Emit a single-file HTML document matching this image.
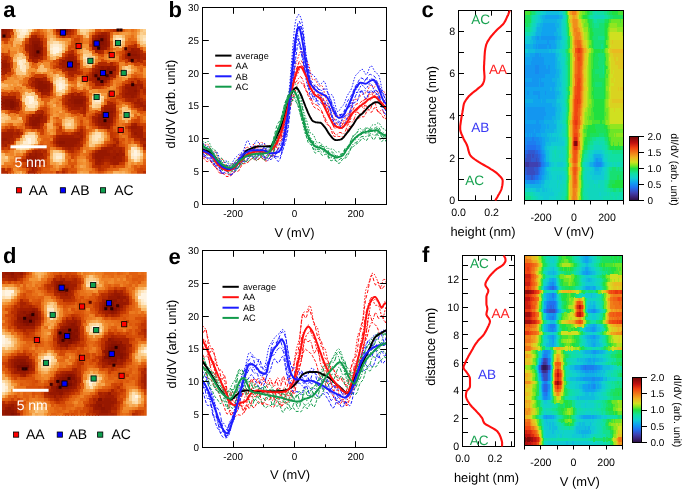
<!DOCTYPE html>
<html><head><meta charset="utf-8"><style>
html,body{margin:0;padding:0;background:#fff;width:685px;height:494px;overflow:hidden}
svg{display:block;will-change:transform;text-rendering:geometricPrecision;font-family:"Liberation Sans", sans-serif}
</style></head><body>
<svg width="685" height="494" viewBox="0 0 685 494">
<defs>
<linearGradient id="cmap" x1="0" y1="1" x2="0" y2="0"><stop offset="0.000" stop-color="#2a1040"/><stop offset="0.050" stop-color="#3a2070"/><stop offset="0.120" stop-color="#4040b0"/><stop offset="0.200" stop-color="#2070f0"/><stop offset="0.275" stop-color="#10a0f0"/><stop offset="0.350" stop-color="#10d0d0"/><stop offset="0.425" stop-color="#10e0a0"/><stop offset="0.500" stop-color="#20e040"/><stop offset="0.550" stop-color="#80e820"/><stop offset="0.600" stop-color="#d0e020"/><stop offset="0.675" stop-color="#f0b020"/><stop offset="0.750" stop-color="#f07818"/><stop offset="0.825" stop-color="#f04010"/><stop offset="0.900" stop-color="#c01010"/><stop offset="1.000" stop-color="#700808"/></linearGradient>
</defs>
<text x="3.20" y="16.50" font-size="22" text-anchor="start" fill="#000" font-weight="bold" >a</text>
<text x="168.40" y="16.50" font-size="22" text-anchor="start" fill="#000" font-weight="bold" >b</text>
<text x="421.50" y="16.50" font-size="22" text-anchor="start" fill="#000" font-weight="bold" >c</text>
<text x="3.00" y="263.10" font-size="22" text-anchor="start" fill="#000" font-weight="bold" >d</text>
<text x="168.60" y="264.20" font-size="22" text-anchor="start" fill="#000" font-weight="bold" >e</text>
<text x="422.00" y="262.00" font-size="22" text-anchor="start" fill="#000" font-weight="bold" >f</text>
<clipPath id="cpa"><rect x="1.2" y="29" width="144.8" height="144.7"/></clipPath>
<clipPath id="cpd"><rect x="1.8" y="271.6" width="144.9" height="144.1"/></clipPath>
<clipPath id="cpc"><rect x="524.5" y="10.5" width="99" height="190"/></clipPath>
<clipPath id="cpf"><rect x="524.5" y="255.5" width="98" height="190"/></clipPath>
<g clip-path="url(#cpa)"><path shape-rendering="crispEdges" fill="#8e1400" d="M1.2 29.0h3.4v3.4h-3.4zM61.5 29.0h6.4v3.4h-6.4zM97.7 35.0h6.4v3.4h-6.4zM94.7 38.0h3.4v3.4h-3.4zM103.8 38.0h3.4v3.4h-3.4zM31.4 41.1h9.5v3.4h-9.5zM94.7 41.1h3.4v3.4h-3.4zM103.8 41.1h3.4v3.4h-3.4zM31.4 44.1h3.4v3.4h-3.4zM37.4 44.1h3.4v3.4h-3.4zM94.7 44.1h3.4v3.4h-3.4zM100.8 44.1h6.4v3.4h-6.4zM31.4 47.1h3.4v3.4h-3.4zM40.4 47.1h3.4v3.4h-3.4zM97.7 47.1h6.4v3.4h-6.4zM31.4 50.1h3.4v3.4h-3.4zM31.4 53.1h3.4v3.4h-3.4zM37.4 53.1h3.4v3.4h-3.4zM130.9 53.1h6.4v3.4h-6.4zM67.6 59.1h3.4v3.4h-3.4zM100.8 65.2h3.4v3.4h-3.4zM106.8 65.2h3.4v3.4h-3.4zM97.7 68.2h9.5v3.4h-9.5zM109.8 68.2h6.4v3.4h-6.4zM94.7 71.2h9.5v3.4h-9.5zM106.8 71.2h6.4v3.4h-6.4zM94.7 74.2h15.5v3.4h-15.5zM97.7 77.2h9.5v3.4h-9.5zM37.4 80.2h6.4v3.4h-6.4zM100.8 80.2h3.4v3.4h-3.4zM37.4 83.3h9.5v3.4h-9.5zM37.4 86.3h9.5v3.4h-9.5zM40.4 89.3h3.4v3.4h-3.4zM133.9 89.3h3.4v3.4h-3.4zM4.2 98.3h9.5v3.4h-9.5zM73.6 98.3h9.5v3.4h-9.5zM1.2 101.3h9.5v3.4h-9.5zM13.3 101.3h3.4v3.4h-3.4zM73.6 101.3h9.5v3.4h-9.5zM4.2 104.4h6.4v3.4h-6.4zM13.3 104.4h3.4v3.4h-3.4zM10.2 107.4h3.4v3.4h-3.4zM103.8 110.4h9.5v3.4h-9.5zM100.8 113.4h9.5v3.4h-9.5zM34.4 116.4h6.4v3.4h-6.4zM97.7 116.4h12.5v3.4h-12.5zM31.4 119.4h9.5v3.4h-9.5zM97.7 119.4h12.5v3.4h-12.5zM31.4 122.5h6.4v3.4h-6.4zM100.8 122.5h6.4v3.4h-6.4zM58.5 140.5h6.4v3.4h-6.4z"/>
<path shape-rendering="crispEdges" fill="#971800" d="M4.2 29.0h3.4v3.4h-3.4zM58.5 29.0h3.4v3.4h-3.4zM1.2 32.0h6.4v3.4h-6.4zM61.5 32.0h3.4v3.4h-3.4zM103.8 35.0h3.4v3.4h-3.4zM31.4 38.0h9.5v3.4h-9.5zM91.7 41.1h3.4v3.4h-3.4zM28.4 44.1h3.4v3.4h-3.4zM40.4 44.1h3.4v3.4h-3.4zM28.4 47.1h3.4v3.4h-3.4zM94.7 47.1h3.4v3.4h-3.4zM103.8 47.1h3.4v3.4h-3.4zM130.9 47.1h3.4v3.4h-3.4zM28.4 50.1h3.4v3.4h-3.4zM40.4 50.1h3.4v3.4h-3.4zM127.9 50.1h9.5v3.4h-9.5zM28.4 53.1h3.4v3.4h-3.4zM40.4 53.1h3.4v3.4h-3.4zM127.9 53.1h3.4v3.4h-3.4zM137.0 53.1h3.4v3.4h-3.4zM31.4 56.1h9.5v3.4h-9.5zM67.6 56.1h6.4v3.4h-6.4zM127.9 56.1h12.5v3.4h-12.5zM61.5 59.1h3.4v3.4h-3.4zM70.6 59.1h6.4v3.4h-6.4zM1.2 62.2h6.4v3.4h-6.4zM67.6 62.2h9.5v3.4h-9.5zM1.2 65.2h6.4v3.4h-6.4zM67.6 65.2h9.5v3.4h-9.5zM97.7 65.2h3.4v3.4h-3.4zM103.8 65.2h3.4v3.4h-3.4zM109.8 65.2h6.4v3.4h-6.4zM67.6 68.2h6.4v3.4h-6.4zM94.7 68.2h3.4v3.4h-3.4zM91.7 71.2h3.4v3.4h-3.4zM91.7 74.2h3.4v3.4h-3.4zM109.8 74.2h3.4v3.4h-3.4zM34.4 77.2h6.4v3.4h-6.4zM94.7 77.2h3.4v3.4h-3.4zM106.8 77.2h3.4v3.4h-3.4zM34.4 80.2h3.4v3.4h-3.4zM43.4 80.2h3.4v3.4h-3.4zM94.7 80.2h6.4v3.4h-6.4zM103.8 80.2h3.4v3.4h-3.4zM34.4 83.3h3.4v3.4h-3.4zM46.5 83.3h3.4v3.4h-3.4zM100.8 83.3h3.4v3.4h-3.4zM130.9 83.3h6.4v3.4h-6.4zM34.4 86.3h3.4v3.4h-3.4zM46.5 86.3h3.4v3.4h-3.4zM124.9 86.3h12.5v3.4h-12.5zM37.4 89.3h3.4v3.4h-3.4zM43.4 89.3h6.4v3.4h-6.4zM127.9 89.3h6.4v3.4h-6.4zM124.9 92.3h12.5v3.4h-12.5zM70.6 95.3h12.5v3.4h-12.5zM130.9 95.3h3.4v3.4h-3.4zM1.2 98.3h3.4v3.4h-3.4zM13.3 98.3h3.4v3.4h-3.4zM67.6 98.3h6.4v3.4h-6.4zM82.7 98.3h3.4v3.4h-3.4zM16.3 101.3h3.4v3.4h-3.4zM70.6 101.3h3.4v3.4h-3.4zM1.2 104.4h3.4v3.4h-3.4zM16.3 104.4h3.4v3.4h-3.4zM73.6 104.4h9.5v3.4h-9.5zM4.2 107.4h6.4v3.4h-6.4zM13.3 107.4h3.4v3.4h-3.4zM103.8 107.4h9.5v3.4h-9.5zM31.4 113.4h3.4v3.4h-3.4zM37.4 113.4h6.4v3.4h-6.4zM97.7 113.4h3.4v3.4h-3.4zM109.8 113.4h3.4v3.4h-3.4zM28.4 116.4h6.4v3.4h-6.4zM40.4 116.4h3.4v3.4h-3.4zM109.8 116.4h3.4v3.4h-3.4zM28.4 119.4h3.4v3.4h-3.4zM109.8 119.4h3.4v3.4h-3.4zM28.4 122.5h3.4v3.4h-3.4zM37.4 122.5h3.4v3.4h-3.4zM97.7 122.5h3.4v3.4h-3.4zM106.8 122.5h3.4v3.4h-3.4zM106.8 125.5h3.4v3.4h-3.4zM130.9 125.5h6.4v3.4h-6.4zM133.9 131.5h3.4v3.4h-3.4zM1.2 137.5h6.4v3.4h-6.4zM58.5 137.5h21.5v3.4h-21.5zM55.5 140.5h3.4v3.4h-3.4zM64.6 140.5h12.5v3.4h-12.5zM58.5 143.6h15.5v3.4h-15.5zM97.7 149.6h9.5v3.4h-9.5zM28.4 152.6h3.4v3.4h-3.4zM34.4 152.6h3.4v3.4h-3.4zM94.7 152.6h15.5v3.4h-15.5zM115.8 152.6h3.4v3.4h-3.4zM28.4 155.6h9.5v3.4h-9.5zM94.7 155.6h9.5v3.4h-9.5zM112.8 155.6h3.4v3.4h-3.4zM34.4 158.6h3.4v3.4h-3.4zM97.7 158.6h3.4v3.4h-3.4z"/>
<path shape-rendering="crispEdges" fill="#a01c00" d="M7.2 29.0h3.4v3.4h-3.4zM55.5 29.0h3.4v3.4h-3.4zM67.6 29.0h3.4v3.4h-3.4zM58.5 32.0h3.4v3.4h-3.4zM64.6 32.0h3.4v3.4h-3.4zM100.8 32.0h6.4v3.4h-6.4zM1.2 35.0h6.4v3.4h-6.4zM34.4 35.0h3.4v3.4h-3.4zM94.7 35.0h3.4v3.4h-3.4zM28.4 38.0h3.4v3.4h-3.4zM91.7 38.0h3.4v3.4h-3.4zM28.4 41.1h3.4v3.4h-3.4zM40.4 41.1h3.4v3.4h-3.4zM106.8 41.1h3.4v3.4h-3.4zM91.7 44.1h3.4v3.4h-3.4zM106.8 44.1h3.4v3.4h-3.4zM91.7 47.1h3.4v3.4h-3.4zM133.9 47.1h6.4v3.4h-6.4zM94.7 50.1h3.4v3.4h-3.4zM137.0 50.1h3.4v3.4h-3.4zM67.6 53.1h6.4v3.4h-6.4zM124.9 53.1h3.4v3.4h-3.4zM28.4 56.1h3.4v3.4h-3.4zM64.6 56.1h3.4v3.4h-3.4zM124.9 56.1h3.4v3.4h-3.4zM1.2 59.1h6.4v3.4h-6.4zM31.4 59.1h3.4v3.4h-3.4zM64.6 59.1h3.4v3.4h-3.4zM127.9 59.1h3.4v3.4h-3.4zM137.0 59.1h3.4v3.4h-3.4zM7.2 62.2h3.4v3.4h-3.4zM58.5 62.2h9.5v3.4h-9.5zM76.6 62.2h3.4v3.4h-3.4zM7.2 65.2h3.4v3.4h-3.4zM61.5 65.2h6.4v3.4h-6.4zM1.2 68.2h6.4v3.4h-6.4zM64.6 68.2h3.4v3.4h-3.4zM73.6 68.2h3.4v3.4h-3.4zM4.2 71.2h3.4v3.4h-3.4zM40.4 77.2h3.4v3.4h-3.4zM91.7 77.2h3.4v3.4h-3.4zM31.4 80.2h3.4v3.4h-3.4zM46.5 80.2h3.4v3.4h-3.4zM130.9 80.2h3.4v3.4h-3.4zM94.7 83.3h6.4v3.4h-6.4zM124.9 83.3h6.4v3.4h-6.4zM137.0 83.3h6.4v3.4h-6.4zM140.0 86.3h3.4v3.4h-3.4zM124.9 89.3h3.4v3.4h-3.4zM137.0 89.3h3.4v3.4h-3.4zM40.4 92.3h6.4v3.4h-6.4zM70.6 92.3h3.4v3.4h-3.4zM76.6 92.3h3.4v3.4h-3.4zM1.2 95.3h15.5v3.4h-15.5zM82.7 95.3h3.4v3.4h-3.4zM124.9 95.3h6.4v3.4h-6.4zM133.9 95.3h3.4v3.4h-3.4zM137.0 98.3h3.4v3.4h-3.4zM67.6 101.3h3.4v3.4h-3.4zM82.7 101.3h3.4v3.4h-3.4zM133.9 101.3h9.5v3.4h-9.5zM67.6 104.4h6.4v3.4h-6.4zM82.7 104.4h3.4v3.4h-3.4zM103.8 104.4h9.5v3.4h-9.5zM140.0 104.4h6.4v3.4h-6.4zM1.2 107.4h3.4v3.4h-3.4zM70.6 107.4h9.5v3.4h-9.5zM82.7 107.4h3.4v3.4h-3.4zM112.8 107.4h3.4v3.4h-3.4zM100.8 110.4h3.4v3.4h-3.4zM112.8 110.4h3.4v3.4h-3.4zM34.4 113.4h3.4v3.4h-3.4zM94.7 116.4h3.4v3.4h-3.4zM40.4 119.4h3.4v3.4h-3.4zM94.7 119.4h3.4v3.4h-3.4zM133.9 122.5h3.4v3.4h-3.4zM31.4 125.5h9.5v3.4h-9.5zM103.8 125.5h3.4v3.4h-3.4zM137.0 125.5h3.4v3.4h-3.4zM130.9 128.5h12.5v3.4h-12.5zM1.2 131.5h12.5v3.4h-12.5zM16.3 131.5h3.4v3.4h-3.4zM76.6 131.5h3.4v3.4h-3.4zM137.0 131.5h6.4v3.4h-6.4zM1.2 134.5h12.5v3.4h-12.5zM58.5 134.5h15.5v3.4h-15.5zM79.6 134.5h3.4v3.4h-3.4zM137.0 134.5h6.4v3.4h-6.4zM7.2 137.5h3.4v3.4h-3.4zM55.5 137.5h3.4v3.4h-3.4zM143.0 137.5h3.4v3.4h-3.4zM1.2 140.5h3.4v3.4h-3.4zM7.2 140.5h3.4v3.4h-3.4zM76.6 140.5h3.4v3.4h-3.4zM4.2 143.6h3.4v3.4h-3.4zM73.6 143.6h3.4v3.4h-3.4zM112.8 143.6h3.4v3.4h-3.4zM143.0 143.6h3.4v3.4h-3.4zM67.6 146.6h3.4v3.4h-3.4zM103.8 146.6h9.5v3.4h-9.5zM34.4 149.6h3.4v3.4h-3.4zM106.8 149.6h3.4v3.4h-3.4zM112.8 149.6h3.4v3.4h-3.4zM118.9 149.6h3.4v3.4h-3.4zM31.4 152.6h3.4v3.4h-3.4zM37.4 152.6h6.4v3.4h-6.4zM109.8 152.6h6.4v3.4h-6.4zM118.9 152.6h6.4v3.4h-6.4zM25.3 155.6h3.4v3.4h-3.4zM37.4 155.6h3.4v3.4h-3.4zM103.8 155.6h9.5v3.4h-9.5zM115.8 155.6h6.4v3.4h-6.4zM25.3 158.6h9.5v3.4h-9.5zM37.4 158.6h3.4v3.4h-3.4zM94.7 158.6h3.4v3.4h-3.4zM100.8 158.6h3.4v3.4h-3.4zM109.8 158.6h12.5v3.4h-12.5zM31.4 161.6h6.4v3.4h-6.4zM94.7 161.6h6.4v3.4h-6.4zM112.8 161.6h6.4v3.4h-6.4zM31.4 164.7h6.4v3.4h-6.4zM31.4 167.7h3.4v3.4h-3.4z"/>
<path shape-rendering="crispEdges" fill="#b82e00" d="M10.2 29.0h3.4v3.4h-3.4zM70.6 29.0h3.4v3.4h-3.4zM112.8 29.0h3.4v3.4h-3.4zM61.5 35.0h3.4v3.4h-3.4zM40.4 38.0h3.4v3.4h-3.4zM130.9 44.1h3.4v3.4h-3.4zM106.8 47.1h3.4v3.4h-3.4zM25.3 50.1h3.4v3.4h-3.4zM67.6 50.1h3.4v3.4h-3.4zM64.6 53.1h3.4v3.4h-3.4zM1.2 56.1h3.4v3.4h-3.4zM61.5 56.1h3.4v3.4h-3.4zM7.2 59.1h3.4v3.4h-3.4zM106.8 62.2h3.4v3.4h-3.4zM55.5 65.2h3.4v3.4h-3.4zM88.7 71.2h3.4v3.4h-3.4zM67.6 74.2h3.4v3.4h-3.4zM28.4 77.2h3.4v3.4h-3.4zM109.8 77.2h3.4v3.4h-3.4zM133.9 77.2h3.4v3.4h-3.4zM106.8 80.2h3.4v3.4h-3.4zM140.0 80.2h3.4v3.4h-3.4zM28.4 83.3h3.4v3.4h-3.4zM7.2 92.3h3.4v3.4h-3.4zM67.6 92.3h3.4v3.4h-3.4zM118.9 92.3h3.4v3.4h-3.4zM143.0 92.3h3.4v3.4h-3.4zM40.4 95.3h3.4v3.4h-3.4zM130.9 101.3h3.4v3.4h-3.4zM19.3 104.4h3.4v3.4h-3.4zM13.3 110.4h3.4v3.4h-3.4zM34.4 110.4h3.4v3.4h-3.4zM76.6 110.4h3.4v3.4h-3.4zM28.4 113.4h3.4v3.4h-3.4zM43.4 113.4h3.4v3.4h-3.4zM112.8 116.4h3.4v3.4h-3.4zM25.3 119.4h3.4v3.4h-3.4zM28.4 125.5h3.4v3.4h-3.4zM40.4 125.5h3.4v3.4h-3.4zM61.5 131.5h3.4v3.4h-3.4zM70.6 131.5h3.4v3.4h-3.4zM143.0 131.5h3.4v3.4h-3.4zM143.0 134.5h3.4v3.4h-3.4zM13.3 137.5h3.4v3.4h-3.4zM52.5 137.5h3.4v3.4h-3.4zM115.8 137.5h3.4v3.4h-3.4zM133.9 137.5h6.4v3.4h-6.4zM79.6 140.5h3.4v3.4h-3.4zM106.8 143.6h3.4v3.4h-3.4zM115.8 143.6h3.4v3.4h-3.4zM37.4 146.6h3.4v3.4h-3.4zM61.5 146.6h3.4v3.4h-3.4zM73.6 146.6h3.4v3.4h-3.4zM121.9 146.6h3.4v3.4h-3.4zM143.0 146.6h3.4v3.4h-3.4zM40.4 149.6h3.4v3.4h-3.4zM67.6 149.6h3.4v3.4h-3.4zM25.3 152.6h3.4v3.4h-3.4zM43.4 152.6h3.4v3.4h-3.4zM43.4 155.6h3.4v3.4h-3.4zM40.4 158.6h3.4v3.4h-3.4zM25.3 161.6h3.4v3.4h-3.4zM106.8 161.6h3.4v3.4h-3.4zM94.7 164.7h3.4v3.4h-3.4zM28.4 167.7h3.4v3.4h-3.4zM97.7 167.7h3.4v3.4h-3.4zM34.4 170.7h3.4v3.4h-3.4zM55.5 170.7h3.4v3.4h-3.4zM143.0 170.7h3.4v3.4h-3.4z"/>
<path shape-rendering="crispEdges" fill="#f6a64e" d="M13.3 29.0h3.4v3.4h-3.4zM31.4 29.0h3.4v3.4h-3.4zM76.6 29.0h3.4v3.4h-3.4zM91.7 29.0h3.4v3.4h-3.4zM28.4 32.0h3.4v3.4h-3.4zM49.5 32.0h3.4v3.4h-3.4zM46.5 35.0h3.4v3.4h-3.4zM82.7 35.0h3.4v3.4h-3.4zM22.3 38.0h3.4v3.4h-3.4zM46.5 38.0h3.4v3.4h-3.4zM137.0 41.1h3.4v3.4h-3.4zM64.6 44.1h3.4v3.4h-3.4zM121.9 44.1h3.4v3.4h-3.4zM140.0 44.1h3.4v3.4h-3.4zM16.3 50.1h3.4v3.4h-3.4zM79.6 50.1h3.4v3.4h-3.4zM88.7 50.1h3.4v3.4h-3.4zM13.3 53.1h3.4v3.4h-3.4zM22.3 53.1h3.4v3.4h-3.4zM46.5 53.1h3.4v3.4h-3.4zM40.4 62.2h3.4v3.4h-3.4zM37.4 65.2h3.4v3.4h-3.4zM25.3 71.2h3.4v3.4h-3.4zM40.4 71.2h3.4v3.4h-3.4zM49.5 71.2h3.4v3.4h-3.4zM58.5 74.2h3.4v3.4h-3.4zM118.9 74.2h3.4v3.4h-3.4zM64.6 77.2h3.4v3.4h-3.4zM76.6 80.2h3.4v3.4h-3.4zM16.3 83.3h3.4v3.4h-3.4zM67.6 83.3h3.4v3.4h-3.4zM1.2 86.3h3.4v3.4h-3.4zM61.5 92.3h3.4v3.4h-3.4zM37.4 104.4h3.4v3.4h-3.4zM88.7 104.4h3.4v3.4h-3.4zM124.9 104.4h3.4v3.4h-3.4zM91.7 107.4h6.4v3.4h-6.4zM118.9 107.4h3.4v3.4h-3.4zM127.9 107.4h3.4v3.4h-3.4zM58.5 110.4h3.4v3.4h-3.4zM118.9 113.4h3.4v3.4h-3.4zM16.3 116.4h3.4v3.4h-3.4zM70.6 116.4h3.4v3.4h-3.4zM7.2 119.4h12.5v3.4h-12.5zM49.5 119.4h3.4v3.4h-3.4zM46.5 125.5h3.4v3.4h-3.4zM34.4 131.5h3.4v3.4h-3.4zM103.8 134.5h3.4v3.4h-3.4zM130.9 143.6h3.4v3.4h-3.4zM28.4 146.6h3.4v3.4h-3.4zM13.3 149.6h3.4v3.4h-3.4zM49.5 149.6h3.4v3.4h-3.4zM49.5 158.6h3.4v3.4h-3.4zM140.0 158.6h3.4v3.4h-3.4zM79.6 164.7h3.4v3.4h-3.4zM79.6 170.7h3.4v3.4h-3.4zM118.9 170.7h3.4v3.4h-3.4z"/>
<path shape-rendering="crispEdges" fill="#fddfaf" d="M16.3 29.0h3.4v3.4h-3.4zM25.3 32.0h3.4v3.4h-3.4zM16.3 35.0h3.4v3.4h-3.4zM22.3 35.0h3.4v3.4h-3.4zM143.0 35.0h3.4v3.4h-3.4zM52.5 41.1h6.4v3.4h-6.4zM118.9 41.1h3.4v3.4h-3.4zM58.5 50.1h3.4v3.4h-3.4zM52.5 53.1h3.4v3.4h-3.4zM82.7 56.1h3.4v3.4h-3.4zM88.7 56.1h3.4v3.4h-3.4zM16.3 59.1h3.4v3.4h-3.4zM16.3 62.2h3.4v3.4h-3.4zM22.3 62.2h3.4v3.4h-3.4zM19.3 68.2h3.4v3.4h-3.4zM124.9 68.2h3.4v3.4h-3.4zM64.6 83.3h3.4v3.4h-3.4zM55.5 89.3h6.4v3.4h-6.4zM91.7 95.3h3.4v3.4h-3.4zM91.7 98.3h3.4v3.4h-3.4zM91.7 101.3h9.5v3.4h-9.5zM67.6 122.5h3.4v3.4h-3.4zM94.7 131.5h6.4v3.4h-6.4zM91.7 134.5h3.4v3.4h-3.4zM91.7 137.5h3.4v3.4h-3.4zM19.3 143.6h3.4v3.4h-3.4zM28.4 143.6h3.4v3.4h-3.4zM19.3 146.6h3.4v3.4h-3.4zM133.9 146.6h3.4v3.4h-3.4zM52.5 152.6h3.4v3.4h-3.4zM52.5 155.6h3.4v3.4h-3.4zM137.0 155.6h3.4v3.4h-3.4zM55.5 158.6h3.4v3.4h-3.4zM133.9 158.6h3.4v3.4h-3.4z"/>
<path shape-rendering="crispEdges" fill="#feedd1" d="M19.3 29.0h3.4v3.4h-3.4zM25.3 29.0h3.4v3.4h-3.4zM19.3 32.0h6.4v3.4h-6.4zM118.9 38.0h3.4v3.4h-3.4zM52.5 44.1h6.4v3.4h-6.4zM49.5 47.1h3.4v3.4h-3.4zM58.5 47.1h3.4v3.4h-3.4zM85.7 56.1h3.4v3.4h-3.4zM19.3 59.1h3.4v3.4h-3.4zM19.3 62.2h3.4v3.4h-3.4zM19.3 65.2h3.4v3.4h-3.4zM58.5 80.2h3.4v3.4h-3.4zM55.5 83.3h3.4v3.4h-3.4zM61.5 83.3h3.4v3.4h-3.4zM61.5 86.3h3.4v3.4h-3.4zM25.3 95.3h3.4v3.4h-3.4zM31.4 95.3h3.4v3.4h-3.4zM94.7 98.3h6.4v3.4h-6.4zM31.4 101.3h3.4v3.4h-3.4zM25.3 137.5h3.4v3.4h-3.4zM22.3 140.5h6.4v3.4h-6.4zM130.9 152.6h3.4v3.4h-3.4zM137.0 152.6h3.4v3.4h-3.4zM55.5 155.6h6.4v3.4h-6.4zM133.9 155.6h3.4v3.4h-3.4z"/>
<path shape-rendering="crispEdges" fill="#fff4e2" d="M22.3 29.0h3.4v3.4h-3.4zM52.5 47.1h6.4v3.4h-6.4zM52.5 50.1h6.4v3.4h-6.4zM58.5 83.3h3.4v3.4h-3.4zM58.5 86.3h3.4v3.4h-3.4zM28.4 95.3h3.4v3.4h-3.4zM28.4 98.3h6.4v3.4h-6.4zM28.4 101.3h3.4v3.4h-3.4zM28.4 137.5h3.4v3.4h-3.4zM28.4 140.5h3.4v3.4h-3.4zM133.9 149.6h3.4v3.4h-3.4zM133.9 152.6h3.4v3.4h-3.4z"/>
<path shape-rendering="crispEdges" fill="#fcd89e" d="M28.4 29.0h3.4v3.4h-3.4zM79.6 29.0h6.4v3.4h-6.4zM16.3 32.0h3.4v3.4h-3.4zM115.8 35.0h3.4v3.4h-3.4zM140.0 35.0h3.4v3.4h-3.4zM112.8 38.0h3.4v3.4h-3.4zM140.0 38.0h3.4v3.4h-3.4zM143.0 41.1h3.4v3.4h-3.4zM55.5 53.1h3.4v3.4h-3.4zM82.7 53.1h3.4v3.4h-3.4zM16.3 56.1h6.4v3.4h-6.4zM85.7 62.2h3.4v3.4h-3.4zM127.9 68.2h3.4v3.4h-3.4zM121.9 71.2h6.4v3.4h-6.4zM55.5 77.2h3.4v3.4h-3.4zM61.5 89.3h3.4v3.4h-3.4zM28.4 92.3h3.4v3.4h-3.4zM100.8 95.3h3.4v3.4h-3.4zM34.4 98.3h3.4v3.4h-3.4zM25.3 104.4h3.4v3.4h-3.4zM91.7 104.4h3.4v3.4h-3.4zM124.9 110.4h3.4v3.4h-3.4zM124.9 113.4h3.4v3.4h-3.4zM64.6 122.5h3.4v3.4h-3.4zM22.3 137.5h3.4v3.4h-3.4zM34.4 137.5h3.4v3.4h-3.4zM97.7 137.5h3.4v3.4h-3.4zM91.7 140.5h6.4v3.4h-6.4zM22.3 146.6h3.4v3.4h-3.4zM140.0 152.6h3.4v3.4h-3.4zM52.5 158.6h3.4v3.4h-3.4zM58.5 158.6h3.4v3.4h-3.4z"/>
<path shape-rendering="crispEdges" fill="#eb791f" d="M34.4 29.0h3.4v3.4h-3.4zM124.9 29.0h3.4v3.4h-3.4zM43.4 32.0h3.4v3.4h-3.4zM133.9 38.0h3.4v3.4h-3.4zM7.2 41.1h3.4v3.4h-3.4zM82.7 41.1h6.4v3.4h-6.4zM10.2 44.1h3.4v3.4h-3.4zM1.2 47.1h3.4v3.4h-3.4zM7.2 47.1h3.4v3.4h-3.4zM1.2 50.1h3.4v3.4h-3.4zM103.8 53.1h3.4v3.4h-3.4zM49.5 59.1h3.4v3.4h-3.4zM97.7 59.1h3.4v3.4h-3.4zM109.8 59.1h3.4v3.4h-3.4zM115.8 59.1h3.4v3.4h-3.4zM52.5 68.2h3.4v3.4h-3.4zM137.0 68.2h3.4v3.4h-3.4zM13.3 71.2h3.4v3.4h-3.4zM137.0 71.2h6.4v3.4h-6.4zM10.2 74.2h3.4v3.4h-3.4zM115.8 77.2h3.4v3.4h-3.4zM1.2 80.2h3.4v3.4h-3.4zM67.6 80.2h3.4v3.4h-3.4zM115.8 80.2h6.4v3.4h-6.4zM73.6 83.3h3.4v3.4h-3.4zM85.7 83.3h3.4v3.4h-3.4zM82.7 86.3h3.4v3.4h-3.4zM1.2 89.3h3.4v3.4h-3.4zM52.5 92.3h3.4v3.4h-3.4zM118.9 104.4h3.4v3.4h-3.4zM22.3 110.4h3.4v3.4h-3.4zM7.2 113.4h3.4v3.4h-3.4zM49.5 113.4h3.4v3.4h-3.4zM130.9 116.4h3.4v3.4h-3.4zM85.7 119.4h3.4v3.4h-3.4zM127.9 119.4h3.4v3.4h-3.4zM19.3 122.5h3.4v3.4h-3.4zM118.9 122.5h3.4v3.4h-3.4zM121.9 125.5h3.4v3.4h-3.4zM25.3 128.5h6.4v3.4h-6.4zM67.6 128.5h3.4v3.4h-3.4zM37.4 131.5h3.4v3.4h-3.4zM118.9 131.5h3.4v3.4h-3.4zM37.4 134.5h3.4v3.4h-3.4zM85.7 134.5h3.4v3.4h-3.4zM106.8 134.5h3.4v3.4h-3.4zM121.9 134.5h3.4v3.4h-3.4zM49.5 137.5h3.4v3.4h-3.4zM106.8 137.5h3.4v3.4h-3.4zM130.9 140.5h3.4v3.4h-3.4zM13.3 143.6h3.4v3.4h-3.4zM13.3 146.6h3.4v3.4h-3.4zM52.5 146.6h3.4v3.4h-3.4zM82.7 146.6h6.4v3.4h-6.4zM79.6 152.6h3.4v3.4h-3.4zM13.3 155.6h3.4v3.4h-3.4zM64.6 155.6h3.4v3.4h-3.4zM76.6 155.6h3.4v3.4h-3.4zM13.3 158.6h3.4v3.4h-3.4zM70.6 158.6h3.4v3.4h-3.4zM85.7 158.6h3.4v3.4h-3.4zM10.2 161.6h3.4v3.4h-3.4zM124.9 161.6h3.4v3.4h-3.4zM4.2 164.7h3.4v3.4h-3.4zM13.3 164.7h6.4v3.4h-6.4zM61.5 164.7h3.4v3.4h-3.4zM16.3 167.7h3.4v3.4h-3.4zM49.5 167.7h6.4v3.4h-6.4zM130.9 167.7h3.4v3.4h-3.4z"/>
<path shape-rendering="crispEdges" fill="#dc580c" d="M37.4 29.0h3.4v3.4h-3.4zM52.5 29.0h3.4v3.4h-3.4zM94.7 29.0h3.4v3.4h-3.4zM28.4 35.0h3.4v3.4h-3.4zM88.7 38.0h3.4v3.4h-3.4zM67.6 44.1h3.4v3.4h-3.4zM73.6 44.1h3.4v3.4h-3.4zM124.9 44.1h3.4v3.4h-3.4zM22.3 47.1h3.4v3.4h-3.4zM70.6 47.1h3.4v3.4h-3.4zM109.8 47.1h3.4v3.4h-3.4zM140.0 47.1h3.4v3.4h-3.4zM103.8 50.1h3.4v3.4h-3.4zM76.6 53.1h3.4v3.4h-3.4zM118.9 53.1h3.4v3.4h-3.4zM10.2 56.1h3.4v3.4h-3.4zM58.5 56.1h3.4v3.4h-3.4zM40.4 59.1h3.4v3.4h-3.4zM121.9 59.1h3.4v3.4h-3.4zM52.5 62.2h3.4v3.4h-3.4zM94.7 62.2h3.4v3.4h-3.4zM58.5 68.2h3.4v3.4h-3.4zM61.5 71.2h3.4v3.4h-3.4zM31.4 74.2h3.4v3.4h-3.4zM76.6 74.2h3.4v3.4h-3.4zM82.7 74.2h3.4v3.4h-3.4zM73.6 77.2h3.4v3.4h-3.4zM112.8 77.2h3.4v3.4h-3.4zM143.0 77.2h3.4v3.4h-3.4zM109.8 80.2h3.4v3.4h-3.4zM121.9 80.2h3.4v3.4h-3.4zM70.6 86.3h3.4v3.4h-3.4zM115.8 86.3h3.4v3.4h-3.4zM10.2 89.3h3.4v3.4h-3.4zM76.6 89.3h9.5v3.4h-9.5zM19.3 95.3h3.4v3.4h-3.4zM37.4 95.3h3.4v3.4h-3.4zM40.4 98.3h3.4v3.4h-3.4zM43.4 104.4h3.4v3.4h-3.4zM100.8 104.4h3.4v3.4h-3.4zM46.5 107.4h3.4v3.4h-3.4zM133.9 107.4h3.4v3.4h-3.4zM137.0 110.4h3.4v3.4h-3.4zM143.0 110.4h3.4v3.4h-3.4zM73.6 113.4h3.4v3.4h-3.4zM88.7 113.4h3.4v3.4h-3.4zM55.5 116.4h3.4v3.4h-3.4zM22.3 119.4h3.4v3.4h-3.4zM58.5 122.5h3.4v3.4h-3.4zM124.9 122.5h3.4v3.4h-3.4zM7.2 125.5h3.4v3.4h-3.4zM43.4 125.5h3.4v3.4h-3.4zM61.5 128.5h3.4v3.4h-3.4zM85.7 128.5h3.4v3.4h-3.4zM118.9 128.5h3.4v3.4h-3.4zM124.9 128.5h3.4v3.4h-3.4zM19.3 134.5h3.4v3.4h-3.4zM118.9 137.5h3.4v3.4h-3.4zM127.9 137.5h3.4v3.4h-3.4zM37.4 143.6h3.4v3.4h-3.4zM49.5 143.6h3.4v3.4h-3.4zM46.5 146.6h3.4v3.4h-3.4zM55.5 146.6h3.4v3.4h-3.4zM79.6 146.6h3.4v3.4h-3.4zM25.3 149.6h3.4v3.4h-3.4zM22.3 152.6h3.4v3.4h-3.4zM67.6 152.6h3.4v3.4h-3.4zM76.6 152.6h3.4v3.4h-3.4zM19.3 155.6h3.4v3.4h-3.4zM73.6 155.6h3.4v3.4h-3.4zM85.7 155.6h3.4v3.4h-3.4zM67.6 158.6h3.4v3.4h-3.4zM67.6 161.6h9.5v3.4h-9.5zM46.5 164.7h3.4v3.4h-3.4zM133.9 164.7h3.4v3.4h-3.4zM10.2 167.7h3.4v3.4h-3.4zM70.6 167.7h6.4v3.4h-6.4zM106.8 167.7h3.4v3.4h-3.4zM133.9 167.7h3.4v3.4h-3.4zM40.4 170.7h6.4v3.4h-6.4zM49.5 170.7h3.4v3.4h-3.4zM67.6 170.7h3.4v3.4h-3.4z"/>
<path shape-rendering="crispEdges" fill="#e87018" d="M40.4 29.0h3.4v3.4h-3.4zM130.9 29.0h3.4v3.4h-3.4zM43.4 35.0h3.4v3.4h-3.4zM130.9 35.0h3.4v3.4h-3.4zM130.9 38.0h3.4v3.4h-3.4zM1.2 41.1h3.4v3.4h-3.4zM10.2 41.1h3.4v3.4h-3.4zM19.3 44.1h3.4v3.4h-3.4zM76.6 47.1h3.4v3.4h-3.4zM112.8 47.1h3.4v3.4h-3.4zM94.7 53.1h3.4v3.4h-3.4zM115.8 53.1h3.4v3.4h-3.4zM100.8 56.1h3.4v3.4h-3.4zM43.4 59.1h6.4v3.4h-6.4zM79.6 59.1h3.4v3.4h-3.4zM112.8 59.1h3.4v3.4h-3.4zM79.6 62.2h3.4v3.4h-3.4zM127.9 62.2h3.4v3.4h-3.4zM143.0 65.2h3.4v3.4h-3.4zM52.5 71.2h3.4v3.4h-3.4zM28.4 74.2h3.4v3.4h-3.4zM22.3 77.2h3.4v3.4h-3.4zM22.3 80.2h3.4v3.4h-3.4zM85.7 80.2h3.4v3.4h-3.4zM115.8 83.3h3.4v3.4h-3.4zM13.3 86.3h3.4v3.4h-3.4zM19.3 86.3h3.4v3.4h-3.4zM25.3 86.3h3.4v3.4h-3.4zM73.6 86.3h3.4v3.4h-3.4zM4.2 89.3h6.4v3.4h-6.4zM13.3 89.3h3.4v3.4h-3.4zM67.6 89.3h3.4v3.4h-3.4zM19.3 92.3h3.4v3.4h-3.4zM34.4 92.3h3.4v3.4h-3.4zM64.6 92.3h3.4v3.4h-3.4zM88.7 92.3h3.4v3.4h-3.4zM52.5 95.3h3.4v3.4h-3.4zM19.3 98.3h3.4v3.4h-3.4zM55.5 101.3h3.4v3.4h-3.4zM88.7 101.3h3.4v3.4h-3.4zM40.4 104.4h3.4v3.4h-3.4zM46.5 104.4h3.4v3.4h-3.4zM115.8 104.4h3.4v3.4h-3.4zM127.9 104.4h3.4v3.4h-3.4zM37.4 107.4h3.4v3.4h-3.4zM28.4 110.4h6.4v3.4h-6.4zM91.7 110.4h3.4v3.4h-3.4zM13.3 113.4h3.4v3.4h-3.4zM140.0 113.4h3.4v3.4h-3.4zM52.5 116.4h3.4v3.4h-3.4zM82.7 116.4h3.4v3.4h-3.4zM133.9 116.4h3.4v3.4h-3.4zM46.5 119.4h3.4v3.4h-3.4zM76.6 119.4h3.4v3.4h-3.4zM82.7 119.4h3.4v3.4h-3.4zM143.0 119.4h3.4v3.4h-3.4zM43.4 122.5h3.4v3.4h-3.4zM76.6 122.5h3.4v3.4h-3.4zM85.7 122.5h3.4v3.4h-3.4zM16.3 125.5h3.4v3.4h-3.4zM22.3 125.5h3.4v3.4h-3.4zM118.9 125.5h3.4v3.4h-3.4zM34.4 128.5h3.4v3.4h-3.4zM121.9 128.5h3.4v3.4h-3.4zM22.3 131.5h3.4v3.4h-3.4zM46.5 134.5h3.4v3.4h-3.4zM124.9 134.5h3.4v3.4h-3.4zM40.4 137.5h3.4v3.4h-3.4zM85.7 137.5h3.4v3.4h-3.4zM124.9 137.5h3.4v3.4h-3.4zM124.9 140.5h3.4v3.4h-3.4zM137.0 143.6h3.4v3.4h-3.4zM31.4 146.6h3.4v3.4h-3.4zM1.2 149.6h3.4v3.4h-3.4zM7.2 149.6h3.4v3.4h-3.4zM85.7 149.6h3.4v3.4h-3.4zM124.9 149.6h3.4v3.4h-3.4zM82.7 152.6h3.4v3.4h-3.4zM124.9 152.6h3.4v3.4h-3.4zM67.6 155.6h3.4v3.4h-3.4zM1.2 164.7h3.4v3.4h-3.4zM10.2 164.7h3.4v3.4h-3.4zM73.6 164.7h3.4v3.4h-3.4zM130.9 164.7h3.4v3.4h-3.4zM19.3 167.7h3.4v3.4h-3.4zM91.7 170.7h3.4v3.4h-3.4z"/>
<path shape-rendering="crispEdges" fill="#f08b2d" d="M43.4 29.0h3.4v3.4h-3.4zM112.8 32.0h3.4v3.4h-3.4zM133.9 32.0h3.4v3.4h-3.4zM124.9 35.0h3.4v3.4h-3.4zM133.9 35.0h3.4v3.4h-3.4zM61.5 38.0h6.4v3.4h-6.4zM124.9 38.0h3.4v3.4h-3.4zM1.2 44.1h3.4v3.4h-3.4zM7.2 44.1h3.4v3.4h-3.4zM85.7 47.1h3.4v3.4h-3.4zM19.3 50.1h3.4v3.4h-3.4zM76.6 50.1h3.4v3.4h-3.4zM112.8 50.1h3.4v3.4h-3.4zM79.6 53.1h3.4v3.4h-3.4zM91.7 53.1h3.4v3.4h-3.4zM106.8 53.1h3.4v3.4h-3.4zM112.8 53.1h3.4v3.4h-3.4zM43.4 62.2h6.4v3.4h-6.4zM43.4 65.2h6.4v3.4h-6.4zM82.7 65.2h3.4v3.4h-3.4zM34.4 68.2h3.4v3.4h-3.4zM49.5 68.2h3.4v3.4h-3.4zM28.4 71.2h3.4v3.4h-3.4zM34.4 71.2h6.4v3.4h-6.4zM43.4 71.2h3.4v3.4h-3.4zM58.5 71.2h3.4v3.4h-3.4zM61.5 74.2h3.4v3.4h-3.4zM143.0 74.2h3.4v3.4h-3.4zM13.3 77.2h6.4v3.4h-6.4zM76.6 77.2h3.4v3.4h-3.4zM124.9 77.2h3.4v3.4h-3.4zM70.6 83.3h3.4v3.4h-3.4zM112.8 83.3h3.4v3.4h-3.4zM76.6 86.3h3.4v3.4h-3.4zM112.8 86.3h3.4v3.4h-3.4zM22.3 89.3h3.4v3.4h-3.4zM55.5 95.3h3.4v3.4h-3.4zM49.5 98.3h3.4v3.4h-3.4zM88.7 98.3h3.4v3.4h-3.4zM46.5 101.3h3.4v3.4h-3.4zM52.5 101.3h3.4v3.4h-3.4zM22.3 104.4h3.4v3.4h-3.4zM16.3 113.4h3.4v3.4h-3.4zM137.0 113.4h3.4v3.4h-3.4zM10.2 116.4h6.4v3.4h-6.4zM58.5 116.4h6.4v3.4h-6.4zM73.6 119.4h3.4v3.4h-3.4zM121.9 119.4h3.4v3.4h-3.4zM52.5 125.5h3.4v3.4h-3.4zM61.5 125.5h3.4v3.4h-3.4zM97.7 128.5h3.4v3.4h-3.4zM52.5 131.5h3.4v3.4h-3.4zM37.4 140.5h3.4v3.4h-3.4zM85.7 140.5h3.4v3.4h-3.4zM85.7 143.6h3.4v3.4h-3.4zM97.7 143.6h3.4v3.4h-3.4zM88.7 146.6h6.4v3.4h-6.4zM140.0 146.6h3.4v3.4h-3.4zM4.2 152.6h6.4v3.4h-6.4zM19.3 152.6h3.4v3.4h-3.4zM64.6 158.6h3.4v3.4h-3.4zM76.6 158.6h3.4v3.4h-3.4zM79.6 161.6h3.4v3.4h-3.4zM130.9 161.6h3.4v3.4h-3.4zM140.0 161.6h3.4v3.4h-3.4zM52.5 164.7h3.4v3.4h-3.4zM76.6 164.7h3.4v3.4h-3.4zM13.3 167.7h3.4v3.4h-3.4zM55.5 167.7h3.4v3.4h-3.4zM79.6 167.7h3.4v3.4h-3.4zM85.7 167.7h3.4v3.4h-3.4zM118.9 167.7h3.4v3.4h-3.4zM13.3 170.7h3.4v3.4h-3.4zM127.9 170.7h3.4v3.4h-3.4z"/>
<path shape-rendering="crispEdges" fill="#f7af5b" d="M46.5 29.0h3.4v3.4h-3.4zM13.3 32.0h3.4v3.4h-3.4zM137.0 32.0h3.4v3.4h-3.4zM49.5 35.0h3.4v3.4h-3.4zM13.3 38.0h3.4v3.4h-3.4zM13.3 41.1h9.5v3.4h-9.5zM13.3 44.1h3.4v3.4h-3.4zM112.8 44.1h3.4v3.4h-3.4zM82.7 47.1h3.4v3.4h-3.4zM13.3 56.1h3.4v3.4h-3.4zM49.5 56.1h3.4v3.4h-3.4zM85.7 65.2h6.4v3.4h-6.4zM25.3 68.2h3.4v3.4h-3.4zM130.9 68.2h3.4v3.4h-3.4zM19.3 74.2h3.4v3.4h-3.4zM52.5 74.2h3.4v3.4h-3.4zM124.9 74.2h3.4v3.4h-3.4zM10.2 83.3h3.4v3.4h-3.4zM52.5 83.3h3.4v3.4h-3.4zM79.6 83.3h3.4v3.4h-3.4zM37.4 101.3h3.4v3.4h-3.4zM52.5 104.4h3.4v3.4h-3.4zM34.4 107.4h3.4v3.4h-3.4zM130.9 113.4h3.4v3.4h-3.4zM64.6 116.4h3.4v3.4h-3.4zM4.2 119.4h3.4v3.4h-3.4zM61.5 119.4h3.4v3.4h-3.4zM124.9 119.4h3.4v3.4h-3.4zM46.5 122.5h6.4v3.4h-6.4zM49.5 125.5h3.4v3.4h-3.4zM25.3 131.5h3.4v3.4h-3.4zM100.8 140.5h3.4v3.4h-3.4zM133.9 143.6h3.4v3.4h-3.4zM19.3 149.6h3.4v3.4h-3.4zM49.5 152.6h3.4v3.4h-3.4zM127.9 155.6h3.4v3.4h-3.4zM55.5 161.6h3.4v3.4h-3.4zM19.3 170.7h3.4v3.4h-3.4zM112.8 170.7h6.4v3.4h-6.4zM121.9 170.7h3.4v3.4h-3.4z"/>
<path shape-rendering="crispEdges" fill="#f49d41" d="M49.5 29.0h3.4v3.4h-3.4zM137.0 29.0h3.4v3.4h-3.4zM46.5 32.0h3.4v3.4h-3.4zM76.6 32.0h3.4v3.4h-3.4zM121.9 32.0h6.4v3.4h-6.4zM13.3 35.0h3.4v3.4h-3.4zM52.5 35.0h3.4v3.4h-3.4zM55.5 38.0h3.4v3.4h-3.4zM64.6 41.1h3.4v3.4h-3.4zM16.3 47.1h3.4v3.4h-3.4zM79.6 47.1h3.4v3.4h-3.4zM46.5 50.1h3.4v3.4h-3.4zM55.5 56.1h3.4v3.4h-3.4zM79.6 56.1h3.4v3.4h-3.4zM94.7 56.1h3.4v3.4h-3.4zM109.8 56.1h3.4v3.4h-3.4zM25.3 59.1h3.4v3.4h-3.4zM91.7 62.2h3.4v3.4h-3.4zM28.4 65.2h3.4v3.4h-3.4zM13.3 68.2h3.4v3.4h-3.4zM46.5 68.2h3.4v3.4h-3.4zM130.9 71.2h3.4v3.4h-3.4zM16.3 74.2h3.4v3.4h-3.4zM22.3 74.2h6.4v3.4h-6.4zM49.5 74.2h3.4v3.4h-3.4zM19.3 77.2h3.4v3.4h-3.4zM13.3 80.2h6.4v3.4h-6.4zM7.2 83.3h3.4v3.4h-3.4zM19.3 83.3h3.4v3.4h-3.4zM4.2 86.3h6.4v3.4h-6.4zM79.6 86.3h3.4v3.4h-3.4zM25.3 89.3h3.4v3.4h-3.4zM64.6 89.3h3.4v3.4h-3.4zM88.7 89.3h3.4v3.4h-3.4zM22.3 92.3h3.4v3.4h-3.4zM100.8 92.3h6.4v3.4h-6.4zM37.4 98.3h3.4v3.4h-3.4zM49.5 101.3h3.4v3.4h-3.4zM100.8 101.3h3.4v3.4h-3.4zM52.5 113.4h3.4v3.4h-3.4zM49.5 116.4h3.4v3.4h-3.4zM19.3 119.4h3.4v3.4h-3.4zM73.6 122.5h3.4v3.4h-3.4zM46.5 128.5h3.4v3.4h-3.4zM49.5 131.5h3.4v3.4h-3.4zM88.7 131.5h3.4v3.4h-3.4zM94.7 143.6h3.4v3.4h-3.4zM16.3 149.6h3.4v3.4h-3.4zM22.3 149.6h3.4v3.4h-3.4zM82.7 149.6h3.4v3.4h-3.4zM13.3 152.6h3.4v3.4h-3.4zM7.2 155.6h3.4v3.4h-3.4zM7.2 158.6h3.4v3.4h-3.4zM82.7 158.6h3.4v3.4h-3.4zM127.9 158.6h3.4v3.4h-3.4zM49.5 161.6h6.4v3.4h-6.4zM127.9 161.6h3.4v3.4h-3.4zM133.9 161.6h3.4v3.4h-3.4zM55.5 164.7h3.4v3.4h-3.4zM82.7 164.7h3.4v3.4h-3.4zM16.3 170.7h3.4v3.4h-3.4zM82.7 170.7h6.4v3.4h-6.4zM124.9 170.7h3.4v3.4h-3.4z"/>
<path shape-rendering="crispEdges" fill="#d24906" d="M73.6 29.0h3.4v3.4h-3.4zM106.8 29.0h3.4v3.4h-3.4zM118.9 29.0h3.4v3.4h-3.4zM37.4 32.0h3.4v3.4h-3.4zM25.3 38.0h3.4v3.4h-3.4zM43.4 38.0h3.4v3.4h-3.4zM4.2 41.1h3.4v3.4h-3.4zM73.6 41.1h6.4v3.4h-6.4zM43.4 44.1h3.4v3.4h-3.4zM70.6 44.1h3.4v3.4h-3.4zM67.6 47.1h3.4v3.4h-3.4zM124.9 47.1h3.4v3.4h-3.4zM64.6 50.1h3.4v3.4h-3.4zM106.8 50.1h3.4v3.4h-3.4zM25.3 53.1h3.4v3.4h-3.4zM100.8 53.1h3.4v3.4h-3.4zM118.9 56.1h3.4v3.4h-3.4zM52.5 59.1h6.4v3.4h-6.4zM100.8 59.1h3.4v3.4h-3.4zM143.0 59.1h3.4v3.4h-3.4zM115.8 62.2h3.4v3.4h-3.4zM140.0 62.2h3.4v3.4h-3.4zM79.6 68.2h3.4v3.4h-3.4zM88.7 68.2h3.4v3.4h-3.4zM85.7 71.2h3.4v3.4h-3.4zM7.2 74.2h3.4v3.4h-3.4zM43.4 74.2h3.4v3.4h-3.4zM64.6 74.2h3.4v3.4h-3.4zM4.2 77.2h3.4v3.4h-3.4zM140.0 77.2h3.4v3.4h-3.4zM88.7 80.2h3.4v3.4h-3.4zM124.9 80.2h3.4v3.4h-3.4zM143.0 80.2h3.4v3.4h-3.4zM25.3 83.3h3.4v3.4h-3.4zM88.7 83.3h3.4v3.4h-3.4zM100.8 86.3h3.4v3.4h-3.4zM70.6 89.3h3.4v3.4h-3.4zM37.4 92.3h3.4v3.4h-3.4zM46.5 95.3h3.4v3.4h-3.4zM61.5 95.3h3.4v3.4h-3.4zM85.7 95.3h3.4v3.4h-3.4zM85.7 101.3h3.4v3.4h-3.4zM40.4 107.4h3.4v3.4h-3.4zM7.2 110.4h3.4v3.4h-3.4zM67.6 110.4h3.4v3.4h-3.4zM115.8 110.4h3.4v3.4h-3.4zM25.3 113.4h3.4v3.4h-3.4zM46.5 113.4h3.4v3.4h-3.4zM91.7 113.4h3.4v3.4h-3.4zM88.7 116.4h3.4v3.4h-3.4zM137.0 116.4h3.4v3.4h-3.4zM79.6 119.4h3.4v3.4h-3.4zM55.5 122.5h3.4v3.4h-3.4zM127.9 122.5h3.4v3.4h-3.4zM4.2 125.5h3.4v3.4h-3.4zM76.6 125.5h3.4v3.4h-3.4zM82.7 125.5h3.4v3.4h-3.4zM94.7 125.5h3.4v3.4h-3.4zM127.9 131.5h3.4v3.4h-3.4zM115.8 134.5h3.4v3.4h-3.4zM49.5 140.5h3.4v3.4h-3.4zM82.7 140.5h3.4v3.4h-3.4zM118.9 140.5h3.4v3.4h-3.4zM137.0 140.5h3.4v3.4h-3.4zM40.4 143.6h3.4v3.4h-3.4zM103.8 143.6h3.4v3.4h-3.4zM118.9 143.6h3.4v3.4h-3.4zM97.7 146.6h3.4v3.4h-3.4zM64.6 149.6h3.4v3.4h-3.4zM76.6 149.6h3.4v3.4h-3.4zM46.5 152.6h3.4v3.4h-3.4zM73.6 152.6h3.4v3.4h-3.4zM88.7 155.6h3.4v3.4h-3.4zM43.4 158.6h3.4v3.4h-3.4zM124.9 158.6h3.4v3.4h-3.4zM22.3 161.6h3.4v3.4h-3.4zM70.6 164.7h3.4v3.4h-3.4zM94.7 167.7h3.4v3.4h-3.4zM137.0 167.7h3.4v3.4h-3.4zM143.0 167.7h3.4v3.4h-3.4zM25.3 170.7h3.4v3.4h-3.4zM37.4 170.7h3.4v3.4h-3.4zM70.6 170.7h3.4v3.4h-3.4zM97.7 170.7h3.4v3.4h-3.4z"/>
<path shape-rendering="crispEdges" fill="#fbd090" d="M85.7 29.0h3.4v3.4h-3.4zM143.0 29.0h3.4v3.4h-3.4zM82.7 32.0h3.4v3.4h-3.4zM140.0 32.0h3.4v3.4h-3.4zM118.9 35.0h3.4v3.4h-3.4zM19.3 38.0h3.4v3.4h-3.4zM121.9 38.0h3.4v3.4h-3.4zM49.5 41.1h3.4v3.4h-3.4zM61.5 47.1h3.4v3.4h-3.4zM85.7 53.1h3.4v3.4h-3.4zM91.7 56.1h3.4v3.4h-3.4zM82.7 59.1h3.4v3.4h-3.4zM88.7 62.2h3.4v3.4h-3.4zM16.3 65.2h3.4v3.4h-3.4zM124.9 65.2h3.4v3.4h-3.4zM22.3 71.2h3.4v3.4h-3.4zM52.5 80.2h3.4v3.4h-3.4zM25.3 92.3h3.4v3.4h-3.4zM94.7 92.3h6.4v3.4h-6.4zM34.4 104.4h3.4v3.4h-3.4zM94.7 104.4h3.4v3.4h-3.4zM28.4 107.4h6.4v3.4h-6.4zM127.9 110.4h3.4v3.4h-3.4zM127.9 113.4h3.4v3.4h-3.4zM1.2 116.4h3.4v3.4h-3.4zM67.6 119.4h3.4v3.4h-3.4zM28.4 131.5h6.4v3.4h-6.4zM100.8 137.5h3.4v3.4h-3.4zM19.3 140.5h3.4v3.4h-3.4zM34.4 140.5h3.4v3.4h-3.4zM16.3 146.6h3.4v3.4h-3.4zM25.3 146.6h3.4v3.4h-3.4zM61.5 152.6h3.4v3.4h-3.4zM4.2 155.6h3.4v3.4h-3.4zM61.5 155.6h3.4v3.4h-3.4zM137.0 158.6h3.4v3.4h-3.4z"/>
<path shape-rendering="crispEdges" fill="#f8b868" d="M88.7 29.0h3.4v3.4h-3.4zM85.7 32.0h3.4v3.4h-3.4zM25.3 35.0h3.4v3.4h-3.4zM121.9 35.0h3.4v3.4h-3.4zM52.5 38.0h3.4v3.4h-3.4zM61.5 41.1h3.4v3.4h-3.4zM121.9 41.1h3.4v3.4h-3.4zM46.5 44.1h3.4v3.4h-3.4zM115.8 44.1h3.4v3.4h-3.4zM143.0 44.1h3.4v3.4h-3.4zM46.5 47.1h3.4v3.4h-3.4zM61.5 50.1h3.4v3.4h-3.4zM16.3 53.1h3.4v3.4h-3.4zM121.9 65.2h3.4v3.4h-3.4zM37.4 68.2h3.4v3.4h-3.4zM118.9 71.2h3.4v3.4h-3.4zM121.9 74.2h3.4v3.4h-3.4zM64.6 80.2h3.4v3.4h-3.4zM1.2 83.3h6.4v3.4h-6.4zM76.6 83.3h3.4v3.4h-3.4zM55.5 92.3h3.4v3.4h-3.4zM91.7 92.3h3.4v3.4h-3.4zM4.2 113.4h3.4v3.4h-3.4zM7.2 116.4h3.4v3.4h-3.4zM19.3 116.4h3.4v3.4h-3.4zM67.6 116.4h3.4v3.4h-3.4zM124.9 116.4h6.4v3.4h-6.4zM61.5 122.5h3.4v3.4h-3.4zM94.7 128.5h3.4v3.4h-3.4zM22.3 134.5h3.4v3.4h-3.4zM19.3 137.5h3.4v3.4h-3.4zM58.5 149.6h3.4v3.4h-3.4zM140.0 149.6h3.4v3.4h-3.4zM1.2 152.6h3.4v3.4h-3.4zM127.9 152.6h3.4v3.4h-3.4zM49.5 155.6h3.4v3.4h-3.4zM1.2 158.6h6.4v3.4h-6.4zM130.9 158.6h3.4v3.4h-3.4zM1.2 161.6h3.4v3.4h-3.4z"/>
<path shape-rendering="crispEdges" fill="#d85008" d="M97.7 29.0h3.4v3.4h-3.4zM103.8 29.0h3.4v3.4h-3.4zM31.4 32.0h3.4v3.4h-3.4zM73.6 32.0h3.4v3.4h-3.4zM70.6 35.0h3.4v3.4h-3.4zM76.6 35.0h3.4v3.4h-3.4zM7.2 38.0h3.4v3.4h-3.4zM70.6 41.1h3.4v3.4h-3.4zM88.7 41.1h3.4v3.4h-3.4zM130.9 41.1h6.4v3.4h-6.4zM76.6 44.1h3.4v3.4h-3.4zM73.6 47.1h3.4v3.4h-3.4zM7.2 50.1h3.4v3.4h-3.4zM73.6 50.1h3.4v3.4h-3.4zM118.9 50.1h3.4v3.4h-3.4zM143.0 50.1h3.4v3.4h-3.4zM7.2 53.1h3.4v3.4h-3.4zM61.5 53.1h3.4v3.4h-3.4zM97.7 53.1h3.4v3.4h-3.4zM10.2 59.1h3.4v3.4h-3.4zM103.8 59.1h3.4v3.4h-3.4zM118.9 59.1h3.4v3.4h-3.4zM31.4 62.2h3.4v3.4h-3.4zM91.7 65.2h3.4v3.4h-3.4zM10.2 71.2h3.4v3.4h-3.4zM82.7 71.2h3.4v3.4h-3.4zM4.2 74.2h3.4v3.4h-3.4zM133.9 74.2h3.4v3.4h-3.4zM46.5 77.2h3.4v3.4h-3.4zM28.4 86.3h3.4v3.4h-3.4zM73.6 89.3h3.4v3.4h-3.4zM106.8 98.3h3.4v3.4h-3.4zM118.9 98.3h3.4v3.4h-3.4zM115.8 101.3h3.4v3.4h-3.4zM127.9 101.3h3.4v3.4h-3.4zM61.5 104.4h3.4v3.4h-3.4zM64.6 107.4h3.4v3.4h-3.4zM85.7 110.4h3.4v3.4h-3.4zM94.7 110.4h3.4v3.4h-3.4zM140.0 110.4h3.4v3.4h-3.4zM76.6 113.4h3.4v3.4h-3.4zM115.8 113.4h3.4v3.4h-3.4zM46.5 116.4h3.4v3.4h-3.4zM115.8 116.4h3.4v3.4h-3.4zM88.7 119.4h3.4v3.4h-3.4zM130.9 119.4h3.4v3.4h-3.4zM79.6 122.5h3.4v3.4h-3.4zM88.7 122.5h3.4v3.4h-3.4zM13.3 125.5h3.4v3.4h-3.4zM91.7 125.5h3.4v3.4h-3.4zM73.6 128.5h3.4v3.4h-3.4zM112.8 128.5h3.4v3.4h-3.4zM121.9 137.5h3.4v3.4h-3.4zM106.8 140.5h3.4v3.4h-3.4zM133.9 140.5h3.4v3.4h-3.4zM10.2 143.6h3.4v3.4h-3.4zM121.9 143.6h3.4v3.4h-3.4zM58.5 146.6h3.4v3.4h-3.4zM124.9 155.6h3.4v3.4h-3.4zM19.3 161.6h3.4v3.4h-3.4zM40.4 164.7h6.4v3.4h-6.4zM109.8 164.7h3.4v3.4h-3.4zM115.8 164.7h9.5v3.4h-9.5zM140.0 164.7h6.4v3.4h-6.4zM4.2 167.7h3.4v3.4h-3.4zM25.3 167.7h3.4v3.4h-3.4zM40.4 167.7h3.4v3.4h-3.4zM67.6 167.7h3.4v3.4h-3.4zM73.6 170.7h3.4v3.4h-3.4zM100.8 170.7h3.4v3.4h-3.4z"/>
<path shape-rendering="crispEdges" fill="#e46814" d="M100.8 29.0h3.4v3.4h-3.4zM52.5 32.0h3.4v3.4h-3.4zM10.2 35.0h3.4v3.4h-3.4zM88.7 35.0h3.4v3.4h-3.4zM109.8 35.0h3.4v3.4h-3.4zM127.9 38.0h3.4v3.4h-3.4zM22.3 41.1h3.4v3.4h-3.4zM124.9 41.1h3.4v3.4h-3.4zM109.8 44.1h3.4v3.4h-3.4zM22.3 50.1h3.4v3.4h-3.4zM109.8 50.1h3.4v3.4h-3.4zM25.3 56.1h3.4v3.4h-3.4zM97.7 56.1h3.4v3.4h-3.4zM106.8 59.1h3.4v3.4h-3.4zM124.9 62.2h3.4v3.4h-3.4zM31.4 65.2h6.4v3.4h-6.4zM49.5 65.2h3.4v3.4h-3.4zM79.6 65.2h3.4v3.4h-3.4zM137.0 65.2h6.4v3.4h-6.4zM133.9 71.2h3.4v3.4h-3.4zM79.6 74.2h3.4v3.4h-3.4zM115.8 74.2h3.4v3.4h-3.4zM140.0 74.2h3.4v3.4h-3.4zM25.3 77.2h3.4v3.4h-3.4zM25.3 80.2h3.4v3.4h-3.4zM70.6 80.2h6.4v3.4h-6.4zM118.9 83.3h3.4v3.4h-3.4zM88.7 86.3h3.4v3.4h-3.4zM109.8 89.3h3.4v3.4h-3.4zM115.8 89.3h3.4v3.4h-3.4zM115.8 92.3h3.4v3.4h-3.4zM49.5 95.3h3.4v3.4h-3.4zM109.8 95.3h6.4v3.4h-6.4zM103.8 101.3h3.4v3.4h-3.4zM118.9 101.3h6.4v3.4h-6.4zM4.2 110.4h3.4v3.4h-3.4zM88.7 110.4h3.4v3.4h-3.4zM19.3 113.4h6.4v3.4h-6.4zM70.6 113.4h3.4v3.4h-3.4zM79.6 113.4h3.4v3.4h-3.4zM85.7 113.4h3.4v3.4h-3.4zM133.9 113.4h3.4v3.4h-3.4zM143.0 113.4h3.4v3.4h-3.4zM76.6 116.4h3.4v3.4h-3.4zM140.0 116.4h3.4v3.4h-3.4zM55.5 119.4h6.4v3.4h-6.4zM7.2 122.5h3.4v3.4h-3.4zM52.5 122.5h3.4v3.4h-3.4zM82.7 122.5h3.4v3.4h-3.4zM115.8 122.5h3.4v3.4h-3.4zM121.9 122.5h3.4v3.4h-3.4zM1.2 125.5h3.4v3.4h-3.4zM88.7 125.5h3.4v3.4h-3.4zM115.8 125.5h3.4v3.4h-3.4zM43.4 128.5h3.4v3.4h-3.4zM88.7 128.5h3.4v3.4h-3.4zM103.8 128.5h3.4v3.4h-3.4zM115.8 128.5h3.4v3.4h-3.4zM43.4 131.5h3.4v3.4h-3.4zM40.4 134.5h6.4v3.4h-6.4zM118.9 134.5h3.4v3.4h-3.4zM16.3 137.5h3.4v3.4h-3.4zM13.3 140.5h3.4v3.4h-3.4zM43.4 140.5h3.4v3.4h-3.4zM82.7 143.6h3.4v3.4h-3.4zM124.9 143.6h3.4v3.4h-3.4zM124.9 146.6h3.4v3.4h-3.4zM79.6 149.6h3.4v3.4h-3.4zM85.7 152.6h3.4v3.4h-3.4zM16.3 155.6h3.4v3.4h-3.4zM46.5 155.6h3.4v3.4h-3.4zM143.0 158.6h3.4v3.4h-3.4zM13.3 161.6h3.4v3.4h-3.4zM88.7 161.6h3.4v3.4h-3.4zM7.2 164.7h3.4v3.4h-3.4zM19.3 164.7h3.4v3.4h-3.4zM49.5 164.7h3.4v3.4h-3.4zM67.6 164.7h3.4v3.4h-3.4zM88.7 164.7h3.4v3.4h-3.4zM137.0 164.7h3.4v3.4h-3.4zM22.3 167.7h3.4v3.4h-3.4zM58.5 167.7h3.4v3.4h-3.4zM91.7 167.7h3.4v3.4h-3.4zM112.8 167.7h6.4v3.4h-6.4zM52.5 170.7h3.4v3.4h-3.4zM88.7 170.7h3.4v3.4h-3.4zM103.8 170.7h3.4v3.4h-3.4zM130.9 170.7h6.4v3.4h-6.4z"/>
<path shape-rendering="crispEdges" fill="#c63b02" d="M109.8 29.0h3.4v3.4h-3.4zM67.6 35.0h3.4v3.4h-3.4zM1.2 38.0h6.4v3.4h-6.4zM25.3 41.1h3.4v3.4h-3.4zM88.7 44.1h3.4v3.4h-3.4zM73.6 53.1h3.4v3.4h-3.4zM37.4 59.1h3.4v3.4h-3.4zM76.6 59.1h3.4v3.4h-3.4zM124.9 59.1h3.4v3.4h-3.4zM10.2 62.2h3.4v3.4h-3.4zM55.5 62.2h3.4v3.4h-3.4zM143.0 62.2h3.4v3.4h-3.4zM10.2 65.2h3.4v3.4h-3.4zM7.2 71.2h3.4v3.4h-3.4zM64.6 71.2h3.4v3.4h-3.4zM115.8 71.2h3.4v3.4h-3.4zM1.2 74.2h3.4v3.4h-3.4zM34.4 74.2h9.5v3.4h-9.5zM85.7 77.2h3.4v3.4h-3.4zM130.9 77.2h3.4v3.4h-3.4zM137.0 77.2h3.4v3.4h-3.4zM133.9 80.2h3.4v3.4h-3.4zM31.4 86.3h3.4v3.4h-3.4zM91.7 86.3h9.5v3.4h-9.5zM34.4 89.3h3.4v3.4h-3.4zM1.2 92.3h3.4v3.4h-3.4zM10.2 92.3h3.4v3.4h-3.4zM82.7 92.3h3.4v3.4h-3.4zM140.0 92.3h3.4v3.4h-3.4zM43.4 95.3h3.4v3.4h-3.4zM118.9 95.3h3.4v3.4h-3.4zM140.0 95.3h3.4v3.4h-3.4zM85.7 104.4h3.4v3.4h-3.4zM19.3 107.4h3.4v3.4h-3.4zM137.0 107.4h3.4v3.4h-3.4zM16.3 110.4h3.4v3.4h-3.4zM43.4 110.4h3.4v3.4h-3.4zM70.6 110.4h3.4v3.4h-3.4zM91.7 122.5h3.4v3.4h-3.4zM10.2 125.5h3.4v3.4h-3.4zM25.3 125.5h3.4v3.4h-3.4zM124.9 125.5h3.4v3.4h-3.4zM143.0 125.5h3.4v3.4h-3.4zM1.2 128.5h3.4v3.4h-3.4zM40.4 128.5h3.4v3.4h-3.4zM58.5 128.5h3.4v3.4h-3.4zM82.7 128.5h3.4v3.4h-3.4zM106.8 128.5h6.4v3.4h-6.4zM112.8 131.5h3.4v3.4h-3.4zM112.8 134.5h3.4v3.4h-3.4zM52.5 143.6h3.4v3.4h-3.4zM73.6 149.6h3.4v3.4h-3.4zM91.7 149.6h3.4v3.4h-3.4zM19.3 158.6h3.4v3.4h-3.4zM91.7 161.6h3.4v3.4h-3.4zM121.9 161.6h3.4v3.4h-3.4zM112.8 164.7h3.4v3.4h-3.4zM37.4 167.7h3.4v3.4h-3.4zM64.6 167.7h3.4v3.4h-3.4zM64.6 170.7h3.4v3.4h-3.4z"/>
<path shape-rendering="crispEdges" fill="#c03400" d="M115.8 29.0h3.4v3.4h-3.4zM55.5 32.0h3.4v3.4h-3.4zM70.6 32.0h3.4v3.4h-3.4zM94.7 32.0h3.4v3.4h-3.4zM37.4 35.0h3.4v3.4h-3.4zM127.9 44.1h3.4v3.4h-3.4zM43.4 47.1h3.4v3.4h-3.4zM43.4 50.1h3.4v3.4h-3.4zM1.2 53.1h3.4v3.4h-3.4zM43.4 53.1h3.4v3.4h-3.4zM121.9 53.1h3.4v3.4h-3.4zM7.2 56.1h3.4v3.4h-3.4zM121.9 56.1h3.4v3.4h-3.4zM28.4 59.1h3.4v3.4h-3.4zM112.8 62.2h3.4v3.4h-3.4zM115.8 65.2h3.4v3.4h-3.4zM76.6 68.2h3.4v3.4h-3.4zM115.8 68.2h3.4v3.4h-3.4zM79.6 71.2h3.4v3.4h-3.4zM85.7 74.2h3.4v3.4h-3.4zM28.4 80.2h3.4v3.4h-3.4zM127.9 80.2h3.4v3.4h-3.4zM103.8 83.3h3.4v3.4h-3.4zM143.0 86.3h3.4v3.4h-3.4zM49.5 89.3h3.4v3.4h-3.4zM140.0 89.3h3.4v3.4h-3.4zM13.3 92.3h3.4v3.4h-3.4zM61.5 98.3h3.4v3.4h-3.4zM85.7 98.3h3.4v3.4h-3.4zM143.0 98.3h3.4v3.4h-3.4zM19.3 101.3h3.4v3.4h-3.4zM61.5 101.3h3.4v3.4h-3.4zM112.8 101.3h3.4v3.4h-3.4zM64.6 104.4h3.4v3.4h-3.4zM140.0 107.4h3.4v3.4h-3.4zM10.2 110.4h3.4v3.4h-3.4zM73.6 110.4h3.4v3.4h-3.4zM97.7 110.4h3.4v3.4h-3.4zM82.7 113.4h3.4v3.4h-3.4zM25.3 116.4h3.4v3.4h-3.4zM112.8 119.4h3.4v3.4h-3.4zM137.0 122.5h3.4v3.4h-3.4zM58.5 125.5h3.4v3.4h-3.4zM79.6 125.5h3.4v3.4h-3.4zM109.8 125.5h3.4v3.4h-3.4zM4.2 128.5h3.4v3.4h-3.4zM13.3 128.5h3.4v3.4h-3.4zM76.6 128.5h3.4v3.4h-3.4zM127.9 128.5h3.4v3.4h-3.4zM64.6 131.5h3.4v3.4h-3.4zM82.7 131.5h3.4v3.4h-3.4zM109.8 131.5h3.4v3.4h-3.4zM82.7 134.5h3.4v3.4h-3.4zM109.8 134.5h3.4v3.4h-3.4zM112.8 140.5h3.4v3.4h-3.4zM7.2 143.6h3.4v3.4h-3.4zM1.2 146.6h3.4v3.4h-3.4zM7.2 146.6h3.4v3.4h-3.4zM40.4 146.6h3.4v3.4h-3.4zM91.7 158.6h3.4v3.4h-3.4zM103.8 161.6h3.4v3.4h-3.4zM118.9 161.6h3.4v3.4h-3.4zM91.7 164.7h3.4v3.4h-3.4zM100.8 164.7h9.5v3.4h-9.5zM7.2 167.7h3.4v3.4h-3.4zM61.5 167.7h3.4v3.4h-3.4zM100.8 167.7h3.4v3.4h-3.4z"/>
<path shape-rendering="crispEdges" fill="#e06010" d="M121.9 29.0h3.4v3.4h-3.4zM40.4 32.0h3.4v3.4h-3.4zM91.7 32.0h3.4v3.4h-3.4zM109.8 32.0h3.4v3.4h-3.4zM55.5 35.0h3.4v3.4h-3.4zM73.6 35.0h3.4v3.4h-3.4zM79.6 35.0h3.4v3.4h-3.4zM70.6 38.0h3.4v3.4h-3.4zM79.6 38.0h3.4v3.4h-3.4zM79.6 41.1h3.4v3.4h-3.4zM109.8 41.1h3.4v3.4h-3.4zM127.9 41.1h3.4v3.4h-3.4zM22.3 44.1h3.4v3.4h-3.4zM137.0 44.1h3.4v3.4h-3.4zM88.7 47.1h3.4v3.4h-3.4zM121.9 47.1h3.4v3.4h-3.4zM91.7 50.1h3.4v3.4h-3.4zM115.8 50.1h3.4v3.4h-3.4zM76.6 56.1h3.4v3.4h-3.4zM34.4 62.2h3.4v3.4h-3.4zM49.5 62.2h3.4v3.4h-3.4zM130.9 62.2h3.4v3.4h-3.4zM10.2 68.2h3.4v3.4h-3.4zM55.5 68.2h3.4v3.4h-3.4zM82.7 68.2h6.4v3.4h-6.4zM140.0 68.2h3.4v3.4h-3.4zM31.4 71.2h3.4v3.4h-3.4zM130.9 74.2h3.4v3.4h-3.4zM137.0 74.2h3.4v3.4h-3.4zM82.7 77.2h3.4v3.4h-3.4zM49.5 80.2h3.4v3.4h-3.4zM22.3 83.3h3.4v3.4h-3.4zM109.8 83.3h3.4v3.4h-3.4zM103.8 86.3h3.4v3.4h-3.4zM16.3 89.3h3.4v3.4h-3.4zM31.4 89.3h3.4v3.4h-3.4zM85.7 89.3h3.4v3.4h-3.4zM85.7 92.3h3.4v3.4h-3.4zM106.8 92.3h3.4v3.4h-3.4zM106.8 95.3h3.4v3.4h-3.4zM43.4 98.3h6.4v3.4h-6.4zM58.5 98.3h3.4v3.4h-3.4zM103.8 98.3h3.4v3.4h-3.4zM115.8 98.3h3.4v3.4h-3.4zM43.4 101.3h3.4v3.4h-3.4zM124.9 101.3h3.4v3.4h-3.4zM61.5 107.4h3.4v3.4h-3.4zM115.8 107.4h3.4v3.4h-3.4zM130.9 107.4h3.4v3.4h-3.4zM19.3 110.4h3.4v3.4h-3.4zM46.5 110.4h3.4v3.4h-3.4zM64.6 110.4h3.4v3.4h-3.4zM22.3 116.4h3.4v3.4h-3.4zM79.6 116.4h3.4v3.4h-3.4zM85.7 116.4h3.4v3.4h-3.4zM115.8 119.4h3.4v3.4h-3.4zM140.0 119.4h3.4v3.4h-3.4zM10.2 122.5h3.4v3.4h-3.4zM22.3 122.5h3.4v3.4h-3.4zM19.3 125.5h3.4v3.4h-3.4zM55.5 125.5h3.4v3.4h-3.4zM112.8 125.5h3.4v3.4h-3.4zM22.3 128.5h3.4v3.4h-3.4zM31.4 128.5h3.4v3.4h-3.4zM85.7 131.5h3.4v3.4h-3.4zM106.8 131.5h3.4v3.4h-3.4zM121.9 131.5h6.4v3.4h-6.4zM49.5 134.5h3.4v3.4h-3.4zM43.4 137.5h6.4v3.4h-6.4zM130.9 137.5h3.4v3.4h-3.4zM40.4 140.5h3.4v3.4h-3.4zM46.5 140.5h3.4v3.4h-3.4zM103.8 140.5h3.4v3.4h-3.4zM121.9 140.5h3.4v3.4h-3.4zM127.9 140.5h3.4v3.4h-3.4zM43.4 143.6h6.4v3.4h-6.4zM100.8 143.6h3.4v3.4h-3.4zM10.2 146.6h3.4v3.4h-3.4zM94.7 146.6h3.4v3.4h-3.4zM4.2 149.6h3.4v3.4h-3.4zM46.5 149.6h3.4v3.4h-3.4zM88.7 149.6h3.4v3.4h-3.4zM143.0 149.6h3.4v3.4h-3.4zM46.5 158.6h3.4v3.4h-3.4zM73.6 158.6h3.4v3.4h-3.4zM16.3 161.6h3.4v3.4h-3.4zM46.5 161.6h3.4v3.4h-3.4zM143.0 161.6h3.4v3.4h-3.4zM64.6 164.7h3.4v3.4h-3.4zM43.4 167.7h6.4v3.4h-6.4zM109.8 167.7h3.4v3.4h-3.4zM10.2 170.7h3.4v3.4h-3.4zM46.5 170.7h3.4v3.4h-3.4zM94.7 170.7h3.4v3.4h-3.4z"/>
<path shape-rendering="crispEdges" fill="#ee8226" d="M127.9 29.0h3.4v3.4h-3.4zM133.9 29.0h3.4v3.4h-3.4zM88.7 32.0h3.4v3.4h-3.4zM115.8 32.0h3.4v3.4h-3.4zM130.9 32.0h3.4v3.4h-3.4zM127.9 35.0h3.4v3.4h-3.4zM10.2 38.0h3.4v3.4h-3.4zM82.7 38.0h6.4v3.4h-6.4zM109.8 38.0h3.4v3.4h-3.4zM67.6 41.1h3.4v3.4h-3.4zM4.2 44.1h3.4v3.4h-3.4zM79.6 44.1h3.4v3.4h-3.4zM4.2 47.1h3.4v3.4h-3.4zM19.3 47.1h3.4v3.4h-3.4zM115.8 47.1h6.4v3.4h-6.4zM143.0 47.1h3.4v3.4h-3.4zM4.2 50.1h3.4v3.4h-3.4zM10.2 50.1h6.4v3.4h-6.4zM10.2 53.1h3.4v3.4h-3.4zM46.5 56.1h3.4v3.4h-3.4zM103.8 56.1h3.4v3.4h-3.4zM115.8 56.1h3.4v3.4h-3.4zM94.7 59.1h3.4v3.4h-3.4zM28.4 62.2h3.4v3.4h-3.4zM37.4 62.2h3.4v3.4h-3.4zM118.9 62.2h6.4v3.4h-6.4zM118.9 65.2h3.4v3.4h-3.4zM133.9 65.2h3.4v3.4h-3.4zM118.9 68.2h3.4v3.4h-3.4zM55.5 71.2h3.4v3.4h-3.4zM13.3 74.2h3.4v3.4h-3.4zM46.5 74.2h3.4v3.4h-3.4zM7.2 77.2h3.4v3.4h-3.4zM49.5 77.2h3.4v3.4h-3.4zM118.9 77.2h3.4v3.4h-3.4zM19.3 80.2h3.4v3.4h-3.4zM112.8 80.2h3.4v3.4h-3.4zM16.3 86.3h3.4v3.4h-3.4zM67.6 86.3h3.4v3.4h-3.4zM106.8 86.3h3.4v3.4h-3.4zM19.3 89.3h3.4v3.4h-3.4zM97.7 89.3h12.5v3.4h-12.5zM112.8 89.3h3.4v3.4h-3.4zM109.8 92.3h6.4v3.4h-6.4zM58.5 95.3h3.4v3.4h-3.4zM88.7 95.3h3.4v3.4h-3.4zM55.5 98.3h3.4v3.4h-3.4zM58.5 101.3h3.4v3.4h-3.4zM55.5 104.4h6.4v3.4h-6.4zM22.3 107.4h3.4v3.4h-3.4zM49.5 107.4h3.4v3.4h-3.4zM88.7 107.4h3.4v3.4h-3.4zM1.2 110.4h3.4v3.4h-3.4zM25.3 110.4h3.4v3.4h-3.4zM49.5 110.4h3.4v3.4h-3.4zM55.5 110.4h3.4v3.4h-3.4zM61.5 110.4h3.4v3.4h-3.4zM118.9 110.4h3.4v3.4h-3.4zM133.9 110.4h3.4v3.4h-3.4zM10.2 113.4h3.4v3.4h-3.4zM58.5 113.4h6.4v3.4h-6.4zM67.6 113.4h3.4v3.4h-3.4zM73.6 116.4h3.4v3.4h-3.4zM143.0 116.4h3.4v3.4h-3.4zM52.5 119.4h3.4v3.4h-3.4zM118.9 119.4h3.4v3.4h-3.4zM4.2 122.5h3.4v3.4h-3.4zM16.3 122.5h3.4v3.4h-3.4zM85.7 125.5h3.4v3.4h-3.4zM52.5 128.5h3.4v3.4h-3.4zM64.6 128.5h3.4v3.4h-3.4zM70.6 128.5h3.4v3.4h-3.4zM91.7 128.5h3.4v3.4h-3.4zM100.8 128.5h3.4v3.4h-3.4zM46.5 131.5h3.4v3.4h-3.4zM49.5 146.6h3.4v3.4h-3.4zM10.2 149.6h3.4v3.4h-3.4zM10.2 152.6h3.4v3.4h-3.4zM16.3 152.6h3.4v3.4h-3.4zM64.6 152.6h3.4v3.4h-3.4zM143.0 152.6h3.4v3.4h-3.4zM79.6 155.6h6.4v3.4h-6.4zM143.0 155.6h3.4v3.4h-3.4zM10.2 158.6h3.4v3.4h-3.4zM4.2 161.6h6.4v3.4h-6.4zM64.6 161.6h3.4v3.4h-3.4zM76.6 161.6h3.4v3.4h-3.4zM85.7 161.6h3.4v3.4h-3.4zM137.0 161.6h3.4v3.4h-3.4zM58.5 164.7h3.4v3.4h-3.4zM85.7 164.7h3.4v3.4h-3.4zM124.9 164.7h3.4v3.4h-3.4zM76.6 167.7h3.4v3.4h-3.4zM88.7 167.7h3.4v3.4h-3.4zM127.9 167.7h3.4v3.4h-3.4zM22.3 170.7h3.4v3.4h-3.4zM106.8 170.7h6.4v3.4h-6.4z"/>
<path shape-rendering="crispEdges" fill="#f9c076" d="M140.0 29.0h3.4v3.4h-3.4zM79.6 32.0h3.4v3.4h-3.4zM85.7 35.0h3.4v3.4h-3.4zM16.3 38.0h3.4v3.4h-3.4zM137.0 38.0h3.4v3.4h-3.4zM46.5 41.1h3.4v3.4h-3.4zM118.9 44.1h3.4v3.4h-3.4zM82.7 50.1h6.4v3.4h-6.4zM22.3 56.1h3.4v3.4h-3.4zM52.5 56.1h3.4v3.4h-3.4zM13.3 59.1h3.4v3.4h-3.4zM91.7 59.1h3.4v3.4h-3.4zM82.7 62.2h3.4v3.4h-3.4zM40.4 65.2h3.4v3.4h-3.4zM127.9 65.2h3.4v3.4h-3.4zM40.4 68.2h6.4v3.4h-6.4zM121.9 68.2h3.4v3.4h-3.4zM16.3 71.2h3.4v3.4h-3.4zM127.9 71.2h3.4v3.4h-3.4zM52.5 77.2h3.4v3.4h-3.4zM22.3 95.3h3.4v3.4h-3.4zM124.9 107.4h3.4v3.4h-3.4zM1.2 113.4h3.4v3.4h-3.4zM121.9 113.4h3.4v3.4h-3.4zM121.9 116.4h3.4v3.4h-3.4zM70.6 125.5h3.4v3.4h-3.4zM100.8 131.5h3.4v3.4h-3.4zM88.7 134.5h3.4v3.4h-3.4zM16.3 140.5h3.4v3.4h-3.4zM88.7 140.5h3.4v3.4h-3.4zM31.4 143.6h3.4v3.4h-3.4zM91.7 143.6h3.4v3.4h-3.4zM137.0 146.6h3.4v3.4h-3.4zM127.9 149.6h3.4v3.4h-3.4zM1.2 155.6h3.4v3.4h-3.4zM140.0 155.6h3.4v3.4h-3.4zM61.5 158.6h3.4v3.4h-3.4zM58.5 161.6h3.4v3.4h-3.4z"/>
<path shape-rendering="crispEdges" fill="#a82200" d="M7.2 32.0h3.4v3.4h-3.4zM7.2 35.0h3.4v3.4h-3.4zM31.4 35.0h3.4v3.4h-3.4zM106.8 35.0h3.4v3.4h-3.4zM106.8 38.0h3.4v3.4h-3.4zM25.3 44.1h3.4v3.4h-3.4zM25.3 47.1h3.4v3.4h-3.4zM97.7 50.1h3.4v3.4h-3.4zM140.0 53.1h3.4v3.4h-3.4zM40.4 56.1h3.4v3.4h-3.4zM73.6 56.1h3.4v3.4h-3.4zM140.0 56.1h6.4v3.4h-6.4zM34.4 59.1h3.4v3.4h-3.4zM130.9 59.1h3.4v3.4h-3.4zM109.8 62.2h3.4v3.4h-3.4zM94.7 65.2h3.4v3.4h-3.4zM7.2 68.2h3.4v3.4h-3.4zM91.7 68.2h3.4v3.4h-3.4zM1.2 71.2h3.4v3.4h-3.4zM67.6 71.2h9.5v3.4h-9.5zM112.8 71.2h3.4v3.4h-3.4zM70.6 74.2h3.4v3.4h-3.4zM112.8 74.2h3.4v3.4h-3.4zM43.4 77.2h3.4v3.4h-3.4zM88.7 77.2h3.4v3.4h-3.4zM91.7 80.2h3.4v3.4h-3.4zM137.0 80.2h3.4v3.4h-3.4zM31.4 83.3h3.4v3.4h-3.4zM137.0 86.3h3.4v3.4h-3.4zM121.9 89.3h3.4v3.4h-3.4zM46.5 92.3h3.4v3.4h-3.4zM121.9 92.3h3.4v3.4h-3.4zM137.0 92.3h3.4v3.4h-3.4zM67.6 95.3h3.4v3.4h-3.4zM121.9 95.3h3.4v3.4h-3.4zM16.3 98.3h3.4v3.4h-3.4zM127.9 98.3h6.4v3.4h-6.4zM64.6 101.3h3.4v3.4h-3.4zM109.8 101.3h3.4v3.4h-3.4zM112.8 104.4h3.4v3.4h-3.4zM137.0 104.4h3.4v3.4h-3.4zM16.3 107.4h3.4v3.4h-3.4zM143.0 107.4h3.4v3.4h-3.4zM40.4 110.4h3.4v3.4h-3.4zM82.7 110.4h3.4v3.4h-3.4zM112.8 113.4h3.4v3.4h-3.4zM43.4 116.4h3.4v3.4h-3.4zM91.7 116.4h3.4v3.4h-3.4zM43.4 119.4h3.4v3.4h-3.4zM94.7 122.5h3.4v3.4h-3.4zM109.8 122.5h3.4v3.4h-3.4zM130.9 122.5h3.4v3.4h-3.4zM100.8 125.5h3.4v3.4h-3.4zM127.9 125.5h3.4v3.4h-3.4zM140.0 125.5h3.4v3.4h-3.4zM7.2 128.5h6.4v3.4h-6.4zM79.6 128.5h3.4v3.4h-3.4zM13.3 131.5h3.4v3.4h-3.4zM73.6 131.5h3.4v3.4h-3.4zM79.6 131.5h3.4v3.4h-3.4zM130.9 131.5h3.4v3.4h-3.4zM55.5 134.5h3.4v3.4h-3.4zM73.6 134.5h6.4v3.4h-6.4zM133.9 134.5h3.4v3.4h-3.4zM10.2 137.5h3.4v3.4h-3.4zM79.6 137.5h3.4v3.4h-3.4zM140.0 137.5h3.4v3.4h-3.4zM4.2 140.5h3.4v3.4h-3.4zM115.8 140.5h3.4v3.4h-3.4zM1.2 143.6h3.4v3.4h-3.4zM55.5 143.6h3.4v3.4h-3.4zM76.6 143.6h3.4v3.4h-3.4zM64.6 146.6h3.4v3.4h-3.4zM70.6 146.6h3.4v3.4h-3.4zM100.8 146.6h3.4v3.4h-3.4zM112.8 146.6h9.5v3.4h-9.5zM31.4 149.6h3.4v3.4h-3.4zM37.4 149.6h3.4v3.4h-3.4zM94.7 149.6h3.4v3.4h-3.4zM109.8 149.6h3.4v3.4h-3.4zM115.8 149.6h3.4v3.4h-3.4zM91.7 152.6h3.4v3.4h-3.4zM40.4 155.6h3.4v3.4h-3.4zM91.7 155.6h3.4v3.4h-3.4zM103.8 158.6h6.4v3.4h-6.4zM28.4 161.6h3.4v3.4h-3.4zM37.4 161.6h3.4v3.4h-3.4zM100.8 161.6h3.4v3.4h-3.4zM109.8 161.6h3.4v3.4h-3.4zM25.3 164.7h6.4v3.4h-6.4zM28.4 170.7h6.4v3.4h-6.4z"/>
<path shape-rendering="crispEdges" fill="#cc4204" d="M10.2 32.0h3.4v3.4h-3.4zM34.4 32.0h3.4v3.4h-3.4zM40.4 35.0h3.4v3.4h-3.4zM58.5 35.0h3.4v3.4h-3.4zM64.6 35.0h3.4v3.4h-3.4zM73.6 38.0h6.4v3.4h-6.4zM43.4 41.1h3.4v3.4h-3.4zM121.9 50.1h3.4v3.4h-3.4zM4.2 53.1h3.4v3.4h-3.4zM43.4 56.1h3.4v3.4h-3.4zM133.9 62.2h6.4v3.4h-6.4zM52.5 65.2h3.4v3.4h-3.4zM73.6 74.2h3.4v3.4h-3.4zM1.2 77.2h3.4v3.4h-3.4zM67.6 77.2h6.4v3.4h-6.4zM127.9 77.2h3.4v3.4h-3.4zM91.7 83.3h3.4v3.4h-3.4zM106.8 83.3h3.4v3.4h-3.4zM121.9 83.3h3.4v3.4h-3.4zM143.0 83.3h3.4v3.4h-3.4zM118.9 86.3h3.4v3.4h-3.4zM118.9 89.3h3.4v3.4h-3.4zM4.2 92.3h3.4v3.4h-3.4zM16.3 92.3h3.4v3.4h-3.4zM49.5 92.3h3.4v3.4h-3.4zM16.3 95.3h3.4v3.4h-3.4zM115.8 95.3h3.4v3.4h-3.4zM143.0 95.3h3.4v3.4h-3.4zM109.8 98.3h6.4v3.4h-6.4zM121.9 98.3h3.4v3.4h-3.4zM130.9 104.4h3.4v3.4h-3.4zM43.4 107.4h3.4v3.4h-3.4zM85.7 107.4h3.4v3.4h-3.4zM133.9 119.4h6.4v3.4h-6.4zM112.8 122.5h3.4v3.4h-3.4zM140.0 122.5h6.4v3.4h-6.4zM19.3 128.5h3.4v3.4h-3.4zM37.4 128.5h3.4v3.4h-3.4zM55.5 128.5h3.4v3.4h-3.4zM143.0 128.5h3.4v3.4h-3.4zM40.4 131.5h3.4v3.4h-3.4zM55.5 131.5h6.4v3.4h-6.4zM67.6 131.5h3.4v3.4h-3.4zM115.8 131.5h3.4v3.4h-3.4zM52.5 134.5h3.4v3.4h-3.4zM127.9 134.5h3.4v3.4h-3.4zM82.7 137.5h3.4v3.4h-3.4zM109.8 137.5h3.4v3.4h-3.4zM109.8 140.5h3.4v3.4h-3.4zM140.0 143.6h3.4v3.4h-3.4zM4.2 146.6h3.4v3.4h-3.4zM34.4 146.6h3.4v3.4h-3.4zM43.4 146.6h3.4v3.4h-3.4zM28.4 149.6h3.4v3.4h-3.4zM70.6 152.6h3.4v3.4h-3.4zM88.7 152.6h3.4v3.4h-3.4zM22.3 155.6h3.4v3.4h-3.4zM70.6 155.6h3.4v3.4h-3.4zM16.3 158.6h3.4v3.4h-3.4zM88.7 158.6h3.4v3.4h-3.4zM43.4 161.6h3.4v3.4h-3.4zM22.3 164.7h3.4v3.4h-3.4zM37.4 164.7h3.4v3.4h-3.4zM103.8 167.7h3.4v3.4h-3.4zM140.0 167.7h3.4v3.4h-3.4zM7.2 170.7h3.4v3.4h-3.4zM58.5 170.7h3.4v3.4h-3.4zM137.0 170.7h6.4v3.4h-6.4z"/>
<path shape-rendering="crispEdges" fill="#b02800" d="M67.6 32.0h3.4v3.4h-3.4zM97.7 32.0h3.4v3.4h-3.4zM106.8 32.0h3.4v3.4h-3.4zM91.7 35.0h3.4v3.4h-3.4zM133.9 44.1h3.4v3.4h-3.4zM127.9 47.1h3.4v3.4h-3.4zM70.6 50.1h3.4v3.4h-3.4zM100.8 50.1h3.4v3.4h-3.4zM124.9 50.1h3.4v3.4h-3.4zM140.0 50.1h3.4v3.4h-3.4zM143.0 53.1h3.4v3.4h-3.4zM4.2 56.1h3.4v3.4h-3.4zM58.5 59.1h3.4v3.4h-3.4zM133.9 59.1h3.4v3.4h-3.4zM140.0 59.1h3.4v3.4h-3.4zM97.7 62.2h9.5v3.4h-9.5zM58.5 65.2h3.4v3.4h-3.4zM76.6 65.2h3.4v3.4h-3.4zM61.5 68.2h3.4v3.4h-3.4zM76.6 71.2h3.4v3.4h-3.4zM88.7 74.2h3.4v3.4h-3.4zM31.4 77.2h3.4v3.4h-3.4zM49.5 83.3h3.4v3.4h-3.4zM49.5 86.3h3.4v3.4h-3.4zM121.9 86.3h3.4v3.4h-3.4zM143.0 89.3h3.4v3.4h-3.4zM73.6 92.3h3.4v3.4h-3.4zM79.6 92.3h3.4v3.4h-3.4zM64.6 95.3h3.4v3.4h-3.4zM137.0 95.3h3.4v3.4h-3.4zM64.6 98.3h3.4v3.4h-3.4zM124.9 98.3h3.4v3.4h-3.4zM133.9 98.3h3.4v3.4h-3.4zM140.0 98.3h3.4v3.4h-3.4zM106.8 101.3h3.4v3.4h-3.4zM143.0 101.3h3.4v3.4h-3.4zM133.9 104.4h3.4v3.4h-3.4zM67.6 107.4h3.4v3.4h-3.4zM79.6 107.4h3.4v3.4h-3.4zM100.8 107.4h3.4v3.4h-3.4zM37.4 110.4h3.4v3.4h-3.4zM79.6 110.4h3.4v3.4h-3.4zM94.7 113.4h3.4v3.4h-3.4zM91.7 119.4h3.4v3.4h-3.4zM25.3 122.5h3.4v3.4h-3.4zM40.4 122.5h3.4v3.4h-3.4zM97.7 125.5h3.4v3.4h-3.4zM16.3 128.5h3.4v3.4h-3.4zM19.3 131.5h3.4v3.4h-3.4zM13.3 134.5h6.4v3.4h-6.4zM130.9 134.5h3.4v3.4h-3.4zM112.8 137.5h3.4v3.4h-3.4zM10.2 140.5h3.4v3.4h-3.4zM52.5 140.5h3.4v3.4h-3.4zM140.0 140.5h6.4v3.4h-6.4zM79.6 143.6h3.4v3.4h-3.4zM109.8 143.6h3.4v3.4h-3.4zM76.6 146.6h3.4v3.4h-3.4zM43.4 149.6h3.4v3.4h-3.4zM70.6 149.6h3.4v3.4h-3.4zM121.9 149.6h3.4v3.4h-3.4zM121.9 155.6h3.4v3.4h-3.4zM22.3 158.6h3.4v3.4h-3.4zM121.9 158.6h3.4v3.4h-3.4zM40.4 161.6h3.4v3.4h-3.4zM97.7 164.7h3.4v3.4h-3.4zM1.2 167.7h3.4v3.4h-3.4zM34.4 167.7h3.4v3.4h-3.4zM1.2 170.7h6.4v3.4h-6.4zM61.5 170.7h3.4v3.4h-3.4z"/>
<path shape-rendering="crispEdges" fill="#f39434" d="M118.9 32.0h3.4v3.4h-3.4zM127.9 32.0h3.4v3.4h-3.4zM58.5 38.0h3.4v3.4h-3.4zM67.6 38.0h3.4v3.4h-3.4zM16.3 44.1h3.4v3.4h-3.4zM82.7 44.1h6.4v3.4h-6.4zM10.2 47.1h6.4v3.4h-6.4zM64.6 47.1h3.4v3.4h-3.4zM109.8 53.1h3.4v3.4h-3.4zM106.8 56.1h3.4v3.4h-3.4zM112.8 56.1h3.4v3.4h-3.4zM13.3 62.2h3.4v3.4h-3.4zM13.3 65.2h3.4v3.4h-3.4zM130.9 65.2h3.4v3.4h-3.4zM28.4 68.2h6.4v3.4h-6.4zM133.9 68.2h3.4v3.4h-3.4zM143.0 68.2h3.4v3.4h-3.4zM46.5 71.2h3.4v3.4h-3.4zM143.0 71.2h3.4v3.4h-3.4zM127.9 74.2h3.4v3.4h-3.4zM10.2 77.2h3.4v3.4h-3.4zM79.6 77.2h3.4v3.4h-3.4zM121.9 77.2h3.4v3.4h-3.4zM4.2 80.2h9.5v3.4h-9.5zM79.6 80.2h6.4v3.4h-6.4zM13.3 83.3h3.4v3.4h-3.4zM82.7 83.3h3.4v3.4h-3.4zM10.2 86.3h3.4v3.4h-3.4zM22.3 86.3h3.4v3.4h-3.4zM52.5 86.3h3.4v3.4h-3.4zM85.7 86.3h3.4v3.4h-3.4zM109.8 86.3h3.4v3.4h-3.4zM28.4 89.3h3.4v3.4h-3.4zM52.5 89.3h3.4v3.4h-3.4zM91.7 89.3h6.4v3.4h-6.4zM103.8 95.3h3.4v3.4h-3.4zM52.5 98.3h3.4v3.4h-3.4zM22.3 101.3h3.4v3.4h-3.4zM40.4 101.3h3.4v3.4h-3.4zM49.5 104.4h3.4v3.4h-3.4zM121.9 104.4h3.4v3.4h-3.4zM52.5 107.4h9.5v3.4h-9.5zM97.7 107.4h3.4v3.4h-3.4zM52.5 110.4h3.4v3.4h-3.4zM130.9 110.4h3.4v3.4h-3.4zM55.5 113.4h3.4v3.4h-3.4zM64.6 113.4h3.4v3.4h-3.4zM118.9 116.4h3.4v3.4h-3.4zM1.2 122.5h3.4v3.4h-3.4zM13.3 122.5h3.4v3.4h-3.4zM73.6 125.5h3.4v3.4h-3.4zM49.5 128.5h3.4v3.4h-3.4zM103.8 131.5h3.4v3.4h-3.4zM37.4 137.5h3.4v3.4h-3.4zM103.8 137.5h3.4v3.4h-3.4zM34.4 143.6h3.4v3.4h-3.4zM127.9 143.6h3.4v3.4h-3.4zM127.9 146.6h3.4v3.4h-3.4zM61.5 149.6h3.4v3.4h-3.4zM10.2 155.6h3.4v3.4h-3.4zM79.6 158.6h3.4v3.4h-3.4zM61.5 161.6h3.4v3.4h-3.4zM82.7 161.6h3.4v3.4h-3.4zM127.9 164.7h3.4v3.4h-3.4zM82.7 167.7h3.4v3.4h-3.4zM121.9 167.7h6.4v3.4h-6.4zM76.6 170.7h3.4v3.4h-3.4z"/>
<path shape-rendering="crispEdges" fill="#fac883" d="M143.0 32.0h3.4v3.4h-3.4zM112.8 35.0h3.4v3.4h-3.4zM137.0 35.0h3.4v3.4h-3.4zM49.5 38.0h3.4v3.4h-3.4zM58.5 41.1h3.4v3.4h-3.4zM112.8 41.1h3.4v3.4h-3.4zM140.0 41.1h3.4v3.4h-3.4zM61.5 44.1h3.4v3.4h-3.4zM19.3 53.1h3.4v3.4h-3.4zM49.5 53.1h3.4v3.4h-3.4zM58.5 53.1h3.4v3.4h-3.4zM88.7 53.1h3.4v3.4h-3.4zM25.3 62.2h3.4v3.4h-3.4zM25.3 65.2h3.4v3.4h-3.4zM16.3 68.2h3.4v3.4h-3.4zM19.3 71.2h3.4v3.4h-3.4zM55.5 74.2h3.4v3.4h-3.4zM61.5 77.2h3.4v3.4h-3.4zM64.6 86.3h3.4v3.4h-3.4zM31.4 92.3h3.4v3.4h-3.4zM58.5 92.3h3.4v3.4h-3.4zM34.4 95.3h3.4v3.4h-3.4zM22.3 98.3h3.4v3.4h-3.4zM100.8 98.3h3.4v3.4h-3.4zM97.7 104.4h3.4v3.4h-3.4zM25.3 107.4h3.4v3.4h-3.4zM121.9 107.4h3.4v3.4h-3.4zM121.9 110.4h3.4v3.4h-3.4zM4.2 116.4h3.4v3.4h-3.4zM1.2 119.4h3.4v3.4h-3.4zM64.6 119.4h3.4v3.4h-3.4zM70.6 119.4h3.4v3.4h-3.4zM70.6 122.5h3.4v3.4h-3.4zM64.6 125.5h6.4v3.4h-6.4zM91.7 131.5h3.4v3.4h-3.4zM34.4 134.5h3.4v3.4h-3.4zM100.8 134.5h3.4v3.4h-3.4zM88.7 137.5h3.4v3.4h-3.4zM97.7 140.5h3.4v3.4h-3.4zM16.3 143.6h3.4v3.4h-3.4zM88.7 143.6h3.4v3.4h-3.4zM52.5 149.6h6.4v3.4h-6.4z"/>
<path shape-rendering="crispEdges" fill="#fee6c0" d="M19.3 35.0h3.4v3.4h-3.4zM115.8 38.0h3.4v3.4h-3.4zM143.0 38.0h3.4v3.4h-3.4zM115.8 41.1h3.4v3.4h-3.4zM49.5 44.1h3.4v3.4h-3.4zM58.5 44.1h3.4v3.4h-3.4zM49.5 50.1h3.4v3.4h-3.4zM22.3 59.1h3.4v3.4h-3.4zM85.7 59.1h6.4v3.4h-6.4zM22.3 65.2h3.4v3.4h-3.4zM22.3 68.2h3.4v3.4h-3.4zM58.5 77.2h3.4v3.4h-3.4zM55.5 80.2h3.4v3.4h-3.4zM61.5 80.2h3.4v3.4h-3.4zM55.5 86.3h3.4v3.4h-3.4zM94.7 95.3h6.4v3.4h-6.4zM25.3 98.3h3.4v3.4h-3.4zM25.3 101.3h3.4v3.4h-3.4zM34.4 101.3h3.4v3.4h-3.4zM28.4 104.4h6.4v3.4h-6.4zM25.3 134.5h9.5v3.4h-9.5zM94.7 134.5h6.4v3.4h-6.4zM31.4 137.5h3.4v3.4h-3.4zM94.7 137.5h3.4v3.4h-3.4zM31.4 140.5h3.4v3.4h-3.4zM22.3 143.6h6.4v3.4h-6.4zM130.9 146.6h3.4v3.4h-3.4zM130.9 149.6h3.4v3.4h-3.4zM137.0 149.6h3.4v3.4h-3.4zM55.5 152.6h6.4v3.4h-6.4zM130.9 155.6h3.4v3.4h-3.4z"/>
<path shape-rendering="crispEdges" fill="#851000" d="M97.7 38.0h6.4v3.4h-6.4zM97.7 41.1h6.4v3.4h-6.4zM34.4 44.1h3.4v3.4h-3.4zM97.7 44.1h3.4v3.4h-3.4zM34.4 47.1h6.4v3.4h-6.4zM34.4 50.1h6.4v3.4h-6.4zM34.4 53.1h3.4v3.4h-3.4zM106.8 68.2h3.4v3.4h-3.4zM103.8 71.2h3.4v3.4h-3.4zM10.2 101.3h3.4v3.4h-3.4zM10.2 104.4h3.4v3.4h-3.4z"/></g>
<g clip-path="url(#cpd)"><path shape-rendering="crispEdges" fill="#a01c00" d="M1.8 271.6h3.4v3.4h-3.4zM13.9 271.6h6.4v3.4h-6.4zM1.8 274.6h3.4v3.4h-3.4zM7.8 274.6h3.4v3.4h-3.4zM13.9 274.6h3.4v3.4h-3.4zM13.9 277.6h3.4v3.4h-3.4zM62.2 277.6h3.4v3.4h-3.4zM53.1 280.6h3.4v3.4h-3.4zM62.2 280.6h9.5v3.4h-9.5zM53.1 283.6h3.4v3.4h-3.4zM68.2 283.6h9.5v3.4h-9.5zM53.1 286.6h3.4v3.4h-3.4zM68.2 286.6h6.4v3.4h-6.4zM65.2 289.6h6.4v3.4h-6.4zM113.5 289.6h3.4v3.4h-3.4zM59.2 292.6h6.4v3.4h-6.4zM110.5 292.6h3.4v3.4h-3.4zM119.5 292.6h3.4v3.4h-3.4zM101.4 298.6h6.4v3.4h-6.4zM116.5 298.6h3.4v3.4h-3.4zM125.6 298.6h3.4v3.4h-3.4zM101.4 301.6h3.4v3.4h-3.4zM125.6 301.6h3.4v3.4h-3.4zM19.9 307.6h12.5v3.4h-12.5zM35.0 307.6h3.4v3.4h-3.4zM16.9 310.6h3.4v3.4h-3.4zM104.4 310.6h3.4v3.4h-3.4zM38.0 316.6h3.4v3.4h-3.4zM71.2 316.6h3.4v3.4h-3.4zM35.0 319.6h3.4v3.4h-3.4zM65.2 319.6h9.5v3.4h-9.5zM16.9 322.6h3.4v3.4h-3.4zM65.2 322.6h3.4v3.4h-3.4zM16.9 325.6h18.5v3.4h-18.5zM59.2 325.6h3.4v3.4h-3.4zM77.3 325.6h3.4v3.4h-3.4zM56.1 328.6h3.4v3.4h-3.4zM77.3 328.6h3.4v3.4h-3.4zM77.3 334.6h3.4v3.4h-3.4zM56.1 337.6h3.4v3.4h-3.4zM113.5 337.6h6.4v3.4h-6.4zM74.2 340.6h3.4v3.4h-3.4zM104.4 340.6h3.4v3.4h-3.4zM104.4 343.6h3.4v3.4h-3.4zM101.4 349.7h3.4v3.4h-3.4zM125.6 352.7h3.4v3.4h-3.4zM16.9 355.7h12.5v3.4h-12.5zM101.4 355.7h3.4v3.4h-3.4zM10.9 358.7h3.4v3.4h-3.4zM25.9 358.7h3.4v3.4h-3.4zM116.5 358.7h3.4v3.4h-3.4zM122.5 358.7h3.4v3.4h-3.4zM10.9 361.7h3.4v3.4h-3.4zM29.0 361.7h3.4v3.4h-3.4zM104.4 361.7h3.4v3.4h-3.4zM116.5 361.7h6.4v3.4h-6.4zM10.9 364.7h3.4v3.4h-3.4zM13.9 367.7h3.4v3.4h-3.4zM29.0 367.7h3.4v3.4h-3.4zM13.9 370.7h6.4v3.4h-6.4zM25.9 370.7h3.4v3.4h-3.4zM65.2 370.7h9.5v3.4h-9.5zM22.9 373.7h3.4v3.4h-3.4zM59.2 373.7h3.4v3.4h-3.4zM74.2 373.7h3.4v3.4h-3.4zM143.7 373.7h3.4v3.4h-3.4zM56.1 376.7h3.4v3.4h-3.4zM143.7 376.7h3.4v3.4h-3.4zM143.7 379.7h3.4v3.4h-3.4zM143.7 382.7h3.4v3.4h-3.4zM74.2 385.7h3.4v3.4h-3.4zM50.1 388.7h3.4v3.4h-3.4zM68.2 388.7h3.4v3.4h-3.4zM47.1 391.7h3.4v3.4h-3.4zM62.2 391.7h3.4v3.4h-3.4zM59.2 394.7h3.4v3.4h-3.4zM104.4 394.7h9.5v3.4h-9.5zM101.4 397.7h3.4v3.4h-3.4zM110.5 397.7h6.4v3.4h-6.4zM113.5 400.7h3.4v3.4h-3.4zM7.8 403.7h3.4v3.4h-3.4zM92.4 403.7h3.4v3.4h-3.4zM101.4 403.7h3.4v3.4h-3.4zM110.5 403.7h3.4v3.4h-3.4zM13.9 406.7h3.4v3.4h-3.4zM92.4 406.7h3.4v3.4h-3.4zM98.4 409.7h3.4v3.4h-3.4zM107.5 409.7h3.4v3.4h-3.4zM16.9 412.7h3.4v3.4h-3.4zM98.4 412.7h9.5v3.4h-9.5z"/>
<path shape-rendering="crispEdges" fill="#971800" d="M4.8 271.6h6.4v3.4h-6.4zM19.9 271.6h3.4v3.4h-3.4zM10.9 274.6h3.4v3.4h-3.4zM56.1 280.6h3.4v3.4h-3.4zM65.2 283.6h3.4v3.4h-3.4zM56.1 289.6h3.4v3.4h-3.4zM65.2 292.6h3.4v3.4h-3.4zM113.5 292.6h6.4v3.4h-6.4zM107.5 295.6h9.5v3.4h-9.5zM119.5 295.6h6.4v3.4h-6.4zM107.5 298.6h3.4v3.4h-3.4zM119.5 298.6h3.4v3.4h-3.4zM113.5 301.6h12.5v3.4h-12.5zM101.4 304.6h3.4v3.4h-3.4zM119.5 304.6h3.4v3.4h-3.4zM32.0 307.6h3.4v3.4h-3.4zM101.4 307.6h6.4v3.4h-6.4zM116.5 307.6h3.4v3.4h-3.4zM19.9 310.6h3.4v3.4h-3.4zM25.9 310.6h3.4v3.4h-3.4zM35.0 310.6h3.4v3.4h-3.4zM107.5 310.6h3.4v3.4h-3.4zM113.5 310.6h3.4v3.4h-3.4zM16.9 313.6h9.5v3.4h-9.5zM16.9 319.6h3.4v3.4h-3.4zM74.2 319.6h3.4v3.4h-3.4zM19.9 322.6h3.4v3.4h-3.4zM68.2 322.6h3.4v3.4h-3.4zM74.2 322.6h3.4v3.4h-3.4zM62.2 325.6h3.4v3.4h-3.4zM68.2 328.6h3.4v3.4h-3.4zM56.1 331.6h3.4v3.4h-3.4zM77.3 331.6h3.4v3.4h-3.4zM56.1 334.6h3.4v3.4h-3.4zM77.3 337.6h3.4v3.4h-3.4zM110.5 337.6h3.4v3.4h-3.4zM56.1 340.6h3.4v3.4h-3.4zM71.2 340.6h3.4v3.4h-3.4zM107.5 340.6h3.4v3.4h-3.4zM116.5 340.6h3.4v3.4h-3.4zM59.2 343.6h6.4v3.4h-6.4zM122.5 343.6h3.4v3.4h-3.4zM104.4 346.7h3.4v3.4h-3.4zM122.5 349.7h3.4v3.4h-3.4zM122.5 355.7h3.4v3.4h-3.4zM13.9 358.7h3.4v3.4h-3.4zM101.4 358.7h6.4v3.4h-6.4zM119.5 358.7h3.4v3.4h-3.4zM110.5 361.7h6.4v3.4h-6.4zM29.0 364.7h3.4v3.4h-3.4zM19.9 370.7h6.4v3.4h-6.4zM62.2 373.7h3.4v3.4h-3.4zM74.2 376.7h3.4v3.4h-3.4zM71.2 379.7h3.4v3.4h-3.4zM74.2 382.7h3.4v3.4h-3.4zM50.1 385.7h6.4v3.4h-6.4zM71.2 385.7h3.4v3.4h-3.4zM53.1 388.7h3.4v3.4h-3.4zM62.2 388.7h6.4v3.4h-6.4zM50.1 391.7h9.5v3.4h-9.5zM107.5 391.7h3.4v3.4h-3.4zM53.1 394.7h3.4v3.4h-3.4zM104.4 397.7h6.4v3.4h-6.4zM95.4 400.7h18.5v3.4h-18.5zM10.9 403.7h3.4v3.4h-3.4zM95.4 403.7h3.4v3.4h-3.4zM104.4 403.7h6.4v3.4h-6.4zM4.8 406.7h3.4v3.4h-3.4zM10.9 406.7h3.4v3.4h-3.4zM95.4 406.7h6.4v3.4h-6.4zM104.4 406.7h6.4v3.4h-6.4zM1.8 409.7h3.4v3.4h-3.4zM13.9 409.7h3.4v3.4h-3.4zM101.4 409.7h6.4v3.4h-6.4zM1.8 412.7h3.4v3.4h-3.4z"/>
<path shape-rendering="crispEdges" fill="#8e1400" d="M10.9 271.6h3.4v3.4h-3.4zM59.2 280.6h3.4v3.4h-3.4zM56.1 283.6h9.5v3.4h-9.5zM56.1 286.6h3.4v3.4h-3.4zM62.2 286.6h6.4v3.4h-6.4zM59.2 289.6h6.4v3.4h-6.4zM116.5 295.6h3.4v3.4h-3.4zM110.5 298.6h6.4v3.4h-6.4zM104.4 301.6h6.4v3.4h-6.4zM113.5 304.6h6.4v3.4h-6.4zM107.5 307.6h3.4v3.4h-3.4zM22.9 310.6h3.4v3.4h-3.4zM29.0 310.6h3.4v3.4h-3.4zM110.5 310.6h3.4v3.4h-3.4zM35.0 313.6h3.4v3.4h-3.4zM16.9 316.6h6.4v3.4h-6.4zM35.0 316.6h3.4v3.4h-3.4zM19.9 319.6h3.4v3.4h-3.4zM29.0 319.6h3.4v3.4h-3.4zM22.9 322.6h3.4v3.4h-3.4zM29.0 322.6h6.4v3.4h-6.4zM71.2 322.6h3.4v3.4h-3.4zM65.2 325.6h12.5v3.4h-12.5zM59.2 328.6h3.4v3.4h-3.4zM71.2 328.6h3.4v3.4h-3.4zM74.2 331.6h3.4v3.4h-3.4zM74.2 337.6h3.4v3.4h-3.4zM107.5 337.6h3.4v3.4h-3.4zM59.2 340.6h9.5v3.4h-9.5zM110.5 340.6h6.4v3.4h-6.4zM119.5 340.6h3.4v3.4h-3.4zM65.2 343.6h3.4v3.4h-3.4zM107.5 343.6h3.4v3.4h-3.4zM119.5 343.6h3.4v3.4h-3.4zM119.5 346.7h6.4v3.4h-6.4zM104.4 349.7h3.4v3.4h-3.4zM119.5 349.7h3.4v3.4h-3.4zM104.4 352.7h3.4v3.4h-3.4zM122.5 352.7h3.4v3.4h-3.4zM116.5 355.7h3.4v3.4h-3.4zM16.9 358.7h9.5v3.4h-9.5zM107.5 358.7h3.4v3.4h-3.4zM13.9 361.7h6.4v3.4h-6.4zM25.9 361.7h3.4v3.4h-3.4zM107.5 361.7h3.4v3.4h-3.4zM13.9 364.7h3.4v3.4h-3.4zM19.9 367.7h3.4v3.4h-3.4zM25.9 367.7h3.4v3.4h-3.4zM65.2 373.7h3.4v3.4h-3.4zM71.2 373.7h3.4v3.4h-3.4zM59.2 376.7h3.4v3.4h-3.4zM74.2 379.7h3.4v3.4h-3.4zM56.1 382.7h3.4v3.4h-3.4zM71.2 382.7h3.4v3.4h-3.4zM59.2 385.7h3.4v3.4h-3.4zM68.2 385.7h3.4v3.4h-3.4zM56.1 388.7h6.4v3.4h-6.4zM59.2 391.7h3.4v3.4h-3.4zM98.4 403.7h3.4v3.4h-3.4zM7.8 406.7h3.4v3.4h-3.4zM101.4 406.7h3.4v3.4h-3.4zM4.8 409.7h9.5v3.4h-9.5zM4.8 412.7h6.4v3.4h-6.4zM13.9 412.7h3.4v3.4h-3.4z"/>
<path shape-rendering="crispEdges" fill="#b02800" d="M22.9 271.6h3.4v3.4h-3.4zM59.2 274.6h3.4v3.4h-3.4zM4.8 277.6h3.4v3.4h-3.4zM71.2 277.6h3.4v3.4h-3.4zM50.1 280.6h3.4v3.4h-3.4zM50.1 283.6h3.4v3.4h-3.4zM74.2 286.6h3.4v3.4h-3.4zM71.2 289.6h3.4v3.4h-3.4zM116.5 289.6h3.4v3.4h-3.4zM53.1 292.6h6.4v3.4h-6.4zM71.2 292.6h3.4v3.4h-3.4zM122.5 292.6h3.4v3.4h-3.4zM101.4 295.6h6.4v3.4h-6.4zM19.9 298.6h3.4v3.4h-3.4zM62.2 298.6h3.4v3.4h-3.4zM22.9 304.6h6.4v3.4h-6.4zM122.5 304.6h3.4v3.4h-3.4zM13.9 313.6h3.4v3.4h-3.4zM113.5 313.6h3.4v3.4h-3.4zM65.2 316.6h3.4v3.4h-3.4zM74.2 316.6h3.4v3.4h-3.4zM38.0 322.6h3.4v3.4h-3.4zM143.7 331.6h3.4v3.4h-3.4zM113.5 334.6h3.4v3.4h-3.4zM77.3 340.6h3.4v3.4h-3.4zM56.1 343.6h3.4v3.4h-3.4zM74.2 343.6h3.4v3.4h-3.4zM59.2 346.7h3.4v3.4h-3.4zM101.4 352.7h3.4v3.4h-3.4zM7.8 358.7h3.4v3.4h-3.4zM98.4 358.7h3.4v3.4h-3.4zM7.8 361.7h3.4v3.4h-3.4zM7.8 364.7h3.4v3.4h-3.4zM32.0 364.7h3.4v3.4h-3.4zM104.4 364.7h3.4v3.4h-3.4zM110.5 364.7h3.4v3.4h-3.4zM10.9 367.7h3.4v3.4h-3.4zM71.2 367.7h3.4v3.4h-3.4zM10.9 370.7h3.4v3.4h-3.4zM29.0 370.7h3.4v3.4h-3.4zM59.2 370.7h3.4v3.4h-3.4zM140.7 370.7h6.4v3.4h-6.4zM53.1 376.7h3.4v3.4h-3.4zM140.7 376.7h3.4v3.4h-3.4zM50.1 382.7h3.4v3.4h-3.4zM77.3 382.7h3.4v3.4h-3.4zM44.1 391.7h3.4v3.4h-3.4zM68.2 391.7h3.4v3.4h-3.4zM101.4 391.7h3.4v3.4h-3.4zM110.5 391.7h6.4v3.4h-6.4zM47.1 394.7h3.4v3.4h-3.4zM62.2 394.7h3.4v3.4h-3.4zM113.5 394.7h3.4v3.4h-3.4zM53.1 397.7h3.4v3.4h-3.4zM95.4 397.7h3.4v3.4h-3.4zM10.9 400.7h6.4v3.4h-6.4zM92.4 400.7h3.4v3.4h-3.4zM113.5 403.7h3.4v3.4h-3.4zM16.9 406.7h3.4v3.4h-3.4zM113.5 412.7h3.4v3.4h-3.4zM131.6 412.7h3.4v3.4h-3.4z"/>
<path shape-rendering="crispEdges" fill="#cc4204" d="M25.9 271.6h3.4v3.4h-3.4zM65.2 271.6h6.4v3.4h-6.4zM53.1 274.6h3.4v3.4h-3.4zM62.2 274.6h3.4v3.4h-3.4zM68.2 274.6h3.4v3.4h-3.4zM7.8 280.6h3.4v3.4h-3.4zM44.1 286.6h3.4v3.4h-3.4zM119.5 286.6h3.4v3.4h-3.4zM74.2 289.6h3.4v3.4h-3.4zM98.4 292.6h3.4v3.4h-3.4zM74.2 298.6h3.4v3.4h-3.4zM95.4 298.6h3.4v3.4h-3.4zM128.6 298.6h3.4v3.4h-3.4zM65.2 301.6h6.4v3.4h-6.4zM92.4 301.6h3.4v3.4h-3.4zM92.4 304.6h3.4v3.4h-3.4zM7.8 313.6h3.4v3.4h-3.4zM77.3 313.6h3.4v3.4h-3.4zM7.8 319.6h3.4v3.4h-3.4zM125.6 319.6h3.4v3.4h-3.4zM7.8 325.6h3.4v3.4h-3.4zM56.1 325.6h3.4v3.4h-3.4zM137.6 325.6h3.4v3.4h-3.4zM13.9 328.6h3.4v3.4h-3.4zM53.1 328.6h3.4v3.4h-3.4zM32.0 331.6h3.4v3.4h-3.4zM53.1 331.6h3.4v3.4h-3.4zM125.6 331.6h3.4v3.4h-3.4zM29.0 334.6h6.4v3.4h-6.4zM131.6 337.6h3.4v3.4h-3.4zM83.3 340.6h3.4v3.4h-3.4zM128.6 340.6h3.4v3.4h-3.4zM53.1 346.7h3.4v3.4h-3.4zM74.2 346.7h3.4v3.4h-3.4zM22.9 349.7h3.4v3.4h-3.4zM59.2 349.7h3.4v3.4h-3.4zM25.9 352.7h3.4v3.4h-3.4zM128.6 352.7h3.4v3.4h-3.4zM7.8 355.7h3.4v3.4h-3.4zM29.0 355.7h3.4v3.4h-3.4zM77.3 355.7h3.4v3.4h-3.4zM80.3 358.7h3.4v3.4h-3.4zM1.8 361.7h3.4v3.4h-3.4zM95.4 361.7h3.4v3.4h-3.4zM125.6 361.7h3.4v3.4h-3.4zM71.2 364.7h6.4v3.4h-6.4zM143.7 364.7h3.4v3.4h-3.4zM68.2 367.7h3.4v3.4h-3.4zM137.6 367.7h3.4v3.4h-3.4zM10.9 373.7h3.4v3.4h-3.4zM29.0 373.7h3.4v3.4h-3.4zM53.1 373.7h3.4v3.4h-3.4zM125.6 373.7h3.4v3.4h-3.4zM13.9 376.7h3.4v3.4h-3.4zM137.6 376.7h3.4v3.4h-3.4zM47.1 379.7h3.4v3.4h-3.4zM113.5 382.7h3.4v3.4h-3.4zM77.3 388.7h3.4v3.4h-3.4zM116.5 388.7h3.4v3.4h-3.4zM122.5 388.7h3.4v3.4h-3.4zM119.5 391.7h3.4v3.4h-3.4zM143.7 391.7h3.4v3.4h-3.4zM10.9 397.7h3.4v3.4h-3.4zM16.9 397.7h3.4v3.4h-3.4zM47.1 397.7h3.4v3.4h-3.4zM116.5 397.7h6.4v3.4h-6.4zM4.8 400.7h3.4v3.4h-3.4zM53.1 400.7h3.4v3.4h-3.4zM59.2 400.7h6.4v3.4h-6.4zM119.5 400.7h3.4v3.4h-3.4zM19.9 406.7h3.4v3.4h-3.4zM86.3 406.7h3.4v3.4h-3.4zM19.9 409.7h3.4v3.4h-3.4zM86.3 409.7h3.4v3.4h-3.4zM140.7 409.7h3.4v3.4h-3.4zM19.9 412.7h3.4v3.4h-3.4z"/>
<path shape-rendering="crispEdges" fill="#e06010" d="M29.0 271.6h3.4v3.4h-3.4zM116.5 271.6h3.4v3.4h-3.4zM128.6 271.6h9.5v3.4h-9.5zM25.9 274.6h3.4v3.4h-3.4zM50.1 274.6h3.4v3.4h-3.4zM125.6 274.6h3.4v3.4h-3.4zM131.6 274.6h6.4v3.4h-6.4zM140.7 274.6h3.4v3.4h-3.4zM137.6 277.6h6.4v3.4h-6.4zM44.1 280.6h3.4v3.4h-3.4zM131.6 280.6h3.4v3.4h-3.4zM22.9 283.6h3.4v3.4h-3.4zM41.0 283.6h3.4v3.4h-3.4zM107.5 283.6h3.4v3.4h-3.4zM113.5 283.6h6.4v3.4h-6.4zM128.6 283.6h3.4v3.4h-3.4zM22.9 286.6h3.4v3.4h-3.4zM80.3 286.6h3.4v3.4h-3.4zM125.6 286.6h3.4v3.4h-3.4zM77.3 289.6h3.4v3.4h-3.4zM25.9 292.6h6.4v3.4h-6.4zM44.1 292.6h3.4v3.4h-3.4zM77.3 292.6h3.4v3.4h-3.4zM128.6 292.6h3.4v3.4h-3.4zM16.9 295.6h3.4v3.4h-3.4zM29.0 295.6h6.4v3.4h-6.4zM38.0 295.6h6.4v3.4h-6.4zM50.1 295.6h6.4v3.4h-6.4zM77.3 295.6h3.4v3.4h-3.4zM80.3 298.6h3.4v3.4h-3.4zM131.6 298.6h3.4v3.4h-3.4zM56.1 301.6h3.4v3.4h-3.4zM74.2 301.6h3.4v3.4h-3.4zM131.6 301.6h3.4v3.4h-3.4zM7.8 304.6h3.4v3.4h-3.4zM68.2 304.6h6.4v3.4h-6.4zM131.6 304.6h3.4v3.4h-3.4zM62.2 307.6h6.4v3.4h-6.4zM74.2 307.6h3.4v3.4h-3.4zM83.3 307.6h3.4v3.4h-3.4zM65.2 310.6h3.4v3.4h-3.4zM71.2 310.6h3.4v3.4h-3.4zM89.3 310.6h3.4v3.4h-3.4zM83.3 313.6h3.4v3.4h-3.4zM137.6 313.6h3.4v3.4h-3.4zM143.7 313.6h3.4v3.4h-3.4zM4.8 316.6h3.4v3.4h-3.4zM125.6 316.6h3.4v3.4h-3.4zM59.2 319.6h3.4v3.4h-3.4zM119.5 319.6h6.4v3.4h-6.4zM128.6 319.6h9.5v3.4h-9.5zM1.8 322.6h6.4v3.4h-6.4zM41.0 322.6h3.4v3.4h-3.4zM131.6 322.6h3.4v3.4h-3.4zM53.1 325.6h3.4v3.4h-3.4zM110.5 325.6h6.4v3.4h-6.4zM131.6 325.6h6.4v3.4h-6.4zM7.8 328.6h3.4v3.4h-3.4zM110.5 328.6h3.4v3.4h-3.4zM125.6 328.6h3.4v3.4h-3.4zM131.6 328.6h3.4v3.4h-3.4zM35.0 331.6h3.4v3.4h-3.4zM50.1 331.6h3.4v3.4h-3.4zM131.6 331.6h3.4v3.4h-3.4zM19.9 334.6h3.4v3.4h-3.4zM38.0 334.6h3.4v3.4h-3.4zM101.4 334.6h3.4v3.4h-3.4zM35.0 337.6h3.4v3.4h-3.4zM134.6 337.6h6.4v3.4h-6.4zM25.9 340.6h12.5v3.4h-12.5zM41.0 340.6h3.4v3.4h-3.4zM47.1 340.6h3.4v3.4h-3.4zM86.3 340.6h3.4v3.4h-3.4zM29.0 343.6h3.4v3.4h-3.4zM38.0 343.6h6.4v3.4h-6.4zM86.3 343.6h3.4v3.4h-3.4zM92.4 343.6h6.4v3.4h-6.4zM22.9 346.7h6.4v3.4h-6.4zM86.3 346.7h3.4v3.4h-3.4zM29.0 349.7h6.4v3.4h-6.4zM53.1 349.7h3.4v3.4h-3.4zM86.3 349.7h3.4v3.4h-3.4zM95.4 349.7h3.4v3.4h-3.4zM35.0 352.7h3.4v3.4h-3.4zM56.1 352.7h3.4v3.4h-3.4zM80.3 352.7h3.4v3.4h-3.4zM89.3 352.7h3.4v3.4h-3.4zM95.4 352.7h3.4v3.4h-3.4zM1.8 355.7h6.4v3.4h-6.4zM62.2 355.7h3.4v3.4h-3.4zM74.2 355.7h3.4v3.4h-3.4zM89.3 355.7h3.4v3.4h-3.4zM35.0 361.7h3.4v3.4h-3.4zM71.2 361.7h3.4v3.4h-3.4zM86.3 361.7h3.4v3.4h-3.4zM140.7 361.7h6.4v3.4h-6.4zM65.2 364.7h3.4v3.4h-3.4zM92.4 364.7h3.4v3.4h-3.4zM56.1 367.7h3.4v3.4h-3.4zM35.0 370.7h3.4v3.4h-3.4zM53.1 370.7h3.4v3.4h-3.4zM104.4 370.7h3.4v3.4h-3.4zM7.8 373.7h3.4v3.4h-3.4zM110.5 373.7h3.4v3.4h-3.4zM119.5 373.7h3.4v3.4h-3.4zM131.6 373.7h6.4v3.4h-6.4zM107.5 376.7h6.4v3.4h-6.4zM116.5 376.7h6.4v3.4h-6.4zM128.6 376.7h3.4v3.4h-3.4zM134.6 376.7h3.4v3.4h-3.4zM19.9 379.7h6.4v3.4h-6.4zM38.0 379.7h3.4v3.4h-3.4zM44.1 379.7h3.4v3.4h-3.4zM113.5 379.7h3.4v3.4h-3.4zM122.5 379.7h3.4v3.4h-3.4zM22.9 382.7h6.4v3.4h-6.4zM38.0 382.7h6.4v3.4h-6.4zM104.4 385.7h3.4v3.4h-3.4zM122.5 385.7h3.4v3.4h-3.4zM22.9 388.7h3.4v3.4h-3.4zM35.0 388.7h3.4v3.4h-3.4zM80.3 388.7h3.4v3.4h-3.4zM22.9 391.7h3.4v3.4h-3.4zM7.8 394.7h3.4v3.4h-3.4zM22.9 394.7h6.4v3.4h-6.4zM38.0 394.7h3.4v3.4h-3.4zM71.2 394.7h6.4v3.4h-6.4zM86.3 394.7h3.4v3.4h-3.4zM4.8 397.7h3.4v3.4h-3.4zM25.9 397.7h3.4v3.4h-3.4zM68.2 397.7h3.4v3.4h-3.4zM65.2 400.7h3.4v3.4h-3.4zM143.7 400.7h3.4v3.4h-3.4zM22.9 403.7h3.4v3.4h-3.4zM65.2 403.7h9.5v3.4h-9.5zM53.1 406.7h6.4v3.4h-6.4zM74.2 406.7h3.4v3.4h-3.4zM80.3 406.7h3.4v3.4h-3.4zM119.5 406.7h3.4v3.4h-3.4zM137.6 406.7h6.4v3.4h-6.4zM56.1 409.7h6.4v3.4h-6.4zM71.2 409.7h3.4v3.4h-3.4zM77.3 409.7h3.4v3.4h-3.4zM128.6 409.7h3.4v3.4h-3.4zM50.1 412.7h6.4v3.4h-6.4zM77.3 412.7h3.4v3.4h-3.4zM83.3 412.7h3.4v3.4h-3.4z"/>
<path shape-rendering="crispEdges" fill="#f39434" d="M32.0 271.6h3.4v3.4h-3.4zM80.3 271.6h3.4v3.4h-3.4zM92.4 271.6h3.4v3.4h-3.4zM29.0 277.6h9.5v3.4h-9.5zM98.4 277.6h3.4v3.4h-3.4zM98.4 280.6h6.4v3.4h-6.4zM1.8 283.6h3.4v3.4h-3.4zM7.8 283.6h6.4v3.4h-6.4zM101.4 283.6h3.4v3.4h-3.4zM134.6 286.6h3.4v3.4h-3.4zM92.4 289.6h6.4v3.4h-6.4zM13.9 295.6h3.4v3.4h-3.4zM47.1 298.6h6.4v3.4h-6.4zM4.8 301.6h3.4v3.4h-3.4zM44.1 301.6h3.4v3.4h-3.4zM56.1 316.6h3.4v3.4h-3.4zM95.4 316.6h3.4v3.4h-3.4zM44.1 322.6h6.4v3.4h-6.4zM50.1 325.6h3.4v3.4h-3.4zM44.1 331.6h3.4v3.4h-3.4zM86.3 331.6h3.4v3.4h-3.4zM101.4 331.6h3.4v3.4h-3.4zM16.9 340.6h3.4v3.4h-3.4zM16.9 343.6h3.4v3.4h-3.4zM137.6 343.6h3.4v3.4h-3.4zM50.1 349.7h3.4v3.4h-3.4zM1.8 352.7h3.4v3.4h-3.4zM38.0 352.7h3.4v3.4h-3.4zM68.2 355.7h3.4v3.4h-3.4zM134.6 358.7h3.4v3.4h-3.4zM140.7 358.7h3.4v3.4h-3.4zM53.1 364.7h6.4v3.4h-6.4zM47.1 370.7h3.4v3.4h-3.4zM92.4 370.7h3.4v3.4h-3.4zM41.0 373.7h3.4v3.4h-3.4zM101.4 376.7h3.4v3.4h-3.4zM13.9 382.7h3.4v3.4h-3.4zM83.3 385.7h3.4v3.4h-3.4zM10.9 388.7h3.4v3.4h-3.4zM83.3 388.7h3.4v3.4h-3.4zM92.4 388.7h3.4v3.4h-3.4zM140.7 394.7h3.4v3.4h-3.4zM140.7 400.7h3.4v3.4h-3.4zM125.6 403.7h3.4v3.4h-3.4zM44.1 412.7h3.4v3.4h-3.4z"/>
<path shape-rendering="crispEdges" fill="#f7af5b" d="M35.0 271.6h3.4v3.4h-3.4zM41.0 271.6h3.4v3.4h-3.4zM92.4 274.6h3.4v3.4h-3.4zM95.4 283.6h6.4v3.4h-6.4zM13.9 286.6h3.4v3.4h-3.4zM92.4 286.6h3.4v3.4h-3.4zM137.6 286.6h6.4v3.4h-6.4zM134.6 289.6h3.4v3.4h-3.4zM134.6 295.6h3.4v3.4h-3.4zM53.1 301.6h3.4v3.4h-3.4zM137.6 304.6h3.4v3.4h-3.4zM95.4 319.6h3.4v3.4h-3.4zM47.1 325.6h3.4v3.4h-3.4zM101.4 328.6h3.4v3.4h-3.4zM4.8 331.6h3.4v3.4h-3.4zM10.9 334.6h3.4v3.4h-3.4zM92.4 334.6h3.4v3.4h-3.4zM13.9 337.6h3.4v3.4h-3.4zM143.7 343.6h3.4v3.4h-3.4zM10.9 346.7h3.4v3.4h-3.4zM53.1 355.7h3.4v3.4h-3.4zM140.7 355.7h3.4v3.4h-3.4zM38.0 364.7h3.4v3.4h-3.4zM50.1 364.7h3.4v3.4h-3.4zM44.1 370.7h3.4v3.4h-3.4zM89.3 370.7h3.4v3.4h-3.4zM86.3 373.7h3.4v3.4h-3.4zM4.8 376.7h3.4v3.4h-3.4zM98.4 379.7h3.4v3.4h-3.4zM134.6 388.7h3.4v3.4h-3.4zM137.6 391.7h3.4v3.4h-3.4zM1.8 394.7h3.4v3.4h-3.4zM125.6 400.7h3.4v3.4h-3.4zM35.0 403.7h3.4v3.4h-3.4zM128.6 403.7h3.4v3.4h-3.4zM134.6 403.7h3.4v3.4h-3.4zM44.1 406.7h3.4v3.4h-3.4zM38.0 412.7h6.4v3.4h-6.4z"/>
<path shape-rendering="crispEdges" fill="#f8b868" d="M38.0 271.6h3.4v3.4h-3.4zM38.0 274.6h3.4v3.4h-3.4zM95.4 277.6h3.4v3.4h-3.4zM89.3 286.6h3.4v3.4h-3.4zM4.8 298.6h6.4v3.4h-6.4zM47.1 301.6h3.4v3.4h-3.4zM140.7 307.6h6.4v3.4h-6.4zM56.1 310.6h3.4v3.4h-3.4zM56.1 313.6h3.4v3.4h-3.4zM101.4 325.6h3.4v3.4h-3.4zM98.4 331.6h3.4v3.4h-3.4zM13.9 340.6h3.4v3.4h-3.4zM140.7 343.6h3.4v3.4h-3.4zM137.6 346.7h3.4v3.4h-3.4zM44.1 352.7h3.4v3.4h-3.4zM50.1 352.7h3.4v3.4h-3.4zM38.0 355.7h3.4v3.4h-3.4zM134.6 355.7h3.4v3.4h-3.4zM143.7 355.7h3.4v3.4h-3.4zM137.6 358.7h3.4v3.4h-3.4zM38.0 361.7h3.4v3.4h-3.4zM53.1 361.7h3.4v3.4h-3.4zM47.1 367.7h3.4v3.4h-3.4zM86.3 376.7h3.4v3.4h-3.4zM7.8 379.7h3.4v3.4h-3.4zM95.4 382.7h3.4v3.4h-3.4zM92.4 385.7h3.4v3.4h-3.4zM131.6 388.7h3.4v3.4h-3.4zM128.6 400.7h3.4v3.4h-3.4zM41.0 406.7h3.4v3.4h-3.4zM38.0 409.7h6.4v3.4h-6.4zM32.0 412.7h3.4v3.4h-3.4z"/>
<path shape-rendering="crispEdges" fill="#f49d41" d="M44.1 271.6h3.4v3.4h-3.4zM35.0 274.6h3.4v3.4h-3.4zM41.0 274.6h3.4v3.4h-3.4zM95.4 274.6h3.4v3.4h-3.4zM83.3 277.6h3.4v3.4h-3.4zM83.3 280.6h3.4v3.4h-3.4zM95.4 286.6h3.4v3.4h-3.4zM1.8 301.6h3.4v3.4h-3.4zM44.1 310.6h3.4v3.4h-3.4zM50.1 319.6h6.4v3.4h-6.4zM89.3 319.6h3.4v3.4h-3.4zM98.4 319.6h3.4v3.4h-3.4zM86.3 322.6h3.4v3.4h-3.4zM101.4 322.6h3.4v3.4h-3.4zM7.8 349.7h3.4v3.4h-3.4zM53.1 352.7h3.4v3.4h-3.4zM38.0 358.7h3.4v3.4h-3.4zM56.1 361.7h3.4v3.4h-3.4zM50.1 367.7h3.4v3.4h-3.4zM95.4 370.7h3.4v3.4h-3.4zM10.9 382.7h3.4v3.4h-3.4zM83.3 382.7h3.4v3.4h-3.4zM98.4 382.7h3.4v3.4h-3.4zM95.4 385.7h3.4v3.4h-3.4zM86.3 388.7h3.4v3.4h-3.4zM128.6 388.7h3.4v3.4h-3.4zM7.8 391.7h3.4v3.4h-3.4zM38.0 400.7h3.4v3.4h-3.4zM38.0 403.7h3.4v3.4h-3.4zM32.0 406.7h3.4v3.4h-3.4zM29.0 409.7h3.4v3.4h-3.4z"/>
<path shape-rendering="crispEdges" fill="#eb791f" d="M47.1 271.6h3.4v3.4h-3.4zM83.3 271.6h3.4v3.4h-3.4zM101.4 271.6h3.4v3.4h-3.4zM125.6 271.6h3.4v3.4h-3.4zM104.4 274.6h3.4v3.4h-3.4zM113.5 274.6h3.4v3.4h-3.4zM119.5 274.6h6.4v3.4h-6.4zM41.0 277.6h6.4v3.4h-6.4zM113.5 277.6h3.4v3.4h-3.4zM119.5 277.6h3.4v3.4h-3.4zM29.0 280.6h3.4v3.4h-3.4zM38.0 280.6h3.4v3.4h-3.4zM104.4 280.6h3.4v3.4h-3.4zM113.5 280.6h9.5v3.4h-9.5zM125.6 280.6h3.4v3.4h-3.4zM140.7 280.6h3.4v3.4h-3.4zM13.9 283.6h3.4v3.4h-3.4zM29.0 283.6h3.4v3.4h-3.4zM38.0 283.6h3.4v3.4h-3.4zM131.6 283.6h3.4v3.4h-3.4zM29.0 286.6h3.4v3.4h-3.4zM35.0 286.6h3.4v3.4h-3.4zM19.9 289.6h3.4v3.4h-3.4zM35.0 289.6h6.4v3.4h-6.4zM83.3 289.6h3.4v3.4h-3.4zM41.0 292.6h3.4v3.4h-3.4zM86.3 292.6h6.4v3.4h-6.4zM53.1 298.6h3.4v3.4h-3.4zM41.0 301.6h3.4v3.4h-3.4zM134.6 301.6h3.4v3.4h-3.4zM1.8 304.6h3.4v3.4h-3.4zM134.6 304.6h3.4v3.4h-3.4zM68.2 307.6h3.4v3.4h-3.4zM137.6 307.6h3.4v3.4h-3.4zM1.8 310.6h6.4v3.4h-6.4zM128.6 310.6h6.4v3.4h-6.4zM92.4 313.6h3.4v3.4h-3.4zM44.1 316.6h3.4v3.4h-3.4zM59.2 316.6h3.4v3.4h-3.4zM86.3 316.6h6.4v3.4h-6.4zM56.1 319.6h3.4v3.4h-3.4zM104.4 319.6h6.4v3.4h-6.4zM107.5 322.6h3.4v3.4h-3.4zM119.5 322.6h3.4v3.4h-3.4zM1.8 325.6h3.4v3.4h-3.4zM83.3 325.6h3.4v3.4h-3.4zM116.5 325.6h9.5v3.4h-9.5zM13.9 331.6h3.4v3.4h-3.4zM47.1 334.6h3.4v3.4h-3.4zM86.3 334.6h3.4v3.4h-3.4zM89.3 337.6h3.4v3.4h-3.4zM95.4 337.6h3.4v3.4h-3.4zM22.9 340.6h3.4v3.4h-3.4zM137.6 340.6h9.5v3.4h-9.5zM19.9 343.6h3.4v3.4h-3.4zM38.0 346.7h6.4v3.4h-6.4zM35.0 349.7h6.4v3.4h-6.4zM44.1 349.7h3.4v3.4h-3.4zM89.3 349.7h6.4v3.4h-6.4zM68.2 352.7h3.4v3.4h-3.4zM71.2 355.7h3.4v3.4h-3.4zM131.6 355.7h3.4v3.4h-3.4zM35.0 358.7h3.4v3.4h-3.4zM131.6 358.7h3.4v3.4h-3.4zM59.2 361.7h9.5v3.4h-9.5zM134.6 361.7h3.4v3.4h-3.4zM62.2 364.7h3.4v3.4h-3.4zM86.3 367.7h3.4v3.4h-3.4zM1.8 370.7h3.4v3.4h-3.4zM50.1 370.7h3.4v3.4h-3.4zM83.3 370.7h3.4v3.4h-3.4zM98.4 370.7h3.4v3.4h-3.4zM4.8 373.7h3.4v3.4h-3.4zM38.0 373.7h3.4v3.4h-3.4zM38.0 376.7h3.4v3.4h-3.4zM47.1 376.7h3.4v3.4h-3.4zM104.4 376.7h3.4v3.4h-3.4zM41.0 379.7h3.4v3.4h-3.4zM104.4 382.7h3.4v3.4h-3.4zM125.6 385.7h3.4v3.4h-3.4zM134.6 385.7h3.4v3.4h-3.4zM16.9 388.7h3.4v3.4h-3.4zM125.6 388.7h3.4v3.4h-3.4zM13.9 391.7h3.4v3.4h-3.4zM19.9 391.7h3.4v3.4h-3.4zM29.0 397.7h3.4v3.4h-3.4zM35.0 397.7h3.4v3.4h-3.4zM74.2 397.7h6.4v3.4h-6.4zM71.2 400.7h3.4v3.4h-3.4zM80.3 400.7h3.4v3.4h-3.4zM25.9 403.7h6.4v3.4h-6.4zM74.2 403.7h3.4v3.4h-3.4zM122.5 403.7h3.4v3.4h-3.4zM25.9 406.7h6.4v3.4h-6.4zM47.1 406.7h3.4v3.4h-3.4zM134.6 406.7h3.4v3.4h-3.4zM25.9 409.7h3.4v3.4h-3.4zM47.1 409.7h3.4v3.4h-3.4zM25.9 412.7h3.4v3.4h-3.4zM47.1 412.7h3.4v3.4h-3.4z"/>
<path shape-rendering="crispEdges" fill="#e46814" d="M50.1 271.6h3.4v3.4h-3.4zM104.4 271.6h9.5v3.4h-9.5zM119.5 271.6h3.4v3.4h-3.4zM140.7 271.6h3.4v3.4h-3.4zM47.1 274.6h3.4v3.4h-3.4zM80.3 274.6h3.4v3.4h-3.4zM110.5 274.6h3.4v3.4h-3.4zM143.7 274.6h3.4v3.4h-3.4zM25.9 277.6h3.4v3.4h-3.4zM125.6 277.6h6.4v3.4h-6.4zM22.9 280.6h3.4v3.4h-3.4zM128.6 280.6h3.4v3.4h-3.4zM134.6 280.6h3.4v3.4h-3.4zM16.9 283.6h3.4v3.4h-3.4zM80.3 283.6h3.4v3.4h-3.4zM125.6 283.6h3.4v3.4h-3.4zM134.6 283.6h3.4v3.4h-3.4zM104.4 286.6h3.4v3.4h-3.4zM131.6 286.6h3.4v3.4h-3.4zM22.9 289.6h3.4v3.4h-3.4zM32.0 289.6h3.4v3.4h-3.4zM41.0 289.6h3.4v3.4h-3.4zM128.6 289.6h3.4v3.4h-3.4zM95.4 292.6h3.4v3.4h-3.4zM35.0 295.6h3.4v3.4h-3.4zM83.3 295.6h6.4v3.4h-6.4zM29.0 298.6h3.4v3.4h-3.4zM41.0 298.6h3.4v3.4h-3.4zM74.2 304.6h3.4v3.4h-3.4zM131.6 307.6h3.4v3.4h-3.4zM62.2 310.6h3.4v3.4h-3.4zM68.2 310.6h3.4v3.4h-3.4zM83.3 310.6h3.4v3.4h-3.4zM62.2 313.6h3.4v3.4h-3.4zM86.3 313.6h3.4v3.4h-3.4zM128.6 313.6h9.5v3.4h-9.5zM140.7 313.6h3.4v3.4h-3.4zM1.8 316.6h3.4v3.4h-3.4zM83.3 316.6h3.4v3.4h-3.4zM101.4 316.6h3.4v3.4h-3.4zM128.6 316.6h6.4v3.4h-6.4zM116.5 319.6h3.4v3.4h-3.4zM122.5 322.6h3.4v3.4h-3.4zM4.8 325.6h3.4v3.4h-3.4zM10.9 328.6h3.4v3.4h-3.4zM50.1 328.6h3.4v3.4h-3.4zM116.5 328.6h6.4v3.4h-6.4zM38.0 331.6h3.4v3.4h-3.4zM83.3 331.6h3.4v3.4h-3.4zM50.1 334.6h3.4v3.4h-3.4zM19.9 337.6h3.4v3.4h-3.4zM38.0 337.6h3.4v3.4h-3.4zM50.1 337.6h3.4v3.4h-3.4zM86.3 337.6h3.4v3.4h-3.4zM89.3 340.6h6.4v3.4h-6.4zM22.9 343.6h6.4v3.4h-6.4zM47.1 343.6h3.4v3.4h-3.4zM134.6 343.6h3.4v3.4h-3.4zM35.0 346.7h3.4v3.4h-3.4zM83.3 346.7h3.4v3.4h-3.4zM95.4 346.7h3.4v3.4h-3.4zM19.9 349.7h3.4v3.4h-3.4zM32.0 352.7h3.4v3.4h-3.4zM65.2 355.7h3.4v3.4h-3.4zM59.2 358.7h6.4v3.4h-6.4zM35.0 364.7h3.4v3.4h-3.4zM86.3 364.7h6.4v3.4h-6.4zM128.6 364.7h6.4v3.4h-6.4zM125.6 367.7h3.4v3.4h-3.4zM131.6 367.7h6.4v3.4h-6.4zM134.6 370.7h3.4v3.4h-3.4zM128.6 373.7h3.4v3.4h-3.4zM113.5 376.7h3.4v3.4h-3.4zM125.6 376.7h3.4v3.4h-3.4zM16.9 379.7h3.4v3.4h-3.4zM128.6 379.7h3.4v3.4h-3.4zM122.5 382.7h3.4v3.4h-3.4zM101.4 385.7h3.4v3.4h-3.4zM19.9 388.7h3.4v3.4h-3.4zM95.4 388.7h3.4v3.4h-3.4zM16.9 391.7h3.4v3.4h-3.4zM25.9 391.7h6.4v3.4h-6.4zM89.3 391.7h6.4v3.4h-6.4zM10.9 394.7h3.4v3.4h-3.4zM16.9 394.7h3.4v3.4h-3.4zM83.3 394.7h3.4v3.4h-3.4zM143.7 394.7h3.4v3.4h-3.4zM1.8 397.7h3.4v3.4h-3.4zM71.2 397.7h3.4v3.4h-3.4zM80.3 397.7h6.4v3.4h-6.4zM122.5 397.7h3.4v3.4h-3.4zM143.7 397.7h3.4v3.4h-3.4zM47.1 400.7h3.4v3.4h-3.4zM68.2 400.7h3.4v3.4h-3.4zM53.1 403.7h3.4v3.4h-3.4zM59.2 406.7h3.4v3.4h-3.4zM65.2 406.7h6.4v3.4h-6.4zM22.9 409.7h3.4v3.4h-3.4zM53.1 409.7h3.4v3.4h-3.4zM62.2 409.7h3.4v3.4h-3.4zM119.5 409.7h3.4v3.4h-3.4zM22.9 412.7h3.4v3.4h-3.4zM56.1 412.7h3.4v3.4h-3.4zM119.5 412.7h3.4v3.4h-3.4zM125.6 412.7h3.4v3.4h-3.4z"/>
<path shape-rendering="crispEdges" fill="#dc580c" d="M53.1 271.6h6.4v3.4h-6.4zM137.6 274.6h3.4v3.4h-3.4zM22.9 277.6h3.4v3.4h-3.4zM80.3 277.6h3.4v3.4h-3.4zM131.6 277.6h6.4v3.4h-6.4zM4.8 280.6h3.4v3.4h-3.4zM10.9 280.6h3.4v3.4h-3.4zM16.9 280.6h3.4v3.4h-3.4zM137.6 280.6h3.4v3.4h-3.4zM38.0 286.6h6.4v3.4h-6.4zM25.9 289.6h6.4v3.4h-6.4zM44.1 289.6h3.4v3.4h-3.4zM98.4 289.6h6.4v3.4h-6.4zM19.9 292.6h3.4v3.4h-3.4zM47.1 292.6h3.4v3.4h-3.4zM92.4 292.6h3.4v3.4h-3.4zM25.9 295.6h3.4v3.4h-3.4zM89.3 295.6h6.4v3.4h-6.4zM32.0 298.6h6.4v3.4h-6.4zM56.1 298.6h3.4v3.4h-3.4zM83.3 298.6h3.4v3.4h-3.4zM89.3 298.6h3.4v3.4h-3.4zM80.3 301.6h6.4v3.4h-6.4zM65.2 304.6h3.4v3.4h-3.4zM77.3 304.6h3.4v3.4h-3.4zM83.3 304.6h9.5v3.4h-9.5zM128.6 304.6h3.4v3.4h-3.4zM77.3 307.6h6.4v3.4h-6.4zM128.6 307.6h3.4v3.4h-3.4zM41.0 310.6h3.4v3.4h-3.4zM80.3 310.6h3.4v3.4h-3.4zM92.4 310.6h3.4v3.4h-3.4zM65.2 313.6h3.4v3.4h-3.4zM122.5 313.6h6.4v3.4h-6.4zM107.5 316.6h3.4v3.4h-3.4zM119.5 316.6h3.4v3.4h-3.4zM4.8 319.6h3.4v3.4h-3.4zM137.6 319.6h3.4v3.4h-3.4zM128.6 322.6h3.4v3.4h-3.4zM38.0 328.6h3.4v3.4h-3.4zM104.4 331.6h3.4v3.4h-3.4zM98.4 337.6h3.4v3.4h-3.4zM50.1 340.6h3.4v3.4h-3.4zM95.4 340.6h3.4v3.4h-3.4zM134.6 340.6h3.4v3.4h-3.4zM50.1 343.6h3.4v3.4h-3.4zM50.1 346.7h3.4v3.4h-3.4zM77.3 346.7h3.4v3.4h-3.4zM98.4 346.7h3.4v3.4h-3.4zM16.9 349.7h3.4v3.4h-3.4zM56.1 349.7h3.4v3.4h-3.4zM65.2 349.7h6.4v3.4h-6.4zM74.2 349.7h3.4v3.4h-3.4zM83.3 349.7h3.4v3.4h-3.4zM74.2 352.7h3.4v3.4h-3.4zM83.3 352.7h3.4v3.4h-3.4zM83.3 355.7h3.4v3.4h-3.4zM1.8 358.7h3.4v3.4h-3.4zM86.3 358.7h3.4v3.4h-3.4zM83.3 361.7h3.4v3.4h-3.4zM92.4 361.7h3.4v3.4h-3.4zM1.8 364.7h3.4v3.4h-3.4zM68.2 364.7h3.4v3.4h-3.4zM83.3 364.7h3.4v3.4h-3.4zM125.6 364.7h3.4v3.4h-3.4zM137.6 364.7h3.4v3.4h-3.4zM1.8 367.7h6.4v3.4h-6.4zM83.3 367.7h3.4v3.4h-3.4zM119.5 367.7h6.4v3.4h-6.4zM128.6 367.7h3.4v3.4h-3.4zM4.8 370.7h3.4v3.4h-3.4zM113.5 370.7h3.4v3.4h-3.4zM119.5 370.7h3.4v3.4h-3.4zM125.6 370.7h6.4v3.4h-6.4zM32.0 373.7h3.4v3.4h-3.4zM107.5 373.7h3.4v3.4h-3.4zM113.5 373.7h6.4v3.4h-6.4zM10.9 376.7h3.4v3.4h-3.4zM16.9 376.7h3.4v3.4h-3.4zM122.5 376.7h3.4v3.4h-3.4zM131.6 376.7h3.4v3.4h-3.4zM25.9 379.7h6.4v3.4h-6.4zM116.5 379.7h3.4v3.4h-3.4zM125.6 379.7h3.4v3.4h-3.4zM134.6 379.7h3.4v3.4h-3.4zM19.9 382.7h3.4v3.4h-3.4zM29.0 382.7h3.4v3.4h-3.4zM35.0 382.7h3.4v3.4h-3.4zM134.6 382.7h3.4v3.4h-3.4zM80.3 385.7h3.4v3.4h-3.4zM107.5 385.7h3.4v3.4h-3.4zM25.9 388.7h6.4v3.4h-6.4zM140.7 388.7h3.4v3.4h-3.4zM35.0 391.7h6.4v3.4h-6.4zM32.0 394.7h3.4v3.4h-3.4zM41.0 394.7h3.4v3.4h-3.4zM89.3 394.7h3.4v3.4h-3.4zM7.8 397.7h3.4v3.4h-3.4zM13.9 397.7h3.4v3.4h-3.4zM19.9 397.7h3.4v3.4h-3.4zM44.1 397.7h3.4v3.4h-3.4zM86.3 397.7h3.4v3.4h-3.4zM50.1 403.7h3.4v3.4h-3.4zM56.1 403.7h3.4v3.4h-3.4zM119.5 403.7h3.4v3.4h-3.4zM62.2 406.7h3.4v3.4h-3.4zM77.3 406.7h3.4v3.4h-3.4zM143.7 406.7h3.4v3.4h-3.4zM68.2 409.7h3.4v3.4h-3.4zM143.7 409.7h3.4v3.4h-3.4zM62.2 412.7h3.4v3.4h-3.4zM68.2 412.7h3.4v3.4h-3.4zM128.6 412.7h3.4v3.4h-3.4zM143.7 412.7h3.4v3.4h-3.4z"/>
<path shape-rendering="crispEdges" fill="#d24906" d="M59.2 271.6h3.4v3.4h-3.4zM71.2 271.6h6.4v3.4h-6.4zM50.1 277.6h3.4v3.4h-3.4zM1.8 280.6h3.4v3.4h-3.4zM13.9 280.6h3.4v3.4h-3.4zM19.9 280.6h3.4v3.4h-3.4zM47.1 280.6h3.4v3.4h-3.4zM80.3 280.6h3.4v3.4h-3.4zM116.5 286.6h3.4v3.4h-3.4zM104.4 289.6h3.4v3.4h-3.4zM22.9 292.6h3.4v3.4h-3.4zM22.9 295.6h3.4v3.4h-3.4zM95.4 295.6h3.4v3.4h-3.4zM128.6 295.6h3.4v3.4h-3.4zM59.2 298.6h3.4v3.4h-3.4zM35.0 301.6h6.4v3.4h-6.4zM62.2 301.6h3.4v3.4h-3.4zM71.2 301.6h3.4v3.4h-3.4zM10.9 304.6h3.4v3.4h-3.4zM38.0 304.6h3.4v3.4h-3.4zM80.3 304.6h3.4v3.4h-3.4zM125.6 307.6h3.4v3.4h-3.4zM7.8 310.6h3.4v3.4h-3.4zM95.4 310.6h3.4v3.4h-3.4zM4.8 313.6h3.4v3.4h-3.4zM41.0 313.6h3.4v3.4h-3.4zM68.2 313.6h3.4v3.4h-3.4zM95.4 313.6h3.4v3.4h-3.4zM119.5 313.6h3.4v3.4h-3.4zM7.8 316.6h3.4v3.4h-3.4zM62.2 316.6h3.4v3.4h-3.4zM110.5 316.6h6.4v3.4h-6.4zM143.7 316.6h3.4v3.4h-3.4zM41.0 319.6h3.4v3.4h-3.4zM80.3 319.6h3.4v3.4h-3.4zM140.7 319.6h3.4v3.4h-3.4zM7.8 322.6h3.4v3.4h-3.4zM80.3 322.6h3.4v3.4h-3.4zM137.6 322.6h3.4v3.4h-3.4zM10.9 325.6h3.4v3.4h-3.4zM38.0 325.6h3.4v3.4h-3.4zM35.0 328.6h3.4v3.4h-3.4zM134.6 328.6h6.4v3.4h-6.4zM113.5 331.6h3.4v3.4h-3.4zM119.5 331.6h3.4v3.4h-3.4zM22.9 334.6h3.4v3.4h-3.4zM125.6 334.6h6.4v3.4h-6.4zM137.6 334.6h6.4v3.4h-6.4zM32.0 337.6h3.4v3.4h-3.4zM83.3 337.6h3.4v3.4h-3.4zM140.7 337.6h6.4v3.4h-6.4zM38.0 340.6h3.4v3.4h-3.4zM98.4 340.6h3.4v3.4h-3.4zM83.3 343.6h3.4v3.4h-3.4zM98.4 343.6h3.4v3.4h-3.4zM80.3 346.7h3.4v3.4h-3.4zM131.6 346.7h3.4v3.4h-3.4zM62.2 349.7h3.4v3.4h-3.4zM77.3 349.7h3.4v3.4h-3.4zM59.2 352.7h6.4v3.4h-6.4zM77.3 352.7h3.4v3.4h-3.4zM86.3 352.7h3.4v3.4h-3.4zM92.4 352.7h3.4v3.4h-3.4zM98.4 352.7h3.4v3.4h-3.4zM86.3 355.7h3.4v3.4h-3.4zM128.6 355.7h3.4v3.4h-3.4zM95.4 358.7h3.4v3.4h-3.4zM74.2 361.7h3.4v3.4h-3.4zM80.3 364.7h3.4v3.4h-3.4zM62.2 367.7h6.4v3.4h-6.4zM80.3 367.7h3.4v3.4h-3.4zM101.4 367.7h3.4v3.4h-3.4zM116.5 367.7h3.4v3.4h-3.4zM7.8 370.7h3.4v3.4h-3.4zM80.3 373.7h3.4v3.4h-3.4zM137.6 373.7h3.4v3.4h-3.4zM19.9 376.7h6.4v3.4h-6.4zM50.1 376.7h3.4v3.4h-3.4zM35.0 379.7h3.4v3.4h-3.4zM80.3 379.7h3.4v3.4h-3.4zM110.5 382.7h3.4v3.4h-3.4zM116.5 382.7h3.4v3.4h-3.4zM38.0 385.7h3.4v3.4h-3.4zM110.5 385.7h3.4v3.4h-3.4zM119.5 385.7h3.4v3.4h-3.4zM98.4 388.7h9.5v3.4h-9.5zM41.0 391.7h3.4v3.4h-3.4zM74.2 391.7h6.4v3.4h-6.4zM95.4 391.7h3.4v3.4h-3.4zM68.2 394.7h3.4v3.4h-3.4zM65.2 397.7h3.4v3.4h-3.4zM16.9 400.7h6.4v3.4h-6.4zM86.3 400.7h3.4v3.4h-3.4zM19.9 403.7h3.4v3.4h-3.4zM83.3 403.7h3.4v3.4h-3.4zM83.3 406.7h3.4v3.4h-3.4zM80.3 409.7h6.4v3.4h-6.4zM116.5 409.7h3.4v3.4h-3.4zM131.6 409.7h3.4v3.4h-3.4zM65.2 412.7h3.4v3.4h-3.4zM71.2 412.7h3.4v3.4h-3.4zM140.7 412.7h3.4v3.4h-3.4z"/>
<path shape-rendering="crispEdges" fill="#d85008" d="M62.2 271.6h3.4v3.4h-3.4zM77.3 274.6h3.4v3.4h-3.4zM47.1 277.6h3.4v3.4h-3.4zM107.5 286.6h6.4v3.4h-6.4zM125.6 289.6h3.4v3.4h-3.4zM50.1 292.6h3.4v3.4h-3.4zM74.2 292.6h3.4v3.4h-3.4zM19.9 295.6h3.4v3.4h-3.4zM74.2 295.6h3.4v3.4h-3.4zM80.3 295.6h3.4v3.4h-3.4zM16.9 298.6h3.4v3.4h-3.4zM38.0 298.6h3.4v3.4h-3.4zM77.3 298.6h3.4v3.4h-3.4zM86.3 298.6h3.4v3.4h-3.4zM92.4 298.6h3.4v3.4h-3.4zM13.9 301.6h3.4v3.4h-3.4zM32.0 301.6h3.4v3.4h-3.4zM59.2 301.6h3.4v3.4h-3.4zM77.3 301.6h3.4v3.4h-3.4zM86.3 301.6h6.4v3.4h-6.4zM62.2 304.6h3.4v3.4h-3.4zM4.8 307.6h6.4v3.4h-6.4zM71.2 307.6h3.4v3.4h-3.4zM89.3 307.6h6.4v3.4h-6.4zM74.2 310.6h6.4v3.4h-6.4zM125.6 310.6h3.4v3.4h-3.4zM80.3 313.6h3.4v3.4h-3.4zM98.4 313.6h3.4v3.4h-3.4zM80.3 316.6h3.4v3.4h-3.4zM104.4 316.6h3.4v3.4h-3.4zM116.5 316.6h3.4v3.4h-3.4zM122.5 316.6h3.4v3.4h-3.4zM134.6 316.6h9.5v3.4h-9.5zM83.3 319.6h3.4v3.4h-3.4zM56.1 322.6h3.4v3.4h-3.4zM134.6 322.6h3.4v3.4h-3.4zM107.5 328.6h3.4v3.4h-3.4zM113.5 328.6h3.4v3.4h-3.4zM128.6 328.6h3.4v3.4h-3.4zM16.9 331.6h6.4v3.4h-6.4zM122.5 331.6h3.4v3.4h-3.4zM128.6 331.6h3.4v3.4h-3.4zM134.6 331.6h3.4v3.4h-3.4zM35.0 334.6h3.4v3.4h-3.4zM83.3 334.6h3.4v3.4h-3.4zM131.6 334.6h6.4v3.4h-6.4zM22.9 337.6h9.5v3.4h-9.5zM131.6 340.6h3.4v3.4h-3.4zM35.0 343.6h3.4v3.4h-3.4zM131.6 343.6h3.4v3.4h-3.4zM25.9 349.7h3.4v3.4h-3.4zM71.2 349.7h3.4v3.4h-3.4zM80.3 349.7h3.4v3.4h-3.4zM98.4 349.7h3.4v3.4h-3.4zM131.6 349.7h3.4v3.4h-3.4zM10.9 352.7h6.4v3.4h-6.4zM32.0 355.7h3.4v3.4h-3.4zM80.3 355.7h3.4v3.4h-3.4zM92.4 355.7h3.4v3.4h-3.4zM4.8 358.7h3.4v3.4h-3.4zM74.2 358.7h3.4v3.4h-3.4zM83.3 358.7h3.4v3.4h-3.4zM89.3 358.7h3.4v3.4h-3.4zM89.3 361.7h3.4v3.4h-3.4zM128.6 361.7h3.4v3.4h-3.4zM95.4 364.7h3.4v3.4h-3.4zM140.7 364.7h3.4v3.4h-3.4zM59.2 367.7h3.4v3.4h-3.4zM98.4 367.7h3.4v3.4h-3.4zM104.4 367.7h3.4v3.4h-3.4zM80.3 370.7h3.4v3.4h-3.4zM110.5 370.7h3.4v3.4h-3.4zM116.5 370.7h3.4v3.4h-3.4zM122.5 370.7h3.4v3.4h-3.4zM137.6 370.7h3.4v3.4h-3.4zM122.5 373.7h3.4v3.4h-3.4zM25.9 376.7h9.5v3.4h-9.5zM80.3 376.7h3.4v3.4h-3.4zM32.0 379.7h3.4v3.4h-3.4zM119.5 379.7h3.4v3.4h-3.4zM32.0 382.7h3.4v3.4h-3.4zM44.1 382.7h6.4v3.4h-6.4zM80.3 382.7h3.4v3.4h-3.4zM25.9 385.7h12.5v3.4h-12.5zM41.0 385.7h3.4v3.4h-3.4zM137.6 385.7h3.4v3.4h-3.4zM32.0 388.7h3.4v3.4h-3.4zM38.0 388.7h3.4v3.4h-3.4zM32.0 391.7h3.4v3.4h-3.4zM122.5 391.7h3.4v3.4h-3.4zM13.9 394.7h3.4v3.4h-3.4zM119.5 394.7h6.4v3.4h-6.4zM22.9 400.7h3.4v3.4h-3.4zM50.1 400.7h3.4v3.4h-3.4zM83.3 400.7h3.4v3.4h-3.4zM59.2 403.7h6.4v3.4h-6.4zM143.7 403.7h3.4v3.4h-3.4zM74.2 409.7h3.4v3.4h-3.4zM74.2 412.7h3.4v3.4h-3.4zM80.3 412.7h3.4v3.4h-3.4zM116.5 412.7h3.4v3.4h-3.4z"/>
<path shape-rendering="crispEdges" fill="#e87018" d="M77.3 271.6h3.4v3.4h-3.4zM113.5 271.6h3.4v3.4h-3.4zM122.5 271.6h3.4v3.4h-3.4zM137.6 271.6h3.4v3.4h-3.4zM143.7 271.6h3.4v3.4h-3.4zM29.0 274.6h3.4v3.4h-3.4zM101.4 274.6h3.4v3.4h-3.4zM107.5 274.6h3.4v3.4h-3.4zM116.5 274.6h3.4v3.4h-3.4zM128.6 274.6h3.4v3.4h-3.4zM143.7 277.6h3.4v3.4h-3.4zM25.9 280.6h3.4v3.4h-3.4zM41.0 280.6h3.4v3.4h-3.4zM122.5 280.6h3.4v3.4h-3.4zM35.0 283.6h3.4v3.4h-3.4zM104.4 283.6h3.4v3.4h-3.4zM110.5 283.6h3.4v3.4h-3.4zM122.5 283.6h3.4v3.4h-3.4zM19.9 286.6h3.4v3.4h-3.4zM25.9 286.6h3.4v3.4h-3.4zM32.0 286.6h3.4v3.4h-3.4zM128.6 286.6h3.4v3.4h-3.4zM80.3 289.6h3.4v3.4h-3.4zM32.0 292.6h6.4v3.4h-6.4zM80.3 292.6h6.4v3.4h-6.4zM13.9 298.6h3.4v3.4h-3.4zM10.9 301.6h3.4v3.4h-3.4zM4.8 304.6h3.4v3.4h-3.4zM41.0 304.6h3.4v3.4h-3.4zM59.2 304.6h3.4v3.4h-3.4zM1.8 307.6h3.4v3.4h-3.4zM41.0 307.6h3.4v3.4h-3.4zM134.6 307.6h3.4v3.4h-3.4zM86.3 310.6h3.4v3.4h-3.4zM134.6 310.6h3.4v3.4h-3.4zM140.7 310.6h3.4v3.4h-3.4zM1.8 313.6h3.4v3.4h-3.4zM110.5 319.6h6.4v3.4h-6.4zM83.3 322.6h3.4v3.4h-3.4zM113.5 322.6h6.4v3.4h-6.4zM125.6 322.6h3.4v3.4h-3.4zM44.1 325.6h3.4v3.4h-3.4zM107.5 325.6h3.4v3.4h-3.4zM125.6 325.6h6.4v3.4h-6.4zM83.3 328.6h3.4v3.4h-3.4zM10.9 331.6h3.4v3.4h-3.4zM16.9 334.6h3.4v3.4h-3.4zM41.0 337.6h3.4v3.4h-3.4zM47.1 337.6h3.4v3.4h-3.4zM44.1 340.6h3.4v3.4h-3.4zM32.0 343.6h3.4v3.4h-3.4zM44.1 343.6h3.4v3.4h-3.4zM89.3 343.6h3.4v3.4h-3.4zM19.9 346.7h3.4v3.4h-3.4zM29.0 346.7h3.4v3.4h-3.4zM44.1 346.7h6.4v3.4h-6.4zM89.3 346.7h3.4v3.4h-3.4zM134.6 346.7h3.4v3.4h-3.4zM13.9 349.7h3.4v3.4h-3.4zM7.8 352.7h3.4v3.4h-3.4zM65.2 352.7h3.4v3.4h-3.4zM71.2 352.7h3.4v3.4h-3.4zM35.0 355.7h3.4v3.4h-3.4zM59.2 355.7h3.4v3.4h-3.4zM56.1 358.7h3.4v3.4h-3.4zM68.2 358.7h6.4v3.4h-6.4zM131.6 361.7h3.4v3.4h-3.4zM59.2 364.7h3.4v3.4h-3.4zM134.6 364.7h3.4v3.4h-3.4zM35.0 367.7h3.4v3.4h-3.4zM101.4 370.7h3.4v3.4h-3.4zM131.6 370.7h3.4v3.4h-3.4zM35.0 373.7h3.4v3.4h-3.4zM50.1 373.7h3.4v3.4h-3.4zM104.4 373.7h3.4v3.4h-3.4zM35.0 376.7h3.4v3.4h-3.4zM13.9 379.7h3.4v3.4h-3.4zM104.4 379.7h9.5v3.4h-9.5zM131.6 379.7h3.4v3.4h-3.4zM16.9 382.7h3.4v3.4h-3.4zM107.5 382.7h3.4v3.4h-3.4zM125.6 382.7h9.5v3.4h-9.5zM16.9 385.7h9.5v3.4h-9.5zM80.3 391.7h3.4v3.4h-3.4zM19.9 394.7h3.4v3.4h-3.4zM29.0 394.7h3.4v3.4h-3.4zM35.0 394.7h3.4v3.4h-3.4zM77.3 394.7h3.4v3.4h-3.4zM22.9 397.7h3.4v3.4h-3.4zM38.0 397.7h6.4v3.4h-6.4zM25.9 400.7h3.4v3.4h-3.4zM44.1 400.7h3.4v3.4h-3.4zM77.3 400.7h3.4v3.4h-3.4zM77.3 403.7h6.4v3.4h-6.4zM22.9 406.7h3.4v3.4h-3.4zM50.1 406.7h3.4v3.4h-3.4zM71.2 406.7h3.4v3.4h-3.4zM50.1 409.7h3.4v3.4h-3.4zM65.2 409.7h3.4v3.4h-3.4zM59.2 412.7h3.4v3.4h-3.4zM122.5 412.7h3.4v3.4h-3.4z"/>
<path shape-rendering="crispEdges" fill="#ee8226" d="M86.3 271.6h3.4v3.4h-3.4zM95.4 271.6h6.4v3.4h-6.4zM44.1 274.6h3.4v3.4h-3.4zM83.3 274.6h3.4v3.4h-3.4zM101.4 277.6h9.5v3.4h-9.5zM35.0 280.6h3.4v3.4h-3.4zM143.7 280.6h3.4v3.4h-3.4zM19.9 283.6h3.4v3.4h-3.4zM25.9 283.6h3.4v3.4h-3.4zM119.5 283.6h3.4v3.4h-3.4zM83.3 286.6h3.4v3.4h-3.4zM101.4 286.6h3.4v3.4h-3.4zM86.3 289.6h6.4v3.4h-6.4zM131.6 289.6h3.4v3.4h-3.4zM16.9 292.6h3.4v3.4h-3.4zM38.0 292.6h3.4v3.4h-3.4zM131.6 292.6h3.4v3.4h-3.4zM44.1 295.6h6.4v3.4h-6.4zM131.6 295.6h3.4v3.4h-3.4zM10.9 298.6h3.4v3.4h-3.4zM7.8 301.6h3.4v3.4h-3.4zM56.1 304.6h3.4v3.4h-3.4zM86.3 307.6h3.4v3.4h-3.4zM137.6 310.6h3.4v3.4h-3.4zM89.3 313.6h3.4v3.4h-3.4zM92.4 316.6h3.4v3.4h-3.4zM1.8 319.6h3.4v3.4h-3.4zM44.1 319.6h3.4v3.4h-3.4zM53.1 322.6h3.4v3.4h-3.4zM110.5 322.6h3.4v3.4h-3.4zM41.0 325.6h3.4v3.4h-3.4zM4.8 328.6h3.4v3.4h-3.4zM41.0 328.6h3.4v3.4h-3.4zM47.1 328.6h3.4v3.4h-3.4zM104.4 328.6h3.4v3.4h-3.4zM122.5 328.6h3.4v3.4h-3.4zM41.0 331.6h3.4v3.4h-3.4zM41.0 334.6h3.4v3.4h-3.4zM44.1 337.6h3.4v3.4h-3.4zM92.4 337.6h3.4v3.4h-3.4zM19.9 340.6h3.4v3.4h-3.4zM16.9 346.7h3.4v3.4h-3.4zM32.0 346.7h3.4v3.4h-3.4zM92.4 346.7h3.4v3.4h-3.4zM4.8 352.7h3.4v3.4h-3.4zM131.6 352.7h3.4v3.4h-3.4zM56.1 355.7h3.4v3.4h-3.4zM92.4 367.7h6.4v3.4h-6.4zM47.1 373.7h3.4v3.4h-3.4zM7.8 376.7h3.4v3.4h-3.4zM41.0 376.7h3.4v3.4h-3.4zM83.3 376.7h3.4v3.4h-3.4zM10.9 379.7h3.4v3.4h-3.4zM13.9 385.7h3.4v3.4h-3.4zM98.4 385.7h3.4v3.4h-3.4zM128.6 385.7h6.4v3.4h-6.4zM137.6 388.7h3.4v3.4h-3.4zM83.3 391.7h6.4v3.4h-6.4zM125.6 391.7h3.4v3.4h-3.4zM140.7 391.7h3.4v3.4h-3.4zM80.3 394.7h3.4v3.4h-3.4zM32.0 397.7h3.4v3.4h-3.4zM29.0 400.7h3.4v3.4h-3.4zM41.0 400.7h3.4v3.4h-3.4zM44.1 403.7h6.4v3.4h-6.4zM137.6 403.7h6.4v3.4h-6.4zM131.6 406.7h3.4v3.4h-3.4zM122.5 409.7h6.4v3.4h-6.4z"/>
<path shape-rendering="crispEdges" fill="#f08b2d" d="M89.3 271.6h3.4v3.4h-3.4zM32.0 274.6h3.4v3.4h-3.4zM98.4 274.6h3.4v3.4h-3.4zM110.5 277.6h3.4v3.4h-3.4zM116.5 277.6h3.4v3.4h-3.4zM122.5 277.6h3.4v3.4h-3.4zM32.0 280.6h3.4v3.4h-3.4zM107.5 280.6h6.4v3.4h-6.4zM4.8 283.6h3.4v3.4h-3.4zM32.0 283.6h3.4v3.4h-3.4zM83.3 283.6h3.4v3.4h-3.4zM137.6 283.6h9.5v3.4h-9.5zM16.9 286.6h3.4v3.4h-3.4zM98.4 286.6h3.4v3.4h-3.4zM44.1 298.6h3.4v3.4h-3.4zM59.2 307.6h3.4v3.4h-3.4zM59.2 310.6h3.4v3.4h-3.4zM143.7 310.6h3.4v3.4h-3.4zM44.1 313.6h3.4v3.4h-3.4zM59.2 313.6h3.4v3.4h-3.4zM98.4 316.6h3.4v3.4h-3.4zM86.3 319.6h3.4v3.4h-3.4zM101.4 319.6h3.4v3.4h-3.4zM104.4 322.6h3.4v3.4h-3.4zM104.4 325.6h3.4v3.4h-3.4zM44.1 328.6h3.4v3.4h-3.4zM13.9 334.6h3.4v3.4h-3.4zM44.1 334.6h3.4v3.4h-3.4zM89.3 334.6h3.4v3.4h-3.4zM95.4 334.6h6.4v3.4h-6.4zM16.9 337.6h3.4v3.4h-3.4zM10.9 349.7h3.4v3.4h-3.4zM41.0 349.7h3.4v3.4h-3.4zM134.6 349.7h3.4v3.4h-3.4zM65.2 358.7h3.4v3.4h-3.4zM143.7 358.7h3.4v3.4h-3.4zM68.2 361.7h3.4v3.4h-3.4zM137.6 361.7h3.4v3.4h-3.4zM53.1 367.7h3.4v3.4h-3.4zM89.3 367.7h3.4v3.4h-3.4zM38.0 370.7h3.4v3.4h-3.4zM86.3 370.7h3.4v3.4h-3.4zM44.1 373.7h3.4v3.4h-3.4zM83.3 373.7h3.4v3.4h-3.4zM101.4 373.7h3.4v3.4h-3.4zM44.1 376.7h3.4v3.4h-3.4zM101.4 379.7h3.4v3.4h-3.4zM13.9 388.7h3.4v3.4h-3.4zM10.9 391.7h3.4v3.4h-3.4zM4.8 394.7h3.4v3.4h-3.4zM125.6 394.7h3.4v3.4h-3.4zM32.0 400.7h3.4v3.4h-3.4zM74.2 400.7h3.4v3.4h-3.4zM122.5 400.7h3.4v3.4h-3.4zM32.0 403.7h3.4v3.4h-3.4zM122.5 406.7h9.5v3.4h-9.5zM29.0 412.7h3.4v3.4h-3.4z"/>
<path shape-rendering="crispEdges" fill="#a82200" d="M4.8 274.6h3.4v3.4h-3.4zM16.9 274.6h6.4v3.4h-6.4zM7.8 277.6h6.4v3.4h-6.4zM53.1 277.6h3.4v3.4h-3.4zM59.2 277.6h3.4v3.4h-3.4zM74.2 277.6h3.4v3.4h-3.4zM71.2 280.6h6.4v3.4h-6.4zM53.1 289.6h3.4v3.4h-3.4zM119.5 289.6h3.4v3.4h-3.4zM68.2 292.6h3.4v3.4h-3.4zM107.5 292.6h3.4v3.4h-3.4zM59.2 295.6h12.5v3.4h-12.5zM125.6 295.6h3.4v3.4h-3.4zM122.5 298.6h3.4v3.4h-3.4zM19.9 301.6h6.4v3.4h-6.4zM98.4 301.6h3.4v3.4h-3.4zM19.9 304.6h3.4v3.4h-3.4zM29.0 304.6h3.4v3.4h-3.4zM98.4 304.6h3.4v3.4h-3.4zM16.9 307.6h3.4v3.4h-3.4zM98.4 307.6h3.4v3.4h-3.4zM119.5 307.6h3.4v3.4h-3.4zM38.0 310.6h3.4v3.4h-3.4zM101.4 310.6h3.4v3.4h-3.4zM116.5 310.6h3.4v3.4h-3.4zM38.0 313.6h3.4v3.4h-3.4zM104.4 313.6h3.4v3.4h-3.4zM110.5 313.6h3.4v3.4h-3.4zM13.9 319.6h3.4v3.4h-3.4zM38.0 319.6h3.4v3.4h-3.4zM77.3 319.6h3.4v3.4h-3.4zM13.9 322.6h3.4v3.4h-3.4zM35.0 322.6h3.4v3.4h-3.4zM62.2 322.6h3.4v3.4h-3.4zM77.3 322.6h3.4v3.4h-3.4zM22.9 328.6h3.4v3.4h-3.4zM143.7 328.6h3.4v3.4h-3.4zM110.5 334.6h3.4v3.4h-3.4zM119.5 337.6h9.5v3.4h-9.5zM122.5 340.6h6.4v3.4h-6.4zM68.2 343.6h3.4v3.4h-3.4zM125.6 343.6h6.4v3.4h-6.4zM65.2 346.7h3.4v3.4h-3.4zM125.6 346.7h3.4v3.4h-3.4zM125.6 349.7h3.4v3.4h-3.4zM13.9 355.7h3.4v3.4h-3.4zM125.6 355.7h3.4v3.4h-3.4zM29.0 358.7h3.4v3.4h-3.4zM101.4 361.7h3.4v3.4h-3.4zM101.4 364.7h3.4v3.4h-3.4zM32.0 367.7h3.4v3.4h-3.4zM74.2 367.7h3.4v3.4h-3.4zM143.7 367.7h3.4v3.4h-3.4zM62.2 370.7h3.4v3.4h-3.4zM74.2 370.7h3.4v3.4h-3.4zM19.9 373.7h3.4v3.4h-3.4zM56.1 373.7h3.4v3.4h-3.4zM77.3 376.7h3.4v3.4h-3.4zM53.1 379.7h3.4v3.4h-3.4zM77.3 379.7h3.4v3.4h-3.4zM140.7 379.7h3.4v3.4h-3.4zM53.1 382.7h3.4v3.4h-3.4zM143.7 385.7h3.4v3.4h-3.4zM47.1 388.7h3.4v3.4h-3.4zM71.2 388.7h3.4v3.4h-3.4zM110.5 388.7h3.4v3.4h-3.4zM65.2 391.7h3.4v3.4h-3.4zM98.4 391.7h3.4v3.4h-3.4zM104.4 391.7h3.4v3.4h-3.4zM50.1 394.7h3.4v3.4h-3.4zM56.1 394.7h3.4v3.4h-3.4zM98.4 394.7h6.4v3.4h-6.4zM56.1 397.7h3.4v3.4h-3.4zM92.4 397.7h3.4v3.4h-3.4zM1.8 403.7h6.4v3.4h-6.4zM13.9 403.7h3.4v3.4h-3.4zM89.3 403.7h3.4v3.4h-3.4zM1.8 406.7h3.4v3.4h-3.4zM110.5 406.7h6.4v3.4h-6.4zM92.4 409.7h6.4v3.4h-6.4zM95.4 412.7h3.4v3.4h-3.4zM107.5 412.7h6.4v3.4h-6.4z"/>
<path shape-rendering="crispEdges" fill="#c63b02" d="M22.9 274.6h3.4v3.4h-3.4zM74.2 274.6h3.4v3.4h-3.4zM19.9 277.6h3.4v3.4h-3.4zM44.1 283.6h3.4v3.4h-3.4zM77.3 283.6h3.4v3.4h-3.4zM77.3 286.6h3.4v3.4h-3.4zM113.5 286.6h3.4v3.4h-3.4zM122.5 286.6h3.4v3.4h-3.4zM47.1 289.6h6.4v3.4h-6.4zM56.1 295.6h3.4v3.4h-3.4zM22.9 298.6h6.4v3.4h-6.4zM29.0 301.6h3.4v3.4h-3.4zM128.6 301.6h3.4v3.4h-3.4zM35.0 304.6h3.4v3.4h-3.4zM125.6 304.6h3.4v3.4h-3.4zM10.9 307.6h3.4v3.4h-3.4zM38.0 307.6h3.4v3.4h-3.4zM95.4 307.6h3.4v3.4h-3.4zM122.5 310.6h3.4v3.4h-3.4zM10.9 313.6h3.4v3.4h-3.4zM74.2 313.6h3.4v3.4h-3.4zM101.4 313.6h3.4v3.4h-3.4zM41.0 316.6h3.4v3.4h-3.4zM143.7 319.6h3.4v3.4h-3.4zM80.3 325.6h3.4v3.4h-3.4zM140.7 325.6h3.4v3.4h-3.4zM16.9 328.6h3.4v3.4h-3.4zM29.0 331.6h3.4v3.4h-3.4zM116.5 331.6h3.4v3.4h-3.4zM25.9 334.6h3.4v3.4h-3.4zM53.1 334.6h3.4v3.4h-3.4zM128.6 337.6h3.4v3.4h-3.4zM53.1 340.6h3.4v3.4h-3.4zM80.3 340.6h3.4v3.4h-3.4zM53.1 343.6h3.4v3.4h-3.4zM71.2 346.7h3.4v3.4h-3.4zM29.0 352.7h3.4v3.4h-3.4zM95.4 355.7h3.4v3.4h-3.4zM32.0 358.7h3.4v3.4h-3.4zM77.3 358.7h3.4v3.4h-3.4zM92.4 358.7h3.4v3.4h-3.4zM128.6 358.7h3.4v3.4h-3.4zM4.8 361.7h3.4v3.4h-3.4zM4.8 364.7h3.4v3.4h-3.4zM98.4 364.7h3.4v3.4h-3.4zM122.5 364.7h3.4v3.4h-3.4zM107.5 367.7h3.4v3.4h-3.4zM113.5 367.7h3.4v3.4h-3.4zM56.1 370.7h3.4v3.4h-3.4zM107.5 370.7h3.4v3.4h-3.4zM13.9 373.7h3.4v3.4h-3.4zM137.6 379.7h3.4v3.4h-3.4zM119.5 382.7h3.4v3.4h-3.4zM137.6 382.7h3.4v3.4h-3.4zM44.1 385.7h3.4v3.4h-3.4zM113.5 385.7h3.4v3.4h-3.4zM41.0 388.7h3.4v3.4h-3.4zM107.5 388.7h3.4v3.4h-3.4zM143.7 388.7h3.4v3.4h-3.4zM92.4 394.7h3.4v3.4h-3.4zM116.5 394.7h3.4v3.4h-3.4zM62.2 397.7h3.4v3.4h-3.4zM16.9 403.7h3.4v3.4h-3.4zM116.5 406.7h3.4v3.4h-3.4zM137.6 409.7h3.4v3.4h-3.4zM89.3 412.7h3.4v3.4h-3.4zM137.6 412.7h3.4v3.4h-3.4z"/>
<path shape-rendering="crispEdges" fill="#c03400" d="M56.1 274.6h3.4v3.4h-3.4zM65.2 274.6h3.4v3.4h-3.4zM71.2 274.6h3.4v3.4h-3.4zM77.3 277.6h3.4v3.4h-3.4zM50.1 286.6h3.4v3.4h-3.4zM122.5 289.6h3.4v3.4h-3.4zM125.6 292.6h3.4v3.4h-3.4zM98.4 295.6h3.4v3.4h-3.4zM71.2 298.6h3.4v3.4h-3.4zM98.4 298.6h3.4v3.4h-3.4zM16.9 301.6h3.4v3.4h-3.4zM95.4 301.6h3.4v3.4h-3.4zM16.9 304.6h3.4v3.4h-3.4zM95.4 304.6h3.4v3.4h-3.4zM119.5 310.6h3.4v3.4h-3.4zM71.2 313.6h3.4v3.4h-3.4zM10.9 316.6h3.4v3.4h-3.4zM68.2 316.6h3.4v3.4h-3.4zM77.3 316.6h3.4v3.4h-3.4zM10.9 319.6h3.4v3.4h-3.4zM10.9 322.6h3.4v3.4h-3.4zM140.7 322.6h6.4v3.4h-6.4zM13.9 325.6h3.4v3.4h-3.4zM35.0 325.6h3.4v3.4h-3.4zM143.7 325.6h3.4v3.4h-3.4zM80.3 328.6h3.4v3.4h-3.4zM22.9 331.6h3.4v3.4h-3.4zM80.3 331.6h3.4v3.4h-3.4zM107.5 331.6h6.4v3.4h-6.4zM137.6 331.6h6.4v3.4h-6.4zM80.3 334.6h3.4v3.4h-3.4zM104.4 334.6h3.4v3.4h-3.4zM101.4 337.6h3.4v3.4h-3.4zM101.4 340.6h3.4v3.4h-3.4zM77.3 343.6h6.4v3.4h-6.4zM56.1 346.7h3.4v3.4h-3.4zM68.2 346.7h3.4v3.4h-3.4zM128.6 346.7h3.4v3.4h-3.4zM16.9 352.7h6.4v3.4h-6.4zM10.9 355.7h3.4v3.4h-3.4zM125.6 358.7h3.4v3.4h-3.4zM77.3 361.7h3.4v3.4h-3.4zM77.3 364.7h3.4v3.4h-3.4zM113.5 364.7h3.4v3.4h-3.4zM7.8 367.7h3.4v3.4h-3.4zM77.3 367.7h3.4v3.4h-3.4zM140.7 367.7h3.4v3.4h-3.4zM32.0 370.7h3.4v3.4h-3.4zM16.9 373.7h3.4v3.4h-3.4zM25.9 373.7h3.4v3.4h-3.4zM50.1 379.7h3.4v3.4h-3.4zM77.3 385.7h3.4v3.4h-3.4zM44.1 388.7h3.4v3.4h-3.4zM113.5 388.7h3.4v3.4h-3.4zM119.5 388.7h3.4v3.4h-3.4zM71.2 391.7h3.4v3.4h-3.4zM116.5 391.7h3.4v3.4h-3.4zM95.4 394.7h3.4v3.4h-3.4zM50.1 397.7h3.4v3.4h-3.4zM89.3 397.7h3.4v3.4h-3.4zM56.1 400.7h3.4v3.4h-3.4zM89.3 400.7h3.4v3.4h-3.4zM86.3 403.7h3.4v3.4h-3.4zM116.5 403.7h3.4v3.4h-3.4zM89.3 406.7h3.4v3.4h-3.4zM16.9 409.7h3.4v3.4h-3.4zM134.6 409.7h3.4v3.4h-3.4zM86.3 412.7h3.4v3.4h-3.4z"/>
<path shape-rendering="crispEdges" fill="#f6a64e" d="M86.3 274.6h3.4v3.4h-3.4zM38.0 277.6h3.4v3.4h-3.4zM86.3 286.6h3.4v3.4h-3.4zM16.9 289.6h3.4v3.4h-3.4zM134.6 298.6h3.4v3.4h-3.4zM44.1 304.6h3.4v3.4h-3.4zM44.1 307.6h3.4v3.4h-3.4zM56.1 307.6h3.4v3.4h-3.4zM47.1 316.6h3.4v3.4h-3.4zM47.1 319.6h3.4v3.4h-3.4zM92.4 319.6h3.4v3.4h-3.4zM50.1 322.6h3.4v3.4h-3.4zM1.8 328.6h3.4v3.4h-3.4zM7.8 331.6h3.4v3.4h-3.4zM47.1 331.6h3.4v3.4h-3.4zM13.9 343.6h3.4v3.4h-3.4zM13.9 346.7h3.4v3.4h-3.4zM1.8 349.7h6.4v3.4h-6.4zM47.1 349.7h3.4v3.4h-3.4zM41.0 352.7h3.4v3.4h-3.4zM134.6 352.7h3.4v3.4h-3.4zM38.0 367.7h3.4v3.4h-3.4zM41.0 370.7h3.4v3.4h-3.4zM1.8 373.7h3.4v3.4h-3.4zM98.4 373.7h3.4v3.4h-3.4zM1.8 376.7h3.4v3.4h-3.4zM83.3 379.7h3.4v3.4h-3.4zM101.4 382.7h3.4v3.4h-3.4zM89.3 388.7h3.4v3.4h-3.4zM125.6 397.7h3.4v3.4h-3.4zM140.7 397.7h3.4v3.4h-3.4zM35.0 400.7h3.4v3.4h-3.4zM41.0 403.7h3.4v3.4h-3.4zM131.6 403.7h3.4v3.4h-3.4zM32.0 409.7h3.4v3.4h-3.4zM44.1 409.7h3.4v3.4h-3.4zM35.0 412.7h3.4v3.4h-3.4z"/>
<path shape-rendering="crispEdges" fill="#fac883" d="M89.3 274.6h3.4v3.4h-3.4zM86.3 277.6h3.4v3.4h-3.4zM92.4 277.6h3.4v3.4h-3.4zM7.8 286.6h3.4v3.4h-3.4zM13.9 292.6h3.4v3.4h-3.4zM50.1 301.6h3.4v3.4h-3.4zM137.6 301.6h3.4v3.4h-3.4zM53.1 307.6h3.4v3.4h-3.4zM7.8 334.6h3.4v3.4h-3.4zM140.7 346.7h3.4v3.4h-3.4zM137.6 352.7h3.4v3.4h-3.4zM41.0 355.7h3.4v3.4h-3.4zM50.1 361.7h3.4v3.4h-3.4zM44.1 367.7h3.4v3.4h-3.4zM89.3 373.7h3.4v3.4h-3.4zM98.4 376.7h3.4v3.4h-3.4zM95.4 379.7h3.4v3.4h-3.4zM7.8 382.7h3.4v3.4h-3.4zM86.3 382.7h3.4v3.4h-3.4zM7.8 385.7h3.4v3.4h-3.4zM35.0 409.7h3.4v3.4h-3.4z"/>
<path shape-rendering="crispEdges" fill="#b82e00" d="M1.8 277.6h3.4v3.4h-3.4zM16.9 277.6h3.4v3.4h-3.4zM56.1 277.6h3.4v3.4h-3.4zM65.2 277.6h6.4v3.4h-6.4zM77.3 280.6h3.4v3.4h-3.4zM47.1 283.6h3.4v3.4h-3.4zM47.1 286.6h3.4v3.4h-3.4zM107.5 289.6h6.4v3.4h-6.4zM101.4 292.6h6.4v3.4h-6.4zM71.2 295.6h3.4v3.4h-3.4zM65.2 298.6h6.4v3.4h-6.4zM25.9 301.6h3.4v3.4h-3.4zM13.9 304.6h3.4v3.4h-3.4zM32.0 304.6h3.4v3.4h-3.4zM13.9 307.6h3.4v3.4h-3.4zM122.5 307.6h3.4v3.4h-3.4zM10.9 310.6h6.4v3.4h-6.4zM98.4 310.6h3.4v3.4h-3.4zM107.5 313.6h3.4v3.4h-3.4zM116.5 313.6h3.4v3.4h-3.4zM13.9 316.6h3.4v3.4h-3.4zM62.2 319.6h3.4v3.4h-3.4zM59.2 322.6h3.4v3.4h-3.4zM19.9 328.6h3.4v3.4h-3.4zM25.9 328.6h9.5v3.4h-9.5zM140.7 328.6h3.4v3.4h-3.4zM25.9 331.6h3.4v3.4h-3.4zM107.5 334.6h3.4v3.4h-3.4zM116.5 334.6h9.5v3.4h-9.5zM143.7 334.6h3.4v3.4h-3.4zM53.1 337.6h3.4v3.4h-3.4zM80.3 337.6h3.4v3.4h-3.4zM104.4 337.6h3.4v3.4h-3.4zM71.2 343.6h3.4v3.4h-3.4zM101.4 343.6h3.4v3.4h-3.4zM62.2 346.7h3.4v3.4h-3.4zM101.4 346.7h3.4v3.4h-3.4zM128.6 349.7h3.4v3.4h-3.4zM22.9 352.7h3.4v3.4h-3.4zM98.4 355.7h3.4v3.4h-3.4zM32.0 361.7h3.4v3.4h-3.4zM80.3 361.7h3.4v3.4h-3.4zM98.4 361.7h3.4v3.4h-3.4zM122.5 361.7h3.4v3.4h-3.4zM107.5 364.7h3.4v3.4h-3.4zM116.5 364.7h6.4v3.4h-6.4zM110.5 367.7h3.4v3.4h-3.4zM77.3 370.7h3.4v3.4h-3.4zM77.3 373.7h3.4v3.4h-3.4zM140.7 373.7h3.4v3.4h-3.4zM140.7 382.7h3.4v3.4h-3.4zM47.1 385.7h3.4v3.4h-3.4zM116.5 385.7h3.4v3.4h-3.4zM140.7 385.7h3.4v3.4h-3.4zM74.2 388.7h3.4v3.4h-3.4zM44.1 394.7h3.4v3.4h-3.4zM65.2 394.7h3.4v3.4h-3.4zM59.2 397.7h3.4v3.4h-3.4zM1.8 400.7h3.4v3.4h-3.4zM7.8 400.7h3.4v3.4h-3.4zM116.5 400.7h3.4v3.4h-3.4zM89.3 409.7h3.4v3.4h-3.4zM110.5 409.7h6.4v3.4h-6.4zM92.4 412.7h3.4v3.4h-3.4zM134.6 412.7h3.4v3.4h-3.4z"/>
<path shape-rendering="crispEdges" fill="#fbd090" d="M89.3 277.6h3.4v3.4h-3.4zM86.3 280.6h3.4v3.4h-3.4zM95.4 280.6h3.4v3.4h-3.4zM140.7 304.6h6.4v3.4h-6.4zM89.3 322.6h3.4v3.4h-3.4zM98.4 322.6h3.4v3.4h-3.4zM98.4 325.6h3.4v3.4h-3.4zM89.3 331.6h6.4v3.4h-6.4zM4.8 334.6h3.4v3.4h-3.4zM10.9 340.6h3.4v3.4h-3.4zM10.9 343.6h3.4v3.4h-3.4zM137.6 349.7h3.4v3.4h-3.4zM140.7 352.7h3.4v3.4h-3.4zM53.1 358.7h3.4v3.4h-3.4zM92.4 373.7h3.4v3.4h-3.4zM4.8 379.7h3.4v3.4h-3.4zM7.8 388.7h3.4v3.4h-3.4zM134.6 391.7h3.4v3.4h-3.4zM128.6 394.7h3.4v3.4h-3.4zM128.6 397.7h3.4v3.4h-3.4z"/>
<path shape-rendering="crispEdges" fill="#fddfaf" d="M89.3 280.6h3.4v3.4h-3.4zM86.3 283.6h3.4v3.4h-3.4zM10.9 292.6h3.4v3.4h-3.4zM137.6 292.6h3.4v3.4h-3.4zM1.8 295.6h3.4v3.4h-3.4zM50.1 316.6h3.4v3.4h-3.4zM95.4 322.6h3.4v3.4h-3.4zM89.3 325.6h3.4v3.4h-3.4zM98.4 328.6h3.4v3.4h-3.4zM7.8 337.6h3.4v3.4h-3.4zM7.8 343.6h3.4v3.4h-3.4zM143.7 346.7h3.4v3.4h-3.4zM50.1 355.7h3.4v3.4h-3.4zM89.3 376.7h6.4v3.4h-6.4zM1.8 379.7h3.4v3.4h-3.4zM4.8 382.7h3.4v3.4h-3.4zM89.3 385.7h3.4v3.4h-3.4zM131.6 391.7h3.4v3.4h-3.4zM134.6 400.7h3.4v3.4h-3.4z"/>
<path shape-rendering="crispEdges" fill="#feedd1" d="M92.4 280.6h3.4v3.4h-3.4zM1.8 289.6h3.4v3.4h-3.4zM143.7 289.6h3.4v3.4h-3.4zM1.8 292.6h3.4v3.4h-3.4zM140.7 298.6h3.4v3.4h-3.4zM143.7 301.6h3.4v3.4h-3.4zM4.8 337.6h3.4v3.4h-3.4zM4.8 340.6h6.4v3.4h-6.4zM1.8 343.6h3.4v3.4h-3.4zM44.1 355.7h6.4v3.4h-6.4zM89.3 382.7h3.4v3.4h-3.4zM4.8 385.7h3.4v3.4h-3.4z"/>
<path shape-rendering="crispEdges" fill="#fee6c0" d="M89.3 283.6h3.4v3.4h-3.4zM140.7 289.6h3.4v3.4h-3.4zM4.8 295.6h6.4v3.4h-6.4zM140.7 301.6h3.4v3.4h-3.4zM47.1 307.6h6.4v3.4h-6.4zM47.1 313.6h6.4v3.4h-6.4zM89.3 328.6h6.4v3.4h-6.4zM4.8 343.6h3.4v3.4h-3.4zM140.7 349.7h3.4v3.4h-3.4zM41.0 358.7h3.4v3.4h-3.4zM47.1 361.7h3.4v3.4h-3.4zM92.4 379.7h3.4v3.4h-3.4zM4.8 388.7h3.4v3.4h-3.4zM131.6 394.7h3.4v3.4h-3.4zM131.6 397.7h6.4v3.4h-6.4z"/>
<path shape-rendering="crispEdges" fill="#fcd89e" d="M92.4 283.6h3.4v3.4h-3.4zM4.8 286.6h3.4v3.4h-3.4zM137.6 289.6h3.4v3.4h-3.4zM137.6 298.6h3.4v3.4h-3.4zM47.1 304.6h6.4v3.4h-6.4zM47.1 310.6h3.4v3.4h-3.4zM53.1 310.6h3.4v3.4h-3.4zM53.1 313.6h3.4v3.4h-3.4zM92.4 322.6h3.4v3.4h-3.4zM95.4 331.6h3.4v3.4h-3.4zM4.8 346.7h3.4v3.4h-3.4zM47.1 352.7h3.4v3.4h-3.4zM143.7 352.7h3.4v3.4h-3.4zM50.1 358.7h3.4v3.4h-3.4zM41.0 361.7h3.4v3.4h-3.4zM41.0 364.7h9.5v3.4h-9.5zM95.4 376.7h3.4v3.4h-3.4zM86.3 379.7h3.4v3.4h-3.4zM92.4 382.7h3.4v3.4h-3.4zM1.8 391.7h3.4v3.4h-3.4zM137.6 394.7h3.4v3.4h-3.4zM131.6 400.7h3.4v3.4h-3.4z"/>
<path shape-rendering="crispEdges" fill="#f9c076" d="M1.8 286.6h3.4v3.4h-3.4zM10.9 286.6h3.4v3.4h-3.4zM143.7 286.6h3.4v3.4h-3.4zM13.9 289.6h3.4v3.4h-3.4zM134.6 292.6h3.4v3.4h-3.4zM10.9 295.6h3.4v3.4h-3.4zM1.8 298.6h3.4v3.4h-3.4zM53.1 304.6h3.4v3.4h-3.4zM53.1 316.6h3.4v3.4h-3.4zM86.3 325.6h3.4v3.4h-3.4zM86.3 328.6h3.4v3.4h-3.4zM1.8 331.6h3.4v3.4h-3.4zM10.9 337.6h3.4v3.4h-3.4zM1.8 346.7h3.4v3.4h-3.4zM7.8 346.7h3.4v3.4h-3.4zM137.6 355.7h3.4v3.4h-3.4zM41.0 367.7h3.4v3.4h-3.4zM95.4 373.7h3.4v3.4h-3.4zM10.9 385.7h3.4v3.4h-3.4zM86.3 385.7h3.4v3.4h-3.4zM4.8 391.7h3.4v3.4h-3.4zM128.6 391.7h3.4v3.4h-3.4zM137.6 397.7h3.4v3.4h-3.4zM137.6 400.7h3.4v3.4h-3.4zM35.0 406.7h6.4v3.4h-6.4z"/>
<path shape-rendering="crispEdges" fill="#851000" d="M59.2 286.6h3.4v3.4h-3.4zM110.5 301.6h3.4v3.4h-3.4zM104.4 304.6h9.5v3.4h-9.5zM113.5 307.6h3.4v3.4h-3.4zM32.0 310.6h3.4v3.4h-3.4zM25.9 313.6h3.4v3.4h-3.4zM32.0 313.6h3.4v3.4h-3.4zM22.9 316.6h3.4v3.4h-3.4zM32.0 316.6h3.4v3.4h-3.4zM32.0 319.6h3.4v3.4h-3.4zM25.9 322.6h3.4v3.4h-3.4zM62.2 328.6h6.4v3.4h-6.4zM74.2 328.6h3.4v3.4h-3.4zM59.2 331.6h3.4v3.4h-3.4zM65.2 331.6h3.4v3.4h-3.4zM71.2 331.6h3.4v3.4h-3.4zM68.2 334.6h9.5v3.4h-9.5zM59.2 337.6h3.4v3.4h-3.4zM65.2 337.6h3.4v3.4h-3.4zM71.2 337.6h3.4v3.4h-3.4zM68.2 340.6h3.4v3.4h-3.4zM110.5 343.6h9.5v3.4h-9.5zM107.5 346.7h3.4v3.4h-3.4zM116.5 346.7h3.4v3.4h-3.4zM107.5 349.7h12.5v3.4h-12.5zM107.5 352.7h3.4v3.4h-3.4zM113.5 352.7h9.5v3.4h-9.5zM104.4 355.7h3.4v3.4h-3.4zM110.5 355.7h6.4v3.4h-6.4zM119.5 355.7h3.4v3.4h-3.4zM110.5 358.7h6.4v3.4h-6.4zM19.9 361.7h6.4v3.4h-6.4zM16.9 367.7h3.4v3.4h-3.4zM68.2 373.7h3.4v3.4h-3.4zM62.2 376.7h12.5v3.4h-12.5zM56.1 379.7h6.4v3.4h-6.4zM65.2 379.7h6.4v3.4h-6.4zM56.1 385.7h3.4v3.4h-3.4zM62.2 385.7h6.4v3.4h-6.4zM98.4 397.7h3.4v3.4h-3.4zM10.9 412.7h3.4v3.4h-3.4z"/>
<path shape-rendering="crispEdges" fill="#fff4e2" d="M4.8 289.6h9.5v3.4h-9.5zM4.8 292.6h6.4v3.4h-6.4zM140.7 292.6h6.4v3.4h-6.4zM137.6 295.6h9.5v3.4h-9.5zM143.7 298.6h3.4v3.4h-3.4zM50.1 310.6h3.4v3.4h-3.4zM92.4 325.6h6.4v3.4h-6.4zM95.4 328.6h3.4v3.4h-3.4zM1.8 334.6h3.4v3.4h-3.4zM1.8 337.6h3.4v3.4h-3.4zM1.8 340.6h3.4v3.4h-3.4zM143.7 349.7h3.4v3.4h-3.4zM44.1 358.7h6.4v3.4h-6.4zM44.1 361.7h3.4v3.4h-3.4zM89.3 379.7h3.4v3.4h-3.4zM1.8 382.7h3.4v3.4h-3.4zM1.8 385.7h3.4v3.4h-3.4zM1.8 388.7h3.4v3.4h-3.4zM134.6 394.7h3.4v3.4h-3.4z"/>
<path shape-rendering="crispEdges" fill="#7c0c00" d="M110.5 307.6h3.4v3.4h-3.4zM29.0 313.6h3.4v3.4h-3.4zM25.9 316.6h6.4v3.4h-6.4zM22.9 319.6h6.4v3.4h-6.4zM62.2 331.6h3.4v3.4h-3.4zM68.2 331.6h3.4v3.4h-3.4zM59.2 334.6h3.4v3.4h-3.4zM65.2 334.6h3.4v3.4h-3.4zM62.2 337.6h3.4v3.4h-3.4zM68.2 337.6h3.4v3.4h-3.4zM110.5 346.7h6.4v3.4h-6.4zM110.5 352.7h3.4v3.4h-3.4zM107.5 355.7h3.4v3.4h-3.4zM16.9 364.7h12.5v3.4h-12.5zM22.9 367.7h3.4v3.4h-3.4zM59.2 382.7h6.4v3.4h-6.4zM68.2 382.7h3.4v3.4h-3.4z"/>
<path shape-rendering="crispEdges" fill="#700900" d="M62.2 334.6h3.4v3.4h-3.4zM62.2 379.7h3.4v3.4h-3.4zM65.2 382.7h3.4v3.4h-3.4z"/></g>
<g clip-path="url(#cpc)"><path shape-rendering="crispEdges" fill="#46e333" d="M524.7 10.4h5.3v4.6h-5.3zM584.0 10.4h2.9v4.6h-2.9zM617.4 10.4h6.6v4.6h-6.6zM581.6 14.6h1.6v4.6h-1.6zM586.5 18.8h1.6v4.6h-1.6zM608.8 18.8h2.9v4.6h-2.9zM619.9 18.8h1.6v4.6h-1.6zM568.0 23.1h1.6v4.6h-1.6zM587.7 23.1h1.6v4.6h-1.6zM607.5 23.1h1.6v4.6h-1.6zM587.7 27.3h2.9v4.6h-2.9zM606.3 27.3h1.6v4.6h-1.6zM589.0 31.5h1.6v4.6h-1.6zM606.3 31.5h1.6v4.6h-1.6zM569.2 35.7h1.6v4.6h-1.6zM589.0 35.7h1.6v4.6h-1.6zM606.3 35.7h1.6v4.6h-1.6zM569.2 39.9h1.6v4.6h-1.6zM590.2 39.9h1.6v4.6h-1.6zM589.0 44.1h2.9v4.6h-2.9zM606.3 44.1h1.6v4.6h-1.6zM568.0 48.4h1.6v4.6h-1.6zM592.7 48.4h1.6v4.6h-1.6zM603.8 48.4h1.6v4.6h-1.6zM569.2 52.6h1.6v4.6h-1.6zM590.2 52.6h2.9v4.6h-2.9zM605.1 52.6h1.6v4.6h-1.6zM590.2 56.8h2.9v4.6h-2.9zM569.2 61.0h1.6v4.6h-1.6zM590.2 61.0h2.9v4.6h-2.9zM605.1 61.0h1.6v4.6h-1.6zM569.2 65.2h1.6v4.6h-1.6zM590.2 65.2h2.9v4.6h-2.9zM606.3 65.2h1.6v4.6h-1.6zM590.2 69.4h1.6v4.6h-1.6zM569.2 73.7h1.6v4.6h-1.6zM590.2 73.7h1.6v4.6h-1.6zM605.1 73.7h2.9v4.6h-2.9zM569.2 77.9h1.6v4.6h-1.6zM590.2 77.9h1.6v4.6h-1.6zM605.1 77.9h1.6v4.6h-1.6zM569.2 82.1h1.6v4.6h-1.6zM590.2 82.1h1.6v4.6h-1.6zM605.1 82.1h1.6v4.6h-1.6zM590.2 86.3h2.9v4.6h-2.9zM605.1 86.3h1.6v4.6h-1.6zM569.2 90.5h1.6v4.6h-1.6zM590.2 90.5h1.6v4.6h-1.6zM605.1 90.5h1.6v4.6h-1.6zM590.2 94.8h2.9v4.6h-2.9zM605.1 94.8h1.6v4.6h-1.6zM568.0 99.0h1.6v4.6h-1.6zM591.5 99.0h2.9v4.6h-2.9zM603.8 99.0h1.6v4.6h-1.6zM591.5 103.2h2.9v4.6h-2.9zM603.8 103.2h1.6v4.6h-1.6zM590.2 107.4h2.9v4.6h-2.9zM603.8 107.4h1.6v4.6h-1.6zM568.0 111.6h1.6v4.6h-1.6zM590.2 111.6h4.1v4.6h-4.1zM603.8 111.6h2.9v4.6h-2.9zM589.0 115.8h5.3v4.6h-5.3zM595.2 115.8h1.6v4.6h-1.6zM603.8 115.8h1.6v4.6h-1.6zM591.5 120.1h9.1v4.6h-9.1zM601.3 120.1h4.1v4.6h-4.1zM585.3 124.3h2.9v4.6h-2.9zM606.3 124.3h1.6v4.6h-1.6zM584.0 128.5h2.9v4.6h-2.9zM607.5 128.5h2.9v4.6h-2.9zM585.3 132.7h1.6v4.6h-1.6zM607.5 132.7h1.6v4.6h-1.6zM568.0 136.9h1.6v4.6h-1.6zM584.0 136.9h1.6v4.6h-1.6zM608.8 136.9h2.9v4.6h-2.9zM568.0 141.2h1.6v4.6h-1.6zM610.0 141.2h1.6v4.6h-1.6zM612.5 141.2h1.6v4.6h-1.6zM617.4 141.2h1.6v4.6h-1.6zM568.0 145.4h1.6v4.6h-1.6zM582.8 145.4h1.6v4.6h-1.6zM568.0 149.6h1.6v4.6h-1.6zM581.6 149.6h1.6v4.6h-1.6zM568.0 153.8h1.6v4.6h-1.6zM580.3 158.0h1.6v4.6h-1.6zM580.3 170.7h1.6v4.6h-1.6zM568.0 174.9h1.6v4.6h-1.6zM568.0 179.1h1.6v4.6h-1.6zM580.3 179.1h1.6v4.6h-1.6zM580.3 183.3h1.6v4.6h-1.6z"/>
<path shape-rendering="crispEdges" fill="#20e040" d="M529.6 10.4h1.6v4.6h-1.6zM586.5 10.4h2.9v4.6h-2.9zM611.2 10.4h6.6v4.6h-6.6zM582.8 14.6h4.1v4.6h-4.1zM524.7 18.8h1.6v4.6h-1.6zM527.2 18.8h1.6v4.6h-1.6zM566.7 18.8h1.6v4.6h-1.6zM587.7 18.8h1.6v4.6h-1.6zM607.5 18.8h1.6v4.6h-1.6zM589.0 23.1h1.6v4.6h-1.6zM605.1 23.1h2.9v4.6h-2.9zM568.0 27.3h1.6v4.6h-1.6zM590.2 27.3h1.6v4.6h-1.6zM605.1 27.3h1.6v4.6h-1.6zM568.0 31.5h1.6v4.6h-1.6zM590.2 31.5h2.9v4.6h-2.9zM605.1 31.5h1.6v4.6h-1.6zM590.2 35.7h1.6v4.6h-1.6zM605.1 35.7h1.6v4.6h-1.6zM591.5 39.9h1.6v4.6h-1.6zM605.1 39.9h1.6v4.6h-1.6zM569.2 44.1h1.6v4.6h-1.6zM591.5 44.1h1.6v4.6h-1.6zM605.1 44.1h1.6v4.6h-1.6zM593.9 48.4h6.6v4.6h-6.6zM601.3 48.4h1.6v4.6h-1.6zM592.7 52.6h2.9v4.6h-2.9zM569.2 56.8h1.6v4.6h-1.6zM592.7 56.8h1.6v4.6h-1.6zM605.1 56.8h1.6v4.6h-1.6zM592.7 61.0h1.6v4.6h-1.6zM592.7 65.2h1.6v4.6h-1.6zM605.1 65.2h1.6v4.6h-1.6zM569.2 69.4h1.6v4.6h-1.6zM591.5 69.4h1.6v4.6h-1.6zM605.1 69.4h1.6v4.6h-1.6zM591.5 73.7h1.6v4.6h-1.6zM591.5 77.9h2.9v4.6h-2.9zM603.8 77.9h1.6v4.6h-1.6zM591.5 82.1h1.6v4.6h-1.6zM603.8 82.1h1.6v4.6h-1.6zM568.0 86.3h1.6v4.6h-1.6zM592.7 86.3h1.6v4.6h-1.6zM603.8 86.3h1.6v4.6h-1.6zM591.5 90.5h2.9v4.6h-2.9zM603.8 90.5h1.6v4.6h-1.6zM568.0 94.8h1.6v4.6h-1.6zM592.7 94.8h1.6v4.6h-1.6zM603.8 94.8h1.6v4.6h-1.6zM593.9 99.0h10.3v4.6h-10.3zM568.0 103.2h1.6v4.6h-1.6zM593.9 103.2h10.3v4.6h-10.3zM568.0 107.4h1.6v4.6h-1.6zM592.7 107.4h11.5v4.6h-11.5zM593.9 111.6h10.3v4.6h-10.3zM593.9 115.8h1.6v4.6h-1.6zM596.4 115.8h7.8v4.6h-7.8zM566.7 120.1h1.6v4.6h-1.6zM600.1 120.1h1.6v4.6h-1.6zM587.7 124.3h7.8v4.6h-7.8zM603.8 124.3h2.9v4.6h-2.9zM586.5 128.5h10.3v4.6h-10.3zM605.1 128.5h2.9v4.6h-2.9zM586.5 132.7h4.1v4.6h-4.1zM606.3 132.7h1.6v4.6h-1.6zM585.3 136.9h1.6v4.6h-1.6zM607.5 136.9h1.6v4.6h-1.6zM584.0 141.2h2.9v4.6h-2.9zM608.8 141.2h1.6v4.6h-1.6zM610.0 145.4h4.1v4.6h-4.1zM614.9 145.4h6.6v4.6h-6.6zM622.4 145.4h1.6v4.6h-1.6zM568.0 162.2h1.6v4.6h-1.6zM580.3 162.2h1.6v4.6h-1.6zM580.3 174.9h1.6v4.6h-1.6zM614.9 179.1h9.1v4.6h-9.1zM611.2 183.3h12.8v4.6h-12.8zM580.3 187.5h1.6v4.6h-1.6zM580.3 191.8h1.6v4.6h-1.6zM566.7 196.0h1.6v4.6h-1.6zM580.3 196.0h1.6v4.6h-1.6z"/>
<path shape-rendering="crispEdges" fill="#1ce05a" d="M530.9 10.4h1.6v4.6h-1.6zM565.5 10.4h1.6v4.6h-1.6zM589.0 10.4h1.6v4.6h-1.6zM608.8 10.4h2.9v4.6h-2.9zM524.7 14.6h5.3v4.6h-5.3zM566.7 14.6h1.6v4.6h-1.6zM586.5 14.6h1.6v4.6h-1.6zM612.5 14.6h11.5v4.6h-11.5zM525.9 18.8h1.6v4.6h-1.6zM528.4 18.8h2.9v4.6h-2.9zM589.0 18.8h2.9v4.6h-2.9zM605.1 18.8h2.9v4.6h-2.9zM525.9 23.1h2.9v4.6h-2.9zM566.7 23.1h1.6v4.6h-1.6zM590.2 23.1h1.6v4.6h-1.6zM603.8 23.1h1.6v4.6h-1.6zM591.5 27.3h1.6v4.6h-1.6zM603.8 27.3h1.6v4.6h-1.6zM592.7 31.5h1.6v4.6h-1.6zM603.8 31.5h1.6v4.6h-1.6zM568.0 35.7h1.6v4.6h-1.6zM591.5 35.7h1.6v4.6h-1.6zM568.0 39.9h1.6v4.6h-1.6zM592.7 39.9h1.6v4.6h-1.6zM603.8 39.9h1.6v4.6h-1.6zM568.0 44.1h1.6v4.6h-1.6zM592.7 44.1h1.6v4.6h-1.6zM603.8 44.1h1.6v4.6h-1.6zM566.7 48.4h1.6v4.6h-1.6zM600.1 48.4h1.6v4.6h-1.6zM602.6 48.4h1.6v4.6h-1.6zM568.0 52.6h1.6v4.6h-1.6zM595.2 52.6h2.9v4.6h-2.9zM603.8 52.6h1.6v4.6h-1.6zM568.0 56.8h1.6v4.6h-1.6zM593.9 56.8h5.3v4.6h-5.3zM603.8 56.8h1.6v4.6h-1.6zM568.0 61.0h1.6v4.6h-1.6zM593.9 61.0h4.1v4.6h-4.1zM603.8 61.0h1.6v4.6h-1.6zM568.0 65.2h1.6v4.6h-1.6zM593.9 65.2h5.3v4.6h-5.3zM603.8 65.2h1.6v4.6h-1.6zM568.0 69.4h1.6v4.6h-1.6zM592.7 69.4h2.9v4.6h-2.9zM603.8 69.4h1.6v4.6h-1.6zM568.0 73.7h1.6v4.6h-1.6zM592.7 73.7h6.6v4.6h-6.6zM603.8 73.7h1.6v4.6h-1.6zM568.0 77.9h1.6v4.6h-1.6zM593.9 77.9h10.3v4.6h-10.3zM568.0 82.1h1.6v4.6h-1.6zM592.7 82.1h2.9v4.6h-2.9zM601.3 82.1h2.9v4.6h-2.9zM593.9 86.3h10.3v4.6h-10.3zM568.0 90.5h1.6v4.6h-1.6zM593.9 90.5h10.3v4.6h-10.3zM593.9 94.8h10.3v4.6h-10.3zM566.7 99.0h1.6v4.6h-1.6zM566.7 115.8h1.6v4.6h-1.6zM566.7 124.3h1.6v4.6h-1.6zM595.2 124.3h9.1v4.6h-9.1zM566.7 128.5h1.6v4.6h-1.6zM596.4 128.5h9.1v4.6h-9.1zM566.7 132.7h1.6v4.6h-1.6zM590.2 132.7h9.1v4.6h-9.1zM603.8 132.7h2.9v4.6h-2.9zM586.5 136.9h4.1v4.6h-4.1zM586.5 141.2h1.6v4.6h-1.6zM607.5 141.2h1.6v4.6h-1.6zM566.7 145.4h1.6v4.6h-1.6zM584.0 145.4h2.9v4.6h-2.9zM608.8 145.4h1.6v4.6h-1.6zM613.7 145.4h1.6v4.6h-1.6zM621.1 145.4h1.6v4.6h-1.6zM566.7 149.6h1.6v4.6h-1.6zM582.8 149.6h1.6v4.6h-1.6zM581.6 153.8h1.6v4.6h-1.6zM566.7 158.0h1.6v4.6h-1.6zM581.6 158.0h1.6v4.6h-1.6zM566.7 166.5h1.6v4.6h-1.6zM581.6 166.5h1.6v4.6h-1.6zM616.2 174.9h2.9v4.6h-2.9zM619.9 174.9h1.6v4.6h-1.6zM566.7 179.1h1.6v4.6h-1.6zM581.6 179.1h1.6v4.6h-1.6zM610.0 179.1h5.3v4.6h-5.3zM566.7 183.3h1.6v4.6h-1.6zM581.6 183.3h1.6v4.6h-1.6zM608.8 183.3h2.9v4.6h-2.9zM566.7 187.5h1.6v4.6h-1.6zM566.7 191.8h1.6v4.6h-1.6z"/>
<path shape-rendering="crispEdges" fill="#17e073" d="M532.1 10.4h2.9v4.6h-2.9zM590.2 10.4h1.6v4.6h-1.6zM606.3 10.4h2.9v4.6h-2.9zM529.6 14.6h1.6v4.6h-1.6zM587.7 14.6h1.6v4.6h-1.6zM610.0 14.6h2.9v4.6h-2.9zM591.5 18.8h1.6v4.6h-1.6zM603.8 18.8h1.6v4.6h-1.6zM524.7 23.1h1.6v4.6h-1.6zM528.4 23.1h1.6v4.6h-1.6zM591.5 23.1h2.9v4.6h-2.9zM598.9 23.1h5.3v4.6h-5.3zM566.7 27.3h1.6v4.6h-1.6zM592.7 27.3h11.5v4.6h-11.5zM566.7 31.5h1.6v4.6h-1.6zM593.9 31.5h10.3v4.6h-10.3zM592.7 35.7h5.3v4.6h-5.3zM603.8 35.7h1.6v4.6h-1.6zM566.7 39.9h1.6v4.6h-1.6zM593.9 39.9h10.3v4.6h-10.3zM593.9 44.1h7.8v4.6h-7.8zM602.6 44.1h1.6v4.6h-1.6zM565.5 48.4h1.6v4.6h-1.6zM566.7 52.6h1.6v4.6h-1.6zM597.6 52.6h6.6v4.6h-6.6zM598.9 56.8h5.3v4.6h-5.3zM566.7 61.0h1.6v4.6h-1.6zM597.6 61.0h6.6v4.6h-6.6zM598.9 65.2h4.1v4.6h-4.1zM595.2 69.4h7.8v4.6h-7.8zM598.9 73.7h5.3v4.6h-5.3zM595.2 82.1h6.6v4.6h-6.6zM566.7 86.3h1.6v4.6h-1.6zM566.7 94.8h1.6v4.6h-1.6zM566.7 103.2h1.6v4.6h-1.6zM566.7 107.4h1.6v4.6h-1.6zM566.7 111.6h1.6v4.6h-1.6zM565.5 120.1h1.6v4.6h-1.6zM598.9 132.7h5.3v4.6h-5.3zM566.7 136.9h1.6v4.6h-1.6zM590.2 136.9h1.6v4.6h-1.6zM605.1 136.9h2.9v4.6h-2.9zM566.7 141.2h1.6v4.6h-1.6zM587.7 141.2h2.9v4.6h-2.9zM606.3 141.2h1.6v4.6h-1.6zM586.5 145.4h1.6v4.6h-1.6zM607.5 145.4h1.6v4.6h-1.6zM584.0 149.6h1.6v4.6h-1.6zM616.2 149.6h1.6v4.6h-1.6zM566.7 153.8h1.6v4.6h-1.6zM582.8 153.8h1.6v4.6h-1.6zM566.7 162.2h1.6v4.6h-1.6zM611.2 166.5h5.3v4.6h-5.3zM617.4 166.5h1.6v4.6h-1.6zM566.7 170.7h1.6v4.6h-1.6zM581.6 170.7h1.6v4.6h-1.6zM610.0 170.7h14.0v4.6h-14.0zM566.7 174.9h1.6v4.6h-1.6zM581.6 174.9h1.6v4.6h-1.6zM610.0 174.9h6.6v4.6h-6.6zM618.7 174.9h1.6v4.6h-1.6zM621.1 174.9h2.9v4.6h-2.9zM608.8 179.1h1.6v4.6h-1.6zM607.5 183.3h1.6v4.6h-1.6zM581.6 187.5h1.6v4.6h-1.6zM612.5 187.5h4.1v4.6h-4.1zM618.7 187.5h2.9v4.6h-2.9zM622.4 187.5h1.6v4.6h-1.6zM581.6 191.8h1.6v4.6h-1.6zM565.5 196.0h1.6v4.6h-1.6zM581.6 196.0h1.6v4.6h-1.6z"/>
<path shape-rendering="crispEdges" fill="#13e08d" d="M534.6 10.4h1.6v4.6h-1.6zM564.3 10.4h1.6v4.6h-1.6zM591.5 10.4h1.6v4.6h-1.6zM603.8 10.4h2.9v4.6h-2.9zM530.9 14.6h1.6v4.6h-1.6zM565.5 14.6h1.6v4.6h-1.6zM589.0 14.6h1.6v4.6h-1.6zM607.5 14.6h2.9v4.6h-2.9zM530.9 18.8h1.6v4.6h-1.6zM565.5 18.8h1.6v4.6h-1.6zM592.7 18.8h1.6v4.6h-1.6zM596.4 18.8h7.8v4.6h-7.8zM529.6 23.1h1.6v4.6h-1.6zM565.5 23.1h1.6v4.6h-1.6zM593.9 23.1h5.3v4.6h-5.3zM524.7 27.3h5.3v4.6h-5.3zM565.5 27.3h1.6v4.6h-1.6zM566.7 35.7h1.6v4.6h-1.6zM597.6 35.7h6.6v4.6h-6.6zM566.7 44.1h1.6v4.6h-1.6zM601.3 44.1h1.6v4.6h-1.6zM564.3 48.4h1.6v4.6h-1.6zM565.5 52.6h1.6v4.6h-1.6zM565.5 56.8h2.9v4.6h-2.9zM565.5 61.0h1.6v4.6h-1.6zM566.7 65.2h1.6v4.6h-1.6zM602.6 65.2h1.6v4.6h-1.6zM566.7 69.4h1.6v4.6h-1.6zM602.6 69.4h1.6v4.6h-1.6zM566.7 73.7h1.6v4.6h-1.6zM566.7 77.9h1.6v4.6h-1.6zM566.7 82.1h1.6v4.6h-1.6zM565.5 86.3h1.6v4.6h-1.6zM566.7 90.5h1.6v4.6h-1.6zM565.5 99.0h1.6v4.6h-1.6zM565.5 103.2h1.6v4.6h-1.6zM565.5 111.6h1.6v4.6h-1.6zM565.5 115.8h1.6v4.6h-1.6zM565.5 124.3h1.6v4.6h-1.6zM565.5 128.5h1.6v4.6h-1.6zM565.5 132.7h1.6v4.6h-1.6zM591.5 136.9h5.3v4.6h-5.3zM603.8 136.9h1.6v4.6h-1.6zM590.2 141.2h2.9v4.6h-2.9zM605.1 141.2h1.6v4.6h-1.6zM565.5 145.4h1.6v4.6h-1.6zM587.7 145.4h2.9v4.6h-2.9zM606.3 145.4h1.6v4.6h-1.6zM585.3 149.6h1.6v4.6h-1.6zM611.2 149.6h5.3v4.6h-5.3zM617.4 149.6h6.6v4.6h-6.6zM565.5 153.8h1.6v4.6h-1.6zM565.5 158.0h1.6v4.6h-1.6zM582.8 158.0h1.6v4.6h-1.6zM581.6 162.2h1.6v4.6h-1.6zM565.5 166.5h1.6v4.6h-1.6zM582.8 166.5h1.6v4.6h-1.6zM608.8 166.5h2.9v4.6h-2.9zM616.2 166.5h1.6v4.6h-1.6zM618.7 166.5h5.3v4.6h-5.3zM608.8 170.7h1.6v4.6h-1.6zM608.8 174.9h1.6v4.6h-1.6zM565.5 179.1h1.6v4.6h-1.6zM582.8 179.1h1.6v4.6h-1.6zM607.5 179.1h1.6v4.6h-1.6zM565.5 183.3h1.6v4.6h-1.6zM582.8 183.3h1.6v4.6h-1.6zM606.3 183.3h1.6v4.6h-1.6zM565.5 187.5h1.6v4.6h-1.6zM582.8 187.5h1.6v4.6h-1.6zM610.0 187.5h2.9v4.6h-2.9zM616.2 187.5h2.9v4.6h-2.9zM621.1 187.5h1.6v4.6h-1.6zM565.5 191.8h1.6v4.6h-1.6zM524.7 196.0h6.6v4.6h-6.6zM564.3 196.0h1.6v4.6h-1.6zM582.8 196.0h1.6v4.6h-1.6z"/>
<path shape-rendering="crispEdges" fill="#10dfa3" d="M535.8 10.4h1.6v4.6h-1.6zM592.7 10.4h2.9v4.6h-2.9zM596.4 10.4h7.8v4.6h-7.8zM532.1 14.6h1.6v4.6h-1.6zM590.2 14.6h2.9v4.6h-2.9zM605.1 14.6h2.9v4.6h-2.9zM532.1 18.8h1.6v4.6h-1.6zM564.3 18.8h1.6v4.6h-1.6zM593.9 18.8h2.9v4.6h-2.9zM530.9 23.1h1.6v4.6h-1.6zM529.6 27.3h1.6v4.6h-1.6zM565.5 31.5h1.6v4.6h-1.6zM565.5 39.9h1.6v4.6h-1.6zM565.5 44.1h1.6v4.6h-1.6zM564.3 61.0h1.6v4.6h-1.6zM565.5 65.2h1.6v4.6h-1.6zM565.5 69.4h1.6v4.6h-1.6zM565.5 73.7h1.6v4.6h-1.6zM565.5 77.9h1.6v4.6h-1.6zM565.5 82.1h1.6v4.6h-1.6zM565.5 90.5h1.6v4.6h-1.6zM565.5 94.8h1.6v4.6h-1.6zM564.3 99.0h1.6v4.6h-1.6zM565.5 107.4h1.6v4.6h-1.6zM564.3 120.1h1.6v4.6h-1.6zM564.3 128.5h1.6v4.6h-1.6zM564.3 132.7h1.6v4.6h-1.6zM565.5 136.9h1.6v4.6h-1.6zM596.4 136.9h7.8v4.6h-7.8zM565.5 141.2h1.6v4.6h-1.6zM592.7 141.2h1.6v4.6h-1.6zM598.9 141.2h1.6v4.6h-1.6zM603.8 141.2h1.6v4.6h-1.6zM564.3 145.4h1.6v4.6h-1.6zM590.2 145.4h2.9v4.6h-2.9zM605.1 145.4h1.6v4.6h-1.6zM565.5 149.6h1.6v4.6h-1.6zM586.5 149.6h1.6v4.6h-1.6zM607.5 149.6h4.1v4.6h-4.1zM584.0 153.8h2.9v4.6h-2.9zM610.0 153.8h14.0v4.6h-14.0zM584.0 158.0h1.6v4.6h-1.6zM610.0 158.0h14.0v4.6h-14.0zM565.5 162.2h1.6v4.6h-1.6zM564.3 166.5h1.6v4.6h-1.6zM584.0 166.5h1.6v4.6h-1.6zM607.5 166.5h1.6v4.6h-1.6zM565.5 170.7h1.6v4.6h-1.6zM582.8 170.7h1.6v4.6h-1.6zM607.5 170.7h1.6v4.6h-1.6zM565.5 174.9h1.6v4.6h-1.6zM582.8 174.9h1.6v4.6h-1.6zM607.5 174.9h1.6v4.6h-1.6zM605.1 179.1h2.9v4.6h-2.9zM584.0 183.3h1.6v4.6h-1.6zM605.1 183.3h1.6v4.6h-1.6zM564.3 187.5h1.6v4.6h-1.6zM606.3 187.5h4.1v4.6h-4.1zM524.7 191.8h5.3v4.6h-5.3zM564.3 191.8h1.6v4.6h-1.6zM582.8 191.8h2.9v4.6h-2.9zM610.0 191.8h1.6v4.6h-1.6zM613.7 191.8h5.3v4.6h-5.3zM621.1 191.8h2.9v4.6h-2.9zM530.9 196.0h2.9v4.6h-2.9zM563.0 196.0h1.6v4.6h-1.6zM584.0 196.0h2.9v4.6h-2.9zM610.0 196.0h2.9v4.6h-2.9zM614.9 196.0h2.9v4.6h-2.9zM622.4 196.0h1.6v4.6h-1.6z"/>
<path shape-rendering="crispEdges" fill="#10dbb0" d="M537.1 10.4h2.9v4.6h-2.9zM563.0 10.4h1.6v4.6h-1.6zM595.2 10.4h1.6v4.6h-1.6zM533.4 14.6h1.6v4.6h-1.6zM592.7 14.6h1.6v4.6h-1.6zM603.8 14.6h1.6v4.6h-1.6zM533.4 18.8h1.6v4.6h-1.6zM532.1 23.1h1.6v4.6h-1.6zM564.3 23.1h1.6v4.6h-1.6zM530.9 27.3h1.6v4.6h-1.6zM564.3 27.3h1.6v4.6h-1.6zM524.7 31.5h5.3v4.6h-5.3zM564.3 31.5h1.6v4.6h-1.6zM565.5 35.7h1.6v4.6h-1.6zM564.3 39.9h1.6v4.6h-1.6zM564.3 44.1h1.6v4.6h-1.6zM561.8 48.4h2.9v4.6h-2.9zM563.0 52.6h2.9v4.6h-2.9zM564.3 56.8h1.6v4.6h-1.6zM564.3 65.2h1.6v4.6h-1.6zM564.3 69.4h1.6v4.6h-1.6zM564.3 73.7h1.6v4.6h-1.6zM564.3 77.9h1.6v4.6h-1.6zM564.3 82.1h1.6v4.6h-1.6zM564.3 86.3h1.6v4.6h-1.6zM564.3 90.5h1.6v4.6h-1.6zM564.3 94.8h1.6v4.6h-1.6zM564.3 103.2h1.6v4.6h-1.6zM564.3 107.4h1.6v4.6h-1.6zM564.3 111.6h1.6v4.6h-1.6zM564.3 115.8h1.6v4.6h-1.6zM563.0 120.1h1.6v4.6h-1.6zM564.3 124.3h1.6v4.6h-1.6zM563.0 132.7h1.6v4.6h-1.6zM564.3 136.9h1.6v4.6h-1.6zM564.3 141.2h1.6v4.6h-1.6zM593.9 141.2h5.3v4.6h-5.3zM600.1 141.2h4.1v4.6h-4.1zM592.7 145.4h1.6v4.6h-1.6zM601.3 145.4h4.1v4.6h-4.1zM553.1 149.6h2.9v4.6h-2.9zM564.3 149.6h1.6v4.6h-1.6zM587.7 149.6h1.6v4.6h-1.6zM605.1 149.6h2.9v4.6h-2.9zM554.4 153.8h1.6v4.6h-1.6zM564.3 153.8h1.6v4.6h-1.6zM586.5 153.8h1.6v4.6h-1.6zM607.5 153.8h2.9v4.6h-2.9zM553.1 158.0h1.6v4.6h-1.6zM564.3 158.0h1.6v4.6h-1.6zM585.3 158.0h1.6v4.6h-1.6zM607.5 158.0h2.9v4.6h-2.9zM582.8 162.2h1.6v4.6h-1.6zM611.2 162.2h2.9v4.6h-2.9zM614.9 162.2h2.9v4.6h-2.9zM619.9 162.2h4.1v4.6h-4.1zM563.0 166.5h1.6v4.6h-1.6zM606.3 166.5h1.6v4.6h-1.6zM564.3 170.7h1.6v4.6h-1.6zM584.0 170.7h1.6v4.6h-1.6zM606.3 170.7h1.6v4.6h-1.6zM606.3 174.9h1.6v4.6h-1.6zM564.3 179.1h1.6v4.6h-1.6zM584.0 179.1h2.9v4.6h-2.9zM603.8 179.1h1.6v4.6h-1.6zM563.0 183.3h2.9v4.6h-2.9zM585.3 183.3h4.1v4.6h-4.1zM593.9 183.3h1.6v4.6h-1.6zM597.6 183.3h2.9v4.6h-2.9zM603.8 183.3h1.6v4.6h-1.6zM563.0 187.5h1.6v4.6h-1.6zM584.0 187.5h2.9v4.6h-2.9zM603.8 187.5h2.9v4.6h-2.9zM529.6 191.8h4.1v4.6h-4.1zM561.8 191.8h2.9v4.6h-2.9zM585.3 191.8h2.9v4.6h-2.9zM606.3 191.8h1.6v4.6h-1.6zM608.8 191.8h1.6v4.6h-1.6zM611.2 191.8h2.9v4.6h-2.9zM618.7 191.8h2.9v4.6h-2.9zM533.4 196.0h2.9v4.6h-2.9zM560.6 196.0h2.9v4.6h-2.9zM586.5 196.0h2.9v4.6h-2.9zM602.6 196.0h7.8v4.6h-7.8zM612.5 196.0h2.9v4.6h-2.9zM617.4 196.0h5.3v4.6h-5.3z"/>
<path shape-rendering="crispEdges" fill="#10d6bd" d="M539.5 10.4h1.6v4.6h-1.6zM534.6 14.6h2.9v4.6h-2.9zM564.3 14.6h1.6v4.6h-1.6zM593.9 14.6h10.3v4.6h-10.3zM534.6 18.8h1.6v4.6h-1.6zM563.0 18.8h1.6v4.6h-1.6zM533.4 23.1h1.6v4.6h-1.6zM563.0 23.1h1.6v4.6h-1.6zM532.1 27.3h1.6v4.6h-1.6zM563.0 27.3h1.6v4.6h-1.6zM529.6 31.5h1.6v4.6h-1.6zM563.0 31.5h1.6v4.6h-1.6zM564.3 35.7h1.6v4.6h-1.6zM563.0 39.9h1.6v4.6h-1.6zM563.0 44.1h1.6v4.6h-1.6zM559.3 48.4h2.9v4.6h-2.9zM561.8 52.6h1.6v4.6h-1.6zM563.0 56.8h1.6v4.6h-1.6zM563.0 61.0h1.6v4.6h-1.6zM563.0 65.2h1.6v4.6h-1.6zM563.0 69.4h1.6v4.6h-1.6zM563.0 73.7h1.6v4.6h-1.6zM563.0 77.9h1.6v4.6h-1.6zM563.0 82.1h1.6v4.6h-1.6zM563.0 86.3h1.6v4.6h-1.6zM563.0 90.5h1.6v4.6h-1.6zM563.0 94.8h1.6v4.6h-1.6zM563.0 99.0h1.6v4.6h-1.6zM563.0 103.2h1.6v4.6h-1.6zM563.0 111.6h1.6v4.6h-1.6zM563.0 115.8h1.6v4.6h-1.6zM561.8 120.1h1.6v4.6h-1.6zM563.0 124.3h1.6v4.6h-1.6zM561.8 128.5h2.9v4.6h-2.9zM561.8 132.7h1.6v4.6h-1.6zM553.1 145.4h4.1v4.6h-4.1zM561.8 145.4h2.9v4.6h-2.9zM593.9 145.4h7.8v4.6h-7.8zM551.9 149.6h1.6v4.6h-1.6zM555.6 149.6h5.3v4.6h-5.3zM561.8 149.6h2.9v4.6h-2.9zM589.0 149.6h2.9v4.6h-2.9zM603.8 149.6h1.6v4.6h-1.6zM551.9 153.8h2.9v4.6h-2.9zM555.6 153.8h4.1v4.6h-4.1zM563.0 153.8h1.6v4.6h-1.6zM587.7 153.8h1.6v4.6h-1.6zM605.1 153.8h2.9v4.6h-2.9zM551.9 158.0h1.6v4.6h-1.6zM554.4 158.0h6.6v4.6h-6.6zM561.8 158.0h2.9v4.6h-2.9zM586.5 158.0h2.9v4.6h-2.9zM606.3 158.0h1.6v4.6h-1.6zM564.3 162.2h1.6v4.6h-1.6zM584.0 162.2h1.6v4.6h-1.6zM608.8 162.2h2.9v4.6h-2.9zM613.7 162.2h1.6v4.6h-1.6zM617.4 162.2h2.9v4.6h-2.9zM551.9 166.5h11.5v4.6h-11.5zM585.3 166.5h4.1v4.6h-4.1zM605.1 166.5h1.6v4.6h-1.6zM553.1 170.7h1.6v4.6h-1.6zM563.0 170.7h1.6v4.6h-1.6zM585.3 170.7h1.6v4.6h-1.6zM605.1 170.7h1.6v4.6h-1.6zM564.3 174.9h1.6v4.6h-1.6zM584.0 174.9h2.9v4.6h-2.9zM603.8 174.9h2.9v4.6h-2.9zM556.8 179.1h2.9v4.6h-2.9zM561.8 179.1h2.9v4.6h-2.9zM586.5 179.1h7.8v4.6h-7.8zM595.2 179.1h1.6v4.6h-1.6zM597.6 179.1h6.6v4.6h-6.6zM556.8 183.3h1.6v4.6h-1.6zM559.3 183.3h4.1v4.6h-4.1zM589.0 183.3h5.3v4.6h-5.3zM595.2 183.3h2.9v4.6h-2.9zM600.1 183.3h4.1v4.6h-4.1zM524.7 187.5h1.6v4.6h-1.6zM559.3 187.5h4.1v4.6h-4.1zM586.5 187.5h17.7v4.6h-17.7zM533.4 191.8h1.6v4.6h-1.6zM558.1 191.8h4.1v4.6h-4.1zM587.7 191.8h11.5v4.6h-11.5zM600.1 191.8h6.6v4.6h-6.6zM607.5 191.8h1.6v4.6h-1.6zM535.8 196.0h2.9v4.6h-2.9zM555.6 196.0h5.3v4.6h-5.3zM589.0 196.0h14.0v4.6h-14.0z"/>
<path shape-rendering="crispEdges" fill="#10d2ca" d="M540.8 10.4h2.9v4.6h-2.9zM561.8 10.4h1.6v4.6h-1.6zM537.1 14.6h1.6v4.6h-1.6zM563.0 14.6h1.6v4.6h-1.6zM535.8 18.8h2.9v4.6h-2.9zM561.8 18.8h1.6v4.6h-1.6zM534.6 23.1h1.6v4.6h-1.6zM561.8 23.1h1.6v4.6h-1.6zM533.4 27.3h1.6v4.6h-1.6zM561.8 27.3h1.6v4.6h-1.6zM530.9 31.5h2.9v4.6h-2.9zM561.8 31.5h1.6v4.6h-1.6zM525.9 35.7h1.6v4.6h-1.6zM563.0 35.7h1.6v4.6h-1.6zM560.6 39.9h2.9v4.6h-2.9zM561.8 44.1h1.6v4.6h-1.6zM558.1 48.4h1.6v4.6h-1.6zM560.6 52.6h1.6v4.6h-1.6zM560.6 56.8h2.9v4.6h-2.9zM560.6 61.0h2.9v4.6h-2.9zM561.8 65.2h1.6v4.6h-1.6zM561.8 69.4h1.6v4.6h-1.6zM561.8 73.7h1.6v4.6h-1.6zM561.8 77.9h1.6v4.6h-1.6zM561.8 82.1h1.6v4.6h-1.6zM561.8 86.3h1.6v4.6h-1.6zM561.8 90.5h1.6v4.6h-1.6zM560.6 99.0h2.9v4.6h-2.9zM561.8 103.2h1.6v4.6h-1.6zM561.8 107.4h2.9v4.6h-2.9zM561.8 111.6h1.6v4.6h-1.6zM561.8 115.8h1.6v4.6h-1.6zM559.3 120.1h2.9v4.6h-2.9zM561.8 124.3h1.6v4.6h-1.6zM560.6 128.5h1.6v4.6h-1.6zM558.1 132.7h4.1v4.6h-4.1zM561.8 136.9h2.9v4.6h-2.9zM563.0 141.2h1.6v4.6h-1.6zM549.4 145.4h4.1v4.6h-4.1zM556.8 145.4h5.3v4.6h-5.3zM549.4 149.6h2.9v4.6h-2.9zM560.6 149.6h1.6v4.6h-1.6zM591.5 149.6h2.9v4.6h-2.9zM601.3 149.6h2.9v4.6h-2.9zM549.4 153.8h2.9v4.6h-2.9zM559.3 153.8h4.1v4.6h-4.1zM589.0 153.8h2.9v4.6h-2.9zM603.8 153.8h1.6v4.6h-1.6zM549.4 158.0h2.9v4.6h-2.9zM560.6 158.0h1.6v4.6h-1.6zM589.0 158.0h1.6v4.6h-1.6zM603.8 158.0h2.9v4.6h-2.9zM553.1 162.2h4.1v4.6h-4.1zM563.0 162.2h1.6v4.6h-1.6zM585.3 162.2h1.6v4.6h-1.6zM606.3 162.2h2.9v4.6h-2.9zM549.4 166.5h2.9v4.6h-2.9zM589.0 166.5h2.9v4.6h-2.9zM602.6 166.5h2.9v4.6h-2.9zM550.7 170.7h2.9v4.6h-2.9zM554.4 170.7h9.1v4.6h-9.1zM586.5 170.7h4.1v4.6h-4.1zM603.8 170.7h1.6v4.6h-1.6zM551.9 174.9h5.3v4.6h-5.3zM558.1 174.9h1.6v4.6h-1.6zM561.8 174.9h2.9v4.6h-2.9zM586.5 174.9h5.3v4.6h-5.3zM549.4 179.1h7.8v4.6h-7.8zM559.3 179.1h2.9v4.6h-2.9zM593.9 179.1h1.6v4.6h-1.6zM596.4 179.1h1.6v4.6h-1.6zM548.2 183.3h9.1v4.6h-9.1zM558.1 183.3h1.6v4.6h-1.6zM525.9 187.5h4.1v4.6h-4.1zM530.9 187.5h1.6v4.6h-1.6zM549.4 187.5h1.6v4.6h-1.6zM551.9 187.5h7.8v4.6h-7.8zM534.6 191.8h5.3v4.6h-5.3zM553.1 191.8h5.3v4.6h-5.3zM598.9 191.8h1.6v4.6h-1.6zM538.3 196.0h5.3v4.6h-5.3zM548.2 196.0h7.8v4.6h-7.8z"/>
<path shape-rendering="crispEdges" fill="#10cad4" d="M543.2 10.4h2.9v4.6h-2.9zM558.1 10.4h4.1v4.6h-4.1zM538.3 14.6h1.6v4.6h-1.6zM538.3 18.8h2.9v4.6h-2.9zM560.6 18.8h1.6v4.6h-1.6zM535.8 23.1h1.6v4.6h-1.6zM560.6 23.1h1.6v4.6h-1.6zM534.6 27.3h1.6v4.6h-1.6zM560.6 27.3h1.6v4.6h-1.6zM533.4 31.5h1.6v4.6h-1.6zM560.6 31.5h1.6v4.6h-1.6zM524.7 35.7h1.6v4.6h-1.6zM527.2 35.7h4.1v4.6h-4.1zM561.8 35.7h1.6v4.6h-1.6zM524.7 39.9h5.3v4.6h-5.3zM559.3 39.9h1.6v4.6h-1.6zM559.3 44.1h2.9v4.6h-2.9zM524.7 48.4h4.1v4.6h-4.1zM555.6 48.4h2.9v4.6h-2.9zM558.1 52.6h2.9v4.6h-2.9zM558.1 56.8h2.9v4.6h-2.9zM559.3 61.0h1.6v4.6h-1.6zM559.3 65.2h2.9v4.6h-2.9zM560.6 69.4h1.6v4.6h-1.6zM559.3 73.7h2.9v4.6h-2.9zM559.3 77.9h2.9v4.6h-2.9zM560.6 82.1h1.6v4.6h-1.6zM558.1 86.3h4.1v4.6h-4.1zM560.6 90.5h1.6v4.6h-1.6zM559.3 94.8h4.1v4.6h-4.1zM556.8 99.0h4.1v4.6h-4.1zM559.3 103.2h2.9v4.6h-2.9zM560.6 107.4h1.6v4.6h-1.6zM559.3 111.6h2.9v4.6h-2.9zM559.3 115.8h2.9v4.6h-2.9zM556.8 120.1h2.9v4.6h-2.9zM556.8 124.3h5.3v4.6h-5.3zM556.8 128.5h4.1v4.6h-4.1zM549.4 132.7h1.6v4.6h-1.6zM551.9 132.7h6.6v4.6h-6.6zM553.1 136.9h1.6v4.6h-1.6zM555.6 136.9h1.6v4.6h-1.6zM558.1 136.9h4.1v4.6h-4.1zM550.7 141.2h12.8v4.6h-12.8zM547.0 145.4h2.9v4.6h-2.9zM548.2 149.6h1.6v4.6h-1.6zM593.9 149.6h7.8v4.6h-7.8zM548.2 153.8h1.6v4.6h-1.6zM591.5 153.8h1.6v4.6h-1.6zM602.6 153.8h1.6v4.6h-1.6zM548.2 158.0h1.6v4.6h-1.6zM590.2 158.0h2.9v4.6h-2.9zM602.6 158.0h1.6v4.6h-1.6zM550.7 162.2h2.9v4.6h-2.9zM556.8 162.2h6.6v4.6h-6.6zM586.5 162.2h2.9v4.6h-2.9zM605.1 162.2h1.6v4.6h-1.6zM547.0 166.5h2.9v4.6h-2.9zM591.5 166.5h2.9v4.6h-2.9zM601.3 166.5h1.6v4.6h-1.6zM548.2 170.7h2.9v4.6h-2.9zM590.2 170.7h4.1v4.6h-4.1zM600.1 170.7h4.1v4.6h-4.1zM548.2 174.9h4.1v4.6h-4.1zM556.8 174.9h1.6v4.6h-1.6zM559.3 174.9h2.9v4.6h-2.9zM591.5 174.9h12.8v4.6h-12.8zM544.5 179.1h5.3v4.6h-5.3zM543.2 183.3h5.3v4.6h-5.3zM529.6 187.5h1.6v4.6h-1.6zM532.1 187.5h4.1v4.6h-4.1zM539.5 187.5h2.9v4.6h-2.9zM544.5 187.5h1.6v4.6h-1.6zM547.0 187.5h2.9v4.6h-2.9zM550.7 187.5h1.6v4.6h-1.6zM539.5 191.8h14.0v4.6h-14.0zM543.2 196.0h5.3v4.6h-5.3z"/>
<path shape-rendering="crispEdges" fill="#10bddd" d="M545.7 10.4h12.8v4.6h-12.8zM539.5 14.6h2.9v4.6h-2.9zM561.8 14.6h1.6v4.6h-1.6zM540.8 18.8h2.9v4.6h-2.9zM556.8 18.8h4.1v4.6h-4.1zM537.1 23.1h2.9v4.6h-2.9zM558.1 23.1h2.9v4.6h-2.9zM535.8 27.3h1.6v4.6h-1.6zM556.8 27.3h4.1v4.6h-4.1zM534.6 31.5h1.6v4.6h-1.6zM558.1 31.5h2.9v4.6h-2.9zM530.9 35.7h1.6v4.6h-1.6zM560.6 35.7h1.6v4.6h-1.6zM529.6 39.9h4.1v4.6h-4.1zM556.8 39.9h2.9v4.6h-2.9zM556.8 44.1h2.9v4.6h-2.9zM528.4 48.4h6.6v4.6h-6.6zM548.2 48.4h2.9v4.6h-2.9zM551.9 48.4h4.1v4.6h-4.1zM555.6 52.6h2.9v4.6h-2.9zM556.8 56.8h1.6v4.6h-1.6zM556.8 61.0h2.9v4.6h-2.9zM556.8 65.2h2.9v4.6h-2.9zM558.1 69.4h2.9v4.6h-2.9zM558.1 73.7h1.6v4.6h-1.6zM556.8 77.9h2.9v4.6h-2.9zM556.8 82.1h4.1v4.6h-4.1zM555.6 86.3h2.9v4.6h-2.9zM558.1 90.5h2.9v4.6h-2.9zM556.8 94.8h2.9v4.6h-2.9zM555.6 99.0h1.6v4.6h-1.6zM555.6 103.2h4.1v4.6h-4.1zM556.8 107.4h4.1v4.6h-4.1zM555.6 111.6h4.1v4.6h-4.1zM555.6 115.8h4.1v4.6h-4.1zM553.1 120.1h4.1v4.6h-4.1zM555.6 124.3h1.6v4.6h-1.6zM553.1 128.5h4.1v4.6h-4.1zM547.0 132.7h2.9v4.6h-2.9zM550.7 132.7h1.6v4.6h-1.6zM548.2 136.9h5.3v4.6h-5.3zM554.4 136.9h1.6v4.6h-1.6zM556.8 136.9h1.6v4.6h-1.6zM545.7 141.2h5.3v4.6h-5.3zM544.5 145.4h2.9v4.6h-2.9zM545.7 149.6h2.9v4.6h-2.9zM545.7 153.8h2.9v4.6h-2.9zM592.7 153.8h1.6v4.6h-1.6zM600.1 153.8h2.9v4.6h-2.9zM545.7 158.0h2.9v4.6h-2.9zM592.7 158.0h1.6v4.6h-1.6zM601.3 158.0h1.6v4.6h-1.6zM548.2 162.2h2.9v4.6h-2.9zM589.0 162.2h1.6v4.6h-1.6zM603.8 162.2h1.6v4.6h-1.6zM545.7 166.5h1.6v4.6h-1.6zM593.9 166.5h1.6v4.6h-1.6zM598.9 166.5h2.9v4.6h-2.9zM547.0 170.7h1.6v4.6h-1.6zM593.9 170.7h6.6v4.6h-6.6zM545.7 174.9h2.9v4.6h-2.9zM543.2 179.1h1.6v4.6h-1.6zM524.7 183.3h5.3v4.6h-5.3zM540.8 183.3h2.9v4.6h-2.9zM535.8 187.5h4.1v4.6h-4.1zM542.0 187.5h2.9v4.6h-2.9zM545.7 187.5h1.6v4.6h-1.6z"/>
<path shape-rendering="crispEdges" fill="#6de626" d="M566.7 10.4h1.6v4.6h-1.6zM581.6 10.4h2.9v4.6h-2.9zM568.0 14.6h1.6v4.6h-1.6zM580.3 14.6h1.6v4.6h-1.6zM584.0 18.8h2.9v4.6h-2.9zM611.2 18.8h9.1v4.6h-9.1zM621.1 18.8h2.9v4.6h-2.9zM584.0 23.1h4.1v4.6h-4.1zM608.8 23.1h1.6v4.6h-1.6zM616.2 23.1h7.8v4.6h-7.8zM607.5 27.3h1.6v4.6h-1.6zM587.7 31.5h1.6v4.6h-1.6zM587.7 35.7h1.6v4.6h-1.6zM607.5 35.7h1.6v4.6h-1.6zM589.0 39.9h1.6v4.6h-1.6zM606.3 39.9h1.6v4.6h-1.6zM569.2 48.4h1.6v4.6h-1.6zM590.2 48.4h2.9v4.6h-2.9zM605.1 48.4h1.6v4.6h-1.6zM589.0 52.6h1.6v4.6h-1.6zM606.3 52.6h1.6v4.6h-1.6zM589.0 56.8h1.6v4.6h-1.6zM606.3 56.8h1.6v4.6h-1.6zM589.0 61.0h1.6v4.6h-1.6zM606.3 61.0h1.6v4.6h-1.6zM589.0 65.2h1.6v4.6h-1.6zM589.0 69.4h1.6v4.6h-1.6zM606.3 69.4h2.9v4.6h-2.9zM589.0 73.7h1.6v4.6h-1.6zM589.0 77.9h1.6v4.6h-1.6zM606.3 77.9h1.6v4.6h-1.6zM589.0 82.1h1.6v4.6h-1.6zM606.3 82.1h1.6v4.6h-1.6zM569.2 86.3h1.6v4.6h-1.6zM589.0 86.3h1.6v4.6h-1.6zM589.0 90.5h1.6v4.6h-1.6zM606.3 90.5h1.6v4.6h-1.6zM569.2 94.8h1.6v4.6h-1.6zM589.0 94.8h1.6v4.6h-1.6zM606.3 94.8h1.6v4.6h-1.6zM590.2 99.0h1.6v4.6h-1.6zM605.1 99.0h1.6v4.6h-1.6zM589.0 103.2h2.9v4.6h-2.9zM605.1 103.2h1.6v4.6h-1.6zM587.7 107.4h2.9v4.6h-2.9zM605.1 107.4h2.9v4.6h-2.9zM587.7 111.6h2.9v4.6h-2.9zM606.3 111.6h1.6v4.6h-1.6zM568.0 115.8h1.6v4.6h-1.6zM586.5 115.8h2.9v4.6h-2.9zM605.1 115.8h2.9v4.6h-2.9zM587.7 120.1h4.1v4.6h-4.1zM605.1 120.1h1.6v4.6h-1.6zM568.0 124.3h1.6v4.6h-1.6zM584.0 124.3h1.6v4.6h-1.6zM607.5 124.3h2.9v4.6h-2.9zM568.0 128.5h1.6v4.6h-1.6zM582.8 128.5h1.6v4.6h-1.6zM610.0 128.5h14.0v4.6h-14.0zM568.0 132.7h1.6v4.6h-1.6zM584.0 132.7h1.6v4.6h-1.6zM608.8 132.7h5.3v4.6h-5.3zM614.9 132.7h1.6v4.6h-1.6zM621.1 132.7h1.6v4.6h-1.6zM582.8 136.9h1.6v4.6h-1.6zM611.2 136.9h12.8v4.6h-12.8zM582.8 141.2h1.6v4.6h-1.6zM611.2 141.2h1.6v4.6h-1.6zM613.7 141.2h4.1v4.6h-4.1zM618.7 141.2h5.3v4.6h-5.3zM568.0 158.0h1.6v4.6h-1.6zM568.0 166.5h1.6v4.6h-1.6zM580.3 166.5h1.6v4.6h-1.6zM568.0 170.7h1.6v4.6h-1.6zM568.0 183.3h1.6v4.6h-1.6zM568.0 187.5h1.6v4.6h-1.6zM568.0 191.8h1.6v4.6h-1.6zM579.1 191.8h1.6v4.6h-1.6zM568.0 196.0h1.6v4.6h-1.6z"/>
<path shape-rendering="crispEdges" fill="#d0e020" d="M568.0 10.4h1.6v4.6h-1.6zM569.2 14.6h1.6v4.6h-1.6zM577.9 14.6h1.6v4.6h-1.6zM569.2 18.8h1.6v4.6h-1.6zM580.3 23.1h1.6v4.6h-1.6zM581.6 27.3h1.6v4.6h-1.6zM570.4 31.5h1.6v4.6h-1.6zM582.8 31.5h1.6v4.6h-1.6zM610.0 31.5h12.8v4.6h-12.8zM571.7 35.7h1.6v4.6h-1.6zM610.0 35.7h14.0v4.6h-14.0zM585.3 39.9h1.6v4.6h-1.6zM571.7 44.1h1.6v4.6h-1.6zM585.3 44.1h1.6v4.6h-1.6zM610.0 44.1h1.6v4.6h-1.6zM587.7 48.4h1.6v4.6h-1.6zM607.5 48.4h1.6v4.6h-1.6zM571.7 52.6h1.6v4.6h-1.6zM586.5 52.6h1.6v4.6h-1.6zM571.7 56.8h1.6v4.6h-1.6zM586.5 56.8h1.6v4.6h-1.6zM608.8 56.8h2.9v4.6h-2.9zM571.7 61.0h1.6v4.6h-1.6zM586.5 61.0h1.6v4.6h-1.6zM610.0 61.0h1.6v4.6h-1.6zM571.7 65.2h1.6v4.6h-1.6zM585.3 65.2h1.6v4.6h-1.6zM610.0 65.2h1.6v4.6h-1.6zM571.7 69.4h1.6v4.6h-1.6zM585.3 69.4h1.6v4.6h-1.6zM610.0 69.4h1.6v4.6h-1.6zM612.5 69.4h1.6v4.6h-1.6zM585.3 73.7h1.6v4.6h-1.6zM610.0 73.7h2.9v4.6h-2.9zM585.3 77.9h1.6v4.6h-1.6zM610.0 77.9h1.6v4.6h-1.6zM613.7 77.9h1.6v4.6h-1.6zM585.3 82.1h1.6v4.6h-1.6zM610.0 82.1h4.1v4.6h-4.1zM586.5 86.3h1.6v4.6h-1.6zM608.8 86.3h2.9v4.6h-2.9zM585.3 90.5h1.6v4.6h-1.6zM610.0 90.5h1.6v4.6h-1.6zM570.4 94.8h1.6v4.6h-1.6zM585.3 94.8h1.6v4.6h-1.6zM610.0 94.8h1.6v4.6h-1.6zM585.3 99.0h1.6v4.6h-1.6zM608.8 99.0h1.6v4.6h-1.6zM585.3 103.2h1.6v4.6h-1.6zM608.8 103.2h1.6v4.6h-1.6zM584.0 107.4h1.6v4.6h-1.6zM610.0 107.4h4.1v4.6h-4.1zM614.9 107.4h6.6v4.6h-6.6zM622.4 107.4h1.6v4.6h-1.6zM610.0 111.6h14.0v4.6h-14.0zM582.8 115.8h1.6v4.6h-1.6zM610.0 115.8h14.0v4.6h-14.0zM569.2 120.1h1.6v4.6h-1.6zM582.8 120.1h1.6v4.6h-1.6zM610.0 120.1h14.0v4.6h-14.0zM569.2 124.3h1.6v4.6h-1.6zM581.6 124.3h1.6v4.6h-1.6zM569.2 128.5h1.6v4.6h-1.6zM569.2 132.7h1.6v4.6h-1.6zM580.3 145.4h1.6v4.6h-1.6zM569.2 149.6h1.6v4.6h-1.6zM579.1 153.8h1.6v4.6h-1.6zM569.2 158.0h1.6v4.6h-1.6zM579.1 158.0h1.6v4.6h-1.6zM569.2 166.5h1.6v4.6h-1.6zM579.1 166.5h1.6v4.6h-1.6zM569.2 170.7h1.6v4.6h-1.6zM569.2 179.1h1.6v4.6h-1.6zM569.2 183.3h1.6v4.6h-1.6zM569.2 187.5h1.6v4.6h-1.6zM569.2 191.8h1.6v4.6h-1.6zM577.9 191.8h1.6v4.6h-1.6zM577.9 196.0h1.6v4.6h-1.6z"/>
<path shape-rendering="crispEdges" fill="#eaba20" d="M569.2 10.4h1.6v4.6h-1.6zM576.6 10.4h1.6v4.6h-1.6zM570.4 18.8h1.6v4.6h-1.6zM577.9 18.8h1.6v4.6h-1.6zM577.9 23.1h1.6v4.6h-1.6zM571.7 27.3h1.6v4.6h-1.6zM579.1 27.3h1.6v4.6h-1.6zM580.3 31.5h1.6v4.6h-1.6zM572.9 35.7h1.6v4.6h-1.6zM572.9 44.1h1.6v4.6h-1.6zM582.8 44.1h1.6v4.6h-1.6zM611.2 48.4h12.8v4.6h-12.8zM572.9 52.6h1.6v4.6h-1.6zM584.0 52.6h1.6v4.6h-1.6zM584.0 56.8h1.6v4.6h-1.6zM572.9 61.0h1.6v4.6h-1.6zM572.9 65.2h1.6v4.6h-1.6zM572.9 69.4h1.6v4.6h-1.6zM582.8 69.4h1.6v4.6h-1.6zM572.9 73.7h1.6v4.6h-1.6zM582.8 82.1h1.6v4.6h-1.6zM582.8 90.5h1.6v4.6h-1.6zM582.8 94.8h1.6v4.6h-1.6zM582.8 99.0h1.6v4.6h-1.6zM581.6 107.4h1.6v4.6h-1.6zM570.4 124.3h1.6v4.6h-1.6zM570.4 128.5h1.6v4.6h-1.6zM570.4 132.7h1.6v4.6h-1.6zM570.4 145.4h1.6v4.6h-1.6zM579.1 145.4h1.6v4.6h-1.6zM570.4 149.6h1.6v4.6h-1.6zM570.4 153.8h1.6v4.6h-1.6zM577.9 158.0h1.6v4.6h-1.6zM570.4 170.7h1.6v4.6h-1.6zM577.9 170.7h1.6v4.6h-1.6zM570.4 174.9h1.6v4.6h-1.6zM570.4 179.1h1.6v4.6h-1.6zM570.4 183.3h1.6v4.6h-1.6zM570.4 187.5h1.6v4.6h-1.6zM570.4 191.8h1.6v4.6h-1.6zM576.6 191.8h1.6v4.6h-1.6zM576.6 196.0h1.6v4.6h-1.6z"/>
<path shape-rendering="crispEdges" fill="#f09d1d" d="M570.4 10.4h1.6v4.6h-1.6zM575.4 10.4h1.6v4.6h-1.6zM572.9 14.6h2.9v4.6h-2.9zM571.7 18.8h1.6v4.6h-1.6zM576.6 18.8h1.6v4.6h-1.6zM576.6 23.1h1.6v4.6h-1.6zM572.9 27.3h1.6v4.6h-1.6zM577.9 27.3h1.6v4.6h-1.6zM572.9 31.5h1.6v4.6h-1.6zM579.1 31.5h1.6v4.6h-1.6zM574.2 35.7h1.6v4.6h-1.6zM574.2 44.1h1.6v4.6h-1.6zM581.6 44.1h1.6v4.6h-1.6zM582.8 52.6h1.6v4.6h-1.6zM574.2 56.8h1.6v4.6h-1.6zM582.8 56.8h1.6v4.6h-1.6zM574.2 61.0h1.6v4.6h-1.6zM574.2 65.2h1.6v4.6h-1.6zM574.2 69.4h1.6v4.6h-1.6zM581.6 69.4h1.6v4.6h-1.6zM572.9 86.3h1.6v4.6h-1.6zM572.9 90.5h1.6v4.6h-1.6zM581.6 90.5h1.6v4.6h-1.6zM581.6 94.8h1.6v4.6h-1.6zM581.6 99.0h1.6v4.6h-1.6zM580.3 107.4h1.6v4.6h-1.6zM571.7 111.6h1.6v4.6h-1.6zM580.3 111.6h1.6v4.6h-1.6zM579.1 124.3h1.6v4.6h-1.6zM579.1 132.7h1.6v4.6h-1.6zM577.9 149.6h1.6v4.6h-1.6zM571.7 162.2h1.6v4.6h-1.6zM576.6 162.2h1.6v4.6h-1.6zM576.6 174.9h1.6v4.6h-1.6zM576.6 179.1h1.6v4.6h-1.6zM576.6 183.3h1.6v4.6h-1.6zM571.7 187.5h1.6v4.6h-1.6zM571.7 191.8h1.6v4.6h-1.6zM575.4 191.8h1.6v4.6h-1.6z"/>
<path shape-rendering="crispEdges" fill="#f07f19" d="M571.7 10.4h4.1v4.6h-4.1zM574.2 18.8h1.6v4.6h-1.6zM574.2 27.3h2.9v4.6h-2.9zM575.4 31.5h4.1v4.6h-4.1zM575.4 35.7h4.1v4.6h-4.1zM575.4 44.1h1.6v4.6h-1.6zM580.3 44.1h1.6v4.6h-1.6zM574.2 48.4h1.6v4.6h-1.6zM581.6 52.6h1.6v4.6h-1.6zM581.6 56.8h1.6v4.6h-1.6zM581.6 61.0h1.6v4.6h-1.6zM574.2 77.9h1.6v4.6h-1.6zM574.2 82.1h1.6v4.6h-1.6zM580.3 90.5h1.6v4.6h-1.6zM580.3 94.8h1.6v4.6h-1.6zM572.9 99.0h1.6v4.6h-1.6zM580.3 99.0h1.6v4.6h-1.6zM572.9 103.2h1.6v4.6h-1.6zM572.9 107.4h1.6v4.6h-1.6zM579.1 107.4h1.6v4.6h-1.6zM579.1 111.6h1.6v4.6h-1.6zM579.1 115.8h1.6v4.6h-1.6zM571.7 120.1h1.6v4.6h-1.6zM577.9 128.5h1.6v4.6h-1.6zM577.9 132.7h1.6v4.6h-1.6zM577.9 136.9h1.6v4.6h-1.6zM571.7 141.2h1.6v4.6h-1.6zM571.7 145.4h1.6v4.6h-1.6zM577.9 145.4h1.6v4.6h-1.6zM571.7 149.6h1.6v4.6h-1.6zM576.6 153.8h1.6v4.6h-1.6zM571.7 158.0h1.6v4.6h-1.6zM576.6 158.0h1.6v4.6h-1.6zM572.9 162.2h1.6v4.6h-1.6zM575.4 162.2h1.6v4.6h-1.6zM571.7 166.5h1.6v4.6h-1.6zM576.6 166.5h1.6v4.6h-1.6zM575.4 174.9h1.6v4.6h-1.6zM575.4 183.3h1.6v4.6h-1.6zM572.9 187.5h2.9v4.6h-2.9zM572.9 191.8h2.9v4.6h-2.9zM572.9 196.0h2.9v4.6h-2.9z"/>
<path shape-rendering="crispEdges" fill="#e1c620" d="M577.9 10.4h1.6v4.6h-1.6zM570.4 14.6h1.6v4.6h-1.6zM576.6 14.6h1.6v4.6h-1.6zM570.4 23.1h1.6v4.6h-1.6zM579.1 23.1h1.6v4.6h-1.6zM580.3 27.3h1.6v4.6h-1.6zM571.7 31.5h1.6v4.6h-1.6zM581.6 31.5h1.6v4.6h-1.6zM581.6 35.7h1.6v4.6h-1.6zM582.8 39.9h1.6v4.6h-1.6zM611.2 39.9h1.6v4.6h-1.6zM584.0 44.1h1.6v4.6h-1.6zM571.7 48.4h1.6v4.6h-1.6zM585.3 48.4h1.6v4.6h-1.6zM610.0 48.4h1.6v4.6h-1.6zM612.5 52.6h11.5v4.6h-11.5zM572.9 56.8h1.6v4.6h-1.6zM613.7 56.8h2.9v4.6h-2.9zM617.4 56.8h6.6v4.6h-6.6zM584.0 61.0h1.6v4.6h-1.6zM614.9 61.0h9.1v4.6h-9.1zM584.0 65.2h1.6v4.6h-1.6zM617.4 65.2h6.6v4.6h-6.6zM584.0 77.9h1.6v4.6h-1.6zM571.7 86.3h1.6v4.6h-1.6zM584.0 86.3h1.6v4.6h-1.6zM617.4 86.3h1.6v4.6h-1.6zM619.9 86.3h4.1v4.6h-4.1zM571.7 90.5h1.6v4.6h-1.6zM571.7 94.8h1.6v4.6h-1.6zM611.2 99.0h12.8v4.6h-12.8zM582.8 103.2h1.6v4.6h-1.6zM570.4 111.6h1.6v4.6h-1.6zM581.6 111.6h1.6v4.6h-1.6zM570.4 115.8h1.6v4.6h-1.6zM581.6 115.8h1.6v4.6h-1.6zM581.6 120.1h1.6v4.6h-1.6zM580.3 124.3h1.6v4.6h-1.6zM580.3 132.7h1.6v4.6h-1.6zM570.4 136.9h1.6v4.6h-1.6zM570.4 141.2h1.6v4.6h-1.6zM579.1 149.6h1.6v4.6h-1.6zM570.4 162.2h1.6v4.6h-1.6zM577.9 174.9h1.6v4.6h-1.6zM577.9 179.1h1.6v4.6h-1.6zM577.9 183.3h1.6v4.6h-1.6z"/>
<path shape-rendering="crispEdges" fill="#b0e320" d="M579.1 10.4h1.6v4.6h-1.6zM580.3 18.8h1.6v4.6h-1.6zM569.2 23.1h1.6v4.6h-1.6zM581.6 23.1h1.6v4.6h-1.6zM582.8 27.3h1.6v4.6h-1.6zM610.0 27.3h7.8v4.6h-7.8zM584.0 31.5h2.9v4.6h-2.9zM608.8 31.5h1.6v4.6h-1.6zM622.4 31.5h1.6v4.6h-1.6zM584.0 35.7h2.9v4.6h-2.9zM608.8 35.7h1.6v4.6h-1.6zM586.5 39.9h1.6v4.6h-1.6zM608.8 39.9h1.6v4.6h-1.6zM586.5 44.1h1.6v4.6h-1.6zM608.8 44.1h1.6v4.6h-1.6zM570.4 48.4h1.6v4.6h-1.6zM589.0 48.4h1.6v4.6h-1.6zM587.7 52.6h1.6v4.6h-1.6zM608.8 52.6h1.6v4.6h-1.6zM608.8 61.0h1.6v4.6h-1.6zM586.5 65.2h1.6v4.6h-1.6zM608.8 65.2h1.6v4.6h-1.6zM586.5 69.4h1.6v4.6h-1.6zM586.5 73.7h1.6v4.6h-1.6zM608.8 73.7h1.6v4.6h-1.6zM586.5 77.9h1.6v4.6h-1.6zM608.8 77.9h1.6v4.6h-1.6zM586.5 82.1h1.6v4.6h-1.6zM608.8 82.1h1.6v4.6h-1.6zM570.4 86.3h1.6v4.6h-1.6zM570.4 90.5h1.6v4.6h-1.6zM586.5 90.5h1.6v4.6h-1.6zM608.8 90.5h1.6v4.6h-1.6zM586.5 94.8h1.6v4.6h-1.6zM608.8 94.8h1.6v4.6h-1.6zM586.5 99.0h1.6v4.6h-1.6zM607.5 99.0h1.6v4.6h-1.6zM586.5 103.2h1.6v4.6h-1.6zM607.5 103.2h1.6v4.6h-1.6zM585.3 107.4h1.6v4.6h-1.6zM608.8 107.4h1.6v4.6h-1.6zM569.2 111.6h1.6v4.6h-1.6zM584.0 111.6h1.6v4.6h-1.6zM608.8 111.6h1.6v4.6h-1.6zM569.2 115.8h1.6v4.6h-1.6zM584.0 115.8h1.6v4.6h-1.6zM608.8 115.8h1.6v4.6h-1.6zM584.0 120.1h1.6v4.6h-1.6zM608.8 120.1h1.6v4.6h-1.6zM581.6 128.5h1.6v4.6h-1.6zM581.6 132.7h1.6v4.6h-1.6zM569.2 136.9h1.6v4.6h-1.6zM581.6 136.9h1.6v4.6h-1.6zM569.2 141.2h1.6v4.6h-1.6zM581.6 141.2h1.6v4.6h-1.6zM569.2 145.4h1.6v4.6h-1.6zM580.3 149.6h1.6v4.6h-1.6zM569.2 153.8h1.6v4.6h-1.6zM569.2 162.2h1.6v4.6h-1.6zM579.1 170.7h1.6v4.6h-1.6zM569.2 174.9h1.6v4.6h-1.6zM579.1 179.1h1.6v4.6h-1.6zM579.1 183.3h1.6v4.6h-1.6z"/>
<path shape-rendering="crispEdges" fill="#90e620" d="M580.3 10.4h1.6v4.6h-1.6zM579.1 14.6h1.6v4.6h-1.6zM568.0 18.8h1.6v4.6h-1.6zM581.6 18.8h2.9v4.6h-2.9zM582.8 23.1h1.6v4.6h-1.6zM610.0 23.1h6.6v4.6h-6.6zM569.2 27.3h1.6v4.6h-1.6zM584.0 27.3h4.1v4.6h-4.1zM608.8 27.3h1.6v4.6h-1.6zM617.4 27.3h6.6v4.6h-6.6zM569.2 31.5h1.6v4.6h-1.6zM586.5 31.5h1.6v4.6h-1.6zM607.5 31.5h1.6v4.6h-1.6zM570.4 35.7h1.6v4.6h-1.6zM586.5 35.7h1.6v4.6h-1.6zM570.4 39.9h1.6v4.6h-1.6zM587.7 39.9h1.6v4.6h-1.6zM607.5 39.9h1.6v4.6h-1.6zM570.4 44.1h1.6v4.6h-1.6zM587.7 44.1h1.6v4.6h-1.6zM607.5 44.1h1.6v4.6h-1.6zM606.3 48.4h1.6v4.6h-1.6zM570.4 52.6h1.6v4.6h-1.6zM607.5 52.6h1.6v4.6h-1.6zM570.4 56.8h1.6v4.6h-1.6zM587.7 56.8h1.6v4.6h-1.6zM607.5 56.8h1.6v4.6h-1.6zM570.4 61.0h1.6v4.6h-1.6zM587.7 61.0h1.6v4.6h-1.6zM607.5 61.0h1.6v4.6h-1.6zM570.4 65.2h1.6v4.6h-1.6zM587.7 65.2h1.6v4.6h-1.6zM607.5 65.2h1.6v4.6h-1.6zM570.4 69.4h1.6v4.6h-1.6zM587.7 69.4h1.6v4.6h-1.6zM608.8 69.4h1.6v4.6h-1.6zM570.4 73.7h1.6v4.6h-1.6zM587.7 73.7h1.6v4.6h-1.6zM607.5 73.7h1.6v4.6h-1.6zM570.4 77.9h1.6v4.6h-1.6zM587.7 77.9h1.6v4.6h-1.6zM607.5 77.9h1.6v4.6h-1.6zM570.4 82.1h1.6v4.6h-1.6zM587.7 82.1h1.6v4.6h-1.6zM607.5 82.1h1.6v4.6h-1.6zM587.7 86.3h1.6v4.6h-1.6zM606.3 86.3h2.9v4.6h-2.9zM587.7 90.5h1.6v4.6h-1.6zM607.5 90.5h1.6v4.6h-1.6zM587.7 94.8h1.6v4.6h-1.6zM607.5 94.8h1.6v4.6h-1.6zM569.2 99.0h1.6v4.6h-1.6zM587.7 99.0h2.9v4.6h-2.9zM606.3 99.0h1.6v4.6h-1.6zM569.2 103.2h1.6v4.6h-1.6zM587.7 103.2h1.6v4.6h-1.6zM606.3 103.2h1.6v4.6h-1.6zM569.2 107.4h1.6v4.6h-1.6zM586.5 107.4h1.6v4.6h-1.6zM607.5 107.4h1.6v4.6h-1.6zM585.3 111.6h2.9v4.6h-2.9zM607.5 111.6h1.6v4.6h-1.6zM585.3 115.8h1.6v4.6h-1.6zM607.5 115.8h1.6v4.6h-1.6zM568.0 120.1h1.6v4.6h-1.6zM585.3 120.1h2.9v4.6h-2.9zM606.3 120.1h2.9v4.6h-2.9zM582.8 124.3h1.6v4.6h-1.6zM610.0 124.3h14.0v4.6h-14.0zM582.8 132.7h1.6v4.6h-1.6zM613.7 132.7h1.6v4.6h-1.6zM616.2 132.7h5.3v4.6h-5.3zM622.4 132.7h1.6v4.6h-1.6zM581.6 145.4h1.6v4.6h-1.6zM580.3 153.8h1.6v4.6h-1.6zM579.1 162.2h1.6v4.6h-1.6zM579.1 174.9h1.6v4.6h-1.6zM579.1 187.5h1.6v4.6h-1.6zM579.1 196.0h1.6v4.6h-1.6z"/>
<path shape-rendering="crispEdges" fill="#10b0e5" d="M542.0 14.6h2.9v4.6h-2.9zM558.1 14.6h4.1v4.6h-4.1zM543.2 18.8h14.0v4.6h-14.0zM539.5 23.1h4.1v4.6h-4.1zM554.4 23.1h4.1v4.6h-4.1zM537.1 27.3h5.3v4.6h-5.3zM555.6 27.3h1.6v4.6h-1.6zM535.8 31.5h5.3v4.6h-5.3zM553.1 31.5h5.3v4.6h-5.3zM532.1 35.7h2.9v4.6h-2.9zM556.8 35.7h4.1v4.6h-4.1zM533.4 39.9h2.9v4.6h-2.9zM554.4 39.9h2.9v4.6h-2.9zM524.7 44.1h9.1v4.6h-9.1zM555.6 44.1h1.6v4.6h-1.6zM534.6 48.4h14.0v4.6h-14.0zM550.7 48.4h1.6v4.6h-1.6zM524.7 52.6h5.3v4.6h-5.3zM554.4 52.6h1.6v4.6h-1.6zM554.4 56.8h2.9v4.6h-2.9zM554.4 61.0h2.9v4.6h-2.9zM554.4 65.2h2.9v4.6h-2.9zM555.6 69.4h2.9v4.6h-2.9zM554.4 73.7h4.1v4.6h-4.1zM551.9 77.9h5.3v4.6h-5.3zM554.4 82.1h2.9v4.6h-2.9zM549.4 86.3h2.9v4.6h-2.9zM553.1 86.3h2.9v4.6h-2.9zM554.4 90.5h4.1v4.6h-4.1zM554.4 94.8h2.9v4.6h-2.9zM524.7 99.0h9.1v4.6h-9.1zM540.8 99.0h1.6v4.6h-1.6zM545.7 99.0h10.3v4.6h-10.3zM551.9 103.2h4.1v4.6h-4.1zM554.4 107.4h2.9v4.6h-2.9zM554.4 111.6h1.6v4.6h-1.6zM551.9 115.8h4.1v4.6h-4.1zM543.2 120.1h10.3v4.6h-10.3zM545.7 124.3h1.6v4.6h-1.6zM548.2 124.3h7.8v4.6h-7.8zM544.5 128.5h9.1v4.6h-9.1zM540.8 132.7h6.6v4.6h-6.6zM544.5 136.9h4.1v4.6h-4.1zM544.5 141.2h1.6v4.6h-1.6zM543.2 145.4h1.6v4.6h-1.6zM544.5 149.6h1.6v4.6h-1.6zM593.9 153.8h6.6v4.6h-6.6zM593.9 158.0h1.6v4.6h-1.6zM590.2 162.2h2.9v4.6h-2.9zM602.6 162.2h1.6v4.6h-1.6zM544.5 166.5h1.6v4.6h-1.6zM595.2 166.5h4.1v4.6h-4.1zM544.5 170.7h2.9v4.6h-2.9zM543.2 174.9h2.9v4.6h-2.9zM540.8 179.1h2.9v4.6h-2.9zM529.6 183.3h11.5v4.6h-11.5z"/>
<path shape-rendering="crispEdges" fill="#10a3ee" d="M544.5 14.6h14.0v4.6h-14.0zM543.2 23.1h11.5v4.6h-11.5zM542.0 27.3h14.0v4.6h-14.0zM540.8 31.5h12.8v4.6h-12.8zM534.6 35.7h2.9v4.6h-2.9zM538.3 35.7h2.9v4.6h-2.9zM554.4 35.7h2.9v4.6h-2.9zM535.8 39.9h11.5v4.6h-11.5zM548.2 39.9h6.6v4.6h-6.6zM533.4 44.1h2.9v4.6h-2.9zM537.1 44.1h1.6v4.6h-1.6zM547.0 44.1h2.9v4.6h-2.9zM550.7 44.1h5.3v4.6h-5.3zM529.6 52.6h5.3v4.6h-5.3zM538.3 52.6h1.6v4.6h-1.6zM540.8 52.6h14.0v4.6h-14.0zM524.7 56.8h7.8v4.6h-7.8zM543.2 56.8h11.5v4.6h-11.5zM524.7 61.0h6.6v4.6h-6.6zM543.2 61.0h11.5v4.6h-11.5zM545.7 65.2h2.9v4.6h-2.9zM549.4 65.2h5.3v4.6h-5.3zM549.4 69.4h6.6v4.6h-6.6zM527.2 73.7h1.6v4.6h-1.6zM544.5 73.7h10.3v4.6h-10.3zM524.7 77.9h7.8v4.6h-7.8zM538.3 77.9h1.6v4.6h-1.6zM540.8 77.9h11.5v4.6h-11.5zM538.3 82.1h1.6v4.6h-1.6zM543.2 82.1h11.5v4.6h-11.5zM524.7 86.3h25.1v4.6h-25.1zM551.9 86.3h1.6v4.6h-1.6zM524.7 90.5h2.9v4.6h-2.9zM528.4 90.5h5.3v4.6h-5.3zM539.5 90.5h5.3v4.6h-5.3zM545.7 90.5h9.1v4.6h-9.1zM524.7 94.8h14.0v4.6h-14.0zM539.5 94.8h15.2v4.6h-15.2zM533.4 99.0h7.8v4.6h-7.8zM542.0 99.0h4.1v4.6h-4.1zM524.7 103.2h27.6v4.6h-27.6zM525.9 107.4h1.6v4.6h-1.6zM544.5 107.4h10.3v4.6h-10.3zM525.9 111.6h1.6v4.6h-1.6zM545.7 111.6h9.1v4.6h-9.1zM525.9 115.8h1.6v4.6h-1.6zM543.2 115.8h9.1v4.6h-9.1zM524.7 120.1h11.5v4.6h-11.5zM538.3 120.1h5.3v4.6h-5.3zM540.8 124.3h5.3v4.6h-5.3zM547.0 124.3h1.6v4.6h-1.6zM527.2 128.5h1.6v4.6h-1.6zM533.4 128.5h1.6v4.6h-1.6zM539.5 128.5h5.3v4.6h-5.3zM524.7 132.7h2.9v4.6h-2.9zM528.4 132.7h1.6v4.6h-1.6zM530.9 132.7h1.6v4.6h-1.6zM535.8 132.7h5.3v4.6h-5.3zM542.0 136.9h2.9v4.6h-2.9zM542.0 141.2h2.9v4.6h-2.9zM542.0 145.4h1.6v4.6h-1.6zM543.2 149.6h1.6v4.6h-1.6zM544.5 153.8h1.6v4.6h-1.6zM543.2 158.0h2.9v4.6h-2.9zM595.2 158.0h1.6v4.6h-1.6zM597.6 158.0h4.1v4.6h-4.1zM545.7 162.2h2.9v4.6h-2.9zM592.7 162.2h1.6v4.6h-1.6zM601.3 162.2h1.6v4.6h-1.6zM543.2 166.5h1.6v4.6h-1.6zM543.2 170.7h1.6v4.6h-1.6zM542.0 174.9h1.6v4.6h-1.6zM524.7 179.1h1.6v4.6h-1.6zM538.3 179.1h2.9v4.6h-2.9z"/>
<path shape-rendering="crispEdges" fill="#f0ac1f" d="M571.7 14.6h1.6v4.6h-1.6zM575.4 14.6h1.6v4.6h-1.6zM571.7 23.1h1.6v4.6h-1.6zM580.3 35.7h1.6v4.6h-1.6zM572.9 39.9h1.6v4.6h-1.6zM581.6 39.9h1.6v4.6h-1.6zM572.9 48.4h1.6v4.6h-1.6zM584.0 48.4h1.6v4.6h-1.6zM582.8 61.0h1.6v4.6h-1.6zM582.8 65.2h1.6v4.6h-1.6zM582.8 73.7h1.6v4.6h-1.6zM572.9 77.9h1.6v4.6h-1.6zM582.8 77.9h1.6v4.6h-1.6zM572.9 82.1h1.6v4.6h-1.6zM582.8 86.3h1.6v4.6h-1.6zM571.7 99.0h1.6v4.6h-1.6zM571.7 103.2h1.6v4.6h-1.6zM581.6 103.2h1.6v4.6h-1.6zM571.7 107.4h1.6v4.6h-1.6zM580.3 115.8h1.6v4.6h-1.6zM570.4 120.1h1.6v4.6h-1.6zM580.3 120.1h1.6v4.6h-1.6zM579.1 128.5h1.6v4.6h-1.6zM579.1 136.9h1.6v4.6h-1.6zM579.1 141.2h1.6v4.6h-1.6zM577.9 153.8h1.6v4.6h-1.6zM570.4 158.0h1.6v4.6h-1.6zM570.4 166.5h1.6v4.6h-1.6zM577.9 166.5h1.6v4.6h-1.6zM576.6 187.5h1.6v4.6h-1.6zM570.4 196.0h1.6v4.6h-1.6z"/>
<path shape-rendering="crispEdges" fill="#f08e1b" d="M572.9 18.8h1.6v4.6h-1.6zM575.4 18.8h1.6v4.6h-1.6zM572.9 23.1h4.1v4.6h-4.1zM576.6 27.3h1.6v4.6h-1.6zM574.2 31.5h1.6v4.6h-1.6zM579.1 35.7h1.6v4.6h-1.6zM574.2 39.9h1.6v4.6h-1.6zM580.3 39.9h1.6v4.6h-1.6zM582.8 48.4h1.6v4.6h-1.6zM574.2 52.6h1.6v4.6h-1.6zM581.6 65.2h1.6v4.6h-1.6zM574.2 73.7h1.6v4.6h-1.6zM581.6 73.7h1.6v4.6h-1.6zM581.6 77.9h1.6v4.6h-1.6zM581.6 82.1h1.6v4.6h-1.6zM581.6 86.3h1.6v4.6h-1.6zM572.9 94.8h1.6v4.6h-1.6zM580.3 103.2h1.6v4.6h-1.6zM571.7 115.8h1.6v4.6h-1.6zM579.1 120.1h1.6v4.6h-1.6zM571.7 124.3h1.6v4.6h-1.6zM571.7 128.5h1.6v4.6h-1.6zM571.7 132.7h1.6v4.6h-1.6zM571.7 136.9h1.6v4.6h-1.6zM571.7 153.8h1.6v4.6h-1.6zM571.7 170.7h1.6v4.6h-1.6zM576.6 170.7h1.6v4.6h-1.6zM571.7 174.9h1.6v4.6h-1.6zM571.7 179.1h1.6v4.6h-1.6zM571.7 183.3h1.6v4.6h-1.6zM575.4 187.5h1.6v4.6h-1.6zM571.7 196.0h1.6v4.6h-1.6zM575.4 196.0h1.6v4.6h-1.6z"/>
<path shape-rendering="crispEdges" fill="#d9d320" d="M579.1 18.8h1.6v4.6h-1.6zM570.4 27.3h1.6v4.6h-1.6zM582.8 35.7h1.6v4.6h-1.6zM571.7 39.9h1.6v4.6h-1.6zM584.0 39.9h1.6v4.6h-1.6zM610.0 39.9h1.6v4.6h-1.6zM612.5 39.9h11.5v4.6h-11.5zM611.2 44.1h12.8v4.6h-12.8zM586.5 48.4h1.6v4.6h-1.6zM608.8 48.4h1.6v4.6h-1.6zM585.3 52.6h1.6v4.6h-1.6zM610.0 52.6h2.9v4.6h-2.9zM585.3 56.8h1.6v4.6h-1.6zM611.2 56.8h2.9v4.6h-2.9zM616.2 56.8h1.6v4.6h-1.6zM585.3 61.0h1.6v4.6h-1.6zM611.2 61.0h4.1v4.6h-4.1zM611.2 65.2h6.6v4.6h-6.6zM584.0 69.4h1.6v4.6h-1.6zM611.2 69.4h1.6v4.6h-1.6zM613.7 69.4h10.3v4.6h-10.3zM571.7 73.7h1.6v4.6h-1.6zM584.0 73.7h1.6v4.6h-1.6zM612.5 73.7h11.5v4.6h-11.5zM571.7 77.9h1.6v4.6h-1.6zM611.2 77.9h2.9v4.6h-2.9zM614.9 77.9h9.1v4.6h-9.1zM571.7 82.1h1.6v4.6h-1.6zM584.0 82.1h1.6v4.6h-1.6zM613.7 82.1h10.3v4.6h-10.3zM585.3 86.3h1.6v4.6h-1.6zM611.2 86.3h6.6v4.6h-6.6zM618.7 86.3h1.6v4.6h-1.6zM584.0 90.5h1.6v4.6h-1.6zM611.2 90.5h12.8v4.6h-12.8zM584.0 94.8h1.6v4.6h-1.6zM611.2 94.8h12.8v4.6h-12.8zM570.4 99.0h1.6v4.6h-1.6zM584.0 99.0h1.6v4.6h-1.6zM610.0 99.0h1.6v4.6h-1.6zM570.4 103.2h1.6v4.6h-1.6zM584.0 103.2h1.6v4.6h-1.6zM610.0 103.2h14.0v4.6h-14.0zM570.4 107.4h1.6v4.6h-1.6zM582.8 107.4h1.6v4.6h-1.6zM613.7 107.4h1.6v4.6h-1.6zM621.1 107.4h1.6v4.6h-1.6zM582.8 111.6h1.6v4.6h-1.6zM580.3 128.5h1.6v4.6h-1.6zM580.3 136.9h1.6v4.6h-1.6zM580.3 141.2h1.6v4.6h-1.6zM577.9 162.2h1.6v4.6h-1.6zM577.9 187.5h1.6v4.6h-1.6zM569.2 196.0h1.6v4.6h-1.6z"/>
<path shape-rendering="crispEdges" fill="#1396f0" d="M537.1 35.7h1.6v4.6h-1.6zM540.8 35.7h14.0v4.6h-14.0zM547.0 39.9h1.6v4.6h-1.6zM535.8 44.1h1.6v4.6h-1.6zM538.3 44.1h9.1v4.6h-9.1zM549.4 44.1h1.6v4.6h-1.6zM534.6 52.6h4.1v4.6h-4.1zM539.5 52.6h1.6v4.6h-1.6zM532.1 56.8h11.5v4.6h-11.5zM530.9 61.0h12.8v4.6h-12.8zM524.7 65.2h10.3v4.6h-10.3zM538.3 65.2h7.8v4.6h-7.8zM548.2 65.2h1.6v4.6h-1.6zM524.7 69.4h10.3v4.6h-10.3zM538.3 69.4h11.5v4.6h-11.5zM524.7 73.7h2.9v4.6h-2.9zM528.4 73.7h16.5v4.6h-16.5zM532.1 77.9h6.6v4.6h-6.6zM539.5 77.9h1.6v4.6h-1.6zM524.7 82.1h14.0v4.6h-14.0zM539.5 82.1h4.1v4.6h-4.1zM527.2 90.5h1.6v4.6h-1.6zM533.4 90.5h6.6v4.6h-6.6zM544.5 90.5h1.6v4.6h-1.6zM538.3 94.8h1.6v4.6h-1.6zM524.7 107.4h1.6v4.6h-1.6zM527.2 107.4h17.7v4.6h-17.7zM524.7 111.6h1.6v4.6h-1.6zM527.2 111.6h18.9v4.6h-18.9zM524.7 115.8h1.6v4.6h-1.6zM527.2 115.8h16.5v4.6h-16.5zM535.8 120.1h2.9v4.6h-2.9zM524.7 124.3h16.5v4.6h-16.5zM524.7 128.5h2.9v4.6h-2.9zM528.4 128.5h5.3v4.6h-5.3zM534.6 128.5h5.3v4.6h-5.3zM527.2 132.7h1.6v4.6h-1.6zM529.6 132.7h1.6v4.6h-1.6zM532.1 132.7h4.1v4.6h-4.1zM538.3 136.9h4.1v4.6h-4.1zM539.5 141.2h2.9v4.6h-2.9zM540.8 145.4h1.6v4.6h-1.6zM542.0 149.6h1.6v4.6h-1.6zM543.2 153.8h1.6v4.6h-1.6zM596.4 158.0h1.6v4.6h-1.6zM544.5 162.2h1.6v4.6h-1.6zM593.9 162.2h2.9v4.6h-2.9zM600.1 162.2h1.6v4.6h-1.6zM542.0 166.5h1.6v4.6h-1.6zM542.0 170.7h1.6v4.6h-1.6zM540.8 174.9h1.6v4.6h-1.6zM525.9 179.1h4.1v4.6h-4.1zM534.6 179.1h4.1v4.6h-4.1z"/>
<path shape-rendering="crispEdges" fill="#f07117" d="M575.4 39.9h1.6v4.6h-1.6zM579.1 39.9h1.6v4.6h-1.6zM581.6 48.4h1.6v4.6h-1.6zM575.4 52.6h1.6v4.6h-1.6zM575.4 56.8h1.6v4.6h-1.6zM575.4 61.0h1.6v4.6h-1.6zM575.4 65.2h1.6v4.6h-1.6zM580.3 65.2h1.6v4.6h-1.6zM575.4 69.4h1.6v4.6h-1.6zM580.3 69.4h1.6v4.6h-1.6zM580.3 73.7h1.6v4.6h-1.6zM580.3 77.9h1.6v4.6h-1.6zM580.3 82.1h1.6v4.6h-1.6zM574.2 86.3h1.6v4.6h-1.6zM580.3 86.3h1.6v4.6h-1.6zM574.2 90.5h1.6v4.6h-1.6zM574.2 94.8h1.6v4.6h-1.6zM579.1 103.2h1.6v4.6h-1.6zM572.9 111.6h1.6v4.6h-1.6zM572.9 115.8h1.6v4.6h-1.6zM577.9 124.3h1.6v4.6h-1.6zM577.9 141.2h1.6v4.6h-1.6zM576.6 149.6h1.6v4.6h-1.6zM574.2 162.2h1.6v4.6h-1.6zM575.4 170.7h1.6v4.6h-1.6zM572.9 174.9h1.6v4.6h-1.6zM572.9 179.1h1.6v4.6h-1.6zM575.4 179.1h1.6v4.6h-1.6zM572.9 183.3h2.9v4.6h-2.9z"/>
<path shape-rendering="crispEdges" fill="#f06215" d="M576.6 39.9h2.9v4.6h-2.9zM576.6 44.1h4.1v4.6h-4.1zM580.3 52.6h1.6v4.6h-1.6zM580.3 56.8h1.6v4.6h-1.6zM576.6 61.0h1.6v4.6h-1.6zM580.3 61.0h1.6v4.6h-1.6zM576.6 65.2h1.6v4.6h-1.6zM579.1 65.2h1.6v4.6h-1.6zM576.6 69.4h1.6v4.6h-1.6zM579.1 69.4h1.6v4.6h-1.6zM575.4 73.7h1.6v4.6h-1.6zM579.1 73.7h1.6v4.6h-1.6zM575.4 77.9h1.6v4.6h-1.6zM575.4 82.1h1.6v4.6h-1.6zM579.1 82.1h1.6v4.6h-1.6zM579.1 90.5h1.6v4.6h-1.6zM579.1 94.8h1.6v4.6h-1.6zM577.9 107.4h1.6v4.6h-1.6zM577.9 111.6h1.6v4.6h-1.6zM577.9 115.8h1.6v4.6h-1.6zM577.9 120.1h1.6v4.6h-1.6zM572.9 124.3h1.6v4.6h-1.6zM576.6 124.3h1.6v4.6h-1.6zM572.9 128.5h1.6v4.6h-1.6zM576.6 128.5h1.6v4.6h-1.6zM572.9 132.7h1.6v4.6h-1.6zM572.9 149.6h1.6v4.6h-1.6zM572.9 153.8h1.6v4.6h-1.6zM575.4 153.8h1.6v4.6h-1.6zM572.9 158.0h1.6v4.6h-1.6zM575.4 158.0h1.6v4.6h-1.6zM572.9 166.5h1.6v4.6h-1.6zM575.4 166.5h1.6v4.6h-1.6zM572.9 170.7h1.6v4.6h-1.6zM574.2 174.9h1.6v4.6h-1.6zM574.2 179.1h1.6v4.6h-1.6z"/>
<path shape-rendering="crispEdges" fill="#f05313" d="M575.4 48.4h1.6v4.6h-1.6zM580.3 48.4h1.6v4.6h-1.6zM576.6 52.6h4.1v4.6h-4.1zM576.6 56.8h1.6v4.6h-1.6zM579.1 56.8h1.6v4.6h-1.6zM577.9 61.0h2.9v4.6h-2.9zM577.9 65.2h1.6v4.6h-1.6zM577.9 69.4h1.6v4.6h-1.6zM576.6 73.7h2.9v4.6h-2.9zM576.6 77.9h1.6v4.6h-1.6zM579.1 77.9h1.6v4.6h-1.6zM575.4 86.3h1.6v4.6h-1.6zM579.1 86.3h1.6v4.6h-1.6zM575.4 90.5h1.6v4.6h-1.6zM574.2 99.0h1.6v4.6h-1.6zM579.1 99.0h1.6v4.6h-1.6zM574.2 103.2h1.6v4.6h-1.6zM577.9 103.2h1.6v4.6h-1.6zM574.2 107.4h1.6v4.6h-1.6zM574.2 111.6h1.6v4.6h-1.6zM576.6 111.6h1.6v4.6h-1.6zM572.9 120.1h1.6v4.6h-1.6zM574.2 124.3h1.6v4.6h-1.6zM574.2 128.5h2.9v4.6h-2.9zM576.6 132.7h1.6v4.6h-1.6zM572.9 136.9h1.6v4.6h-1.6zM572.9 145.4h1.6v4.6h-1.6zM576.6 145.4h1.6v4.6h-1.6zM574.2 149.6h2.9v4.6h-2.9zM574.2 153.8h1.6v4.6h-1.6zM574.2 158.0h1.6v4.6h-1.6zM574.2 166.5h1.6v4.6h-1.6zM574.2 170.7h1.6v4.6h-1.6z"/>
<path shape-rendering="crispEdges" fill="#f04411" d="M576.6 48.4h1.6v4.6h-1.6zM579.1 48.4h1.6v4.6h-1.6zM577.9 56.8h1.6v4.6h-1.6zM577.9 77.9h1.6v4.6h-1.6zM576.6 82.1h2.9v4.6h-2.9zM576.6 86.3h2.9v4.6h-2.9zM576.6 90.5h2.9v4.6h-2.9zM575.4 94.8h4.1v4.6h-4.1zM575.4 99.0h1.6v4.6h-1.6zM577.9 99.0h1.6v4.6h-1.6zM575.4 103.2h2.9v4.6h-2.9zM575.4 107.4h2.9v4.6h-2.9zM575.4 111.6h1.6v4.6h-1.6zM574.2 115.8h4.1v4.6h-4.1zM574.2 120.1h1.6v4.6h-1.6zM576.6 120.1h1.6v4.6h-1.6zM575.4 124.3h1.6v4.6h-1.6zM574.2 132.7h2.9v4.6h-2.9zM576.6 136.9h1.6v4.6h-1.6z"/>
<path shape-rendering="crispEdges" fill="#e63610" d="M577.9 48.4h1.6v4.6h-1.6zM576.6 99.0h1.6v4.6h-1.6zM575.4 120.1h1.6v4.6h-1.6zM574.2 145.4h2.9v4.6h-2.9z"/>
<path shape-rendering="crispEdges" fill="#178af0" d="M534.6 65.2h4.1v4.6h-4.1zM534.6 69.4h4.1v4.6h-4.1zM524.7 136.9h7.8v4.6h-7.8zM533.4 136.9h5.3v4.6h-5.3zM524.7 141.2h2.9v4.6h-2.9zM535.8 141.2h4.1v4.6h-4.1zM539.5 145.4h1.6v4.6h-1.6zM540.8 149.6h1.6v4.6h-1.6zM542.0 153.8h1.6v4.6h-1.6zM542.0 158.0h1.6v4.6h-1.6zM543.2 162.2h1.6v4.6h-1.6zM596.4 162.2h4.1v4.6h-4.1zM540.8 166.5h1.6v4.6h-1.6zM539.5 170.7h2.9v4.6h-2.9zM538.3 174.9h2.9v4.6h-2.9zM529.6 179.1h5.3v4.6h-5.3z"/>
<path shape-rendering="crispEdges" fill="#1c7df0" d="M532.1 136.9h1.6v4.6h-1.6zM527.2 141.2h9.1v4.6h-9.1zM524.7 145.4h2.9v4.6h-2.9zM535.8 145.4h4.1v4.6h-4.1zM539.5 149.6h1.6v4.6h-1.6zM540.8 153.8h1.6v4.6h-1.6zM540.8 158.0h1.6v4.6h-1.6zM542.0 162.2h1.6v4.6h-1.6zM539.5 166.5h1.6v4.6h-1.6zM537.1 174.9h1.6v4.6h-1.6z"/>
<path shape-rendering="crispEdges" fill="#da2a10" d="M574.2 136.9h2.9v4.6h-2.9zM572.9 141.2h1.6v4.6h-1.6z"/>
<path shape-rendering="crispEdges" fill="#900b0b" d="M574.2 141.2h1.6v4.6h-1.6z"/>
<path shape-rendering="crispEdges" fill="#800a0a" d="M575.4 141.2h1.6v4.6h-1.6z"/>
<path shape-rendering="crispEdges" fill="#cd1d10" d="M576.6 141.2h1.6v4.6h-1.6z"/>
<path shape-rendering="crispEdges" fill="#2070f0" d="M527.2 145.4h9.1v4.6h-9.1zM524.7 149.6h1.6v4.6h-1.6zM537.1 149.6h2.9v4.6h-2.9zM539.5 153.8h1.6v4.6h-1.6zM539.5 158.0h1.6v4.6h-1.6zM540.8 162.2h1.6v4.6h-1.6zM538.3 166.5h1.6v4.6h-1.6zM538.3 170.7h1.6v4.6h-1.6zM524.7 174.9h2.9v4.6h-2.9zM534.6 174.9h2.9v4.6h-2.9z"/>
<path shape-rendering="crispEdges" fill="#2864e0" d="M525.9 149.6h2.9v4.6h-2.9zM534.6 149.6h2.9v4.6h-2.9zM524.7 153.8h1.6v4.6h-1.6zM537.1 153.8h2.9v4.6h-2.9zM538.3 158.0h1.6v4.6h-1.6zM537.1 166.5h1.6v4.6h-1.6zM524.7 170.7h1.6v4.6h-1.6zM537.1 170.7h1.6v4.6h-1.6zM527.2 174.9h4.1v4.6h-4.1zM532.1 174.9h2.9v4.6h-2.9z"/>
<path shape-rendering="crispEdges" fill="#3058d0" d="M528.4 149.6h6.6v4.6h-6.6zM525.9 153.8h1.6v4.6h-1.6zM530.9 153.8h1.6v4.6h-1.6zM533.4 153.8h4.1v4.6h-4.1zM524.7 158.0h1.6v4.6h-1.6zM530.9 158.0h5.3v4.6h-5.3zM537.1 158.0h1.6v4.6h-1.6zM539.5 162.2h1.6v4.6h-1.6zM524.7 166.5h2.9v4.6h-2.9zM533.4 166.5h4.1v4.6h-4.1zM525.9 170.7h1.6v4.6h-1.6zM534.6 170.7h2.9v4.6h-2.9zM530.9 174.9h1.6v4.6h-1.6z"/>
<path shape-rendering="crispEdges" fill="#384cc0" d="M527.2 153.8h4.1v4.6h-4.1zM532.1 153.8h1.6v4.6h-1.6zM525.9 158.0h5.3v4.6h-5.3zM535.8 158.0h1.6v4.6h-1.6zM537.1 162.2h2.9v4.6h-2.9zM527.2 166.5h6.6v4.6h-6.6zM527.2 170.7h7.8v4.6h-7.8z"/>
<path shape-rendering="crispEdges" fill="#4040b0" d="M524.7 162.2h1.6v4.6h-1.6zM528.4 162.2h9.1v4.6h-9.1z"/>
<path shape-rendering="crispEdges" fill="#3e379e" d="M525.9 162.2h2.9v4.6h-2.9z"/></g>
<g clip-path="url(#cpf)"><path shape-rendering="crispEdges" fill="#f08e1b" d="M524.7 255.4h2.8v4.2h-2.8zM530.8 259.2h1.6v4.2h-1.6zM536.9 263.0h1.6v4.2h-1.6zM533.3 270.6h1.6v4.2h-1.6zM535.7 274.4h1.6v4.2h-1.6zM534.5 278.2h1.6v4.2h-1.6zM539.4 289.5h1.6v4.2h-1.6zM606.7 289.5h1.6v4.2h-1.6zM535.7 293.3h1.6v4.2h-1.6zM610.4 293.3h2.8v4.2h-2.8zM609.1 297.1h1.6v4.2h-1.6zM609.1 300.9h1.6v4.2h-1.6zM535.7 304.7h1.6v4.2h-1.6zM609.1 304.7h1.6v4.2h-1.6zM534.5 308.5h1.6v4.2h-1.6zM615.3 308.5h1.6v4.2h-1.6zM618.9 308.5h4.1v4.2h-4.1zM607.9 312.3h1.6v4.2h-1.6zM536.9 316.1h1.6v4.2h-1.6zM582.2 319.9h1.6v4.2h-1.6zM535.7 323.7h1.6v4.2h-1.6zM532.0 327.4h2.8v4.2h-2.8zM615.3 331.2h6.5v4.2h-6.5zM530.8 338.8h2.8v4.2h-2.8zM524.7 342.6h2.8v4.2h-2.8zM530.8 346.4h1.6v4.2h-1.6zM556.5 357.8h1.6v4.2h-1.6zM560.2 361.6h1.6v4.2h-1.6zM554.1 369.2h1.6v4.2h-1.6zM554.1 376.7h1.6v4.2h-1.6zM524.7 380.5h5.3v4.2h-5.3zM554.1 384.3h1.6v4.2h-1.6zM556.5 391.9h2.8v4.2h-2.8zM524.7 407.1h1.6v4.2h-1.6zM527.1 407.1h2.8v4.2h-2.8zM525.9 410.9h2.8v4.2h-2.8zM529.6 418.5h1.6v4.2h-1.6zM533.3 426.0h1.6v4.2h-1.6zM536.9 429.8h1.6v4.2h-1.6zM621.4 437.4h1.6v4.2h-1.6zM538.2 441.2h1.6v4.2h-1.6zM618.9 441.2h1.6v4.2h-1.6z"/>
<path shape-rendering="crispEdges" fill="#f09d1d" d="M527.1 255.4h4.1v4.2h-4.1zM532.0 259.2h1.6v4.2h-1.6zM534.5 266.8h2.8v4.2h-2.8zM536.9 274.4h1.6v4.2h-1.6zM534.5 285.7h1.6v4.2h-1.6zM605.5 289.5h1.6v4.2h-1.6zM536.9 293.3h1.6v4.2h-1.6zM609.1 293.3h1.6v4.2h-1.6zM578.5 297.1h1.6v4.2h-1.6zM607.9 297.1h1.6v4.2h-1.6zM536.9 300.9h1.6v4.2h-1.6zM536.9 304.7h1.6v4.2h-1.6zM610.4 308.5h2.8v4.2h-2.8zM614.0 308.5h1.6v4.2h-1.6zM616.5 308.5h2.8v4.2h-2.8zM578.5 316.1h2.8v4.2h-2.8zM539.4 319.9h1.6v4.2h-1.6zM573.7 319.9h1.6v4.2h-1.6zM606.7 319.9h1.6v4.2h-1.6zM615.3 323.7h7.7v4.2h-7.7zM534.5 327.4h2.8v4.2h-2.8zM610.4 331.2h1.6v4.2h-1.6zM612.8 331.2h2.8v4.2h-2.8zM530.8 335.0h4.1v4.2h-4.1zM533.3 338.8h1.6v4.2h-1.6zM527.1 342.6h4.1v4.2h-4.1zM532.0 346.4h1.6v4.2h-1.6zM525.9 354.0h2.8v4.2h-2.8zM557.7 357.8h1.6v4.2h-1.6zM529.6 380.5h1.6v4.2h-1.6zM561.4 380.5h1.6v4.2h-1.6zM560.2 388.1h1.6v4.2h-1.6zM555.3 391.9h1.6v4.2h-1.6zM525.9 399.5h1.6v4.2h-1.6zM525.9 407.1h1.6v4.2h-1.6zM524.7 410.9h1.6v4.2h-1.6zM528.4 410.9h1.6v4.2h-1.6zM530.8 422.2h1.6v4.2h-1.6zM534.5 426.0h1.6v4.2h-1.6zM538.2 433.6h1.6v4.2h-1.6zM539.4 437.4h1.6v4.2h-1.6zM616.5 437.4h1.6v4.2h-1.6zM617.7 441.2h1.6v4.2h-1.6zM620.2 441.2h2.8v4.2h-2.8z"/>
<path shape-rendering="crispEdges" fill="#f0ac1f" d="M530.8 255.4h1.6v4.2h-1.6zM533.3 259.2h4.1v4.2h-4.1zM538.2 263.0h1.6v4.2h-1.6zM534.5 270.6h1.6v4.2h-1.6zM535.7 278.2h1.6v4.2h-1.6zM536.9 281.9h1.6v4.2h-1.6zM535.7 285.7h1.6v4.2h-1.6zM567.5 289.5h1.6v4.2h-1.6zM570.0 289.5h1.6v4.2h-1.6zM538.2 297.1h1.6v4.2h-1.6zM577.3 297.1h1.6v4.2h-1.6zM579.8 297.1h1.6v4.2h-1.6zM574.9 300.9h1.6v4.2h-1.6zM582.2 300.9h1.6v4.2h-1.6zM535.7 308.5h1.6v4.2h-1.6zM574.9 308.5h1.6v4.2h-1.6zM582.2 308.5h1.6v4.2h-1.6zM612.8 308.5h1.6v4.2h-1.6zM538.2 312.3h1.6v4.2h-1.6zM573.7 312.3h1.6v4.2h-1.6zM577.3 316.1h1.6v4.2h-1.6zM607.9 316.1h1.6v4.2h-1.6zM568.8 319.9h1.6v4.2h-1.6zM571.2 319.9h2.8v4.2h-2.8zM605.5 319.9h1.6v4.2h-1.6zM536.9 323.7h1.6v4.2h-1.6zM578.5 323.7h2.8v4.2h-2.8zM612.8 323.7h2.8v4.2h-2.8zM617.7 327.4h1.6v4.2h-1.6zM538.2 331.2h1.6v4.2h-1.6zM611.6 331.2h1.6v4.2h-1.6zM534.5 335.0h1.6v4.2h-1.6zM534.5 338.8h1.6v4.2h-1.6zM533.3 346.4h1.6v4.2h-1.6zM555.3 346.4h5.3v4.2h-5.3zM524.7 354.0h1.6v4.2h-1.6zM528.4 354.0h1.6v4.2h-1.6zM556.5 354.0h2.8v4.2h-2.8zM555.3 357.8h1.6v4.2h-1.6zM559.0 357.8h1.6v4.2h-1.6zM554.1 361.6h1.6v4.2h-1.6zM560.2 365.4h1.6v4.2h-1.6zM524.7 373.0h4.1v4.2h-4.1zM561.4 373.0h1.6v4.2h-1.6zM552.8 380.5h1.6v4.2h-1.6zM554.1 388.1h1.6v4.2h-1.6zM559.0 391.9h1.6v4.2h-1.6zM524.7 399.5h1.6v4.2h-1.6zM527.1 399.5h2.8v4.2h-2.8zM525.9 403.3h1.6v4.2h-1.6zM528.4 403.3h1.6v4.2h-1.6zM529.6 407.1h1.6v4.2h-1.6zM529.6 410.9h1.6v4.2h-1.6zM530.8 418.5h1.6v4.2h-1.6zM532.0 422.2h1.6v4.2h-1.6zM535.7 426.0h1.6v4.2h-1.6z"/>
<path shape-rendering="crispEdges" fill="#eaba20" d="M532.0 255.4h2.8v4.2h-2.8zM536.9 266.8h1.6v4.2h-1.6zM538.2 274.4h1.6v4.2h-1.6zM536.9 278.2h1.6v4.2h-1.6zM614.0 281.9h9.0v4.2h-9.0zM621.4 285.7h1.6v4.2h-1.6zM540.6 289.5h1.6v4.2h-1.6zM561.4 289.5h6.5v4.2h-6.5zM568.8 289.5h1.6v4.2h-1.6zM571.2 289.5h1.6v4.2h-1.6zM604.2 289.5h1.6v4.2h-1.6zM576.1 297.1h1.6v4.2h-1.6zM581.0 297.1h1.6v4.2h-1.6zM607.9 300.9h1.6v4.2h-1.6zM573.7 304.7h1.6v4.2h-1.6zM607.9 304.7h1.6v4.2h-1.6zM609.1 308.5h1.6v4.2h-1.6zM606.7 312.3h1.6v4.2h-1.6zM538.2 316.1h1.6v4.2h-1.6zM576.1 316.1h1.6v4.2h-1.6zM581.0 316.1h1.6v4.2h-1.6zM606.7 316.1h1.6v4.2h-1.6zM567.5 319.9h1.6v4.2h-1.6zM570.0 319.9h1.6v4.2h-1.6zM577.3 323.7h1.6v4.2h-1.6zM581.0 323.7h1.6v4.2h-1.6zM610.4 323.7h2.8v4.2h-2.8zM536.9 327.4h1.6v4.2h-1.6zM616.5 327.4h1.6v4.2h-1.6zM618.9 327.4h4.1v4.2h-4.1zM609.1 331.2h1.6v4.2h-1.6zM535.7 335.0h1.6v4.2h-1.6zM535.7 338.8h1.6v4.2h-1.6zM530.8 342.6h2.8v4.2h-2.8zM534.5 346.4h1.6v4.2h-1.6zM617.7 346.4h5.3v4.2h-5.3zM529.6 354.0h1.6v4.2h-1.6zM555.3 354.0h1.6v4.2h-1.6zM559.0 354.0h1.6v4.2h-1.6zM527.1 357.8h1.6v4.2h-1.6zM524.7 361.6h5.3v4.2h-5.3zM561.4 369.2h1.6v4.2h-1.6zM528.4 373.0h1.6v4.2h-1.6zM524.7 376.7h4.1v4.2h-4.1zM530.8 380.5h1.6v4.2h-1.6zM525.9 384.3h2.8v4.2h-2.8zM561.4 384.3h1.6v4.2h-1.6zM524.7 391.9h4.1v4.2h-4.1zM529.6 399.5h1.6v4.2h-1.6zM524.7 403.3h1.6v4.2h-1.6zM527.1 403.3h1.6v4.2h-1.6zM530.8 407.1h1.6v4.2h-1.6zM524.7 414.7h4.1v4.2h-4.1zM532.0 418.5h1.6v4.2h-1.6zM533.3 422.2h1.6v4.2h-1.6zM538.2 429.8h1.6v4.2h-1.6zM620.2 433.6h1.6v4.2h-1.6zM615.3 437.4h1.6v4.2h-1.6zM539.4 441.2h1.6v4.2h-1.6zM616.5 441.2h1.6v4.2h-1.6z"/>
<path shape-rendering="crispEdges" fill="#e1c620" d="M534.5 255.4h2.8v4.2h-2.8zM536.9 259.2h1.6v4.2h-1.6zM539.4 263.0h1.6v4.2h-1.6zM535.7 270.6h1.6v4.2h-1.6zM538.2 281.9h1.6v4.2h-1.6zM611.6 281.9h2.8v4.2h-2.8zM536.9 285.7h1.6v4.2h-1.6zM612.8 285.7h4.1v4.2h-4.1zM617.7 285.7h4.1v4.2h-4.1zM572.4 289.5h1.6v4.2h-1.6zM603.0 289.5h1.6v4.2h-1.6zM538.2 293.3h1.6v4.2h-1.6zM607.9 293.3h1.6v4.2h-1.6zM606.7 297.1h1.6v4.2h-1.6zM538.2 300.9h1.6v4.2h-1.6zM538.2 304.7h1.6v4.2h-1.6zM583.4 304.7h1.6v4.2h-1.6zM536.9 308.5h1.6v4.2h-1.6zM572.4 312.3h1.6v4.2h-1.6zM583.4 312.3h1.6v4.2h-1.6zM540.6 319.9h1.6v4.2h-1.6zM565.1 319.9h2.8v4.2h-2.8zM583.4 319.9h1.6v4.2h-1.6zM604.2 319.9h1.6v4.2h-1.6zM576.1 323.7h1.6v4.2h-1.6zM609.1 323.7h1.6v4.2h-1.6zM611.6 327.4h1.6v4.2h-1.6zM614.0 327.4h2.8v4.2h-2.8zM539.4 331.2h1.6v4.2h-1.6zM536.9 338.8h1.6v4.2h-1.6zM535.7 346.4h2.8v4.2h-2.8zM554.1 346.4h1.6v4.2h-1.6zM560.2 346.4h2.8v4.2h-2.8zM616.5 346.4h1.6v4.2h-1.6zM524.7 350.2h4.1v4.2h-4.1zM530.8 354.0h1.6v4.2h-1.6zM524.7 357.8h2.8v4.2h-2.8zM528.4 357.8h1.6v4.2h-1.6zM529.6 361.6h1.6v4.2h-1.6zM561.4 361.6h1.6v4.2h-1.6zM554.1 365.4h1.6v4.2h-1.6zM529.6 373.0h1.6v4.2h-1.6zM552.8 373.0h1.6v4.2h-1.6zM528.4 376.7h1.6v4.2h-1.6zM561.4 376.7h1.6v4.2h-1.6zM532.0 380.5h1.6v4.2h-1.6zM524.7 384.3h1.6v4.2h-1.6zM528.4 384.3h1.6v4.2h-1.6zM524.7 388.1h1.6v4.2h-1.6zM561.4 388.1h1.6v4.2h-1.6zM528.4 391.9h1.6v4.2h-1.6zM554.1 391.9h1.6v4.2h-1.6zM560.2 391.9h1.6v4.2h-1.6zM525.9 395.7h1.6v4.2h-1.6zM532.0 407.1h1.6v4.2h-1.6zM530.8 410.9h1.6v4.2h-1.6zM528.4 414.7h1.6v4.2h-1.6zM533.3 418.5h1.6v4.2h-1.6zM534.5 422.2h1.6v4.2h-1.6zM536.9 426.0h1.6v4.2h-1.6zM617.7 429.8h1.6v4.2h-1.6zM620.2 429.8h1.6v4.2h-1.6zM617.7 433.6h2.8v4.2h-2.8zM621.4 433.6h1.6v4.2h-1.6z"/>
<path shape-rendering="crispEdges" fill="#d9d320" d="M536.9 255.4h1.6v4.2h-1.6zM538.2 259.2h1.6v4.2h-1.6zM538.2 266.8h1.6v4.2h-1.6zM536.9 270.6h1.6v4.2h-1.6zM617.7 274.4h5.3v4.2h-5.3zM609.1 281.9h2.8v4.2h-2.8zM610.4 285.7h2.8v4.2h-2.8zM616.5 285.7h1.6v4.2h-1.6zM560.2 289.5h1.6v4.2h-1.6zM573.7 289.5h2.8v4.2h-2.8zM574.9 297.1h1.6v4.2h-1.6zM573.7 300.9h1.6v4.2h-1.6zM606.7 300.9h1.6v4.2h-1.6zM572.4 304.7h1.6v4.2h-1.6zM606.7 304.7h1.6v4.2h-1.6zM607.9 308.5h1.6v4.2h-1.6zM539.4 316.1h1.6v4.2h-1.6zM574.9 316.1h1.6v4.2h-1.6zM582.2 316.1h1.6v4.2h-1.6zM561.4 319.9h4.1v4.2h-4.1zM538.2 323.7h1.6v4.2h-1.6zM538.2 327.4h1.6v4.2h-1.6zM610.4 327.4h1.6v4.2h-1.6zM612.8 327.4h1.6v4.2h-1.6zM567.5 331.2h4.1v4.2h-4.1zM607.9 331.2h1.6v4.2h-1.6zM536.9 335.0h1.6v4.2h-1.6zM618.9 335.0h1.6v4.2h-1.6zM621.4 335.0h1.6v4.2h-1.6zM617.7 338.8h2.8v4.2h-2.8zM533.3 342.6h2.8v4.2h-2.8zM562.6 346.4h2.8v4.2h-2.8zM614.0 346.4h2.8v4.2h-2.8zM528.4 350.2h2.8v4.2h-2.8zM556.5 350.2h1.6v4.2h-1.6zM560.2 354.0h1.6v4.2h-1.6zM529.6 357.8h1.6v4.2h-1.6zM554.1 357.8h1.6v4.2h-1.6zM560.2 357.8h1.6v4.2h-1.6zM530.8 361.6h1.6v4.2h-1.6zM525.9 369.2h4.1v4.2h-4.1zM530.8 373.0h1.6v4.2h-1.6zM529.6 376.7h1.6v4.2h-1.6zM533.3 380.5h1.6v4.2h-1.6zM562.6 380.5h1.6v4.2h-1.6zM529.6 384.3h2.8v4.2h-2.8zM552.8 384.3h1.6v4.2h-1.6zM525.9 388.1h5.3v4.2h-5.3zM529.6 391.9h1.6v4.2h-1.6zM524.7 395.7h1.6v4.2h-1.6zM527.1 395.7h2.8v4.2h-2.8zM556.5 395.7h2.8v4.2h-2.8zM530.8 399.5h1.6v4.2h-1.6zM529.6 403.3h2.8v4.2h-2.8zM533.3 407.1h1.6v4.2h-1.6zM532.0 410.9h2.8v4.2h-2.8zM529.6 414.7h1.6v4.2h-1.6zM618.9 429.8h1.6v4.2h-1.6zM621.4 429.8h1.6v4.2h-1.6zM539.4 433.6h1.6v4.2h-1.6zM616.5 433.6h1.6v4.2h-1.6zM540.6 437.4h1.6v4.2h-1.6zM614.0 437.4h1.6v4.2h-1.6zM615.3 441.2h1.6v4.2h-1.6z"/>
<path shape-rendering="crispEdges" fill="#b0e320" d="M538.2 255.4h1.6v4.2h-1.6zM539.4 259.2h1.6v4.2h-1.6zM561.4 263.0h9.0v4.2h-9.0zM539.4 266.8h1.6v4.2h-1.6zM538.2 270.6h1.6v4.2h-1.6zM540.6 274.4h1.6v4.2h-1.6zM565.1 274.4h6.5v4.2h-6.5zM609.1 274.4h1.6v4.2h-1.6zM609.1 278.2h2.8v4.2h-2.8zM614.0 278.2h1.6v4.2h-1.6zM617.7 278.2h1.6v4.2h-1.6zM539.4 281.9h1.6v4.2h-1.6zM606.7 281.9h1.6v4.2h-1.6zM607.9 285.7h1.6v4.2h-1.6zM559.0 289.5h1.6v4.2h-1.6zM600.6 289.5h1.6v4.2h-1.6zM539.4 293.3h1.6v4.2h-1.6zM605.5 293.3h1.6v4.2h-1.6zM572.4 300.9h1.6v4.2h-1.6zM583.4 300.9h1.6v4.2h-1.6zM568.8 304.7h4.1v4.2h-4.1zM605.5 304.7h1.6v4.2h-1.6zM538.2 308.5h1.6v4.2h-1.6zM606.7 308.5h1.6v4.2h-1.6zM567.5 312.3h2.8v4.2h-2.8zM567.5 316.1h1.6v4.2h-1.6zM570.0 316.1h2.8v4.2h-2.8zM560.2 319.9h1.6v4.2h-1.6zM584.7 319.9h1.6v4.2h-1.6zM603.0 319.9h1.6v4.2h-1.6zM573.7 323.7h1.6v4.2h-1.6zM560.2 331.2h1.6v4.2h-1.6zM577.3 331.2h1.6v4.2h-1.6zM605.5 331.2h1.6v4.2h-1.6zM538.2 335.0h1.6v4.2h-1.6zM611.6 335.0h1.6v4.2h-1.6zM538.2 338.8h1.6v4.2h-1.6zM566.3 338.8h1.6v4.2h-1.6zM568.8 338.8h2.8v4.2h-2.8zM610.4 338.8h1.6v4.2h-1.6zM612.8 338.8h1.6v4.2h-1.6zM536.9 342.6h1.6v4.2h-1.6zM616.5 342.6h6.5v4.2h-6.5zM552.8 346.4h1.6v4.2h-1.6zM567.5 346.4h1.6v4.2h-1.6zM570.0 346.4h1.6v4.2h-1.6zM572.4 346.4h2.8v4.2h-2.8zM576.1 346.4h2.8v4.2h-2.8zM610.4 346.4h1.6v4.2h-1.6zM530.8 350.2h1.6v4.2h-1.6zM555.3 350.2h1.6v4.2h-1.6zM533.3 354.0h1.6v4.2h-1.6zM561.4 354.0h1.6v4.2h-1.6zM532.0 357.8h1.6v4.2h-1.6zM532.0 361.6h1.6v4.2h-1.6zM552.8 361.6h1.6v4.2h-1.6zM562.6 361.6h1.6v4.2h-1.6zM529.6 369.2h2.8v4.2h-2.8zM562.6 369.2h1.6v4.2h-1.6zM532.0 373.0h1.6v4.2h-1.6zM534.5 380.5h1.6v4.2h-1.6zM532.0 384.3h1.6v4.2h-1.6zM562.6 384.3h1.6v4.2h-1.6zM562.6 388.1h1.6v4.2h-1.6zM532.0 391.9h1.6v4.2h-1.6zM530.8 395.7h1.6v4.2h-1.6zM555.3 395.7h1.6v4.2h-1.6zM533.3 399.5h1.6v4.2h-1.6zM556.5 399.5h2.8v4.2h-2.8zM617.7 399.5h1.6v4.2h-1.6zM621.4 399.5h1.6v4.2h-1.6zM532.0 403.3h1.6v4.2h-1.6zM534.5 407.1h1.6v4.2h-1.6zM617.7 407.1h5.3v4.2h-5.3zM534.5 410.9h2.8v4.2h-2.8zM568.8 410.9h1.6v4.2h-1.6zM535.7 418.5h1.6v4.2h-1.6zM615.3 422.2h2.8v4.2h-2.8zM618.9 422.2h4.1v4.2h-4.1zM538.2 426.0h1.6v4.2h-1.6zM616.5 426.0h1.6v4.2h-1.6zM615.3 429.8h2.8v4.2h-2.8zM615.3 433.6h1.6v4.2h-1.6zM540.6 441.2h1.6v4.2h-1.6zM614.0 441.2h1.6v4.2h-1.6z"/>
<path shape-rendering="crispEdges" fill="#90e620" d="M539.4 255.4h1.6v4.2h-1.6zM570.0 263.0h1.6v4.2h-1.6zM563.9 274.4h1.6v4.2h-1.6zM606.7 274.4h2.8v4.2h-2.8zM539.4 278.2h1.6v4.2h-1.6zM568.8 278.2h2.8v4.2h-2.8zM568.8 281.9h1.6v4.2h-1.6zM538.2 285.7h1.6v4.2h-1.6zM578.5 289.5h2.8v4.2h-2.8zM540.6 297.1h1.6v4.2h-1.6zM568.8 297.1h2.8v4.2h-2.8zM572.4 297.1h1.6v4.2h-1.6zM604.2 297.1h1.6v4.2h-1.6zM539.4 300.9h1.6v4.2h-1.6zM571.2 300.9h1.6v4.2h-1.6zM605.5 300.9h1.6v4.2h-1.6zM567.5 304.7h1.6v4.2h-1.6zM572.4 308.5h1.6v4.2h-1.6zM583.4 308.5h1.6v4.2h-1.6zM566.3 312.3h1.6v4.2h-1.6zM584.7 312.3h1.6v4.2h-1.6zM604.2 312.3h1.6v4.2h-1.6zM540.6 316.1h1.6v4.2h-1.6zM565.1 316.1h2.8v4.2h-2.8zM583.4 316.1h1.6v4.2h-1.6zM604.2 316.1h1.6v4.2h-1.6zM541.8 319.9h1.6v4.2h-1.6zM539.4 323.7h1.6v4.2h-1.6zM572.4 323.7h1.6v4.2h-1.6zM606.7 323.7h1.6v4.2h-1.6zM607.9 327.4h1.6v4.2h-1.6zM541.8 331.2h1.6v4.2h-1.6zM610.4 335.0h1.6v4.2h-1.6zM562.6 338.8h4.1v4.2h-4.1zM567.5 338.8h1.6v4.2h-1.6zM571.2 338.8h1.6v4.2h-1.6zM611.6 338.8h1.6v4.2h-1.6zM615.3 342.6h1.6v4.2h-1.6zM539.4 346.4h1.6v4.2h-1.6zM574.9 346.4h1.6v4.2h-1.6zM609.1 346.4h1.6v4.2h-1.6zM532.0 350.2h1.6v4.2h-1.6zM560.2 350.2h1.6v4.2h-1.6zM534.5 354.0h1.6v4.2h-1.6zM533.3 361.6h1.6v4.2h-1.6zM524.7 365.4h5.3v4.2h-5.3zM533.3 373.0h1.6v4.2h-1.6zM532.0 376.7h1.6v4.2h-1.6zM562.6 376.7h1.6v4.2h-1.6zM535.7 380.5h1.6v4.2h-1.6zM551.6 380.5h1.6v4.2h-1.6zM533.3 384.3h1.6v4.2h-1.6zM532.0 388.1h1.6v4.2h-1.6zM533.3 391.9h1.6v4.2h-1.6zM552.8 391.9h1.6v4.2h-1.6zM560.2 395.7h1.6v4.2h-1.6zM534.5 399.5h1.6v4.2h-1.6zM555.3 399.5h1.6v4.2h-1.6zM559.0 399.5h1.6v4.2h-1.6zM616.5 399.5h1.6v4.2h-1.6zM618.9 399.5h2.8v4.2h-2.8zM533.3 403.3h1.6v4.2h-1.6zM617.7 403.3h5.3v4.2h-5.3zM535.7 407.1h1.6v4.2h-1.6zM566.3 407.1h5.3v4.2h-5.3zM615.3 407.1h2.8v4.2h-2.8zM566.3 410.9h2.8v4.2h-2.8zM570.0 410.9h1.6v4.2h-1.6zM532.0 414.7h1.6v4.2h-1.6zM567.5 418.5h2.8v4.2h-2.8zM620.2 418.5h2.8v4.2h-2.8zM536.9 422.2h1.6v4.2h-1.6zM610.4 422.2h5.3v4.2h-5.3zM617.7 422.2h1.6v4.2h-1.6zM614.0 426.0h2.8v4.2h-2.8zM540.6 433.6h1.6v4.2h-1.6zM614.0 433.6h1.6v4.2h-1.6zM541.8 437.4h1.6v4.2h-1.6zM611.6 437.4h1.6v4.2h-1.6z"/>
<path shape-rendering="crispEdges" fill="#46e333" d="M540.6 255.4h1.6v4.2h-1.6zM561.4 255.4h5.3v4.2h-5.3zM560.2 259.2h4.1v4.2h-4.1zM565.1 259.2h1.6v4.2h-1.6zM567.5 259.2h1.6v4.2h-1.6zM559.0 263.0h1.6v4.2h-1.6zM572.4 263.0h1.6v4.2h-1.6zM601.8 263.0h1.6v4.2h-1.6zM604.2 263.0h9.0v4.2h-9.0zM614.0 263.0h1.6v4.2h-1.6zM562.6 266.8h1.6v4.2h-1.6zM566.3 266.8h1.6v4.2h-1.6zM568.8 266.8h1.6v4.2h-1.6zM615.3 266.8h2.8v4.2h-2.8zM618.9 266.8h2.8v4.2h-2.8zM540.6 270.6h1.6v4.2h-1.6zM614.0 270.6h5.3v4.2h-5.3zM621.4 270.6h1.6v4.2h-1.6zM559.0 274.4h1.6v4.2h-1.6zM573.7 274.4h1.6v4.2h-1.6zM604.2 274.4h1.6v4.2h-1.6zM540.6 278.2h1.6v4.2h-1.6zM562.6 278.2h1.6v4.2h-1.6zM572.4 278.2h1.6v4.2h-1.6zM606.7 278.2h1.6v4.2h-1.6zM540.6 281.9h1.6v4.2h-1.6zM562.6 281.9h5.3v4.2h-5.3zM571.2 281.9h4.1v4.2h-4.1zM604.2 281.9h1.6v4.2h-1.6zM539.4 285.7h1.6v4.2h-1.6zM605.5 285.7h1.6v4.2h-1.6zM543.1 289.5h1.6v4.2h-1.6zM581.0 289.5h1.6v4.2h-1.6zM540.6 293.3h1.6v4.2h-1.6zM566.3 293.3h2.8v4.2h-2.8zM570.0 293.3h1.6v4.2h-1.6zM565.1 297.1h4.1v4.2h-4.1zM603.0 297.1h1.6v4.2h-1.6zM566.3 300.9h2.8v4.2h-2.8zM565.1 304.7h2.8v4.2h-2.8zM539.4 308.5h1.6v4.2h-1.6zM568.8 308.5h1.6v4.2h-1.6zM605.5 308.5h1.6v4.2h-1.6zM561.4 312.3h2.8v4.2h-2.8zM561.4 316.1h1.6v4.2h-1.6zM603.0 316.1h1.6v4.2h-1.6zM585.9 319.9h1.6v4.2h-1.6zM601.8 319.9h1.6v4.2h-1.6zM565.1 323.7h6.5v4.2h-6.5zM583.4 323.7h1.6v4.2h-1.6zM605.5 323.7h1.6v4.2h-1.6zM567.5 327.4h4.1v4.2h-4.1zM572.4 327.4h1.6v4.2h-1.6zM606.7 327.4h1.6v4.2h-1.6zM559.0 331.2h1.6v4.2h-1.6zM579.8 331.2h1.6v4.2h-1.6zM603.0 331.2h1.6v4.2h-1.6zM561.4 335.0h6.5v4.2h-6.5zM571.2 335.0h2.8v4.2h-2.8zM607.9 335.0h1.6v4.2h-1.6zM560.2 338.8h1.6v4.2h-1.6zM573.7 338.8h2.8v4.2h-2.8zM607.9 338.8h1.6v4.2h-1.6zM563.9 342.6h2.8v4.2h-2.8zM570.0 342.6h2.8v4.2h-2.8zM610.4 342.6h2.8v4.2h-2.8zM579.8 346.4h1.6v4.2h-1.6zM605.5 346.4h2.8v4.2h-2.8zM534.5 350.2h1.6v4.2h-1.6zM535.7 354.0h1.6v4.2h-1.6zM552.8 354.0h1.6v4.2h-1.6zM563.9 354.0h1.6v4.2h-1.6zM534.5 357.8h1.6v4.2h-1.6zM552.8 357.8h1.6v4.2h-1.6zM562.6 357.8h1.6v4.2h-1.6zM563.9 361.6h1.6v4.2h-1.6zM530.8 365.4h1.6v4.2h-1.6zM562.6 365.4h1.6v4.2h-1.6zM533.3 369.2h1.6v4.2h-1.6zM563.9 369.2h1.6v4.2h-1.6zM534.5 373.0h1.6v4.2h-1.6zM551.6 373.0h1.6v4.2h-1.6zM563.9 373.0h1.6v4.2h-1.6zM536.9 380.5h1.6v4.2h-1.6zM535.7 384.3h1.6v4.2h-1.6zM563.9 384.3h1.6v4.2h-1.6zM534.5 388.1h2.8v4.2h-2.8zM563.9 391.9h1.6v4.2h-1.6zM533.3 395.7h1.6v4.2h-1.6zM561.4 395.7h1.6v4.2h-1.6zM535.7 399.5h1.6v4.2h-1.6zM562.6 399.5h1.6v4.2h-1.6zM610.4 399.5h1.6v4.2h-1.6zM535.7 403.3h1.6v4.2h-1.6zM612.8 403.3h2.8v4.2h-2.8zM538.2 407.1h1.6v4.2h-1.6zM563.9 407.1h2.8v4.2h-2.8zM562.6 410.9h2.8v4.2h-2.8zM614.0 410.9h1.6v4.2h-1.6zM616.5 410.9h1.6v4.2h-1.6zM534.5 414.7h1.6v4.2h-1.6zM568.8 414.7h1.6v4.2h-1.6zM538.2 418.5h1.6v4.2h-1.6zM563.9 418.5h1.6v4.2h-1.6zM571.2 418.5h1.6v4.2h-1.6zM610.4 418.5h2.8v4.2h-2.8zM614.0 418.5h1.6v4.2h-1.6zM538.2 422.2h1.6v4.2h-1.6zM568.8 422.2h1.6v4.2h-1.6zM607.9 422.2h1.6v4.2h-1.6zM610.4 426.0h2.8v4.2h-2.8zM612.8 429.8h1.6v4.2h-1.6zM610.4 437.4h1.6v4.2h-1.6zM541.8 441.2h1.6v4.2h-1.6z"/>
<path shape-rendering="crispEdges" fill="#20e040" d="M541.8 255.4h1.6v4.2h-1.6zM560.2 255.4h1.6v4.2h-1.6zM566.3 255.4h4.1v4.2h-4.1zM610.4 255.4h1.6v4.2h-1.6zM614.0 255.4h2.8v4.2h-2.8zM618.9 255.4h2.8v4.2h-2.8zM541.8 259.2h1.6v4.2h-1.6zM559.0 259.2h1.6v4.2h-1.6zM568.8 259.2h4.1v4.2h-4.1zM612.8 259.2h1.6v4.2h-1.6zM615.3 259.2h1.6v4.2h-1.6zM617.7 259.2h2.8v4.2h-2.8zM543.1 263.0h1.6v4.2h-1.6zM557.7 263.0h1.6v4.2h-1.6zM573.7 263.0h1.6v4.2h-1.6zM600.6 263.0h1.6v4.2h-1.6zM603.0 263.0h1.6v4.2h-1.6zM541.8 266.8h1.6v4.2h-1.6zM561.4 266.8h1.6v4.2h-1.6zM563.9 266.8h2.8v4.2h-2.8zM567.5 266.8h1.6v4.2h-1.6zM570.0 266.8h1.6v4.2h-1.6zM610.4 266.8h5.3v4.2h-5.3zM611.6 270.6h2.8v4.2h-2.8zM574.9 274.4h2.8v4.2h-2.8zM603.0 274.4h1.6v4.2h-1.6zM560.2 278.2h2.8v4.2h-2.8zM573.7 278.2h1.6v4.2h-1.6zM605.5 278.2h1.6v4.2h-1.6zM561.4 281.9h1.6v4.2h-1.6zM574.9 281.9h1.6v4.2h-1.6zM603.0 281.9h1.6v4.2h-1.6zM568.8 285.7h1.6v4.2h-1.6zM582.2 289.5h1.6v4.2h-1.6zM595.7 289.5h2.8v4.2h-2.8zM562.6 293.3h4.1v4.2h-4.1zM571.2 293.3h2.8v4.2h-2.8zM561.4 297.1h4.1v4.2h-4.1zM540.6 300.9h1.6v4.2h-1.6zM565.1 300.9h1.6v4.2h-1.6zM540.6 304.7h1.6v4.2h-1.6zM563.9 304.7h1.6v4.2h-1.6zM584.7 304.7h1.6v4.2h-1.6zM603.0 304.7h1.6v4.2h-1.6zM570.0 308.5h1.6v4.2h-1.6zM603.0 312.3h1.6v4.2h-1.6zM560.2 316.1h1.6v4.2h-1.6zM543.1 319.9h1.6v4.2h-1.6zM557.7 319.9h1.6v4.2h-1.6zM600.6 319.9h1.6v4.2h-1.6zM540.6 323.7h1.6v4.2h-1.6zM561.4 323.7h4.1v4.2h-4.1zM540.6 327.4h1.6v4.2h-1.6zM561.4 327.4h4.1v4.2h-4.1zM566.3 327.4h1.6v4.2h-1.6zM571.2 327.4h1.6v4.2h-1.6zM573.7 327.4h4.1v4.2h-4.1zM605.5 327.4h1.6v4.2h-1.6zM543.1 331.2h1.6v4.2h-1.6zM557.7 331.2h1.6v4.2h-1.6zM540.6 335.0h1.6v4.2h-1.6zM573.7 335.0h1.6v4.2h-1.6zM540.6 338.8h1.6v4.2h-1.6zM576.1 338.8h1.6v4.2h-1.6zM606.7 338.8h1.6v4.2h-1.6zM539.4 342.6h1.6v4.2h-1.6zM561.4 342.6h2.8v4.2h-2.8zM572.4 342.6h2.8v4.2h-2.8zM609.1 342.6h1.6v4.2h-1.6zM541.8 346.4h1.6v4.2h-1.6zM551.6 346.4h1.6v4.2h-1.6zM581.0 346.4h1.6v4.2h-1.6zM535.7 350.2h1.6v4.2h-1.6zM562.6 350.2h1.6v4.2h-1.6zM536.9 354.0h1.6v4.2h-1.6zM616.5 354.0h6.5v4.2h-6.5zM535.7 361.6h1.6v4.2h-1.6zM618.9 361.6h1.6v4.2h-1.6zM621.4 361.6h1.6v4.2h-1.6zM532.0 365.4h1.6v4.2h-1.6zM534.5 369.2h1.6v4.2h-1.6zM535.7 373.0h1.6v4.2h-1.6zM534.5 376.7h1.6v4.2h-1.6zM551.6 384.3h1.6v4.2h-1.6zM563.9 388.1h1.6v4.2h-1.6zM535.7 391.9h1.6v4.2h-1.6zM617.7 391.9h1.6v4.2h-1.6zM621.4 391.9h1.6v4.2h-1.6zM534.5 395.7h1.6v4.2h-1.6zM536.9 399.5h1.6v4.2h-1.6zM552.8 399.5h1.6v4.2h-1.6zM563.9 399.5h4.1v4.2h-4.1zM607.9 399.5h2.8v4.2h-2.8zM536.9 403.3h1.6v4.2h-1.6zM565.1 403.3h2.8v4.2h-2.8zM568.8 403.3h1.6v4.2h-1.6zM610.4 403.3h2.8v4.2h-2.8zM560.2 407.1h4.1v4.2h-4.1zM572.4 407.1h1.6v4.2h-1.6zM607.9 407.1h5.3v4.2h-5.3zM538.2 410.9h1.6v4.2h-1.6zM561.4 410.9h1.6v4.2h-1.6zM572.4 410.9h1.6v4.2h-1.6zM612.8 410.9h1.6v4.2h-1.6zM615.3 410.9h1.6v4.2h-1.6zM566.3 414.7h2.8v4.2h-2.8zM570.0 414.7h1.6v4.2h-1.6zM562.6 418.5h1.6v4.2h-1.6zM607.9 418.5h1.6v4.2h-1.6zM566.3 422.2h2.8v4.2h-2.8zM570.0 422.2h1.6v4.2h-1.6zM540.6 426.0h1.6v4.2h-1.6zM609.1 426.0h1.6v4.2h-1.6zM611.6 429.8h1.6v4.2h-1.6zM541.8 433.6h1.6v4.2h-1.6zM611.6 433.6h1.6v4.2h-1.6zM543.1 437.4h1.6v4.2h-1.6zM607.9 437.4h2.8v4.2h-2.8zM611.6 441.2h1.6v4.2h-1.6z"/>
<path shape-rendering="crispEdges" fill="#17e073" d="M543.1 255.4h1.6v4.2h-1.6zM557.7 255.4h1.6v4.2h-1.6zM571.2 255.4h1.6v4.2h-1.6zM599.3 255.4h2.8v4.2h-2.8zM557.7 259.2h1.6v4.2h-1.6zM572.4 259.2h1.6v4.2h-1.6zM599.3 259.2h2.8v4.2h-2.8zM545.5 263.0h1.6v4.2h-1.6zM576.1 263.0h1.6v4.2h-1.6zM598.1 263.0h1.6v4.2h-1.6zM543.1 266.8h1.6v4.2h-1.6zM559.0 266.8h1.6v4.2h-1.6zM572.4 266.8h1.6v4.2h-1.6zM601.8 266.8h1.6v4.2h-1.6zM604.2 266.8h1.6v4.2h-1.6zM606.7 266.8h1.6v4.2h-1.6zM563.9 270.6h2.8v4.2h-2.8zM567.5 270.6h1.6v4.2h-1.6zM570.0 270.6h2.8v4.2h-2.8zM604.2 270.6h1.6v4.2h-1.6zM606.7 270.6h1.6v4.2h-1.6zM557.7 274.4h1.6v4.2h-1.6zM577.3 274.4h1.6v4.2h-1.6zM599.3 274.4h2.8v4.2h-2.8zM559.0 278.2h1.6v4.2h-1.6zM576.1 278.2h2.8v4.2h-2.8zM603.0 278.2h1.6v4.2h-1.6zM577.3 281.9h1.6v4.2h-1.6zM601.8 281.9h1.6v4.2h-1.6zM540.6 285.7h1.6v4.2h-1.6zM561.4 285.7h4.1v4.2h-4.1zM572.4 285.7h2.8v4.2h-2.8zM603.0 285.7h1.6v4.2h-1.6zM584.7 289.5h1.6v4.2h-1.6zM587.1 289.5h6.5v4.2h-6.5zM594.5 289.5h1.6v4.2h-1.6zM541.8 293.3h1.6v4.2h-1.6zM560.2 293.3h1.6v4.2h-1.6zM574.9 293.3h2.8v4.2h-2.8zM601.8 293.3h1.6v4.2h-1.6zM541.8 297.1h1.6v4.2h-1.6zM560.2 297.1h1.6v4.2h-1.6zM601.8 297.1h1.6v4.2h-1.6zM561.4 300.9h2.8v4.2h-2.8zM603.0 300.9h1.6v4.2h-1.6zM561.4 304.7h1.6v4.2h-1.6zM565.1 308.5h1.6v4.2h-1.6zM584.7 308.5h1.6v4.2h-1.6zM604.2 308.5h1.6v4.2h-1.6zM560.2 312.3h1.6v4.2h-1.6zM601.8 316.1h1.6v4.2h-1.6zM556.5 319.9h1.6v4.2h-1.6zM588.3 319.9h1.6v4.2h-1.6zM595.7 319.9h4.1v4.2h-4.1zM560.2 327.4h1.6v4.2h-1.6zM578.5 327.4h1.6v4.2h-1.6zM604.2 327.4h1.6v4.2h-1.6zM582.2 331.2h1.6v4.2h-1.6zM605.5 335.0h1.6v4.2h-1.6zM541.8 338.8h1.6v4.2h-1.6zM578.5 338.8h1.6v4.2h-1.6zM605.5 338.8h1.6v4.2h-1.6zM540.6 342.6h1.6v4.2h-1.6zM559.0 342.6h1.6v4.2h-1.6zM606.7 342.6h1.6v4.2h-1.6zM549.2 346.4h1.6v4.2h-1.6zM583.4 346.4h1.6v4.2h-1.6zM603.0 346.4h1.6v4.2h-1.6zM536.9 350.2h1.6v4.2h-1.6zM552.8 350.2h1.6v4.2h-1.6zM563.9 350.2h2.8v4.2h-2.8zM615.3 350.2h2.8v4.2h-2.8zM567.5 354.0h1.6v4.2h-1.6zM610.4 354.0h5.3v4.2h-5.3zM615.3 357.8h7.7v4.2h-7.7zM611.6 361.6h1.6v4.2h-1.6zM614.0 361.6h2.8v4.2h-2.8zM563.9 365.4h1.6v4.2h-1.6zM535.7 369.2h1.6v4.2h-1.6zM565.1 369.2h1.6v4.2h-1.6zM565.1 373.0h1.6v4.2h-1.6zM617.7 373.0h2.8v4.2h-2.8zM621.4 373.0h1.6v4.2h-1.6zM536.9 376.7h1.6v4.2h-1.6zM538.2 380.5h1.6v4.2h-1.6zM616.5 380.5h2.8v4.2h-2.8zM621.4 380.5h1.6v4.2h-1.6zM565.1 384.3h1.6v4.2h-1.6zM618.9 384.3h1.6v4.2h-1.6zM566.3 388.1h1.6v4.2h-1.6zM610.4 388.1h5.3v4.2h-5.3zM551.6 391.9h1.6v4.2h-1.6zM566.3 391.9h1.6v4.2h-1.6zM609.1 391.9h4.1v4.2h-4.1zM535.7 395.7h1.6v4.2h-1.6zM563.9 395.7h1.6v4.2h-1.6zM612.8 395.7h10.2v4.2h-10.2zM539.4 399.5h1.6v4.2h-1.6zM551.6 399.5h1.6v4.2h-1.6zM571.2 399.5h1.6v4.2h-1.6zM604.2 399.5h2.8v4.2h-2.8zM557.7 403.3h2.8v4.2h-2.8zM562.6 403.3h2.8v4.2h-2.8zM571.2 403.3h1.6v4.2h-1.6zM605.5 403.3h2.8v4.2h-2.8zM555.3 407.1h2.8v4.2h-2.8zM574.9 407.1h1.6v4.2h-1.6zM604.2 407.1h1.6v4.2h-1.6zM557.7 410.9h1.6v4.2h-1.6zM605.5 410.9h4.1v4.2h-4.1zM536.9 414.7h1.6v4.2h-1.6zM562.6 414.7h1.6v4.2h-1.6zM571.2 414.7h1.6v4.2h-1.6zM617.7 414.7h2.8v4.2h-2.8zM559.0 418.5h2.8v4.2h-2.8zM573.7 418.5h1.6v4.2h-1.6zM605.5 418.5h1.6v4.2h-1.6zM540.6 422.2h1.6v4.2h-1.6zM563.9 422.2h1.6v4.2h-1.6zM572.4 422.2h1.6v4.2h-1.6zM604.2 422.2h1.6v4.2h-1.6zM605.5 426.0h2.8v4.2h-2.8zM609.1 429.8h1.6v4.2h-1.6zM609.1 433.6h2.8v4.2h-2.8zM594.5 437.4h9.0v4.2h-9.0zM604.2 437.4h1.6v4.2h-1.6zM543.1 441.2h1.6v4.2h-1.6z"/>
<path shape-rendering="crispEdges" fill="#13e08d" d="M544.3 255.4h1.6v4.2h-1.6zM572.4 255.4h1.6v4.2h-1.6zM596.9 255.4h2.8v4.2h-2.8zM544.3 259.2h1.6v4.2h-1.6zM556.5 259.2h1.6v4.2h-1.6zM573.7 259.2h1.6v4.2h-1.6zM546.7 263.0h1.6v4.2h-1.6zM555.3 263.0h1.6v4.2h-1.6zM577.3 263.0h1.6v4.2h-1.6zM595.7 263.0h2.8v4.2h-2.8zM557.7 266.8h1.6v4.2h-1.6zM573.7 266.8h2.8v4.2h-2.8zM599.3 266.8h2.8v4.2h-2.8zM560.2 270.6h4.1v4.2h-4.1zM572.4 270.6h1.6v4.2h-1.6zM601.8 270.6h2.8v4.2h-2.8zM605.5 270.6h1.6v4.2h-1.6zM544.3 274.4h1.6v4.2h-1.6zM556.5 274.4h1.6v4.2h-1.6zM578.5 274.4h2.8v4.2h-2.8zM596.9 274.4h2.8v4.2h-2.8zM578.5 278.2h1.6v4.2h-1.6zM601.8 278.2h1.6v4.2h-1.6zM559.0 281.9h1.6v4.2h-1.6zM578.5 281.9h2.8v4.2h-2.8zM600.6 281.9h1.6v4.2h-1.6zM560.2 285.7h1.6v4.2h-1.6zM574.9 285.7h1.6v4.2h-1.6zM601.8 285.7h1.6v4.2h-1.6zM544.3 289.5h1.6v4.2h-1.6zM555.3 289.5h1.6v4.2h-1.6zM585.9 289.5h1.6v4.2h-1.6zM593.2 289.5h1.6v4.2h-1.6zM559.0 293.3h1.6v4.2h-1.6zM577.3 293.3h1.6v4.2h-1.6zM600.6 293.3h1.6v4.2h-1.6zM585.9 297.1h1.6v4.2h-1.6zM598.1 297.1h1.6v4.2h-1.6zM600.6 297.1h1.6v4.2h-1.6zM601.8 300.9h1.6v4.2h-1.6zM560.2 304.7h1.6v4.2h-1.6zM601.8 304.7h1.6v4.2h-1.6zM540.6 308.5h1.6v4.2h-1.6zM563.9 308.5h1.6v4.2h-1.6zM600.6 312.3h2.8v4.2h-2.8zM559.0 316.1h1.6v4.2h-1.6zM544.3 319.9h1.6v4.2h-1.6zM589.6 319.9h1.6v4.2h-1.6zM541.8 323.7h1.6v4.2h-1.6zM559.0 323.7h1.6v4.2h-1.6zM584.7 323.7h1.6v4.2h-1.6zM603.0 323.7h1.6v4.2h-1.6zM541.8 327.4h1.6v4.2h-1.6zM559.0 327.4h1.6v4.2h-1.6zM544.3 331.2h1.6v4.2h-1.6zM556.5 331.2h1.6v4.2h-1.6zM583.4 331.2h1.6v4.2h-1.6zM599.3 331.2h2.8v4.2h-2.8zM541.8 335.0h1.6v4.2h-1.6zM559.0 335.0h1.6v4.2h-1.6zM578.5 335.0h1.6v4.2h-1.6zM604.2 335.0h1.6v4.2h-1.6zM557.7 338.8h1.6v4.2h-1.6zM579.8 338.8h1.6v4.2h-1.6zM604.2 338.8h1.6v4.2h-1.6zM541.8 342.6h1.6v4.2h-1.6zM578.5 342.6h1.6v4.2h-1.6zM605.5 342.6h1.6v4.2h-1.6zM584.7 346.4h2.8v4.2h-2.8zM600.6 346.4h2.8v4.2h-2.8zM566.3 350.2h1.6v4.2h-1.6zM611.6 350.2h4.1v4.2h-4.1zM538.2 354.0h1.6v4.2h-1.6zM551.6 354.0h1.6v4.2h-1.6zM568.8 354.0h2.8v4.2h-2.8zM609.1 354.0h1.6v4.2h-1.6zM536.9 357.8h1.6v4.2h-1.6zM551.6 357.8h1.6v4.2h-1.6zM565.1 357.8h1.6v4.2h-1.6zM612.8 357.8h1.6v4.2h-1.6zM536.9 361.6h1.6v4.2h-1.6zM566.3 361.6h1.6v4.2h-1.6zM607.9 361.6h1.6v4.2h-1.6zM610.4 361.6h1.6v4.2h-1.6zM612.8 361.6h1.6v4.2h-1.6zM534.5 365.4h1.6v4.2h-1.6zM616.5 369.2h1.6v4.2h-1.6zM618.9 369.2h4.1v4.2h-4.1zM536.9 373.0h1.6v4.2h-1.6zM616.5 373.0h1.6v4.2h-1.6zM550.4 380.5h1.6v4.2h-1.6zM566.3 380.5h1.6v4.2h-1.6zM611.6 380.5h1.6v4.2h-1.6zM614.0 380.5h2.8v4.2h-2.8zM618.9 380.5h2.8v4.2h-2.8zM614.0 384.3h5.3v4.2h-5.3zM620.2 384.3h2.8v4.2h-2.8zM567.5 388.1h2.8v4.2h-2.8zM609.1 388.1h1.6v4.2h-1.6zM567.5 391.9h1.6v4.2h-1.6zM606.7 391.9h2.8v4.2h-2.8zM536.9 395.7h1.6v4.2h-1.6zM551.6 395.7h1.6v4.2h-1.6zM609.1 395.7h4.1v4.2h-4.1zM550.4 399.5h1.6v4.2h-1.6zM572.4 399.5h2.8v4.2h-2.8zM601.8 399.5h2.8v4.2h-2.8zM539.4 403.3h1.6v4.2h-1.6zM556.5 403.3h1.6v4.2h-1.6zM572.4 403.3h2.8v4.2h-2.8zM603.0 403.3h2.8v4.2h-2.8zM541.8 407.1h1.6v4.2h-1.6zM551.6 407.1h4.1v4.2h-4.1zM576.1 407.1h1.6v4.2h-1.6zM600.6 407.1h4.1v4.2h-4.1zM540.6 410.9h1.6v4.2h-1.6zM556.5 410.9h1.6v4.2h-1.6zM574.9 410.9h2.8v4.2h-2.8zM601.8 410.9h1.6v4.2h-1.6zM604.2 410.9h1.6v4.2h-1.6zM538.2 414.7h1.6v4.2h-1.6zM561.4 414.7h1.6v4.2h-1.6zM572.4 414.7h1.6v4.2h-1.6zM616.5 414.7h1.6v4.2h-1.6zM620.2 414.7h2.8v4.2h-2.8zM540.6 418.5h1.6v4.2h-1.6zM557.7 418.5h1.6v4.2h-1.6zM574.9 418.5h1.6v4.2h-1.6zM603.0 418.5h2.8v4.2h-2.8zM562.6 422.2h1.6v4.2h-1.6zM541.8 426.0h1.6v4.2h-1.6zM568.8 426.0h1.6v4.2h-1.6zM603.0 426.0h2.8v4.2h-2.8zM603.0 429.8h6.5v4.2h-6.5zM605.5 433.6h4.1v4.2h-4.1zM560.2 437.4h1.6v4.2h-1.6zM589.6 437.4h4.1v4.2h-4.1zM609.1 441.2h1.6v4.2h-1.6z"/>
<path shape-rendering="crispEdges" fill="#10dfa3" d="M545.5 255.4h1.6v4.2h-1.6zM555.3 255.4h2.8v4.2h-2.8zM573.7 255.4h1.6v4.2h-1.6zM545.5 259.2h1.6v4.2h-1.6zM574.9 259.2h2.8v4.2h-2.8zM596.9 259.2h2.8v4.2h-2.8zM548.0 263.0h2.8v4.2h-2.8zM578.5 263.0h1.6v4.2h-1.6zM593.2 263.0h2.8v4.2h-2.8zM544.3 266.8h1.6v4.2h-1.6zM576.1 266.8h1.6v4.2h-1.6zM598.1 266.8h1.6v4.2h-1.6zM543.1 270.6h1.6v4.2h-1.6zM559.0 270.6h1.6v4.2h-1.6zM573.7 270.6h2.8v4.2h-2.8zM600.6 270.6h1.6v4.2h-1.6zM545.5 274.4h1.6v4.2h-1.6zM555.3 274.4h1.6v4.2h-1.6zM581.0 274.4h1.6v4.2h-1.6zM595.7 274.4h1.6v4.2h-1.6zM557.7 278.2h1.6v4.2h-1.6zM579.8 278.2h1.6v4.2h-1.6zM600.6 278.2h1.6v4.2h-1.6zM581.0 281.9h1.6v4.2h-1.6zM599.3 281.9h1.6v4.2h-1.6zM541.8 285.7h1.6v4.2h-1.6zM576.1 285.7h2.8v4.2h-2.8zM545.5 289.5h1.6v4.2h-1.6zM578.5 293.3h2.8v4.2h-2.8zM559.0 297.1h1.6v4.2h-1.6zM599.3 297.1h1.6v4.2h-1.6zM541.8 300.9h1.6v4.2h-1.6zM560.2 300.9h1.6v4.2h-1.6zM600.6 300.9h1.6v4.2h-1.6zM541.8 304.7h1.6v4.2h-1.6zM600.6 304.7h1.6v4.2h-1.6zM562.6 308.5h1.6v4.2h-1.6zM603.0 308.5h1.6v4.2h-1.6zM559.0 312.3h1.6v4.2h-1.6zM587.1 312.3h1.6v4.2h-1.6zM599.3 312.3h1.6v4.2h-1.6zM543.1 316.1h1.6v4.2h-1.6zM585.9 316.1h1.6v4.2h-1.6zM598.1 316.1h4.1v4.2h-4.1zM545.5 319.9h1.6v4.2h-1.6zM555.3 319.9h1.6v4.2h-1.6zM590.8 319.9h5.3v4.2h-5.3zM579.8 327.4h1.6v4.2h-1.6zM603.0 327.4h1.6v4.2h-1.6zM545.5 331.2h1.6v4.2h-1.6zM598.1 331.2h1.6v4.2h-1.6zM557.7 335.0h1.6v4.2h-1.6zM579.8 335.0h1.6v4.2h-1.6zM581.0 338.8h1.6v4.2h-1.6zM603.0 338.8h1.6v4.2h-1.6zM579.8 342.6h2.8v4.2h-2.8zM544.3 346.4h5.3v4.2h-5.3zM587.1 346.4h5.3v4.2h-5.3zM596.9 346.4h1.6v4.2h-1.6zM599.3 346.4h1.6v4.2h-1.6zM538.2 350.2h1.6v4.2h-1.6zM567.5 350.2h5.3v4.2h-5.3zM610.4 350.2h1.6v4.2h-1.6zM571.2 354.0h5.3v4.2h-5.3zM607.9 354.0h1.6v4.2h-1.6zM566.3 357.8h1.6v4.2h-1.6zM610.4 357.8h2.8v4.2h-2.8zM614.0 357.8h1.6v4.2h-1.6zM567.5 361.6h4.1v4.2h-4.1zM605.5 361.6h2.8v4.2h-2.8zM609.1 361.6h1.6v4.2h-1.6zM565.1 365.4h1.6v4.2h-1.6zM566.3 369.2h1.6v4.2h-1.6zM614.0 369.2h2.8v4.2h-2.8zM617.7 369.2h1.6v4.2h-1.6zM566.3 373.0h1.6v4.2h-1.6zM610.4 373.0h1.6v4.2h-1.6zM612.8 373.0h4.1v4.2h-4.1zM565.1 376.7h1.6v4.2h-1.6zM621.4 376.7h1.6v4.2h-1.6zM567.5 380.5h1.6v4.2h-1.6zM607.9 380.5h4.1v4.2h-4.1zM612.8 380.5h1.6v4.2h-1.6zM538.2 384.3h1.6v4.2h-1.6zM566.3 384.3h1.6v4.2h-1.6zM610.4 384.3h4.1v4.2h-4.1zM538.2 388.1h1.6v4.2h-1.6zM570.0 388.1h2.8v4.2h-2.8zM606.7 388.1h2.8v4.2h-2.8zM538.2 391.9h1.6v4.2h-1.6zM568.8 391.9h4.1v4.2h-4.1zM605.5 391.9h1.6v4.2h-1.6zM565.1 395.7h2.8v4.2h-2.8zM607.9 395.7h1.6v4.2h-1.6zM540.6 399.5h1.6v4.2h-1.6zM596.9 399.5h5.3v4.2h-5.3zM540.6 403.3h1.6v4.2h-1.6zM554.1 403.3h2.8v4.2h-2.8zM600.6 403.3h2.8v4.2h-2.8zM549.2 407.1h2.8v4.2h-2.8zM578.5 407.1h2.8v4.2h-2.8zM596.9 407.1h4.1v4.2h-4.1zM541.8 410.9h1.6v4.2h-1.6zM554.1 410.9h2.8v4.2h-2.8zM600.6 410.9h1.6v4.2h-1.6zM603.0 410.9h1.6v4.2h-1.6zM560.2 414.7h1.6v4.2h-1.6zM573.7 414.7h1.6v4.2h-1.6zM611.6 414.7h1.6v4.2h-1.6zM614.0 414.7h2.8v4.2h-2.8zM541.8 418.5h1.6v4.2h-1.6zM601.8 418.5h1.6v4.2h-1.6zM560.2 422.2h2.8v4.2h-2.8zM573.7 422.2h1.6v4.2h-1.6zM600.6 422.2h1.6v4.2h-1.6zM603.0 422.2h1.6v4.2h-1.6zM563.9 426.0h5.3v4.2h-5.3zM570.0 426.0h2.8v4.2h-2.8zM601.8 426.0h1.6v4.2h-1.6zM543.1 429.8h1.6v4.2h-1.6zM601.8 429.8h1.6v4.2h-1.6zM543.1 433.6h1.6v4.2h-1.6zM598.1 433.6h1.6v4.2h-1.6zM601.8 433.6h1.6v4.2h-1.6zM604.2 433.6h1.6v4.2h-1.6zM544.3 437.4h2.8v4.2h-2.8zM551.6 437.4h1.6v4.2h-1.6zM556.5 437.4h4.1v4.2h-4.1zM561.4 437.4h6.5v4.2h-6.5zM587.1 437.4h2.8v4.2h-2.8zM605.5 441.2h4.1v4.2h-4.1z"/>
<path shape-rendering="crispEdges" fill="#10dbb0" d="M546.7 255.4h4.1v4.2h-4.1zM574.9 255.4h2.8v4.2h-2.8zM594.5 255.4h2.8v4.2h-2.8zM546.7 259.2h2.8v4.2h-2.8zM555.3 259.2h1.6v4.2h-1.6zM577.3 259.2h1.6v4.2h-1.6zM595.7 259.2h1.6v4.2h-1.6zM554.1 263.0h1.6v4.2h-1.6zM579.8 263.0h1.6v4.2h-1.6zM545.5 266.8h1.6v4.2h-1.6zM556.5 266.8h1.6v4.2h-1.6zM577.3 266.8h1.6v4.2h-1.6zM595.7 266.8h2.8v4.2h-2.8zM557.7 270.6h1.6v4.2h-1.6zM598.1 270.6h2.8v4.2h-2.8zM546.7 274.4h2.8v4.2h-2.8zM582.2 274.4h1.6v4.2h-1.6zM593.2 274.4h2.8v4.2h-2.8zM543.1 278.2h1.6v4.2h-1.6zM599.3 278.2h1.6v4.2h-1.6zM543.1 281.9h1.6v4.2h-1.6zM557.7 281.9h1.6v4.2h-1.6zM598.1 281.9h1.6v4.2h-1.6zM559.0 285.7h1.6v4.2h-1.6zM578.5 285.7h1.6v4.2h-1.6zM600.6 285.7h1.6v4.2h-1.6zM546.7 289.5h2.8v4.2h-2.8zM543.1 293.3h1.6v4.2h-1.6zM581.0 293.3h1.6v4.2h-1.6zM598.1 293.3h2.8v4.2h-2.8zM543.1 297.1h1.6v4.2h-1.6zM587.1 297.1h1.6v4.2h-1.6zM595.7 297.1h2.8v4.2h-2.8zM585.9 300.9h1.6v4.2h-1.6zM598.1 300.9h2.8v4.2h-2.8zM585.9 304.7h1.6v4.2h-1.6zM599.3 304.7h1.6v4.2h-1.6zM561.4 308.5h1.6v4.2h-1.6zM543.1 312.3h1.6v4.2h-1.6zM557.7 312.3h1.6v4.2h-1.6zM598.1 312.3h1.6v4.2h-1.6zM557.7 316.1h1.6v4.2h-1.6zM587.1 316.1h1.6v4.2h-1.6zM601.8 323.7h1.6v4.2h-1.6zM557.7 327.4h1.6v4.2h-1.6zM581.0 327.4h1.6v4.2h-1.6zM546.7 331.2h2.8v4.2h-2.8zM555.3 331.2h1.6v4.2h-1.6zM584.7 331.2h2.8v4.2h-2.8zM596.9 331.2h1.6v4.2h-1.6zM543.1 335.0h1.6v4.2h-1.6zM581.0 335.0h1.6v4.2h-1.6zM603.0 335.0h1.6v4.2h-1.6zM543.1 338.8h1.6v4.2h-1.6zM556.5 338.8h1.6v4.2h-1.6zM582.2 338.8h1.6v4.2h-1.6zM601.8 338.8h1.6v4.2h-1.6zM557.7 342.6h1.6v4.2h-1.6zM603.0 342.6h2.8v4.2h-2.8zM594.5 346.4h2.8v4.2h-2.8zM598.1 346.4h1.6v4.2h-1.6zM551.6 350.2h1.6v4.2h-1.6zM572.4 350.2h4.1v4.2h-4.1zM609.1 350.2h1.6v4.2h-1.6zM576.1 354.0h4.1v4.2h-4.1zM605.5 354.0h2.8v4.2h-2.8zM567.5 357.8h2.8v4.2h-2.8zM607.9 357.8h2.8v4.2h-2.8zM550.4 361.6h1.6v4.2h-1.6zM571.2 361.6h1.6v4.2h-1.6zM604.2 361.6h1.6v4.2h-1.6zM535.7 365.4h1.6v4.2h-1.6zM551.6 365.4h1.6v4.2h-1.6zM616.5 365.4h6.5v4.2h-6.5zM567.5 369.2h1.6v4.2h-1.6zM612.8 369.2h1.6v4.2h-1.6zM567.5 373.0h1.6v4.2h-1.6zM607.9 373.0h1.6v4.2h-1.6zM611.6 373.0h1.6v4.2h-1.6zM616.5 376.7h5.3v4.2h-5.3zM539.4 380.5h1.6v4.2h-1.6zM606.7 380.5h1.6v4.2h-1.6zM567.5 384.3h1.6v4.2h-1.6zM607.9 384.3h2.8v4.2h-2.8zM550.4 388.1h1.6v4.2h-1.6zM572.4 388.1h1.6v4.2h-1.6zM605.5 388.1h1.6v4.2h-1.6zM539.4 391.9h1.6v4.2h-1.6zM550.4 391.9h1.6v4.2h-1.6zM572.4 391.9h2.8v4.2h-2.8zM603.0 391.9h2.8v4.2h-2.8zM538.2 395.7h1.6v4.2h-1.6zM567.5 395.7h1.6v4.2h-1.6zM606.7 395.7h1.6v4.2h-1.6zM541.8 399.5h1.6v4.2h-1.6zM549.2 399.5h1.6v4.2h-1.6zM574.9 399.5h2.8v4.2h-2.8zM593.2 399.5h4.1v4.2h-4.1zM541.8 403.3h1.6v4.2h-1.6zM551.6 403.3h2.8v4.2h-2.8zM574.9 403.3h1.6v4.2h-1.6zM595.7 403.3h2.8v4.2h-2.8zM599.3 403.3h1.6v4.2h-1.6zM543.1 407.1h1.6v4.2h-1.6zM545.5 407.1h4.1v4.2h-4.1zM577.3 407.1h1.6v4.2h-1.6zM581.0 407.1h2.8v4.2h-2.8zM584.7 407.1h1.6v4.2h-1.6zM589.6 407.1h2.8v4.2h-2.8zM593.2 407.1h4.1v4.2h-4.1zM543.1 410.9h1.6v4.2h-1.6zM551.6 410.9h2.8v4.2h-2.8zM577.3 410.9h2.8v4.2h-2.8zM598.1 410.9h2.8v4.2h-2.8zM539.4 414.7h1.6v4.2h-1.6zM559.0 414.7h1.6v4.2h-1.6zM609.1 414.7h2.8v4.2h-2.8zM612.8 414.7h1.6v4.2h-1.6zM556.5 418.5h1.6v4.2h-1.6zM576.1 418.5h1.6v4.2h-1.6zM599.3 418.5h2.8v4.2h-2.8zM541.8 422.2h1.6v4.2h-1.6zM559.0 422.2h1.6v4.2h-1.6zM599.3 422.2h1.6v4.2h-1.6zM601.8 422.2h1.6v4.2h-1.6zM543.1 426.0h1.6v4.2h-1.6zM560.2 426.0h4.1v4.2h-4.1zM572.4 426.0h1.6v4.2h-1.6zM600.6 426.0h1.6v4.2h-1.6zM598.1 429.8h4.1v4.2h-4.1zM593.2 433.6h5.3v4.2h-5.3zM599.3 433.6h2.8v4.2h-2.8zM603.0 433.6h1.6v4.2h-1.6zM546.7 437.4h5.3v4.2h-5.3zM552.8 437.4h4.1v4.2h-4.1zM567.5 437.4h20.0v4.2h-20.0zM603.0 441.2h2.8v4.2h-2.8z"/>
<path shape-rendering="crispEdges" fill="#10d6bd" d="M550.4 255.4h1.6v4.2h-1.6zM552.8 255.4h2.8v4.2h-2.8zM577.3 255.4h1.6v4.2h-1.6zM593.2 255.4h1.6v4.2h-1.6zM549.2 259.2h1.6v4.2h-1.6zM554.1 259.2h1.6v4.2h-1.6zM578.5 259.2h1.6v4.2h-1.6zM593.2 259.2h2.8v4.2h-2.8zM550.4 263.0h4.1v4.2h-4.1zM581.0 263.0h1.6v4.2h-1.6zM590.8 263.0h2.8v4.2h-2.8zM546.7 266.8h2.8v4.2h-2.8zM555.3 266.8h1.6v4.2h-1.6zM578.5 266.8h1.6v4.2h-1.6zM594.5 266.8h1.6v4.2h-1.6zM544.3 270.6h1.6v4.2h-1.6zM576.1 270.6h2.8v4.2h-2.8zM596.9 270.6h1.6v4.2h-1.6zM549.2 274.4h1.6v4.2h-1.6zM554.1 274.4h1.6v4.2h-1.6zM583.4 274.4h1.6v4.2h-1.6zM590.8 274.4h2.8v4.2h-2.8zM544.3 278.2h1.6v4.2h-1.6zM556.5 278.2h1.6v4.2h-1.6zM581.0 278.2h1.6v4.2h-1.6zM596.9 278.2h2.8v4.2h-2.8zM582.2 281.9h2.8v4.2h-2.8zM595.7 281.9h2.8v4.2h-2.8zM579.8 285.7h1.6v4.2h-1.6zM599.3 285.7h1.6v4.2h-1.6zM549.2 289.5h1.6v4.2h-1.6zM554.1 289.5h1.6v4.2h-1.6zM557.7 293.3h1.6v4.2h-1.6zM582.2 293.3h1.6v4.2h-1.6zM596.9 293.3h1.6v4.2h-1.6zM557.7 297.1h1.6v4.2h-1.6zM588.3 297.1h2.8v4.2h-2.8zM592.0 297.1h4.1v4.2h-4.1zM559.0 300.9h1.6v4.2h-1.6zM596.9 300.9h1.6v4.2h-1.6zM559.0 304.7h1.6v4.2h-1.6zM598.1 304.7h1.6v4.2h-1.6zM541.8 308.5h1.6v4.2h-1.6zM601.8 308.5h1.6v4.2h-1.6zM588.3 312.3h1.6v4.2h-1.6zM595.7 312.3h2.8v4.2h-2.8zM588.3 316.1h1.6v4.2h-1.6zM596.9 316.1h1.6v4.2h-1.6zM546.7 319.9h1.6v4.2h-1.6zM543.1 323.7h1.6v4.2h-1.6zM557.7 323.7h1.6v4.2h-1.6zM585.9 323.7h1.6v4.2h-1.6zM600.6 323.7h1.6v4.2h-1.6zM543.1 327.4h1.6v4.2h-1.6zM601.8 327.4h1.6v4.2h-1.6zM549.2 331.2h1.6v4.2h-1.6zM554.1 331.2h1.6v4.2h-1.6zM587.1 331.2h2.8v4.2h-2.8zM582.2 335.0h1.6v4.2h-1.6zM601.8 335.0h1.6v4.2h-1.6zM583.4 338.8h1.6v4.2h-1.6zM543.1 342.6h1.6v4.2h-1.6zM556.5 342.6h1.6v4.2h-1.6zM582.2 342.6h2.8v4.2h-2.8zM592.0 346.4h2.8v4.2h-2.8zM539.4 350.2h1.6v4.2h-1.6zM576.1 350.2h4.1v4.2h-4.1zM606.7 350.2h2.8v4.2h-2.8zM539.4 354.0h1.6v4.2h-1.6zM579.8 354.0h2.8v4.2h-2.8zM603.0 354.0h2.8v4.2h-2.8zM570.0 357.8h4.1v4.2h-4.1zM605.5 357.8h1.6v4.2h-1.6zM572.4 361.6h4.1v4.2h-4.1zM601.8 361.6h2.8v4.2h-2.8zM566.3 365.4h1.6v4.2h-1.6zM614.0 365.4h2.8v4.2h-2.8zM536.9 369.2h1.6v4.2h-1.6zM568.8 369.2h1.6v4.2h-1.6zM607.9 369.2h5.3v4.2h-5.3zM550.4 373.0h1.6v4.2h-1.6zM568.8 373.0h4.1v4.2h-4.1zM606.7 373.0h1.6v4.2h-1.6zM609.1 373.0h1.6v4.2h-1.6zM550.4 376.7h1.6v4.2h-1.6zM566.3 376.7h1.6v4.2h-1.6zM609.1 376.7h1.6v4.2h-1.6zM614.0 376.7h2.8v4.2h-2.8zM568.8 380.5h4.1v4.2h-4.1zM604.2 380.5h2.8v4.2h-2.8zM539.4 384.3h1.6v4.2h-1.6zM550.4 384.3h1.6v4.2h-1.6zM568.8 384.3h1.6v4.2h-1.6zM571.2 384.3h1.6v4.2h-1.6zM605.5 384.3h2.8v4.2h-2.8zM573.7 388.1h5.3v4.2h-5.3zM604.2 388.1h1.6v4.2h-1.6zM574.9 391.9h4.1v4.2h-4.1zM600.6 391.9h2.8v4.2h-2.8zM568.8 395.7h4.1v4.2h-4.1zM603.0 395.7h4.1v4.2h-4.1zM548.0 399.5h1.6v4.2h-1.6zM577.3 399.5h7.7v4.2h-7.7zM587.1 399.5h6.5v4.2h-6.5zM543.1 403.3h1.6v4.2h-1.6zM549.2 403.3h2.8v4.2h-2.8zM576.1 403.3h5.3v4.2h-5.3zM593.2 403.3h2.8v4.2h-2.8zM598.1 403.3h1.6v4.2h-1.6zM544.3 407.1h1.6v4.2h-1.6zM583.4 407.1h1.6v4.2h-1.6zM585.9 407.1h4.1v4.2h-4.1zM592.0 407.1h1.6v4.2h-1.6zM545.5 410.9h6.5v4.2h-6.5zM579.8 410.9h5.3v4.2h-5.3zM590.8 410.9h4.1v4.2h-4.1zM595.7 410.9h2.8v4.2h-2.8zM557.7 414.7h1.6v4.2h-1.6zM574.9 414.7h1.6v4.2h-1.6zM606.7 414.7h2.8v4.2h-2.8zM543.1 418.5h1.6v4.2h-1.6zM555.3 418.5h1.6v4.2h-1.6zM577.3 418.5h2.8v4.2h-2.8zM596.9 418.5h2.8v4.2h-2.8zM543.1 422.2h1.6v4.2h-1.6zM556.5 422.2h2.8v4.2h-2.8zM574.9 422.2h1.6v4.2h-1.6zM595.7 422.2h4.1v4.2h-4.1zM557.7 426.0h2.8v4.2h-2.8zM596.9 426.0h4.1v4.2h-4.1zM562.6 429.8h1.6v4.2h-1.6zM596.9 429.8h1.6v4.2h-1.6zM557.7 433.6h1.6v4.2h-1.6zM561.4 433.6h1.6v4.2h-1.6zM590.8 433.6h2.8v4.2h-2.8zM544.3 441.2h1.6v4.2h-1.6zM596.9 441.2h6.5v4.2h-6.5z"/>
<path shape-rendering="crispEdges" fill="#10d2ca" d="M551.6 255.4h1.6v4.2h-1.6zM578.5 255.4h1.6v4.2h-1.6zM592.0 255.4h1.6v4.2h-1.6zM550.4 259.2h2.8v4.2h-2.8zM579.8 259.2h1.6v4.2h-1.6zM592.0 259.2h1.6v4.2h-1.6zM582.2 263.0h2.8v4.2h-2.8zM588.3 263.0h2.8v4.2h-2.8zM549.2 266.8h1.6v4.2h-1.6zM554.1 266.8h1.6v4.2h-1.6zM579.8 266.8h1.6v4.2h-1.6zM593.2 266.8h1.6v4.2h-1.6zM545.5 270.6h1.6v4.2h-1.6zM556.5 270.6h1.6v4.2h-1.6zM595.7 270.6h1.6v4.2h-1.6zM550.4 274.4h2.8v4.2h-2.8zM588.3 274.4h2.8v4.2h-2.8zM545.5 278.2h1.6v4.2h-1.6zM582.2 278.2h1.6v4.2h-1.6zM594.5 278.2h2.8v4.2h-2.8zM544.3 281.9h1.6v4.2h-1.6zM556.5 281.9h1.6v4.2h-1.6zM593.2 281.9h2.8v4.2h-2.8zM543.1 285.7h1.6v4.2h-1.6zM581.0 285.7h1.6v4.2h-1.6zM550.4 289.5h1.6v4.2h-1.6zM556.5 293.3h1.6v4.2h-1.6zM583.4 293.3h1.6v4.2h-1.6zM595.7 293.3h1.6v4.2h-1.6zM590.8 297.1h1.6v4.2h-1.6zM543.1 300.9h1.6v4.2h-1.6zM587.1 300.9h1.6v4.2h-1.6zM595.7 300.9h1.6v4.2h-1.6zM557.7 304.7h1.6v4.2h-1.6zM587.1 304.7h1.6v4.2h-1.6zM595.7 304.7h2.8v4.2h-2.8zM560.2 308.5h1.6v4.2h-1.6zM585.9 308.5h1.6v4.2h-1.6zM600.6 308.5h1.6v4.2h-1.6zM544.3 312.3h1.6v4.2h-1.6zM556.5 312.3h1.6v4.2h-1.6zM589.6 312.3h2.8v4.2h-2.8zM594.5 312.3h1.6v4.2h-1.6zM589.6 316.1h2.8v4.2h-2.8zM595.7 316.1h1.6v4.2h-1.6zM548.0 319.9h2.8v4.2h-2.8zM554.1 319.9h1.6v4.2h-1.6zM599.3 323.7h1.6v4.2h-1.6zM582.2 327.4h1.6v4.2h-1.6zM600.6 327.4h1.6v4.2h-1.6zM550.4 331.2h1.6v4.2h-1.6zM589.6 331.2h2.8v4.2h-2.8zM593.2 331.2h4.1v4.2h-4.1zM556.5 335.0h1.6v4.2h-1.6zM600.6 335.0h1.6v4.2h-1.6zM544.3 338.8h2.8v4.2h-2.8zM555.3 338.8h1.6v4.2h-1.6zM584.7 338.8h1.6v4.2h-1.6zM598.1 338.8h4.1v4.2h-4.1zM544.3 342.6h1.6v4.2h-1.6zM555.3 342.6h1.6v4.2h-1.6zM601.8 342.6h1.6v4.2h-1.6zM540.6 350.2h1.6v4.2h-1.6zM579.8 350.2h1.6v4.2h-1.6zM605.5 350.2h1.6v4.2h-1.6zM550.4 354.0h1.6v4.2h-1.6zM582.2 354.0h1.6v4.2h-1.6zM584.7 354.0h1.6v4.2h-1.6zM599.3 354.0h1.6v4.2h-1.6zM601.8 354.0h1.6v4.2h-1.6zM538.2 357.8h1.6v4.2h-1.6zM550.4 357.8h1.6v4.2h-1.6zM573.7 357.8h4.1v4.2h-4.1zM606.7 357.8h1.6v4.2h-1.6zM538.2 361.6h1.6v4.2h-1.6zM576.1 361.6h4.1v4.2h-4.1zM599.3 361.6h2.8v4.2h-2.8zM567.5 365.4h1.6v4.2h-1.6zM612.8 365.4h1.6v4.2h-1.6zM550.4 369.2h1.6v4.2h-1.6zM570.0 369.2h2.8v4.2h-2.8zM605.5 369.2h2.8v4.2h-2.8zM538.2 373.0h1.6v4.2h-1.6zM572.4 373.0h5.3v4.2h-5.3zM604.2 373.0h2.8v4.2h-2.8zM538.2 376.7h1.6v4.2h-1.6zM606.7 376.7h1.6v4.2h-1.6zM610.4 376.7h4.1v4.2h-4.1zM549.2 380.5h1.6v4.2h-1.6zM572.4 380.5h4.1v4.2h-4.1zM577.3 380.5h1.6v4.2h-1.6zM601.8 380.5h2.8v4.2h-2.8zM570.0 384.3h1.6v4.2h-1.6zM572.4 384.3h2.8v4.2h-2.8zM604.2 384.3h1.6v4.2h-1.6zM539.4 388.1h1.6v4.2h-1.6zM578.5 388.1h1.6v4.2h-1.6zM601.8 388.1h2.8v4.2h-2.8zM578.5 391.9h4.1v4.2h-4.1zM596.9 391.9h4.1v4.2h-4.1zM539.4 395.7h1.6v4.2h-1.6zM550.4 395.7h1.6v4.2h-1.6zM572.4 395.7h2.8v4.2h-2.8zM598.1 395.7h5.3v4.2h-5.3zM543.1 399.5h1.6v4.2h-1.6zM546.7 399.5h1.6v4.2h-1.6zM584.7 399.5h2.8v4.2h-2.8zM544.3 403.3h5.3v4.2h-5.3zM581.0 403.3h4.1v4.2h-4.1zM585.9 403.3h7.7v4.2h-7.7zM544.3 410.9h1.6v4.2h-1.6zM584.7 410.9h6.5v4.2h-6.5zM594.5 410.9h1.6v4.2h-1.6zM540.6 414.7h1.6v4.2h-1.6zM556.5 414.7h1.6v4.2h-1.6zM576.1 414.7h1.6v4.2h-1.6zM603.0 414.7h1.6v4.2h-1.6zM554.1 418.5h1.6v4.2h-1.6zM579.8 418.5h4.1v4.2h-4.1zM590.8 418.5h1.6v4.2h-1.6zM593.2 418.5h4.1v4.2h-4.1zM555.3 422.2h1.6v4.2h-1.6zM576.1 422.2h1.6v4.2h-1.6zM592.0 422.2h4.1v4.2h-4.1zM573.7 426.0h1.6v4.2h-1.6zM594.5 426.0h2.8v4.2h-2.8zM544.3 429.8h1.6v4.2h-1.6zM555.3 429.8h1.6v4.2h-1.6zM559.0 429.8h4.1v4.2h-4.1zM563.9 429.8h10.2v4.2h-10.2zM593.2 429.8h4.1v4.2h-4.1zM544.3 433.6h1.6v4.2h-1.6zM555.3 433.6h2.8v4.2h-2.8zM559.0 433.6h1.6v4.2h-1.6zM562.6 433.6h10.2v4.2h-10.2zM587.1 433.6h1.6v4.2h-1.6zM589.6 433.6h1.6v4.2h-1.6zM545.5 441.2h2.8v4.2h-2.8zM589.6 441.2h7.7v4.2h-7.7z"/>
<path shape-rendering="crispEdges" fill="#1ce05a" d="M559.0 255.4h1.6v4.2h-1.6zM570.0 255.4h1.6v4.2h-1.6zM601.8 255.4h9.0v4.2h-9.0zM611.6 255.4h2.8v4.2h-2.8zM616.5 255.4h2.8v4.2h-2.8zM621.4 255.4h1.6v4.2h-1.6zM543.1 259.2h1.6v4.2h-1.6zM601.8 259.2h11.4v4.2h-11.4zM614.0 259.2h1.6v4.2h-1.6zM616.5 259.2h1.6v4.2h-1.6zM620.2 259.2h2.8v4.2h-2.8zM544.3 263.0h1.6v4.2h-1.6zM556.5 263.0h1.6v4.2h-1.6zM574.9 263.0h1.6v4.2h-1.6zM599.3 263.0h1.6v4.2h-1.6zM560.2 266.8h1.6v4.2h-1.6zM571.2 266.8h1.6v4.2h-1.6zM603.0 266.8h1.6v4.2h-1.6zM605.5 266.8h1.6v4.2h-1.6zM607.9 266.8h2.8v4.2h-2.8zM541.8 270.6h1.6v4.2h-1.6zM566.3 270.6h1.6v4.2h-1.6zM568.8 270.6h1.6v4.2h-1.6zM607.9 270.6h4.1v4.2h-4.1zM543.1 274.4h1.6v4.2h-1.6zM601.8 274.4h1.6v4.2h-1.6zM541.8 278.2h1.6v4.2h-1.6zM574.9 278.2h1.6v4.2h-1.6zM604.2 278.2h1.6v4.2h-1.6zM541.8 281.9h1.6v4.2h-1.6zM560.2 281.9h1.6v4.2h-1.6zM576.1 281.9h1.6v4.2h-1.6zM565.1 285.7h4.1v4.2h-4.1zM570.0 285.7h2.8v4.2h-2.8zM604.2 285.7h1.6v4.2h-1.6zM556.5 289.5h1.6v4.2h-1.6zM583.4 289.5h1.6v4.2h-1.6zM561.4 293.3h1.6v4.2h-1.6zM573.7 293.3h1.6v4.2h-1.6zM603.0 293.3h1.6v4.2h-1.6zM584.7 297.1h1.6v4.2h-1.6zM563.9 300.9h1.6v4.2h-1.6zM584.7 300.9h1.6v4.2h-1.6zM562.6 304.7h1.6v4.2h-1.6zM566.3 308.5h2.8v4.2h-2.8zM541.8 312.3h1.6v4.2h-1.6zM585.9 312.3h1.6v4.2h-1.6zM541.8 316.1h1.6v4.2h-1.6zM584.7 316.1h1.6v4.2h-1.6zM587.1 319.9h1.6v4.2h-1.6zM599.3 319.9h1.6v4.2h-1.6zM560.2 323.7h1.6v4.2h-1.6zM604.2 323.7h1.6v4.2h-1.6zM565.1 327.4h1.6v4.2h-1.6zM577.3 327.4h1.6v4.2h-1.6zM581.0 331.2h1.6v4.2h-1.6zM601.8 331.2h1.6v4.2h-1.6zM560.2 335.0h1.6v4.2h-1.6zM574.9 335.0h4.1v4.2h-4.1zM606.7 335.0h1.6v4.2h-1.6zM559.0 338.8h1.6v4.2h-1.6zM577.3 338.8h1.6v4.2h-1.6zM560.2 342.6h1.6v4.2h-1.6zM574.9 342.6h4.1v4.2h-4.1zM607.9 342.6h1.6v4.2h-1.6zM543.1 346.4h1.6v4.2h-1.6zM550.4 346.4h1.6v4.2h-1.6zM582.2 346.4h1.6v4.2h-1.6zM604.2 346.4h1.6v4.2h-1.6zM617.7 350.2h5.3v4.2h-5.3zM565.1 354.0h2.8v4.2h-2.8zM615.3 354.0h1.6v4.2h-1.6zM535.7 357.8h1.6v4.2h-1.6zM563.9 357.8h1.6v4.2h-1.6zM551.6 361.6h1.6v4.2h-1.6zM565.1 361.6h1.6v4.2h-1.6zM616.5 361.6h2.8v4.2h-2.8zM620.2 361.6h1.6v4.2h-1.6zM533.3 365.4h1.6v4.2h-1.6zM551.6 369.2h1.6v4.2h-1.6zM620.2 373.0h1.6v4.2h-1.6zM535.7 376.7h1.6v4.2h-1.6zM551.6 376.7h1.6v4.2h-1.6zM563.9 376.7h1.6v4.2h-1.6zM565.1 380.5h1.6v4.2h-1.6zM536.9 384.3h1.6v4.2h-1.6zM536.9 388.1h1.6v4.2h-1.6zM551.6 388.1h1.6v4.2h-1.6zM565.1 388.1h1.6v4.2h-1.6zM615.3 388.1h7.7v4.2h-7.7zM536.9 391.9h1.6v4.2h-1.6zM565.1 391.9h1.6v4.2h-1.6zM612.8 391.9h5.3v4.2h-5.3zM618.9 391.9h2.8v4.2h-2.8zM552.8 395.7h1.6v4.2h-1.6zM562.6 395.7h1.6v4.2h-1.6zM538.2 399.5h1.6v4.2h-1.6zM567.5 399.5h4.1v4.2h-4.1zM606.7 399.5h1.6v4.2h-1.6zM538.2 403.3h1.6v4.2h-1.6zM560.2 403.3h2.8v4.2h-2.8zM567.5 403.3h1.6v4.2h-1.6zM570.0 403.3h1.6v4.2h-1.6zM607.9 403.3h2.8v4.2h-2.8zM539.4 407.1h2.8v4.2h-2.8zM557.7 407.1h2.8v4.2h-2.8zM573.7 407.1h1.6v4.2h-1.6zM605.5 407.1h2.8v4.2h-2.8zM539.4 410.9h1.6v4.2h-1.6zM559.0 410.9h2.8v4.2h-2.8zM573.7 410.9h1.6v4.2h-1.6zM609.1 410.9h4.1v4.2h-4.1zM535.7 414.7h1.6v4.2h-1.6zM563.9 414.7h2.8v4.2h-2.8zM539.4 418.5h1.6v4.2h-1.6zM561.4 418.5h1.6v4.2h-1.6zM572.4 418.5h1.6v4.2h-1.6zM606.7 418.5h1.6v4.2h-1.6zM609.1 418.5h1.6v4.2h-1.6zM539.4 422.2h1.6v4.2h-1.6zM565.1 422.2h1.6v4.2h-1.6zM571.2 422.2h1.6v4.2h-1.6zM605.5 422.2h2.8v4.2h-2.8zM607.9 426.0h1.6v4.2h-1.6zM541.8 429.8h1.6v4.2h-1.6zM610.4 429.8h1.6v4.2h-1.6zM593.2 437.4h1.6v4.2h-1.6zM603.0 437.4h1.6v4.2h-1.6zM605.5 437.4h2.8v4.2h-2.8zM610.4 441.2h1.6v4.2h-1.6z"/>
<path shape-rendering="crispEdges" fill="#10cad4" d="M579.8 255.4h1.6v4.2h-1.6zM589.6 255.4h2.8v4.2h-2.8zM552.8 259.2h1.6v4.2h-1.6zM581.0 259.2h1.6v4.2h-1.6zM584.7 263.0h1.6v4.2h-1.6zM587.1 263.0h1.6v4.2h-1.6zM550.4 266.8h2.8v4.2h-2.8zM581.0 266.8h1.6v4.2h-1.6zM590.8 266.8h2.8v4.2h-2.8zM546.7 270.6h1.6v4.2h-1.6zM549.2 270.6h1.6v4.2h-1.6zM555.3 270.6h1.6v4.2h-1.6zM578.5 270.6h2.8v4.2h-2.8zM594.5 270.6h1.6v4.2h-1.6zM552.8 274.4h1.6v4.2h-1.6zM584.7 274.4h4.1v4.2h-4.1zM546.7 278.2h2.8v4.2h-2.8zM555.3 278.2h1.6v4.2h-1.6zM583.4 278.2h2.8v4.2h-2.8zM592.0 278.2h2.8v4.2h-2.8zM545.5 281.9h1.6v4.2h-1.6zM555.3 281.9h1.6v4.2h-1.6zM584.7 281.9h9.0v4.2h-9.0zM557.7 285.7h1.6v4.2h-1.6zM582.2 285.7h1.6v4.2h-1.6zM595.7 285.7h4.1v4.2h-4.1zM551.6 289.5h2.8v4.2h-2.8zM584.7 293.3h6.5v4.2h-6.5zM592.0 293.3h4.1v4.2h-4.1zM544.3 297.1h1.6v4.2h-1.6zM556.5 297.1h1.6v4.2h-1.6zM557.7 300.9h1.6v4.2h-1.6zM588.3 300.9h1.6v4.2h-1.6zM590.8 300.9h2.8v4.2h-2.8zM594.5 300.9h1.6v4.2h-1.6zM543.1 304.7h1.6v4.2h-1.6zM599.3 308.5h1.6v4.2h-1.6zM592.0 312.3h2.8v4.2h-2.8zM544.3 316.1h1.6v4.2h-1.6zM556.5 316.1h1.6v4.2h-1.6zM592.0 316.1h4.1v4.2h-4.1zM556.5 323.7h1.6v4.2h-1.6zM587.1 323.7h1.6v4.2h-1.6zM596.9 323.7h2.8v4.2h-2.8zM556.5 327.4h1.6v4.2h-1.6zM583.4 327.4h1.6v4.2h-1.6zM599.3 327.4h1.6v4.2h-1.6zM551.6 331.2h2.8v4.2h-2.8zM592.0 331.2h1.6v4.2h-1.6zM544.3 335.0h2.8v4.2h-2.8zM555.3 335.0h1.6v4.2h-1.6zM583.4 335.0h1.6v4.2h-1.6zM599.3 335.0h1.6v4.2h-1.6zM546.7 338.8h2.8v4.2h-2.8zM585.9 338.8h1.6v4.2h-1.6zM584.7 342.6h4.1v4.2h-4.1zM599.3 342.6h2.8v4.2h-2.8zM550.4 350.2h1.6v4.2h-1.6zM581.0 350.2h2.8v4.2h-2.8zM604.2 350.2h1.6v4.2h-1.6zM540.6 354.0h1.6v4.2h-1.6zM583.4 354.0h1.6v4.2h-1.6zM585.9 354.0h4.1v4.2h-4.1zM590.8 354.0h1.6v4.2h-1.6zM595.7 354.0h4.1v4.2h-4.1zM600.6 354.0h1.6v4.2h-1.6zM578.5 357.8h1.6v4.2h-1.6zM603.0 357.8h2.8v4.2h-2.8zM579.8 361.6h4.1v4.2h-4.1zM594.5 361.6h5.3v4.2h-5.3zM536.9 365.4h1.6v4.2h-1.6zM568.8 365.4h1.6v4.2h-1.6zM609.1 365.4h4.1v4.2h-4.1zM572.4 369.2h4.1v4.2h-4.1zM601.8 369.2h1.6v4.2h-1.6zM604.2 369.2h1.6v4.2h-1.6zM577.3 373.0h2.8v4.2h-2.8zM600.6 373.0h1.6v4.2h-1.6zM603.0 373.0h1.6v4.2h-1.6zM567.5 376.7h2.8v4.2h-2.8zM607.9 376.7h1.6v4.2h-1.6zM540.6 380.5h1.6v4.2h-1.6zM576.1 380.5h1.6v4.2h-1.6zM578.5 380.5h6.5v4.2h-6.5zM600.6 380.5h1.6v4.2h-1.6zM574.9 384.3h4.1v4.2h-4.1zM601.8 384.3h2.8v4.2h-2.8zM579.8 388.1h2.8v4.2h-2.8zM599.3 388.1h2.8v4.2h-2.8zM540.6 391.9h1.6v4.2h-1.6zM549.2 391.9h1.6v4.2h-1.6zM582.2 391.9h2.8v4.2h-2.8zM588.3 391.9h2.8v4.2h-2.8zM593.2 391.9h4.1v4.2h-4.1zM540.6 395.7h1.6v4.2h-1.6zM574.9 395.7h2.8v4.2h-2.8zM578.5 395.7h1.6v4.2h-1.6zM594.5 395.7h4.1v4.2h-4.1zM544.3 399.5h2.8v4.2h-2.8zM584.7 403.3h1.6v4.2h-1.6zM541.8 414.7h1.6v4.2h-1.6zM555.3 414.7h1.6v4.2h-1.6zM577.3 414.7h1.6v4.2h-1.6zM600.6 414.7h2.8v4.2h-2.8zM604.2 414.7h2.8v4.2h-2.8zM544.3 418.5h1.6v4.2h-1.6zM546.7 418.5h7.7v4.2h-7.7zM583.4 418.5h7.7v4.2h-7.7zM592.0 418.5h1.6v4.2h-1.6zM544.3 422.2h2.8v4.2h-2.8zM548.0 422.2h1.6v4.2h-1.6zM550.4 422.2h1.6v4.2h-1.6zM554.1 422.2h1.6v4.2h-1.6zM577.3 422.2h1.6v4.2h-1.6zM581.0 422.2h1.6v4.2h-1.6zM584.7 422.2h5.3v4.2h-5.3zM590.8 422.2h1.6v4.2h-1.6zM544.3 426.0h5.3v4.2h-5.3zM550.4 426.0h1.6v4.2h-1.6zM556.5 426.0h1.6v4.2h-1.6zM574.9 426.0h1.6v4.2h-1.6zM589.6 426.0h5.3v4.2h-5.3zM545.5 429.8h6.5v4.2h-6.5zM554.1 429.8h1.6v4.2h-1.6zM556.5 429.8h2.8v4.2h-2.8zM573.7 429.8h2.8v4.2h-2.8zM590.8 429.8h2.8v4.2h-2.8zM545.5 433.6h10.2v4.2h-10.2zM560.2 433.6h1.6v4.2h-1.6zM572.4 433.6h10.2v4.2h-10.2zM583.4 433.6h1.6v4.2h-1.6zM585.9 433.6h1.6v4.2h-1.6zM588.3 433.6h1.6v4.2h-1.6zM548.0 441.2h18.8v4.2h-18.8zM567.5 441.2h5.3v4.2h-5.3zM573.7 441.2h16.3v4.2h-16.3z"/>
<path shape-rendering="crispEdges" fill="#10bddd" d="M581.0 255.4h2.8v4.2h-2.8zM588.3 255.4h1.6v4.2h-1.6zM582.2 259.2h1.6v4.2h-1.6zM588.3 259.2h4.1v4.2h-4.1zM585.9 263.0h1.6v4.2h-1.6zM552.8 266.8h1.6v4.2h-1.6zM582.2 266.8h2.8v4.2h-2.8zM588.3 266.8h2.8v4.2h-2.8zM548.0 270.6h1.6v4.2h-1.6zM550.4 270.6h2.8v4.2h-2.8zM554.1 270.6h1.6v4.2h-1.6zM581.0 270.6h1.6v4.2h-1.6zM592.0 270.6h2.8v4.2h-2.8zM585.9 278.2h2.8v4.2h-2.8zM589.6 278.2h2.8v4.2h-2.8zM546.7 281.9h1.6v4.2h-1.6zM583.4 285.7h1.6v4.2h-1.6zM544.3 293.3h1.6v4.2h-1.6zM590.8 293.3h1.6v4.2h-1.6zM555.3 297.1h1.6v4.2h-1.6zM589.6 300.9h1.6v4.2h-1.6zM593.2 300.9h1.6v4.2h-1.6zM588.3 304.7h5.3v4.2h-5.3zM594.5 304.7h1.6v4.2h-1.6zM559.0 308.5h1.6v4.2h-1.6zM587.1 308.5h1.6v4.2h-1.6zM598.1 308.5h1.6v4.2h-1.6zM555.3 312.3h1.6v4.2h-1.6zM555.3 316.1h1.6v4.2h-1.6zM550.4 319.9h4.1v4.2h-4.1zM544.3 323.7h1.6v4.2h-1.6zM588.3 323.7h1.6v4.2h-1.6zM544.3 327.4h1.6v4.2h-1.6zM584.7 327.4h1.6v4.2h-1.6zM596.9 327.4h2.8v4.2h-2.8zM546.7 335.0h1.6v4.2h-1.6zM584.7 335.0h2.8v4.2h-2.8zM598.1 335.0h1.6v4.2h-1.6zM554.1 338.8h1.6v4.2h-1.6zM587.1 338.8h4.1v4.2h-4.1zM595.7 338.8h2.8v4.2h-2.8zM545.5 342.6h4.1v4.2h-4.1zM554.1 342.6h1.6v4.2h-1.6zM588.3 342.6h2.8v4.2h-2.8zM595.7 342.6h4.1v4.2h-4.1zM583.4 350.2h1.6v4.2h-1.6zM603.0 350.2h1.6v4.2h-1.6zM549.2 354.0h1.6v4.2h-1.6zM589.6 354.0h1.6v4.2h-1.6zM592.0 354.0h4.1v4.2h-4.1zM577.3 357.8h1.6v4.2h-1.6zM579.8 357.8h5.3v4.2h-5.3zM598.1 357.8h5.3v4.2h-5.3zM583.4 361.6h4.1v4.2h-4.1zM592.0 361.6h1.6v4.2h-1.6zM570.0 365.4h4.1v4.2h-4.1zM603.0 365.4h6.5v4.2h-6.5zM538.2 369.2h1.6v4.2h-1.6zM576.1 369.2h4.1v4.2h-4.1zM599.3 369.2h2.8v4.2h-2.8zM603.0 369.2h1.6v4.2h-1.6zM579.8 373.0h5.3v4.2h-5.3zM594.5 373.0h1.6v4.2h-1.6zM596.9 373.0h4.1v4.2h-4.1zM601.8 373.0h1.6v4.2h-1.6zM539.4 376.7h1.6v4.2h-1.6zM570.0 376.7h6.5v4.2h-6.5zM603.0 376.7h2.8v4.2h-2.8zM584.7 380.5h4.1v4.2h-4.1zM598.1 380.5h2.8v4.2h-2.8zM549.2 384.3h1.6v4.2h-1.6zM578.5 384.3h4.1v4.2h-4.1zM600.6 384.3h1.6v4.2h-1.6zM540.6 388.1h1.6v4.2h-1.6zM549.2 388.1h1.6v4.2h-1.6zM582.2 388.1h1.6v4.2h-1.6zM596.9 388.1h2.8v4.2h-2.8zM584.7 391.9h4.1v4.2h-4.1zM590.8 391.9h2.8v4.2h-2.8zM549.2 395.7h1.6v4.2h-1.6zM577.3 395.7h1.6v4.2h-1.6zM579.8 395.7h15.1v4.2h-15.1zM554.1 414.7h1.6v4.2h-1.6zM578.5 414.7h2.8v4.2h-2.8zM596.9 414.7h4.1v4.2h-4.1zM545.5 418.5h1.6v4.2h-1.6zM546.7 422.2h1.6v4.2h-1.6zM549.2 422.2h1.6v4.2h-1.6zM551.6 422.2h2.8v4.2h-2.8zM578.5 422.2h2.8v4.2h-2.8zM582.2 422.2h2.8v4.2h-2.8zM589.6 422.2h1.6v4.2h-1.6zM549.2 426.0h1.6v4.2h-1.6zM551.6 426.0h5.3v4.2h-5.3zM576.1 426.0h9.0v4.2h-9.0zM585.9 426.0h2.8v4.2h-2.8zM551.6 429.8h2.8v4.2h-2.8zM576.1 429.8h2.8v4.2h-2.8zM579.8 429.8h1.6v4.2h-1.6zM588.3 429.8h1.6v4.2h-1.6zM582.2 433.6h1.6v4.2h-1.6zM584.7 433.6h1.6v4.2h-1.6zM566.3 441.2h1.6v4.2h-1.6zM572.4 441.2h1.6v4.2h-1.6z"/>
<path shape-rendering="crispEdges" fill="#10b0e5" d="M583.4 255.4h1.6v4.2h-1.6zM587.1 255.4h1.6v4.2h-1.6zM583.4 259.2h1.6v4.2h-1.6zM587.1 259.2h1.6v4.2h-1.6zM587.1 266.8h1.6v4.2h-1.6zM552.8 270.6h1.6v4.2h-1.6zM582.2 270.6h1.6v4.2h-1.6zM589.6 270.6h2.8v4.2h-2.8zM549.2 278.2h2.8v4.2h-2.8zM554.1 278.2h1.6v4.2h-1.6zM588.3 278.2h1.6v4.2h-1.6zM548.0 281.9h1.6v4.2h-1.6zM544.3 285.7h1.6v4.2h-1.6zM556.5 285.7h1.6v4.2h-1.6zM584.7 285.7h1.6v4.2h-1.6zM587.1 285.7h1.6v4.2h-1.6zM589.6 285.7h4.1v4.2h-4.1zM594.5 285.7h1.6v4.2h-1.6zM545.5 293.3h1.6v4.2h-1.6zM555.3 293.3h1.6v4.2h-1.6zM545.5 297.1h1.6v4.2h-1.6zM556.5 300.9h1.6v4.2h-1.6zM544.3 304.7h1.6v4.2h-1.6zM556.5 304.7h1.6v4.2h-1.6zM593.2 304.7h1.6v4.2h-1.6zM543.1 308.5h1.6v4.2h-1.6zM596.9 308.5h1.6v4.2h-1.6zM545.5 312.3h1.6v4.2h-1.6zM545.5 323.7h2.8v4.2h-2.8zM555.3 323.7h1.6v4.2h-1.6zM589.6 323.7h4.1v4.2h-4.1zM594.5 323.7h2.8v4.2h-2.8zM545.5 327.4h2.8v4.2h-2.8zM555.3 327.4h1.6v4.2h-1.6zM585.9 327.4h4.1v4.2h-4.1zM595.7 327.4h1.6v4.2h-1.6zM548.0 335.0h2.8v4.2h-2.8zM554.1 335.0h1.6v4.2h-1.6zM587.1 335.0h2.8v4.2h-2.8zM595.7 335.0h2.8v4.2h-2.8zM549.2 338.8h2.8v4.2h-2.8zM590.8 338.8h5.3v4.2h-5.3zM549.2 342.6h2.8v4.2h-2.8zM590.8 342.6h2.8v4.2h-2.8zM594.5 342.6h1.6v4.2h-1.6zM541.8 350.2h1.6v4.2h-1.6zM549.2 350.2h1.6v4.2h-1.6zM584.7 350.2h6.5v4.2h-6.5zM598.1 350.2h5.3v4.2h-5.3zM539.4 357.8h1.6v4.2h-1.6zM584.7 357.8h4.1v4.2h-4.1zM590.8 357.8h2.8v4.2h-2.8zM594.5 357.8h4.1v4.2h-4.1zM549.2 361.6h1.6v4.2h-1.6zM587.1 361.6h5.3v4.2h-5.3zM593.2 361.6h1.6v4.2h-1.6zM550.4 365.4h1.6v4.2h-1.6zM573.7 365.4h1.6v4.2h-1.6zM601.8 365.4h1.6v4.2h-1.6zM579.8 369.2h2.8v4.2h-2.8zM596.9 369.2h2.8v4.2h-2.8zM539.4 373.0h1.6v4.2h-1.6zM549.2 373.0h1.6v4.2h-1.6zM584.7 373.0h10.2v4.2h-10.2zM595.7 373.0h1.6v4.2h-1.6zM576.1 376.7h4.1v4.2h-4.1zM605.5 376.7h1.6v4.2h-1.6zM548.0 380.5h1.6v4.2h-1.6zM588.3 380.5h2.8v4.2h-2.8zM594.5 380.5h4.1v4.2h-4.1zM540.6 384.3h1.6v4.2h-1.6zM582.2 384.3h1.6v4.2h-1.6zM595.7 384.3h1.6v4.2h-1.6zM598.1 384.3h2.8v4.2h-2.8zM583.4 388.1h1.6v4.2h-1.6zM594.5 388.1h2.8v4.2h-2.8zM541.8 395.7h1.6v4.2h-1.6zM543.1 414.7h1.6v4.2h-1.6zM551.6 414.7h1.6v4.2h-1.6zM581.0 414.7h2.8v4.2h-2.8zM590.8 414.7h1.6v4.2h-1.6zM593.2 414.7h4.1v4.2h-4.1zM584.7 426.0h1.6v4.2h-1.6zM588.3 426.0h1.6v4.2h-1.6zM578.5 429.8h1.6v4.2h-1.6zM581.0 429.8h7.7v4.2h-7.7zM589.6 429.8h1.6v4.2h-1.6z"/>
<path shape-rendering="crispEdges" fill="#10a3ee" d="M584.7 255.4h2.8v4.2h-2.8zM584.7 259.2h2.8v4.2h-2.8zM584.7 266.8h2.8v4.2h-2.8zM583.4 270.6h2.8v4.2h-2.8zM587.1 270.6h2.8v4.2h-2.8zM551.6 278.2h2.8v4.2h-2.8zM549.2 281.9h1.6v4.2h-1.6zM554.1 281.9h1.6v4.2h-1.6zM545.5 285.7h1.6v4.2h-1.6zM585.9 285.7h1.6v4.2h-1.6zM588.3 285.7h1.6v4.2h-1.6zM593.2 285.7h1.6v4.2h-1.6zM546.7 293.3h2.8v4.2h-2.8zM546.7 297.1h2.8v4.2h-2.8zM554.1 297.1h1.6v4.2h-1.6zM544.3 300.9h1.6v4.2h-1.6zM557.7 308.5h1.6v4.2h-1.6zM588.3 308.5h2.8v4.2h-2.8zM595.7 308.5h1.6v4.2h-1.6zM546.7 312.3h1.6v4.2h-1.6zM545.5 316.1h2.8v4.2h-2.8zM593.2 323.7h1.6v4.2h-1.6zM549.2 327.4h1.6v4.2h-1.6zM589.6 327.4h2.8v4.2h-2.8zM594.5 327.4h1.6v4.2h-1.6zM550.4 335.0h1.6v4.2h-1.6zM589.6 335.0h4.1v4.2h-4.1zM594.5 335.0h1.6v4.2h-1.6zM551.6 338.8h1.6v4.2h-1.6zM551.6 342.6h2.8v4.2h-2.8zM593.2 342.6h1.6v4.2h-1.6zM543.1 350.2h1.6v4.2h-1.6zM590.8 350.2h2.8v4.2h-2.8zM595.7 350.2h2.8v4.2h-2.8zM541.8 354.0h1.6v4.2h-1.6zM548.0 354.0h1.6v4.2h-1.6zM588.3 357.8h2.8v4.2h-2.8zM593.2 357.8h1.6v4.2h-1.6zM539.4 361.6h1.6v4.2h-1.6zM574.9 365.4h5.3v4.2h-5.3zM599.3 365.4h2.8v4.2h-2.8zM582.2 369.2h2.8v4.2h-2.8zM588.3 369.2h1.6v4.2h-1.6zM590.8 369.2h1.6v4.2h-1.6zM593.2 369.2h4.1v4.2h-4.1zM549.2 376.7h1.6v4.2h-1.6zM579.8 376.7h4.1v4.2h-4.1zM599.3 376.7h4.1v4.2h-4.1zM541.8 380.5h1.6v4.2h-1.6zM590.8 380.5h4.1v4.2h-4.1zM583.4 384.3h5.3v4.2h-5.3zM589.6 384.3h1.6v4.2h-1.6zM596.9 384.3h1.6v4.2h-1.6zM584.7 388.1h10.2v4.2h-10.2zM541.8 391.9h1.6v4.2h-1.6zM548.0 391.9h1.6v4.2h-1.6zM548.0 395.7h1.6v4.2h-1.6zM544.3 414.7h1.6v4.2h-1.6zM546.7 414.7h5.3v4.2h-5.3zM552.8 414.7h1.6v4.2h-1.6zM583.4 414.7h7.7v4.2h-7.7zM592.0 414.7h1.6v4.2h-1.6z"/>
<path shape-rendering="crispEdges" fill="#f07f19" d="M524.7 259.2h1.6v4.2h-1.6zM527.1 259.2h4.1v4.2h-4.1zM535.7 263.0h1.6v4.2h-1.6zM533.3 266.8h1.6v4.2h-1.6zM532.0 270.6h1.6v4.2h-1.6zM533.3 278.2h1.6v4.2h-1.6zM534.5 281.9h2.8v4.2h-2.8zM533.3 285.7h1.6v4.2h-1.6zM538.2 289.5h1.6v4.2h-1.6zM612.8 293.3h10.2v4.2h-10.2zM576.1 300.9h1.6v4.2h-1.6zM610.4 300.9h2.8v4.2h-2.8zM574.9 304.7h1.6v4.2h-1.6zM582.2 304.7h1.6v4.2h-1.6zM610.4 304.7h5.3v4.2h-5.3zM576.1 308.5h1.6v4.2h-1.6zM574.9 312.3h1.6v4.2h-1.6zM609.1 316.1h2.8v4.2h-2.8zM612.8 316.1h1.6v4.2h-1.6zM538.2 319.9h1.6v4.2h-1.6zM574.9 319.9h1.6v4.2h-1.6zM607.9 319.9h1.6v4.2h-1.6zM533.3 323.7h2.8v4.2h-2.8zM529.6 327.4h2.8v4.2h-2.8zM536.9 331.2h1.6v4.2h-1.6zM621.4 331.2h1.6v4.2h-1.6zM524.7 335.0h6.5v4.2h-6.5zM529.6 338.8h1.6v4.2h-1.6zM529.6 346.4h1.6v4.2h-1.6zM555.3 365.4h1.6v4.2h-1.6zM559.0 365.4h1.6v4.2h-1.6zM560.2 369.2h1.6v4.2h-1.6zM554.1 373.0h1.6v4.2h-1.6zM560.2 376.7h1.6v4.2h-1.6zM560.2 384.3h1.6v4.2h-1.6zM525.9 418.5h1.6v4.2h-1.6zM529.6 422.2h1.6v4.2h-1.6zM617.7 437.4h1.6v4.2h-1.6zM620.2 437.4h1.6v4.2h-1.6z"/>
<path shape-rendering="crispEdges" fill="#f07117" d="M525.9 259.2h1.6v4.2h-1.6zM533.3 263.0h2.8v4.2h-2.8zM532.0 266.8h1.6v4.2h-1.6zM530.8 270.6h1.6v4.2h-1.6zM533.3 274.4h2.8v4.2h-2.8zM532.0 285.7h1.6v4.2h-1.6zM607.9 289.5h1.6v4.2h-1.6zM534.5 293.3h1.6v4.2h-1.6zM536.9 297.1h1.6v4.2h-1.6zM610.4 297.1h2.8v4.2h-2.8zM535.7 300.9h1.6v4.2h-1.6zM581.0 300.9h1.6v4.2h-1.6zM612.8 300.9h6.5v4.2h-6.5zM620.2 300.9h2.8v4.2h-2.8zM534.5 304.7h1.6v4.2h-1.6zM615.3 304.7h6.5v4.2h-6.5zM532.0 308.5h2.8v4.2h-2.8zM536.9 312.3h1.6v4.2h-1.6zM582.2 312.3h1.6v4.2h-1.6zM609.1 312.3h1.6v4.2h-1.6zM535.7 316.1h1.6v4.2h-1.6zM611.6 316.1h1.6v4.2h-1.6zM614.0 316.1h2.8v4.2h-2.8zM618.9 316.1h1.6v4.2h-1.6zM532.0 323.7h1.6v4.2h-1.6zM524.7 327.4h1.6v4.2h-1.6zM535.7 331.2h1.6v4.2h-1.6zM524.7 338.8h5.3v4.2h-5.3zM524.7 346.4h5.3v4.2h-5.3zM555.3 388.1h1.6v4.2h-1.6zM559.0 388.1h1.6v4.2h-1.6zM524.7 418.5h1.6v4.2h-1.6zM527.1 418.5h2.8v4.2h-2.8zM530.8 426.0h2.8v4.2h-2.8zM535.7 429.8h1.6v4.2h-1.6zM536.9 433.6h1.6v4.2h-1.6zM618.9 437.4h1.6v4.2h-1.6z"/>
<path shape-rendering="crispEdges" fill="#6de626" d="M540.6 259.2h1.6v4.2h-1.6zM563.9 259.2h1.6v4.2h-1.6zM566.3 259.2h1.6v4.2h-1.6zM541.8 263.0h1.6v4.2h-1.6zM560.2 263.0h1.6v4.2h-1.6zM571.2 263.0h1.6v4.2h-1.6zM612.8 263.0h1.6v4.2h-1.6zM615.3 263.0h7.7v4.2h-7.7zM540.6 266.8h1.6v4.2h-1.6zM617.7 266.8h1.6v4.2h-1.6zM621.4 266.8h1.6v4.2h-1.6zM539.4 270.6h1.6v4.2h-1.6zM618.9 270.6h2.8v4.2h-2.8zM541.8 274.4h1.6v4.2h-1.6zM560.2 274.4h4.1v4.2h-4.1zM571.2 274.4h2.8v4.2h-2.8zM605.5 274.4h1.6v4.2h-1.6zM563.9 278.2h5.3v4.2h-5.3zM571.2 278.2h1.6v4.2h-1.6zM607.9 278.2h1.6v4.2h-1.6zM567.5 281.9h1.6v4.2h-1.6zM570.0 281.9h1.6v4.2h-1.6zM605.5 281.9h1.6v4.2h-1.6zM606.7 285.7h1.6v4.2h-1.6zM557.7 289.5h1.6v4.2h-1.6zM598.1 289.5h2.8v4.2h-2.8zM568.8 293.3h1.6v4.2h-1.6zM604.2 293.3h1.6v4.2h-1.6zM571.2 297.1h1.6v4.2h-1.6zM583.4 297.1h1.6v4.2h-1.6zM568.8 300.9h2.8v4.2h-2.8zM604.2 300.9h1.6v4.2h-1.6zM539.4 304.7h1.6v4.2h-1.6zM604.2 304.7h1.6v4.2h-1.6zM571.2 308.5h1.6v4.2h-1.6zM540.6 312.3h1.6v4.2h-1.6zM563.9 312.3h2.8v4.2h-2.8zM562.6 316.1h2.8v4.2h-2.8zM559.0 319.9h1.6v4.2h-1.6zM571.2 323.7h1.6v4.2h-1.6zM539.4 327.4h1.6v4.2h-1.6zM578.5 331.2h1.6v4.2h-1.6zM604.2 331.2h1.6v4.2h-1.6zM539.4 335.0h1.6v4.2h-1.6zM567.5 335.0h4.1v4.2h-4.1zM609.1 335.0h1.6v4.2h-1.6zM539.4 338.8h1.6v4.2h-1.6zM561.4 338.8h1.6v4.2h-1.6zM572.4 338.8h1.6v4.2h-1.6zM609.1 338.8h1.6v4.2h-1.6zM538.2 342.6h1.6v4.2h-1.6zM566.3 342.6h4.1v4.2h-4.1zM612.8 342.6h2.8v4.2h-2.8zM540.6 346.4h1.6v4.2h-1.6zM578.5 346.4h1.6v4.2h-1.6zM607.9 346.4h1.6v4.2h-1.6zM533.3 350.2h1.6v4.2h-1.6zM554.1 350.2h1.6v4.2h-1.6zM561.4 350.2h1.6v4.2h-1.6zM562.6 354.0h1.6v4.2h-1.6zM533.3 357.8h1.6v4.2h-1.6zM534.5 361.6h1.6v4.2h-1.6zM529.6 365.4h1.6v4.2h-1.6zM552.8 365.4h1.6v4.2h-1.6zM532.0 369.2h1.6v4.2h-1.6zM533.3 376.7h1.6v4.2h-1.6zM563.9 380.5h1.6v4.2h-1.6zM534.5 384.3h1.6v4.2h-1.6zM533.3 388.1h1.6v4.2h-1.6zM534.5 391.9h1.6v4.2h-1.6zM562.6 391.9h1.6v4.2h-1.6zM532.0 395.7h1.6v4.2h-1.6zM554.1 395.7h1.6v4.2h-1.6zM554.1 399.5h1.6v4.2h-1.6zM560.2 399.5h2.8v4.2h-2.8zM611.6 399.5h5.3v4.2h-5.3zM534.5 403.3h1.6v4.2h-1.6zM615.3 403.3h2.8v4.2h-2.8zM536.9 407.1h1.6v4.2h-1.6zM571.2 407.1h1.6v4.2h-1.6zM612.8 407.1h2.8v4.2h-2.8zM536.9 410.9h1.6v4.2h-1.6zM565.1 410.9h1.6v4.2h-1.6zM571.2 410.9h1.6v4.2h-1.6zM617.7 410.9h5.3v4.2h-5.3zM533.3 414.7h1.6v4.2h-1.6zM536.9 418.5h1.6v4.2h-1.6zM565.1 418.5h2.8v4.2h-2.8zM570.0 418.5h1.6v4.2h-1.6zM612.8 418.5h1.6v4.2h-1.6zM615.3 418.5h5.3v4.2h-5.3zM609.1 422.2h1.6v4.2h-1.6zM539.4 426.0h1.6v4.2h-1.6zM612.8 426.0h1.6v4.2h-1.6zM540.6 429.8h1.6v4.2h-1.6zM614.0 429.8h1.6v4.2h-1.6zM612.8 433.6h1.6v4.2h-1.6zM612.8 441.2h1.6v4.2h-1.6z"/>
<path shape-rendering="crispEdges" fill="#f04411" d="M524.7 263.0h5.3v4.2h-5.3zM524.7 266.8h2.8v4.2h-2.8zM528.4 266.8h1.6v4.2h-1.6zM525.9 270.6h4.1v4.2h-4.1zM530.8 274.4h1.6v4.2h-1.6zM530.8 281.9h1.6v4.2h-1.6zM524.7 285.7h2.8v4.2h-2.8zM528.4 285.7h2.8v4.2h-2.8zM536.9 289.5h1.6v4.2h-1.6zM610.4 289.5h1.6v4.2h-1.6zM612.8 289.5h2.8v4.2h-2.8zM617.7 289.5h2.8v4.2h-2.8zM530.8 293.3h1.6v4.2h-1.6zM533.3 297.1h1.6v4.2h-1.6zM617.7 297.1h2.8v4.2h-2.8zM621.4 297.1h1.6v4.2h-1.6zM530.8 300.9h1.6v4.2h-1.6zM578.5 300.9h1.6v4.2h-1.6zM530.8 304.7h2.8v4.2h-2.8zM529.6 308.5h1.6v4.2h-1.6zM576.1 312.3h1.6v4.2h-1.6zM532.0 316.1h1.6v4.2h-1.6zM578.5 319.9h2.8v4.2h-2.8zM611.6 319.9h5.3v4.2h-5.3zM617.7 319.9h1.6v4.2h-1.6zM621.4 319.9h1.6v4.2h-1.6zM528.4 323.7h1.6v4.2h-1.6zM528.4 331.2h2.8v4.2h-2.8zM555.3 376.7h1.6v4.2h-1.6zM559.0 376.7h1.6v4.2h-1.6zM560.2 380.5h1.6v4.2h-1.6zM524.7 426.0h5.3v4.2h-5.3zM532.0 429.8h1.6v4.2h-1.6zM533.3 433.6h1.6v4.2h-1.6z"/>
<path shape-rendering="crispEdges" fill="#f05313" d="M529.6 263.0h2.8v4.2h-2.8zM529.6 266.8h1.6v4.2h-1.6zM524.7 270.6h1.6v4.2h-1.6zM529.6 270.6h1.6v4.2h-1.6zM532.0 274.4h1.6v4.2h-1.6zM530.8 278.2h1.6v4.2h-1.6zM532.0 281.9h1.6v4.2h-1.6zM609.1 289.5h1.6v4.2h-1.6zM611.6 289.5h1.6v4.2h-1.6zM532.0 293.3h1.6v4.2h-1.6zM534.5 297.1h1.6v4.2h-1.6zM616.5 297.1h1.6v4.2h-1.6zM620.2 297.1h1.6v4.2h-1.6zM532.0 300.9h1.6v4.2h-1.6zM577.3 300.9h1.6v4.2h-1.6zM579.8 300.9h1.6v4.2h-1.6zM533.3 304.7h1.6v4.2h-1.6zM576.1 304.7h1.6v4.2h-1.6zM530.8 308.5h1.6v4.2h-1.6zM577.3 308.5h1.6v4.2h-1.6zM534.5 312.3h1.6v4.2h-1.6zM612.8 312.3h1.6v4.2h-1.6zM615.3 312.3h7.7v4.2h-7.7zM533.3 316.1h1.6v4.2h-1.6zM536.9 319.9h1.6v4.2h-1.6zM577.3 319.9h1.6v4.2h-1.6zM609.1 319.9h2.8v4.2h-2.8zM524.7 323.7h4.1v4.2h-4.1zM530.8 331.2h2.8v4.2h-2.8zM556.5 361.6h2.8v4.2h-2.8zM555.3 369.2h1.6v4.2h-1.6zM559.0 369.2h1.6v4.2h-1.6zM554.1 380.5h1.6v4.2h-1.6zM555.3 384.3h1.6v4.2h-1.6zM559.0 384.3h1.6v4.2h-1.6zM556.5 388.1h1.6v4.2h-1.6zM529.6 426.0h1.6v4.2h-1.6zM533.3 429.8h1.6v4.2h-1.6zM534.5 433.6h2.8v4.2h-2.8zM536.9 441.2h1.6v4.2h-1.6z"/>
<path shape-rendering="crispEdges" fill="#f06215" d="M532.0 263.0h1.6v4.2h-1.6zM530.8 266.8h1.6v4.2h-1.6zM532.0 278.2h1.6v4.2h-1.6zM533.3 281.9h1.6v4.2h-1.6zM530.8 285.7h1.6v4.2h-1.6zM533.3 293.3h1.6v4.2h-1.6zM535.7 297.1h1.6v4.2h-1.6zM612.8 297.1h4.1v4.2h-4.1zM533.3 300.9h2.8v4.2h-2.8zM618.9 300.9h1.6v4.2h-1.6zM621.4 304.7h1.6v4.2h-1.6zM581.0 308.5h1.6v4.2h-1.6zM535.7 312.3h1.6v4.2h-1.6zM610.4 312.3h2.8v4.2h-2.8zM614.0 312.3h1.6v4.2h-1.6zM534.5 316.1h1.6v4.2h-1.6zM616.5 316.1h2.8v4.2h-2.8zM620.2 316.1h2.8v4.2h-2.8zM576.1 319.9h1.6v4.2h-1.6zM581.0 319.9h1.6v4.2h-1.6zM529.6 323.7h2.8v4.2h-2.8zM525.9 327.4h4.1v4.2h-4.1zM533.3 331.2h2.8v4.2h-2.8zM555.3 361.6h1.6v4.2h-1.6zM559.0 361.6h1.6v4.2h-1.6zM556.5 365.4h2.8v4.2h-2.8zM560.2 373.0h1.6v4.2h-1.6zM557.7 388.1h1.6v4.2h-1.6zM524.7 422.2h5.3v4.2h-5.3zM534.5 429.8h1.6v4.2h-1.6zM538.2 437.4h1.6v4.2h-1.6z"/>
<path shape-rendering="crispEdges" fill="#d0e020" d="M540.6 263.0h1.6v4.2h-1.6zM539.4 274.4h1.6v4.2h-1.6zM610.4 274.4h7.7v4.2h-7.7zM538.2 278.2h1.6v4.2h-1.6zM611.6 278.2h2.8v4.2h-2.8zM615.3 278.2h2.8v4.2h-2.8zM618.9 278.2h4.1v4.2h-4.1zM607.9 281.9h1.6v4.2h-1.6zM609.1 285.7h1.6v4.2h-1.6zM541.8 289.5h1.6v4.2h-1.6zM576.1 289.5h2.8v4.2h-2.8zM601.8 289.5h1.6v4.2h-1.6zM606.7 293.3h1.6v4.2h-1.6zM539.4 297.1h1.6v4.2h-1.6zM573.7 297.1h1.6v4.2h-1.6zM582.2 297.1h1.6v4.2h-1.6zM605.5 297.1h1.6v4.2h-1.6zM573.7 308.5h1.6v4.2h-1.6zM539.4 312.3h1.6v4.2h-1.6zM570.0 312.3h2.8v4.2h-2.8zM605.5 312.3h1.6v4.2h-1.6zM568.8 316.1h1.6v4.2h-1.6zM572.4 316.1h2.8v4.2h-2.8zM605.5 316.1h1.6v4.2h-1.6zM574.9 323.7h1.6v4.2h-1.6zM582.2 323.7h1.6v4.2h-1.6zM607.9 323.7h1.6v4.2h-1.6zM609.1 327.4h1.6v4.2h-1.6zM540.6 331.2h1.6v4.2h-1.6zM561.4 331.2h6.5v4.2h-6.5zM571.2 331.2h6.5v4.2h-6.5zM606.7 331.2h1.6v4.2h-1.6zM612.8 335.0h6.5v4.2h-6.5zM620.2 335.0h1.6v4.2h-1.6zM614.0 338.8h4.1v4.2h-4.1zM620.2 338.8h2.8v4.2h-2.8zM535.7 342.6h1.6v4.2h-1.6zM538.2 346.4h1.6v4.2h-1.6zM565.1 346.4h2.8v4.2h-2.8zM568.8 346.4h1.6v4.2h-1.6zM571.2 346.4h1.6v4.2h-1.6zM611.6 346.4h2.8v4.2h-2.8zM557.7 350.2h2.8v4.2h-2.8zM532.0 354.0h1.6v4.2h-1.6zM554.1 354.0h1.6v4.2h-1.6zM530.8 357.8h1.6v4.2h-1.6zM561.4 357.8h1.6v4.2h-1.6zM561.4 365.4h1.6v4.2h-1.6zM524.7 369.2h1.6v4.2h-1.6zM552.8 369.2h1.6v4.2h-1.6zM562.6 373.0h1.6v4.2h-1.6zM530.8 376.7h1.6v4.2h-1.6zM552.8 376.7h1.6v4.2h-1.6zM530.8 388.1h1.6v4.2h-1.6zM552.8 388.1h1.6v4.2h-1.6zM530.8 391.9h1.6v4.2h-1.6zM561.4 391.9h1.6v4.2h-1.6zM529.6 395.7h1.6v4.2h-1.6zM559.0 395.7h1.6v4.2h-1.6zM532.0 399.5h1.6v4.2h-1.6zM530.8 414.7h1.6v4.2h-1.6zM534.5 418.5h1.6v4.2h-1.6zM535.7 422.2h1.6v4.2h-1.6zM617.7 426.0h5.3v4.2h-5.3zM539.4 429.8h1.6v4.2h-1.6zM612.8 437.4h1.6v4.2h-1.6z"/>
<path shape-rendering="crispEdges" fill="#e63610" d="M527.1 266.8h1.6v4.2h-1.6zM529.6 278.2h1.6v4.2h-1.6zM529.6 281.9h1.6v4.2h-1.6zM527.1 285.7h1.6v4.2h-1.6zM535.7 289.5h1.6v4.2h-1.6zM615.3 289.5h2.8v4.2h-2.8zM620.2 289.5h2.8v4.2h-2.8zM528.4 293.3h2.8v4.2h-2.8zM532.0 297.1h1.6v4.2h-1.6zM529.6 300.9h1.6v4.2h-1.6zM581.0 304.7h1.6v4.2h-1.6zM524.7 308.5h5.3v4.2h-5.3zM578.5 308.5h2.8v4.2h-2.8zM532.0 312.3h2.8v4.2h-2.8zM581.0 312.3h1.6v4.2h-1.6zM530.8 316.1h1.6v4.2h-1.6zM535.7 319.9h1.6v4.2h-1.6zM616.5 319.9h1.6v4.2h-1.6zM618.9 319.9h2.8v4.2h-2.8zM524.7 331.2h4.1v4.2h-4.1zM555.3 373.0h1.6v4.2h-1.6zM559.0 373.0h1.6v4.2h-1.6zM557.7 384.3h1.6v4.2h-1.6zM530.8 429.8h1.6v4.2h-1.6zM535.7 441.2h1.6v4.2h-1.6z"/>
<path shape-rendering="crispEdges" fill="#1396f0" d="M585.9 270.6h1.6v4.2h-1.6zM550.4 281.9h1.6v4.2h-1.6zM546.7 285.7h1.6v4.2h-1.6zM555.3 285.7h1.6v4.2h-1.6zM549.2 293.3h2.8v4.2h-2.8zM554.1 293.3h1.6v4.2h-1.6zM549.2 297.1h4.1v4.2h-4.1zM545.5 300.9h1.6v4.2h-1.6zM555.3 300.9h1.6v4.2h-1.6zM555.3 304.7h1.6v4.2h-1.6zM556.5 308.5h1.6v4.2h-1.6zM590.8 308.5h2.8v4.2h-2.8zM594.5 308.5h1.6v4.2h-1.6zM548.0 312.3h5.3v4.2h-5.3zM554.1 312.3h1.6v4.2h-1.6zM548.0 316.1h1.6v4.2h-1.6zM554.1 316.1h1.6v4.2h-1.6zM548.0 323.7h2.8v4.2h-2.8zM554.1 323.7h1.6v4.2h-1.6zM548.0 327.4h1.6v4.2h-1.6zM554.1 327.4h1.6v4.2h-1.6zM592.0 327.4h2.8v4.2h-2.8zM551.6 335.0h2.8v4.2h-2.8zM593.2 335.0h1.6v4.2h-1.6zM552.8 338.8h1.6v4.2h-1.6zM548.0 350.2h1.6v4.2h-1.6zM593.2 350.2h2.8v4.2h-2.8zM549.2 357.8h1.6v4.2h-1.6zM538.2 365.4h1.6v4.2h-1.6zM579.8 365.4h1.6v4.2h-1.6zM596.9 365.4h2.8v4.2h-2.8zM549.2 369.2h1.6v4.2h-1.6zM584.7 369.2h4.1v4.2h-4.1zM589.6 369.2h1.6v4.2h-1.6zM592.0 369.2h1.6v4.2h-1.6zM540.6 376.7h1.6v4.2h-1.6zM583.4 376.7h9.0v4.2h-9.0zM594.5 376.7h5.3v4.2h-5.3zM543.1 380.5h1.6v4.2h-1.6zM546.7 380.5h1.6v4.2h-1.6zM588.3 384.3h1.6v4.2h-1.6zM590.8 384.3h2.8v4.2h-2.8zM594.5 384.3h1.6v4.2h-1.6zM548.0 388.1h1.6v4.2h-1.6zM543.1 395.7h1.6v4.2h-1.6zM546.7 395.7h1.6v4.2h-1.6zM545.5 414.7h1.6v4.2h-1.6z"/>
<path shape-rendering="crispEdges" fill="#cd1d10" d="M524.7 274.4h5.3v4.2h-5.3zM524.7 281.9h5.3v4.2h-5.3zM527.1 297.1h1.6v4.2h-1.6zM524.7 300.9h4.1v4.2h-4.1zM524.7 304.7h5.3v4.2h-5.3zM530.8 312.3h1.6v4.2h-1.6zM577.3 312.3h1.6v4.2h-1.6zM524.7 316.1h5.3v4.2h-5.3zM532.0 319.9h2.8v4.2h-2.8zM559.0 380.5h1.6v4.2h-1.6zM525.9 429.8h1.6v4.2h-1.6zM529.6 433.6h1.6v4.2h-1.6zM535.7 437.4h1.6v4.2h-1.6zM530.8 441.2h2.8v4.2h-2.8z"/>
<path shape-rendering="crispEdges" fill="#da2a10" d="M529.6 274.4h1.6v4.2h-1.6zM524.7 278.2h5.3v4.2h-5.3zM533.3 289.5h2.8v4.2h-2.8zM524.7 293.3h4.1v4.2h-4.1zM529.6 297.1h2.8v4.2h-2.8zM528.4 300.9h1.6v4.2h-1.6zM529.6 304.7h1.6v4.2h-1.6zM577.3 304.7h1.6v4.2h-1.6zM529.6 316.1h1.6v4.2h-1.6zM534.5 319.9h1.6v4.2h-1.6zM556.5 369.2h2.8v4.2h-2.8zM556.5 376.7h2.8v4.2h-2.8zM556.5 384.3h1.6v4.2h-1.6zM524.7 429.8h1.6v4.2h-1.6zM527.1 429.8h4.1v4.2h-4.1zM530.8 433.6h2.8v4.2h-2.8zM536.9 437.4h1.6v4.2h-1.6zM533.3 441.2h2.8v4.2h-2.8z"/>
<path shape-rendering="crispEdges" fill="#178af0" d="M551.6 281.9h2.8v4.2h-2.8zM548.0 285.7h1.6v4.2h-1.6zM552.8 297.1h1.6v4.2h-1.6zM545.5 304.7h1.6v4.2h-1.6zM593.2 308.5h1.6v4.2h-1.6zM552.8 312.3h1.6v4.2h-1.6zM549.2 316.1h2.8v4.2h-2.8zM550.4 327.4h1.6v4.2h-1.6zM552.8 327.4h1.6v4.2h-1.6zM544.3 350.2h4.1v4.2h-4.1zM543.1 354.0h1.6v4.2h-1.6zM546.7 354.0h1.6v4.2h-1.6zM540.6 357.8h1.6v4.2h-1.6zM581.0 365.4h2.8v4.2h-2.8zM593.2 365.4h4.1v4.2h-4.1zM592.0 376.7h2.8v4.2h-2.8zM541.8 384.3h1.6v4.2h-1.6zM548.0 384.3h1.6v4.2h-1.6zM593.2 384.3h1.6v4.2h-1.6zM541.8 388.1h1.6v4.2h-1.6zM543.1 391.9h1.6v4.2h-1.6zM546.7 391.9h1.6v4.2h-1.6zM544.3 395.7h2.8v4.2h-2.8z"/>
<path shape-rendering="crispEdges" fill="#1c7df0" d="M549.2 285.7h1.6v4.2h-1.6zM554.1 285.7h1.6v4.2h-1.6zM551.6 293.3h2.8v4.2h-2.8zM546.7 300.9h2.8v4.2h-2.8zM554.1 300.9h1.6v4.2h-1.6zM554.1 304.7h1.6v4.2h-1.6zM544.3 308.5h1.6v4.2h-1.6zM551.6 316.1h2.8v4.2h-2.8zM550.4 323.7h4.1v4.2h-4.1zM551.6 327.4h1.6v4.2h-1.6zM544.3 354.0h2.8v4.2h-2.8zM548.0 357.8h1.6v4.2h-1.6zM548.0 361.6h1.6v4.2h-1.6zM583.4 365.4h1.6v4.2h-1.6zM585.9 365.4h7.7v4.2h-7.7zM539.4 369.2h1.6v4.2h-1.6zM540.6 373.0h1.6v4.2h-1.6zM548.0 373.0h1.6v4.2h-1.6zM548.0 376.7h1.6v4.2h-1.6zM544.3 380.5h2.8v4.2h-2.8zM544.3 391.9h1.6v4.2h-1.6z"/>
<path shape-rendering="crispEdges" fill="#2070f0" d="M550.4 285.7h1.6v4.2h-1.6zM549.2 300.9h5.3v4.2h-5.3zM546.7 304.7h4.1v4.2h-4.1zM551.6 304.7h1.6v4.2h-1.6zM555.3 308.5h1.6v4.2h-1.6zM541.8 357.8h1.6v4.2h-1.6zM540.6 361.6h1.6v4.2h-1.6zM549.2 365.4h1.6v4.2h-1.6zM584.7 365.4h1.6v4.2h-1.6zM548.0 369.2h1.6v4.2h-1.6zM541.8 376.7h1.6v4.2h-1.6zM543.1 384.3h1.6v4.2h-1.6zM546.7 384.3h1.6v4.2h-1.6zM543.1 388.1h1.6v4.2h-1.6zM546.7 388.1h1.6v4.2h-1.6zM545.5 391.9h1.6v4.2h-1.6z"/>
<path shape-rendering="crispEdges" fill="#2864e0" d="M551.6 285.7h2.8v4.2h-2.8zM550.4 304.7h1.6v4.2h-1.6zM552.8 304.7h1.6v4.2h-1.6zM545.5 308.5h1.6v4.2h-1.6zM554.1 308.5h1.6v4.2h-1.6zM539.4 365.4h1.6v4.2h-1.6zM541.8 373.0h1.6v4.2h-1.6zM544.3 384.3h2.8v4.2h-2.8zM544.3 388.1h2.8v4.2h-2.8z"/>
<path shape-rendering="crispEdges" fill="#a00d0d" d="M524.7 289.5h1.6v4.2h-1.6zM528.4 289.5h2.8v4.2h-2.8zM525.9 312.3h4.1v4.2h-4.1zM524.7 319.9h5.3v4.2h-5.3zM557.7 380.5h1.6v4.2h-1.6zM530.8 437.4h2.8v4.2h-2.8z"/>
<path shape-rendering="crispEdges" fill="#900b0b" d="M525.9 289.5h2.8v4.2h-2.8zM556.5 380.5h1.6v4.2h-1.6zM525.9 437.4h1.6v4.2h-1.6zM529.6 437.4h1.6v4.2h-1.6z"/>
<path shape-rendering="crispEdges" fill="#b00e0e" d="M530.8 289.5h1.6v4.2h-1.6zM578.5 304.7h1.6v4.2h-1.6zM524.7 312.3h1.6v4.2h-1.6zM529.6 319.9h1.6v4.2h-1.6zM524.7 441.2h4.1v4.2h-4.1z"/>
<path shape-rendering="crispEdges" fill="#c01010" d="M532.0 289.5h1.6v4.2h-1.6zM524.7 297.1h2.8v4.2h-2.8zM528.4 297.1h1.6v4.2h-1.6zM579.8 304.7h1.6v4.2h-1.6zM529.6 312.3h1.6v4.2h-1.6zM578.5 312.3h2.8v4.2h-2.8zM530.8 319.9h1.6v4.2h-1.6zM556.5 373.0h2.8v4.2h-2.8zM555.3 380.5h1.6v4.2h-1.6zM524.7 433.6h5.3v4.2h-5.3zM533.3 437.4h2.8v4.2h-2.8zM528.4 441.2h2.8v4.2h-2.8z"/>
<path shape-rendering="crispEdges" fill="#3058d0" d="M546.7 308.5h2.8v4.2h-2.8zM546.7 357.8h1.6v4.2h-1.6zM541.8 361.6h1.6v4.2h-1.6zM546.7 361.6h1.6v4.2h-1.6zM540.6 369.2h1.6v4.2h-1.6zM546.7 373.0h1.6v4.2h-1.6zM543.1 376.7h1.6v4.2h-1.6zM546.7 376.7h1.6v4.2h-1.6z"/>
<path shape-rendering="crispEdges" fill="#384cc0" d="M549.2 308.5h5.3v4.2h-5.3zM543.1 357.8h1.6v4.2h-1.6zM545.5 357.8h1.6v4.2h-1.6zM543.1 373.0h4.1v4.2h-4.1zM544.3 376.7h2.8v4.2h-2.8z"/>
<path shape-rendering="crispEdges" fill="#4040b0" d="M544.3 357.8h1.6v4.2h-1.6zM545.5 361.6h1.6v4.2h-1.6zM548.0 365.4h1.6v4.2h-1.6zM546.7 369.2h1.6v4.2h-1.6z"/>
<path shape-rendering="crispEdges" fill="#3e379e" d="M543.1 361.6h2.8v4.2h-2.8zM541.8 369.2h1.6v4.2h-1.6zM545.5 369.2h1.6v4.2h-1.6z"/>
<path shape-rendering="crispEdges" fill="#3d2e8b" d="M540.6 365.4h1.6v4.2h-1.6zM543.1 369.2h2.8v4.2h-2.8z"/>
<path shape-rendering="crispEdges" fill="#371d66" d="M541.8 365.4h1.6v4.2h-1.6zM545.5 365.4h1.6v4.2h-1.6z"/>
<path shape-rendering="crispEdges" fill="#301653" d="M543.1 365.4h2.8v4.2h-2.8z"/>
<path shape-rendering="crispEdges" fill="#3b2579" d="M546.7 365.4h1.6v4.2h-1.6z"/>
<path shape-rendering="crispEdges" fill="#800a0a" d="M524.7 437.4h1.6v4.2h-1.6zM527.1 437.4h2.8v4.2h-2.8z"/></g>
<rect x="29.00" y="319.70" width="3.00" height="3.00" fill="#420200" stroke="none" stroke-width="1"/>
<rect x="31.30" y="313.10" width="3.00" height="3.00" fill="#2a0000" stroke="none" stroke-width="1"/>
<rect x="23.10" y="316.80" width="3.00" height="3.00" fill="#2a0000" stroke="none" stroke-width="1"/>
<rect x="65.20" y="288.70" width="3.00" height="3.00" fill="#420200" stroke="none" stroke-width="1"/>
<rect x="68.20" y="328.60" width="3.00" height="3.00" fill="#2a0000" stroke="none" stroke-width="1"/>
<rect x="58.60" y="331.50" width="3.00" height="3.00" fill="#2a0000" stroke="none" stroke-width="1"/>
<rect x="61.50" y="338.90" width="3.00" height="3.00" fill="#420200" stroke="none" stroke-width="1"/>
<rect x="104.30" y="307.20" width="3.00" height="3.00" fill="#2a0000" stroke="none" stroke-width="1"/>
<rect x="110.20" y="307.20" width="3.00" height="3.00" fill="#2a0000" stroke="none" stroke-width="1"/>
<rect x="116.10" y="304.20" width="3.00" height="3.00" fill="#420200" stroke="none" stroke-width="1"/>
<rect x="21.70" y="367.30" width="3.00" height="3.00" fill="#2a0000" stroke="none" stroke-width="1"/>
<rect x="24.50" y="367.30" width="3.00" height="3.00" fill="#2a0000" stroke="none" stroke-width="1"/>
<rect x="49.70" y="382.90" width="3.00" height="3.00" fill="#420200" stroke="none" stroke-width="1"/>
<rect x="56.40" y="379.90" width="3.00" height="3.00" fill="#2a0000" stroke="none" stroke-width="1"/>
<rect x="58.60" y="385.80" width="3.00" height="3.00" fill="#2a0000" stroke="none" stroke-width="1"/>
<rect x="67.50" y="377.00" width="3.00" height="3.00" fill="#420200" stroke="none" stroke-width="1"/>
<rect x="114.60" y="345.90" width="3.00" height="3.00" fill="#2a0000" stroke="none" stroke-width="1"/>
<rect x="112.40" y="363.70" width="3.00" height="3.00" fill="#2a0000" stroke="none" stroke-width="1"/>
<rect x="88.70" y="300.80" width="3.00" height="3.00" fill="#5a0800" stroke="none" stroke-width="1"/>
<rect x="116.50" y="28.50" width="3.00" height="3.00" fill="#2a0000" stroke="none" stroke-width="1"/>
<rect x="119.50" y="28.50" width="3.00" height="3.00" fill="#2a0000" stroke="none" stroke-width="1"/>
<rect x="124.30" y="47.20" width="3.00" height="3.00" fill="#420200" stroke="none" stroke-width="1"/>
<rect x="127.50" y="53.10" width="3.00" height="3.00" fill="#2a0000" stroke="none" stroke-width="1"/>
<rect x="130.70" y="58.90" width="3.00" height="3.00" fill="#2a0000" stroke="none" stroke-width="1"/>
<rect x="100.30" y="38.20" width="3.00" height="3.00" fill="#420200" stroke="none" stroke-width="1"/>
<rect x="97.10" y="46.70" width="3.00" height="3.00" fill="#2a0000" stroke="none" stroke-width="1"/>
<rect x="109.30" y="71.00" width="3.00" height="3.00" fill="#2a0000" stroke="none" stroke-width="1"/>
<rect x="94.40" y="74.20" width="3.00" height="3.00" fill="#420200" stroke="none" stroke-width="1"/>
<rect x="97.10" y="77.40" width="3.00" height="3.00" fill="#2a0000" stroke="none" stroke-width="1"/>
<rect x="100.30" y="80.00" width="3.00" height="3.00" fill="#2a0000" stroke="none" stroke-width="1"/>
<rect x="105.60" y="74.20" width="3.00" height="3.00" fill="#420200" stroke="none" stroke-width="1"/>
<rect x="131.20" y="83.20" width="3.00" height="3.00" fill="#2a0000" stroke="none" stroke-width="1"/>
<rect x="103.50" y="119.20" width="3.00" height="3.00" fill="#2a0000" stroke="none" stroke-width="1"/>
<rect x="36.40" y="50.40" width="3.00" height="3.00" fill="#420200" stroke="none" stroke-width="1"/>
<rect x="2.50" y="34.50" width="3.00" height="3.00" fill="#2a0000" stroke="none" stroke-width="1"/>
<rect x="76.00" y="43.40" width="5.20" height="5.20" fill="#ff0000" stroke="#000" stroke-width="0.8"/>
<rect x="109.10" y="52.50" width="5.20" height="5.20" fill="#ff0000" stroke="#000" stroke-width="0.8"/>
<rect x="82.20" y="76.30" width="5.20" height="5.20" fill="#ff0000" stroke="#000" stroke-width="0.8"/>
<rect x="109.10" y="91.10" width="5.20" height="5.20" fill="#ff0000" stroke="#000" stroke-width="0.8"/>
<rect x="118.10" y="127.40" width="5.20" height="5.20" fill="#ff0000" stroke="#000" stroke-width="0.8"/>
<rect x="60.40" y="30.00" width="5.20" height="5.20" fill="#0000ff" stroke="#000" stroke-width="0.8"/>
<rect x="67.40" y="61.90" width="5.20" height="5.20" fill="#0000ff" stroke="#000" stroke-width="0.8"/>
<rect x="94.00" y="40.90" width="5.20" height="5.20" fill="#0000ff" stroke="#000" stroke-width="0.8"/>
<rect x="100.40" y="70.40" width="5.20" height="5.20" fill="#0000ff" stroke="#000" stroke-width="0.8"/>
<rect x="103.20" y="112.40" width="5.20" height="5.20" fill="#0000ff" stroke="#000" stroke-width="0.8"/>
<rect x="115.40" y="40.40" width="5.20" height="5.20" fill="#0fa050" stroke="#000" stroke-width="0.8"/>
<rect x="87.80" y="58.20" width="5.20" height="5.20" fill="#0fa050" stroke="#000" stroke-width="0.8"/>
<rect x="121.10" y="70.30" width="5.20" height="5.20" fill="#0fa050" stroke="#000" stroke-width="0.8"/>
<rect x="94.00" y="94.40" width="5.20" height="5.20" fill="#0fa050" stroke="#000" stroke-width="0.8"/>
<rect x="124.00" y="112.40" width="5.20" height="5.20" fill="#0fa050" stroke="#000" stroke-width="0.8"/>
<rect x="79.50" y="303.90" width="5.20" height="5.20" fill="#ff0000" stroke="#000" stroke-width="0.8"/>
<rect x="121.60" y="321.60" width="5.20" height="5.20" fill="#ff0000" stroke="#000" stroke-width="0.8"/>
<rect x="34.30" y="337.40" width="5.20" height="5.20" fill="#ff0000" stroke="#000" stroke-width="0.8"/>
<rect x="79.50" y="355.20" width="5.20" height="5.20" fill="#ff0000" stroke="#000" stroke-width="0.8"/>
<rect x="119.00" y="373.20" width="5.20" height="5.20" fill="#ff0000" stroke="#000" stroke-width="0.8"/>
<rect x="59.00" y="285.10" width="5.20" height="5.20" fill="#0000ff" stroke="#000" stroke-width="0.8"/>
<rect x="106.40" y="300.60" width="5.20" height="5.20" fill="#0000ff" stroke="#000" stroke-width="0.8"/>
<rect x="64.60" y="333.40" width="5.20" height="5.20" fill="#0000ff" stroke="#000" stroke-width="0.8"/>
<rect x="109.10" y="351.20" width="5.20" height="5.20" fill="#0000ff" stroke="#000" stroke-width="0.8"/>
<rect x="61.90" y="381.00" width="5.20" height="5.20" fill="#0000ff" stroke="#000" stroke-width="0.8"/>
<rect x="90.60" y="282.40" width="5.20" height="5.20" fill="#0fa050" stroke="#000" stroke-width="0.8"/>
<rect x="50.10" y="312.30" width="5.20" height="5.20" fill="#0fa050" stroke="#000" stroke-width="0.8"/>
<rect x="93.60" y="327.50" width="5.20" height="5.20" fill="#0fa050" stroke="#000" stroke-width="0.8"/>
<rect x="43.40" y="360.30" width="5.20" height="5.20" fill="#0fa050" stroke="#000" stroke-width="0.8"/>
<rect x="91.00" y="375.90" width="5.20" height="5.20" fill="#0fa050" stroke="#000" stroke-width="0.8"/>
<rect x="10.50" y="145.30" width="36.20" height="3.00" fill="#fff" stroke="none" stroke-width="1"/>
<rect x="12.60" y="388.80" width="36.00" height="3.00" fill="#fff" stroke="none" stroke-width="1"/>
<text x="30.00" y="167.02" font-size="14" text-anchor="middle" fill="#fff" font-weight="normal" >5 nm</text>
<text x="32.20" y="410.02" font-size="14" text-anchor="middle" fill="#fff" font-weight="normal" >5 nm</text>
<rect x="16.40" y="187.70" width="5.20" height="5.20" fill="#ff0000" stroke="#000" stroke-width="0.8"/>
<text x="28.80" y="195.12" font-size="14" text-anchor="start" fill="#000" font-weight="normal" >AA</text>
<rect x="60.30" y="187.70" width="5.20" height="5.20" fill="#0000ff" stroke="#000" stroke-width="0.8"/>
<text x="70.80" y="195.12" font-size="14" text-anchor="start" fill="#000" font-weight="normal" >AB</text>
<rect x="100.40" y="187.70" width="5.20" height="5.20" fill="#0fa050" stroke="#000" stroke-width="0.8"/>
<text x="114.20" y="195.12" font-size="14" text-anchor="start" fill="#000" font-weight="normal" >AC</text>
<rect x="13.50" y="432.00" width="5.20" height="5.20" fill="#ff0000" stroke="#000" stroke-width="0.8"/>
<text x="26.00" y="439.42" font-size="14" text-anchor="start" fill="#000" font-weight="normal" >AA</text>
<rect x="57.20" y="432.00" width="5.20" height="5.20" fill="#0000ff" stroke="#000" stroke-width="0.8"/>
<text x="68.50" y="439.42" font-size="14" text-anchor="start" fill="#000" font-weight="normal" >AB</text>
<rect x="97.60" y="432.00" width="5.20" height="5.20" fill="#0fa050" stroke="#000" stroke-width="0.8"/>
<text x="111.40" y="439.42" font-size="14" text-anchor="start" fill="#000" font-weight="normal" >AC</text>
<clipPath id="clipb"><rect x="202.5" y="7.5" width="184" height="197"/></clipPath>
<clipPath id="clipe"><rect x="202.5" y="250.5" width="184" height="197"/></clipPath>
<g clip-path="url(#clipb)"><path d="M202.5,158.0 203.7,158.1 205.0,159.6 206.2,161.2 207.4,161.6 208.6,161.0 209.9,160.8 211.1,161.9 212.3,163.8 213.5,165.5 214.8,166.6 216.0,167.8 217.2,169.5 218.4,171.7 219.7,173.2 220.9,173.5 222.1,173.4 223.4,173.7 224.6,174.9 225.8,176.1 227.0,176.6 228.3,176.3 229.5,176.0 230.7,175.7 231.9,174.9 233.2,173.4 234.4,172.0 235.6,171.3 236.8,171.5 238.1,171.4 239.3,170.0 240.5,167.5 241.8,165.1 243.0,163.8 244.2,163.6 245.4,163.6 246.7,163.1 247.9,162.3 249.1,161.3 250.3,160.1 251.6,158.9 252.8,158.2 254.0,158.4 255.2,159.5 256.5,160.6 257.7,160.4 258.9,159.0 260.2,157.5 261.4,157.1 262.6,158.2 263.8,159.8 265.1,160.9 266.3,161.0 267.5,160.4 268.7,159.2 270.0,157.7 271.2,156.4 272.4,155.8 273.6,155.7 274.9,155.2 276.1,153.4 277.3,150.1 278.6,146.3 279.8,143.2 281.0,140.7 282.2,138.2 283.5,134.8 284.7,130.5 285.9,125.8 287.1,120.7 288.4,115.4 289.6,110.1 290.8,105.3 292.0,101.4 293.3,97.5 294.5,93.6 295.7,89.7 297.0,85.7 298.2,82.7 299.4,81.5 300.6,82.1 301.9,83.3 303.1,84.7 304.3,86.7 305.5,89.5 306.8,92.4 308.0,95.4 309.2,97.8 310.4,99.9 311.7,102.4 312.9,105.2 314.1,107.2 315.4,108.0 316.6,108.3 317.8,109.0 319.0,110.0 320.3,110.9 321.5,111.9 322.7,113.9 323.9,117.2 325.2,121.0 326.4,123.7 327.6,124.9 328.8,125.5 330.1,127.0 331.3,130.1 332.5,133.9 333.8,136.2 335.0,136.5 336.2,136.1 337.4,136.1 338.7,136.5 339.9,136.5 341.1,136.5 342.3,136.7 343.6,137.2 344.8,137.0 346.0,134.9 347.2,131.3 348.5,127.8 349.7,126.2 350.9,126.4 352.2,126.5 353.4,124.9 354.6,122.1 355.8,119.8 357.1,118.8 358.3,118.4 359.5,117.7 360.7,116.9 362.0,116.7 363.2,116.9 364.4,116.3 365.6,113.9 366.9,111.0 368.1,109.5 369.3,110.5 370.6,112.2 371.8,112.1 373.0,110.0 374.2,107.9 375.5,107.8 376.7,109.7 377.9,111.8 379.1,112.7 380.4,113.2 381.6,114.6 382.8,116.8 384.0,118.4 385.3,118.7 386.5,118.9" fill="none" stroke="#ff1010" stroke-width="1.0" stroke-dasharray="3,1.6"/>
<path d="M202.5,156.4 203.7,156.3 205.0,157.0 206.2,158.2 207.4,159.2 208.6,159.8 209.9,160.1 211.1,160.7 212.3,162.2 213.5,164.4 214.8,166.5 216.0,167.8 217.2,168.7 218.4,169.6 219.7,171.0 220.9,172.5 222.1,173.4 223.4,173.7 224.6,173.4 225.8,173.3 227.0,173.7 228.3,174.4 229.5,174.7 230.7,174.0 231.9,172.3 233.2,170.2 234.4,168.7 235.6,168.4 236.8,168.7 238.1,168.5 239.3,167.0 240.5,164.4 241.8,161.6 243.0,160.0 244.2,160.1 245.4,161.1 246.7,161.4 247.9,160.2 249.1,157.6 250.3,155.3 251.6,154.8 252.8,156.3 254.0,158.3 255.2,159.2 256.5,158.0 257.7,155.6 258.9,153.7 260.2,154.0 261.4,156.3 262.6,159.1 263.8,160.2 265.1,158.9 266.3,156.4 267.5,154.3 268.7,154.0 270.0,155.3 271.2,156.6 272.4,156.0 273.6,152.8 274.9,148.2 276.1,144.4 277.3,142.6 278.6,142.3 279.8,141.3 281.0,138.0 282.2,132.2 283.5,125.5 284.7,119.8 285.9,115.9 287.1,113.0 288.4,109.7 289.6,104.8 290.8,98.5 292.0,91.7 293.3,86.3 294.5,83.5 295.7,82.2 297.0,80.7 298.2,78.8 299.4,77.2 300.6,76.7 301.9,77.9 303.1,80.9 304.3,84.7 305.5,88.0 306.8,91.0 308.0,93.4 309.2,95.4 310.4,97.5 311.7,100.1 312.9,102.4 314.1,103.9 315.4,104.6 316.6,105.0 317.8,105.6 319.0,106.6 320.3,108.3 321.5,110.5 322.7,112.9 323.9,115.5 325.2,118.2 326.4,121.1 327.6,123.6 328.8,125.4 330.1,126.8 331.3,128.5 332.5,130.6 333.8,132.5 335.0,134.2 336.2,134.8 337.4,134.2 338.7,133.0 339.9,132.4 341.1,132.7 342.3,133.6 343.6,133.9 344.8,132.6 346.0,129.6 347.2,125.6 348.5,122.4 349.7,121.3 350.9,121.7 352.2,122.2 353.4,120.9 354.6,117.7 355.8,114.2 357.1,112.2 358.3,112.5 359.5,114.4 360.7,115.7 362.0,114.7 363.2,111.4 364.4,107.7 365.6,105.6 366.9,106.2 368.1,108.3 369.3,109.7 370.6,108.7 371.8,105.6 373.0,102.5 374.2,101.8 375.5,104.2 376.7,108.3 377.9,111.5 379.1,112.1 380.4,110.8 381.6,109.5 382.8,110.3 384.0,113.4 385.3,117.7 386.5,119.6" fill="none" stroke="#ff1010" stroke-width="1.0" stroke-dasharray="4,1.5,1.2,1.5"/>
<path d="M202.5,153.5 203.7,152.2 205.0,150.6 206.2,150.2 207.4,151.7 208.6,154.2 209.9,155.6 211.1,155.0 212.3,153.6 213.5,153.9 214.8,157.2 216.0,161.9 217.2,165.4 218.4,165.9 219.7,164.5 220.9,163.5 222.1,164.5 223.4,166.9 224.6,169.2 225.8,170.5 227.0,170.9 228.3,170.8 229.5,170.6 230.7,170.2 231.9,169.8 233.2,169.5 234.4,169.0 235.6,167.8 236.8,165.8 238.1,163.5 239.3,162.0 240.5,161.9 241.8,162.3 243.0,161.6 244.2,159.3 245.4,156.4 246.7,155.0 247.9,155.5 249.1,156.5 250.3,155.9 251.6,153.2 252.8,150.0 254.0,148.7 255.2,150.1 256.5,152.7 257.7,154.2 258.9,153.7 260.2,152.0 261.4,150.6 262.6,150.5 263.8,151.3 265.1,152.2 266.3,152.7 267.5,152.8 268.7,152.3 270.0,151.4 271.2,150.2 272.4,149.5 273.6,149.7 274.9,149.6 276.1,148.0 277.3,144.6 278.6,140.7 279.8,137.6 281.0,135.9 282.2,133.7 283.5,129.5 284.7,123.5 285.9,117.5 287.1,113.3 288.4,110.7 289.6,107.7 290.8,102.4 292.0,94.9 293.3,87.2 294.5,80.9 295.7,77.1 297.0,75.2 298.2,72.9 299.4,69.7 300.6,66.8 301.9,65.7 303.1,66.6 304.3,69.1 305.5,72.5 306.8,76.1 308.0,79.0 309.2,81.5 310.4,83.4 311.7,84.9 312.9,87.5 314.1,91.2 315.4,94.7 316.6,96.2 317.8,96.0 319.0,95.7 320.3,96.8 321.5,99.6 322.7,102.5 323.9,104.1 325.2,104.4 326.4,105.1 327.6,107.9 328.8,112.7 330.1,117.6 331.3,120.5 332.5,121.5 333.8,122.2 335.0,123.5 336.2,125.2 337.4,127.0 338.7,128.1 339.9,128.4 341.1,127.8 342.3,126.8 343.6,125.5 344.8,124.6 346.0,124.5 347.2,124.9 348.5,124.7 349.7,122.3 350.9,118.2 352.2,114.3 353.4,112.3 354.6,112.0 355.8,111.8 357.1,110.0 358.3,107.3 359.5,105.3 360.7,105.3 362.0,106.8 363.2,107.5 364.4,106.0 365.6,102.9 366.9,100.1 368.1,99.1 369.3,99.6 370.6,100.0 371.8,99.3 373.0,97.4 374.2,95.6 375.5,94.9 376.7,95.7 377.9,97.8 379.1,100.4 380.4,102.5 381.6,103.3 382.8,103.0 384.0,102.4 385.3,102.9 386.5,105.3" fill="none" stroke="#ff1010" stroke-width="1.0" stroke-dasharray="2,1.4"/>
<path d="M202.5,152.4 203.7,151.7 205.0,150.5 206.2,150.4 207.4,151.8 208.6,153.7 209.9,154.8 211.1,155.2 212.3,155.9 213.5,158.0 214.8,160.8 216.0,162.6 217.2,163.2 218.4,163.5 219.7,165.0 220.9,167.5 222.1,169.3 223.4,169.4 224.6,168.5 225.8,168.1 227.0,168.8 228.3,169.7 229.5,169.6 230.7,168.6 231.9,167.6 233.2,167.4 234.4,167.7 235.6,167.0 236.8,164.9 238.1,162.5 239.3,161.3 240.5,161.5 241.8,161.6 243.0,160.2 244.2,157.7 245.4,155.3 246.7,154.1 247.9,153.6 249.1,152.8 250.3,151.5 251.6,150.4 252.8,150.5 254.0,151.4 255.2,151.6 256.5,150.7 257.7,149.4 258.9,149.4 260.2,150.8 261.4,152.7 262.6,153.5 263.8,153.1 265.1,152.6 266.3,152.8 267.5,153.2 268.7,152.7 270.0,150.6 271.2,148.4 272.4,147.3 273.6,146.9 274.9,145.7 276.1,142.8 277.3,139.0 278.6,135.8 279.8,133.9 281.0,132.1 282.2,129.0 283.5,124.5 284.7,119.7 285.9,115.6 287.1,111.4 288.4,106.0 289.6,99.3 290.8,92.7 292.0,87.3 293.3,83.0 294.5,78.8 295.7,74.2 297.0,69.1 298.2,64.7 299.4,62.9 300.6,63.8 301.9,65.6 303.1,67.6 304.3,70.2 305.5,73.8 306.8,78.0 308.0,82.1 309.2,85.0 310.4,87.0 311.7,89.3 312.9,92.5 314.1,95.2 315.4,96.0 316.6,95.1 317.8,94.1 319.0,94.4 320.3,95.8 321.5,97.6 322.7,99.6 323.9,102.0 325.2,105.6 326.4,109.8 327.6,113.5 328.8,116.0 330.1,117.7 331.3,120.0 332.5,123.8 333.8,127.2 335.0,128.5 336.2,128.0 337.4,127.0 338.7,126.6 339.9,126.9 341.1,126.5 342.3,124.9 343.6,122.8 344.8,121.4 346.0,121.2 347.2,120.8 348.5,118.8 349.7,115.7 350.9,113.3 352.2,112.7 353.4,113.2 354.6,113.2 355.8,111.8 357.1,110.0 358.3,108.8 359.5,107.9 360.7,106.5 362.0,104.1 363.2,101.4 364.4,99.7 365.6,99.2 366.9,98.8 368.1,97.5 369.3,95.3 370.6,93.9 371.8,94.0 373.0,95.4 374.2,96.7 375.5,97.4 376.7,98.4 377.9,100.2 379.1,102.6 380.4,104.2 381.6,104.4 382.8,104.0 384.0,104.4 385.3,106.2 386.5,108.4" fill="none" stroke="#ff1010" stroke-width="1.0" stroke-dasharray="5,1.5,1.2,1.5,1.2,1.5"/>
<path d="M202.5,147.4 203.7,148.4 205.0,150.3 206.2,151.6 207.4,151.5 208.6,150.7 209.9,150.6 211.1,151.9 212.3,154.0 213.5,156.0 214.8,157.3 216.0,158.1 217.2,159.0 218.4,160.5 219.7,162.6 220.9,164.6 222.1,166.0 223.4,166.7 224.6,167.2 225.8,167.8 227.0,168.3 228.3,168.7 229.5,168.9 230.7,168.7 231.9,168.0 233.2,166.8 234.4,165.1 235.6,163.3 236.8,162.1 238.1,161.4 239.3,160.9 240.5,159.8 241.8,158.0 243.0,156.2 244.2,154.9 245.4,154.4 246.7,154.0 247.9,153.2 249.1,151.8 250.3,150.6 251.6,149.9 252.8,149.8 254.0,149.5 255.2,148.7 256.5,147.8 257.7,147.5 258.9,148.1 260.2,149.1 261.4,149.4 262.6,148.9 263.8,148.3 265.1,148.8 266.3,150.4 267.5,151.8 268.7,151.6 270.0,149.4 271.2,146.7 272.4,145.1 273.6,145.1 274.9,144.9 276.1,143.1 277.3,139.5 278.6,135.3 279.8,132.2 281.0,130.3 282.2,128.2 283.5,124.6 284.7,119.2 285.9,113.1 287.1,107.6 288.4,102.6 289.6,97.7 290.8,92.2 292.0,86.3 293.3,80.2 294.5,74.7 295.7,70.6 297.0,67.4 298.2,64.0 299.4,61.2 300.6,60.3 301.9,61.5 303.1,63.8 304.3,66.2 305.5,68.4 306.8,70.6 308.0,73.7 309.2,77.8 310.4,81.5 311.7,83.9 312.9,85.6 314.1,87.1 315.4,88.6 316.6,90.0 317.8,91.3 319.0,92.4 320.3,93.5 321.5,95.1 322.7,97.5 323.9,100.2 325.2,102.8 326.4,105.4 327.6,108.3 328.8,111.5 330.1,114.1 331.3,115.6 332.5,116.9 333.8,118.5 335.0,120.5 336.2,122.7 337.4,124.2 338.7,124.3 339.9,123.3 341.1,122.8 342.3,123.4 343.6,124.4 344.8,124.4 346.0,122.5 347.2,119.3 348.5,116.0 349.7,113.7 350.9,112.4 352.2,111.1 353.4,109.1 354.6,106.6 355.8,104.5 357.1,103.7 358.3,103.8 359.5,103.5 360.7,102.3 362.0,100.8 363.2,99.7 364.4,99.4 365.6,99.1 366.9,97.8 368.1,95.6 369.3,93.5 370.6,92.6 371.8,92.8 373.0,93.1 374.2,92.5 375.5,91.4 376.7,91.0 377.9,92.4 379.1,95.1 380.4,97.7 381.6,99.2 382.8,99.8 384.0,100.3 385.3,101.5 386.5,103.7" fill="none" stroke="#ff1010" stroke-width="1.0" stroke-dasharray="3.5,2"/>
<path d="M202.5,143.2 203.7,144.2 205.0,145.1 206.2,144.9 207.4,144.2 208.6,144.9 209.9,147.9 211.1,151.6 212.3,153.2 213.5,152.0 214.8,150.8 216.0,152.1 217.2,155.7 218.4,159.0 219.7,159.8 220.9,158.9 222.1,158.8 223.4,160.7 224.6,163.7 225.8,166.0 227.0,166.7 228.3,166.3 229.5,165.8 230.7,165.1 231.9,164.1 233.2,163.3 234.4,162.9 235.6,162.4 236.8,160.7 238.1,157.9 239.3,155.5 240.5,155.1 241.8,156.0 243.0,155.9 244.2,153.0 245.4,148.9 246.7,146.6 247.9,147.3 249.1,149.1 250.3,149.3 251.6,147.2 252.8,144.8 254.0,144.4 255.2,145.8 256.5,146.8 257.7,146.1 258.9,144.2 260.2,142.7 261.4,142.4 262.6,142.9 263.8,143.7 265.1,144.9 266.3,146.2 267.5,146.9 268.7,146.5 270.0,145.4 271.2,144.9 272.4,145.2 273.6,144.8 274.9,141.8 276.1,136.6 277.3,132.1 278.6,130.3 279.8,130.1 281.0,128.6 282.2,123.9 283.5,117.6 284.7,112.7 285.9,109.8 287.1,107.0 288.4,101.7 289.6,94.0 290.8,86.1 292.0,79.6 293.3,74.3 294.5,69.2 295.7,64.4 297.0,60.7 298.2,57.2 299.4,53.7 300.6,51.2 301.9,51.3 303.1,54.1 304.3,57.9 305.5,60.5 306.8,61.4 308.0,62.3 309.2,66.4 310.4,72.8 311.7,77.9 312.9,79.9 314.1,79.7 315.4,79.8 316.6,81.9 317.8,84.8 319.0,86.4 320.3,85.9 321.5,85.2 322.7,86.8 323.9,90.8 325.2,95.5 326.4,99.5 327.6,102.5 328.8,105.2 330.1,107.5 331.3,109.2 332.5,111.0 333.8,113.7 335.0,116.2 336.2,116.9 337.4,115.9 338.7,114.4 339.9,115.0 341.1,118.1 342.3,121.3 343.6,121.6 344.8,118.6 346.0,115.1 347.2,113.7 348.5,113.9 349.7,112.7 350.9,108.8 352.2,103.6 353.4,100.0 354.6,99.0 355.8,99.4 357.1,99.3 358.3,98.2 359.5,96.9 360.7,95.8 362.0,94.7 363.2,93.7 364.4,93.1 365.6,92.8 366.9,92.0 368.1,89.7 369.3,86.7 370.6,84.9 371.8,85.6 373.0,87.3 374.2,87.5 375.5,85.4 376.7,83.1 377.9,83.5 379.1,86.8 380.4,90.6 381.6,92.0 382.8,91.5 384.0,91.5 385.3,93.9 386.5,97.8" fill="none" stroke="#ff1010" stroke-width="1.0" stroke-dasharray="1.5,1.5"/>
<path d="M202.5,155.7 203.7,156.1 205.0,157.3 206.2,158.1 207.4,158.1 208.6,158.1 209.9,159.0 211.1,160.9 212.3,163.0 213.5,164.0 214.8,163.8 216.0,162.9 217.2,163.0 218.4,165.0 219.7,168.5 220.9,172.1 222.1,174.1 223.4,174.0 224.6,172.5 225.8,171.3 227.0,171.2 228.3,172.4 229.5,173.8 230.7,174.6 231.9,174.3 233.2,173.2 234.4,171.9 235.6,170.8 236.8,169.5 238.1,167.7 239.3,165.4 240.5,163.3 241.8,162.0 243.0,161.6 244.2,161.7 245.4,161.6 246.7,160.4 247.9,158.1 249.1,155.8 250.3,154.5 251.6,154.9 252.8,156.6 254.0,158.4 255.2,159.1 256.5,158.3 257.7,156.6 258.9,155.1 260.2,154.8 261.4,155.5 262.6,156.5 263.8,157.2 265.1,157.5 266.3,157.7 267.5,158.2 268.7,159.0 270.0,159.6 271.2,159.3 272.4,158.2 273.6,157.3 274.9,157.4 276.1,158.9 277.3,160.8 278.6,161.4 279.8,159.6 281.0,155.9 282.2,152.0 283.5,148.0 284.7,144.3 285.9,140.7 287.1,135.3 288.4,126.7 289.6,115.6 290.8,103.4 292.0,91.0 293.3,81.2 294.5,69.2 295.7,58.4 297.0,48.9 298.2,43.7 299.4,42.2 300.6,46.1 301.9,52.5 303.1,57.8 304.3,62.4 305.5,67.9 306.8,74.3 308.0,82.7 309.2,91.1 310.4,97.2 311.7,98.9 312.9,97.6 314.1,96.3 315.4,97.2 316.6,100.1 317.8,103.1 319.0,104.7 320.3,104.4 321.5,103.6 322.7,103.9 323.9,105.5 325.2,107.3 326.4,107.8 327.6,107.0 328.8,106.7 330.1,108.5 331.3,112.9 332.5,118.8 333.8,123.2 335.0,124.6 336.2,123.5 337.4,121.9 338.7,122.5 339.9,124.9 341.1,127.7 342.3,128.6 343.6,127.0 344.8,123.7 346.0,120.0 347.2,117.6 348.5,116.5 349.7,114.7 350.9,111.5 352.2,107.5 353.4,104.0 354.6,102.3 355.8,102.0 357.1,101.3 358.3,98.7 359.5,94.5 360.7,91.0 362.0,90.7 363.2,93.1 364.4,96.6 365.6,98.7 366.9,97.8 368.1,94.7 369.3,91.6 370.6,90.3 371.8,91.0 373.0,92.2 374.2,92.6 375.5,92.7 376.7,93.8 377.9,96.4 379.1,99.9 380.4,103.2 381.6,105.8 382.8,107.3 384.0,108.2 385.3,109.8 386.5,112.8" fill="none" stroke="#1c1cff" stroke-width="1.0" stroke-dasharray="3,1.6"/>
<path d="M202.5,154.5 203.7,154.4 205.0,155.2 206.2,156.6 207.4,157.9 208.6,158.3 209.9,158.0 211.1,158.2 212.3,159.5 213.5,162.1 214.8,164.7 216.0,166.8 217.2,168.4 218.4,169.7 219.7,170.5 220.9,170.4 222.1,169.2 223.4,167.8 224.6,167.5 225.8,169.0 227.0,171.6 228.3,173.9 229.5,175.1 230.7,175.1 231.9,174.4 233.2,173.0 234.4,170.9 235.6,167.9 236.8,164.8 238.1,162.5 239.3,161.6 240.5,161.2 241.8,160.5 243.0,159.1 244.2,157.8 245.4,157.1 246.7,156.9 247.9,156.7 249.1,156.3 250.3,156.1 251.6,156.5 252.8,157.3 254.0,157.5 255.2,156.2 256.5,154.0 257.7,152.1 258.9,151.5 260.2,152.2 261.4,153.6 262.6,155.0 263.8,156.6 265.1,158.6 266.3,160.4 267.5,160.9 268.7,159.7 270.0,157.5 271.2,155.6 272.4,155.0 273.6,155.5 274.9,156.2 276.1,156.6 277.3,156.8 278.6,156.8 279.8,156.3 281.0,154.8 282.2,150.7 283.5,144.5 284.7,138.2 285.9,132.2 287.1,124.9 288.4,115.4 289.6,103.6 290.8,89.6 292.0,77.7 293.3,64.3 294.5,53.2 295.7,44.3 297.0,40.1 298.2,39.2 299.4,43.4 300.6,50.4 301.9,56.6 303.1,61.9 304.3,67.7 305.5,73.0 306.8,78.5 308.0,83.5 309.2,87.8 310.4,91.1 311.7,94.1 312.9,97.3 314.1,100.0 315.4,101.2 316.6,101.0 317.8,100.7 319.0,101.1 320.3,102.1 321.5,103.0 322.7,103.3 323.9,103.4 325.2,103.8 326.4,104.6 327.6,105.7 328.8,107.0 330.1,108.8 331.3,112.2 332.5,116.8 333.8,121.6 335.0,125.2 336.2,126.7 337.4,126.9 338.7,126.0 339.9,124.4 341.1,122.1 342.3,119.5 343.6,117.6 344.8,116.2 346.0,115.8 347.2,115.7 348.5,114.4 349.7,111.7 350.9,108.3 352.2,104.8 353.4,101.5 354.6,98.2 355.8,95.3 357.1,93.1 358.3,91.8 359.5,91.7 360.7,92.0 362.0,91.6 363.2,90.8 364.4,90.4 365.6,90.9 366.9,91.8 368.1,92.3 369.3,92.3 370.6,92.2 371.8,91.9 373.0,91.4 374.2,90.7 375.5,90.3 376.7,90.5 377.9,92.2 379.1,95.6 380.4,100.7 381.6,105.9 382.8,109.9 384.0,112.3 385.3,114.1 386.5,114.6" fill="none" stroke="#1c1cff" stroke-width="1.0" stroke-dasharray="4,1.5,1.2,1.5"/>
<path d="M202.5,152.6 203.7,153.9 205.0,155.6 206.2,156.2 207.4,155.3 208.6,153.9 209.9,153.5 211.1,155.1 212.3,158.5 213.5,162.3 214.8,164.9 216.0,165.8 217.2,165.8 218.4,166.5 219.7,168.4 220.9,171.0 222.1,172.9 223.4,172.9 224.6,171.3 225.8,169.0 227.0,167.8 228.3,168.2 229.5,169.5 230.7,170.3 231.9,169.6 233.2,167.4 234.4,165.1 235.6,163.6 236.8,163.5 238.1,164.1 239.3,163.9 240.5,162.1 241.8,158.9 243.0,155.9 244.2,154.2 245.4,154.2 246.7,155.0 247.9,155.2 249.1,153.9 250.3,151.7 251.6,150.0 252.8,149.9 254.0,151.5 255.2,153.9 256.5,155.3 257.7,155.0 258.9,153.5 260.2,152.1 261.4,152.2 262.6,153.8 263.8,156.0 265.1,157.1 266.3,156.4 267.5,154.7 268.7,153.4 270.0,153.5 271.2,155.0 272.4,156.6 273.6,157.1 274.9,155.9 276.1,153.9 277.3,152.1 278.6,151.6 279.8,152.0 281.0,151.0 282.2,146.4 283.5,138.9 284.7,130.2 285.9,120.9 287.1,112.0 288.4,103.2 289.6,91.8 290.8,80.6 292.0,66.2 293.3,52.2 294.5,41.2 295.7,35.9 297.0,34.2 298.2,36.2 299.4,40.9 300.6,45.8 301.9,50.7 303.1,58.4 304.3,67.2 305.5,76.0 306.8,83.4 308.0,87.9 309.2,89.6 310.4,89.7 311.7,90.5 312.9,93.2 314.1,96.5 315.4,98.5 316.6,98.4 317.8,96.9 319.0,95.6 320.3,95.7 321.5,97.6 322.7,100.1 323.9,101.8 325.2,102.1 326.4,102.0 327.6,103.1 328.8,105.9 330.1,110.7 331.3,115.6 332.5,119.1 333.8,120.5 335.0,120.1 336.2,119.7 337.4,120.2 338.7,121.2 339.9,122.0 341.1,121.3 342.3,118.8 343.6,114.8 344.8,111.0 346.0,109.2 347.2,108.7 348.5,108.2 349.7,106.3 350.9,102.5 352.2,98.0 353.4,94.4 354.6,92.8 355.8,92.7 357.1,92.3 358.3,90.7 359.5,88.4 360.7,86.1 362.0,85.0 363.2,85.8 364.4,87.5 365.6,88.6 366.9,87.9 368.1,85.8 369.3,83.9 370.6,83.5 371.8,84.9 373.0,87.6 374.2,90.9 375.5,93.1 376.7,94.0 377.9,94.5 379.1,96.7 380.4,100.6 381.6,104.7 382.8,107.1 384.0,107.4 385.3,106.2 386.5,104.6" fill="none" stroke="#1c1cff" stroke-width="1.0" stroke-dasharray="2,1.4"/>
<path d="M202.5,146.1 203.7,146.7 205.0,148.3 206.2,149.1 207.4,149.6 208.6,151.4 209.9,154.8 211.1,157.7 212.3,158.2 213.5,156.8 214.8,155.9 216.0,157.1 217.2,159.2 218.4,160.4 219.7,160.4 220.9,161.1 222.1,163.6 223.4,166.4 224.6,167.3 225.8,166.1 227.0,165.2 228.3,166.2 229.5,168.7 230.7,170.4 231.9,170.1 233.2,169.1 234.4,169.1 235.6,169.4 236.8,168.1 238.1,163.9 239.3,158.7 240.5,155.1 241.8,153.8 243.0,153.1 244.2,151.7 245.4,150.7 246.7,151.6 247.9,153.9 249.1,155.5 250.3,154.5 251.6,151.9 252.8,150.1 254.0,150.2 255.2,150.7 256.5,150.0 257.7,148.2 258.9,147.5 260.2,148.6 261.4,150.0 262.6,149.6 263.8,147.6 265.1,146.4 266.3,147.8 267.5,150.6 268.7,152.7 270.0,153.4 271.2,153.9 272.4,155.5 273.6,157.0 274.9,156.4 276.1,153.3 277.3,149.8 278.6,148.3 279.8,148.3 281.0,148.0 282.2,146.2 283.5,143.6 284.7,140.4 285.9,136.9 287.1,131.7 288.4,122.6 289.6,110.7 290.8,99.0 292.0,86.7 293.3,75.3 294.5,61.9 295.7,47.4 297.0,36.3 298.2,30.5 299.4,27.4 300.6,26.0 301.9,27.8 303.1,32.9 304.3,40.5 305.5,50.8 306.8,59.9 308.0,66.7 309.2,73.3 310.4,80.1 311.7,85.8 312.9,87.4 314.1,86.2 315.4,85.1 316.6,86.2 317.8,88.6 319.0,90.0 320.3,90.2 321.5,90.5 322.7,92.4 323.9,95.3 325.2,96.6 326.4,95.6 327.6,94.0 328.8,94.5 330.1,97.7 331.3,101.3 332.5,104.1 333.8,106.5 335.0,110.0 336.2,114.7 337.4,117.8 338.7,118.0 339.9,116.3 341.1,114.7 342.3,114.7 343.6,115.0 344.8,113.8 346.0,111.1 347.2,108.5 348.5,107.6 349.7,106.6 350.9,103.5 352.2,98.5 353.4,93.8 354.6,91.2 355.8,89.9 357.1,88.1 358.3,85.7 359.5,83.6 360.7,83.3 362.0,84.4 363.2,84.2 364.4,81.8 365.6,79.3 366.9,78.6 368.1,79.5 369.3,79.8 370.6,78.9 371.8,78.2 373.0,79.4 374.2,81.7 375.5,83.2 376.7,83.4 377.9,83.3 379.1,84.8 380.4,87.8 381.6,91.4 382.8,94.0 384.0,95.7 385.3,97.9 386.5,101.1" fill="none" stroke="#1c1cff" stroke-width="1.0" stroke-dasharray="5,1.5,1.2,1.5,1.2,1.5"/>
<path d="M202.5,148.3 203.7,149.0 205.0,149.8 206.2,151.1 207.4,152.6 208.6,153.6 209.9,153.5 211.1,152.8 212.3,152.3 213.5,153.1 214.8,155.1 216.0,157.3 217.2,159.0 218.4,160.1 219.7,160.9 220.9,162.1 222.1,163.7 223.4,165.0 224.6,165.9 225.8,166.6 227.0,167.7 228.3,168.9 229.5,169.8 230.7,169.5 231.9,167.8 233.2,165.2 234.4,162.9 235.6,161.5 236.8,160.5 238.1,159.2 239.3,157.4 240.5,155.3 241.8,153.4 243.0,152.0 244.2,151.2 245.4,150.6 246.7,149.9 247.9,149.5 249.1,149.7 250.3,150.2 251.6,150.6 252.8,150.3 254.0,149.3 255.2,147.9 256.5,146.8 257.7,146.4 258.9,146.4 260.2,146.6 261.4,146.9 262.6,147.2 263.8,147.7 265.1,148.4 266.3,149.1 267.5,149.6 268.7,150.2 270.0,151.0 271.2,152.0 272.4,152.8 273.6,153.2 274.9,152.7 276.1,151.6 277.3,150.3 278.6,148.7 279.8,146.9 281.0,145.0 282.2,142.5 283.5,138.0 284.7,132.2 285.9,126.0 287.1,118.0 288.4,108.1 289.6,97.0 290.8,83.5 292.0,71.4 293.3,59.0 294.5,46.1 295.7,35.1 297.0,27.4 298.2,22.5 299.4,21.2 300.6,24.6 301.9,30.4 303.1,36.7 304.3,45.3 305.5,54.4 306.8,62.8 308.0,70.4 309.2,76.0 310.4,79.9 311.7,81.7 312.9,83.1 314.1,84.8 315.4,86.7 316.6,88.0 317.8,88.8 319.0,89.4 320.3,89.9 321.5,90.0 322.7,89.7 323.9,89.1 325.2,89.0 326.4,90.0 327.6,92.4 328.8,96.0 330.1,99.4 331.3,102.8 332.5,105.8 333.8,108.5 335.0,111.2 336.2,113.1 337.4,114.3 338.7,114.9 339.9,114.7 341.1,114.4 342.3,113.8 343.6,112.4 344.8,109.5 346.0,105.4 347.2,101.9 348.5,99.5 349.7,97.8 350.9,96.2 352.2,93.8 353.4,90.7 354.6,87.8 355.8,85.5 357.1,83.7 358.3,81.6 359.5,79.3 360.7,78.1 362.0,78.1 363.2,79.0 364.4,79.9 365.6,79.9 366.9,78.4 368.1,76.2 369.3,74.6 370.6,74.4 371.8,75.0 373.0,75.6 374.2,76.1 375.5,77.8 376.7,80.8 377.9,84.4 379.1,87.4 380.4,89.9 381.6,92.0 382.8,94.2 384.0,96.6 385.3,99.1 386.5,100.9" fill="none" stroke="#1c1cff" stroke-width="1.0" stroke-dasharray="3.5,2"/>
<path d="M202.5,142.5 203.7,143.5 205.0,145.0 206.2,146.2 207.4,146.6 208.6,147.0 209.9,148.3 211.1,150.5 212.3,152.8 213.5,153.7 214.8,152.9 216.0,151.6 217.2,152.0 218.4,155.0 219.7,159.9 220.9,164.3 222.1,165.8 223.4,164.4 224.6,161.9 225.8,160.6 227.0,161.6 228.3,163.9 229.5,165.8 230.7,165.6 231.9,163.6 233.2,161.0 234.4,158.9 235.6,157.6 236.8,156.4 238.1,155.1 239.3,153.9 240.5,153.2 241.8,152.5 243.0,151.2 244.2,148.6 245.4,144.8 246.7,141.4 247.9,140.5 249.1,142.5 250.3,146.1 251.6,148.7 252.8,148.4 254.0,145.5 255.2,142.1 256.5,140.5 257.7,141.4 258.9,143.7 260.2,145.3 261.4,145.2 262.6,143.9 263.8,143.1 265.1,143.9 266.3,145.7 267.5,147.2 268.7,147.7 270.0,147.2 271.2,146.5 272.4,146.5 273.6,146.9 274.9,146.9 276.1,146.2 277.3,145.0 278.6,144.0 279.8,143.7 281.0,143.3 282.2,140.3 283.5,133.5 284.7,124.8 285.9,115.8 287.1,106.7 288.4,97.2 289.6,85.9 290.8,71.0 292.0,56.7 293.3,40.5 294.5,28.2 295.7,20.2 297.0,17.2 298.2,14.8 299.4,14.7 300.6,17.1 301.9,21.3 303.1,28.7 304.3,40.0 305.5,51.1 306.8,60.5 308.0,67.1 309.2,71.3 310.4,73.3 311.7,74.1 312.9,74.9 314.1,76.0 315.4,77.5 316.6,79.3 317.8,81.6 319.0,83.8 320.3,84.6 321.5,83.5 322.7,81.8 323.9,81.1 325.2,83.0 326.4,87.2 327.6,91.9 328.8,94.8 330.1,95.1 331.3,94.6 332.5,95.2 333.8,98.6 335.0,104.0 336.2,108.7 337.4,111.5 338.7,111.4 339.9,109.5 341.1,107.5 342.3,106.1 343.6,104.9 344.8,102.3 346.0,98.8 347.2,95.8 348.5,93.6 349.7,92.0 350.9,90.0 352.2,86.5 353.4,81.9 354.6,77.7 355.8,75.1 357.1,73.9 358.3,72.8 359.5,71.3 360.7,69.9 362.0,69.1 363.2,69.9 364.4,72.1 365.6,74.3 366.9,74.2 368.1,71.6 369.3,68.0 370.6,65.9 371.8,66.1 373.0,68.1 374.2,70.6 375.5,72.5 376.7,73.3 377.9,74.0 379.1,76.2 380.4,81.3 381.6,87.6 382.8,92.6 384.0,94.8 385.3,94.9 386.5,93.8" fill="none" stroke="#1c1cff" stroke-width="1.0" stroke-dasharray="1.5,1.5"/>
<path d="M202.5,151.2 203.7,150.5 205.0,151.6 206.2,153.9 207.4,155.6 208.6,155.4 209.9,154.1 211.1,153.8 212.3,155.9 213.5,159.7 214.8,162.8 216.0,163.6 217.2,162.9 218.4,162.9 219.7,165.1 220.9,168.4 222.1,170.4 223.4,170.2 224.6,168.9 225.8,168.9 227.0,170.6 228.3,172.7 229.5,173.4 230.7,172.2 231.9,170.6 233.2,170.0 234.4,170.4 235.6,170.7 236.8,169.7 238.1,167.8 239.3,166.0 240.5,164.9 241.8,164.1 243.0,163.2 244.2,162.3 245.4,161.7 246.7,161.7 247.9,161.6 249.1,160.8 250.3,159.5 251.6,158.5 252.8,158.4 254.0,159.3 255.2,160.2 256.5,160.3 257.7,159.4 258.9,158.1 260.2,157.4 261.4,157.6 262.6,158.6 263.8,159.7 265.1,160.1 266.3,159.2 267.5,157.3 268.7,155.6 270.0,155.3 271.2,156.0 272.4,154.9 273.6,151.4 274.9,146.4 276.1,140.9 277.3,137.0 278.6,135.5 279.8,135.0 281.0,133.1 282.2,128.6 283.5,122.7 284.7,117.6 285.9,114.4 287.1,112.3 288.4,109.8 289.6,106.2 290.8,102.6 292.0,100.6 293.3,100.3 294.5,101.0 295.7,101.7 297.0,102.7 298.2,105.8 299.4,110.7 300.6,115.7 301.9,120.0 303.1,123.3 304.3,127.0 305.5,132.3 306.8,138.2 308.0,142.2 309.2,143.7 310.4,144.2 311.7,145.4 312.9,148.2 314.1,151.5 315.4,153.2 316.6,152.6 317.8,151.3 319.0,151.3 320.3,152.8 321.5,154.7 322.7,155.5 323.9,155.0 325.2,154.2 326.4,154.5 327.6,156.2 328.8,158.4 330.1,160.2 331.3,160.7 332.5,160.3 333.8,159.8 335.0,160.1 336.2,161.2 337.4,162.6 338.7,163.4 339.9,163.0 341.1,161.4 342.3,159.6 343.6,158.6 344.8,158.2 346.0,157.8 347.2,156.4 348.5,154.1 349.7,151.2 350.9,148.8 352.2,147.4 353.4,146.5 354.6,145.6 355.8,144.4 357.1,143.5 358.3,142.7 359.5,141.6 360.7,139.9 362.0,138.4 363.2,138.1 364.4,139.3 365.6,140.6 366.9,140.2 368.1,137.9 369.3,135.5 370.6,135.2 371.8,137.3 373.0,139.5 374.2,139.6 375.5,137.4 376.7,134.9 377.9,134.7 379.1,137.2 380.4,140.3 381.6,141.5 382.8,140.6 384.0,139.5 385.3,140.1 386.5,142.0" fill="none" stroke="#119a4b" stroke-width="1.0" stroke-dasharray="3,1.6"/>
<path d="M202.5,151.3 203.7,149.0 205.0,147.8 206.2,148.6 207.4,150.6 208.6,152.4 209.9,153.2 211.1,153.6 212.3,154.2 213.5,155.3 214.8,156.9 216.0,158.5 217.2,160.3 218.4,162.4 219.7,164.5 220.9,165.9 222.1,166.3 223.4,166.2 224.6,166.3 225.8,167.4 227.0,169.2 228.3,170.7 229.5,171.1 230.7,170.4 231.9,169.3 233.2,168.4 234.4,168.0 235.6,168.2 236.8,168.2 238.1,167.7 239.3,166.1 240.5,163.7 241.8,161.3 243.0,159.9 244.2,160.1 245.4,161.0 246.7,161.2 247.9,159.9 249.1,157.8 250.3,156.4 251.6,156.4 252.8,157.3 254.0,157.8 255.2,157.4 256.5,156.7 257.7,156.6 258.9,156.9 260.2,156.8 261.4,155.9 262.6,155.0 263.8,155.3 265.1,156.9 266.3,158.2 267.5,157.6 268.7,154.9 270.0,152.4 271.2,152.0 272.4,152.5 273.6,151.1 274.9,147.2 276.1,141.5 277.3,136.0 278.6,132.9 279.8,132.0 281.0,130.8 282.2,127.4 283.5,122.1 284.7,117.0 285.9,113.3 287.1,110.5 288.4,107.0 289.6,102.8 290.8,98.8 292.0,97.1 293.3,97.6 294.5,98.3 295.7,97.8 297.0,96.8 298.2,97.8 299.4,103.0 300.6,110.1 301.9,116.1 303.1,119.6 304.3,121.5 305.5,124.7 306.8,130.7 308.0,137.2 309.2,141.1 310.4,142.3 311.7,142.5 312.9,143.9 314.1,146.7 315.4,149.3 316.6,150.0 317.8,149.3 319.0,149.1 320.3,150.5 321.5,152.2 322.7,152.7 323.9,151.6 325.2,150.5 326.4,151.3 327.6,154.1 328.8,157.1 330.1,158.1 331.3,157.1 332.5,155.9 333.8,156.3 335.0,158.5 336.2,160.7 337.4,161.3 338.7,160.3 339.9,159.0 341.1,158.5 342.3,158.6 343.6,158.5 344.8,157.3 346.0,155.4 347.2,153.6 348.5,152.2 349.7,150.5 350.9,148.1 352.2,145.5 353.4,143.8 354.6,143.1 355.8,142.7 357.1,141.8 358.3,140.2 359.5,138.4 360.7,137.1 362.0,136.5 363.2,136.4 364.4,136.5 365.6,136.6 366.9,136.2 368.1,135.4 369.3,134.3 370.6,133.6 371.8,133.7 373.0,134.7 374.2,135.4 375.5,135.2 376.7,133.9 377.9,132.7 379.1,133.1 380.4,134.9 381.6,137.0 382.8,137.9 384.0,137.7 385.3,137.7 386.5,138.6" fill="none" stroke="#119a4b" stroke-width="1.0" stroke-dasharray="4,1.5,1.2,1.5"/>
<path d="M202.5,149.2 203.7,149.1 205.0,148.7 206.2,148.4 207.4,148.9 208.6,150.1 209.9,151.7 211.1,153.4 212.3,155.1 213.5,156.7 214.8,158.6 216.0,160.9 217.2,163.3 218.4,165.6 219.7,167.0 220.9,167.3 222.1,166.6 223.4,165.9 224.6,165.9 225.8,166.7 227.0,167.7 228.3,168.3 229.5,168.0 230.7,167.1 231.9,166.1 233.2,165.6 234.4,165.4 235.6,165.3 236.8,164.9 238.1,164.0 239.3,162.4 240.5,160.4 241.8,158.6 243.0,157.4 244.2,156.7 245.4,156.1 246.7,155.4 247.9,154.7 249.1,154.1 250.3,154.2 251.6,154.9 252.8,155.7 254.0,156.2 255.2,156.0 256.5,155.5 257.7,154.9 258.9,154.8 260.2,155.0 261.4,155.3 262.6,155.0 263.8,154.0 265.1,152.5 266.3,151.2 267.5,150.6 268.7,150.7 270.0,149.7 271.2,147.0 272.4,143.6 273.6,139.8 274.9,135.7 276.1,132.0 277.3,129.1 278.6,126.6 279.8,123.7 281.0,119.6 282.2,114.4 283.5,108.9 284.7,104.1 285.9,100.8 287.1,98.5 288.4,96.4 289.6,94.5 290.8,93.1 292.0,92.9 293.3,94.2 294.5,96.4 295.7,99.4 297.0,103.2 298.2,106.7 299.4,110.6 300.6,114.9 301.9,119.6 303.1,124.9 304.3,130.3 305.5,134.6 306.8,137.2 308.0,139.0 309.2,140.5 310.4,142.5 311.7,145.2 312.9,147.9 314.1,149.7 315.4,149.9 316.6,149.1 317.8,148.0 319.0,147.4 320.3,147.8 321.5,149.0 322.7,150.5 323.9,151.7 325.2,152.3 326.4,152.7 327.6,153.5 328.8,154.8 330.1,156.3 331.3,157.6 332.5,158.4 333.8,158.5 335.0,158.3 336.2,157.9 337.4,157.7 338.7,157.5 339.9,157.0 341.1,156.1 342.3,154.1 343.6,151.9 344.8,150.0 346.0,149.1 347.2,148.3 348.5,147.1 349.7,145.2 350.9,142.7 352.2,140.3 353.4,138.6 354.6,137.8 355.8,137.6 357.1,137.3 358.3,136.4 359.5,134.8 360.7,133.1 362.0,132.0 363.2,131.9 364.4,132.6 365.6,133.4 366.9,133.6 368.1,133.2 369.3,132.4 370.6,131.6 371.8,131.4 373.0,131.5 374.2,131.8 375.5,131.9 376.7,132.1 377.9,132.5 379.1,133.3 380.4,134.3 381.6,135.4 382.8,136.4 384.0,136.9 385.3,137.0 386.5,136.6" fill="none" stroke="#119a4b" stroke-width="1.0" stroke-dasharray="2,1.4"/>
<path d="M202.5,143.0 203.7,145.1 205.0,147.2 206.2,147.6 207.4,146.5 208.6,146.1 209.9,147.5 211.1,149.6 212.3,151.0 213.5,152.0 214.8,154.3 216.0,157.6 217.2,160.1 218.4,160.3 219.7,159.1 220.9,159.3 222.1,161.8 223.4,164.9 224.6,166.2 225.8,165.4 227.0,164.6 228.3,165.0 229.5,166.1 230.7,166.4 231.9,165.8 233.2,165.8 234.4,167.0 235.6,168.1 236.8,166.7 238.1,163.2 239.3,160.2 240.5,159.6 241.8,160.7 243.0,160.8 244.2,159.0 245.4,156.5 246.7,155.1 247.9,154.8 249.1,154.3 250.3,153.0 251.6,152.1 252.8,152.9 254.0,154.6 255.2,154.9 256.5,153.2 257.7,151.3 258.9,151.3 260.2,153.3 261.4,155.1 262.6,155.0 263.8,153.6 265.1,152.8 266.3,153.0 267.5,152.9 268.7,151.6 270.0,150.0 271.2,149.6 272.4,149.2 273.6,146.3 274.9,141.1 276.1,135.4 277.3,131.2 278.6,129.3 279.8,128.3 281.0,125.9 282.2,121.8 283.5,117.4 284.7,113.6 285.9,109.7 287.1,104.9 288.4,100.0 289.6,96.8 290.8,95.2 292.0,93.9 293.3,91.5 294.5,88.7 295.7,87.8 297.0,90.0 298.2,94.1 299.4,98.7 300.6,102.2 301.9,106.2 303.1,111.8 304.3,118.0 305.5,123.0 306.8,126.9 308.0,130.5 309.2,134.8 310.4,139.2 311.7,141.8 312.9,142.0 314.1,141.7 315.4,143.1 316.6,145.6 317.8,147.0 319.0,146.6 320.3,145.6 321.5,145.7 322.7,147.0 323.9,148.0 325.2,147.9 326.4,147.8 327.6,149.2 328.8,152.1 330.1,154.5 331.3,154.7 332.5,153.9 333.8,154.1 335.0,155.9 336.2,157.8 337.4,157.8 338.7,156.4 339.9,155.6 341.1,155.9 342.3,156.1 343.6,154.8 344.8,152.1 346.0,150.0 347.2,149.3 348.5,148.9 349.7,146.9 350.9,143.5 352.2,141.0 353.4,140.4 354.6,140.6 355.8,139.6 357.1,137.2 358.3,135.2 359.5,134.8 360.7,135.0 362.0,134.1 363.2,132.0 364.4,130.3 365.6,130.5 366.9,131.5 368.1,131.3 369.3,129.5 370.6,128.0 371.8,128.4 373.0,129.9 374.2,130.6 375.5,129.6 376.7,128.5 377.9,128.8 379.1,130.7 380.4,132.3 381.6,132.5 382.8,132.2 384.0,133.1 385.3,135.0 386.5,136.1" fill="none" stroke="#119a4b" stroke-width="1.0" stroke-dasharray="5,1.5,1.2,1.5,1.2,1.5"/>
<path d="M202.5,143.5 203.7,145.9 205.0,148.4 206.2,149.4 207.4,148.9 208.6,147.9 209.9,148.0 211.1,149.5 212.3,151.9 213.5,154.3 214.8,156.1 216.0,157.7 217.2,159.2 218.4,160.7 219.7,161.6 220.9,161.8 222.1,162.1 223.4,163.4 224.6,165.6 225.8,167.5 227.0,168.1 228.3,167.4 229.5,166.4 230.7,165.9 231.9,165.7 233.2,165.0 234.4,163.3 235.6,161.1 236.8,159.8 238.1,159.6 239.3,159.9 240.5,159.2 241.8,157.5 243.0,155.6 244.2,154.4 245.4,154.3 246.7,154.4 247.9,154.3 249.1,154.0 250.3,153.9 251.6,154.0 252.8,153.6 254.0,152.1 255.2,150.1 256.5,149.0 257.7,149.7 258.9,151.8 260.2,153.7 261.4,154.1 262.6,153.0 263.8,151.6 265.1,150.8 266.3,150.7 267.5,150.5 268.7,150.1 270.0,148.8 271.2,145.9 272.4,142.2 273.6,138.3 274.9,133.4 276.1,128.3 277.3,124.4 278.6,122.3 279.8,120.8 281.0,118.5 282.2,114.2 283.5,109.0 284.7,104.1 285.9,100.4 287.1,97.5 288.4,94.1 289.6,90.4 290.8,87.8 292.0,87.2 293.3,88.7 294.5,90.8 295.7,92.3 297.0,94.8 298.2,98.5 299.4,103.3 300.6,109.2 301.9,114.7 303.1,119.6 304.3,125.0 305.5,130.6 306.8,135.0 308.0,137.6 309.2,138.2 310.4,138.1 311.7,138.8 312.9,141.2 314.1,144.1 315.4,146.0 316.6,146.4 317.8,145.9 319.0,145.6 320.3,145.6 321.5,146.0 322.7,146.6 323.9,147.6 325.2,149.5 326.4,152.0 327.6,154.1 328.8,154.5 330.1,153.4 331.3,152.0 332.5,151.9 333.8,153.4 335.0,155.2 336.2,156.0 337.4,155.8 338.7,155.2 339.9,154.8 341.1,154.6 342.3,153.6 343.6,151.4 344.8,148.9 346.0,147.3 347.2,146.6 348.5,145.6 349.7,143.4 350.9,140.4 352.2,137.8 353.4,136.1 354.6,135.0 355.8,133.9 357.1,132.4 358.3,131.3 359.5,131.2 360.7,132.0 362.0,132.7 363.2,132.2 364.4,130.6 365.6,128.8 366.9,128.1 368.1,128.6 369.3,129.3 370.6,129.5 371.8,129.2 373.0,128.7 374.2,128.3 375.5,127.8 376.7,127.0 377.9,126.8 379.1,127.8 380.4,130.4 381.6,133.5 382.8,135.6 384.0,135.8 385.3,134.6 386.5,133.2" fill="none" stroke="#119a4b" stroke-width="1.0" stroke-dasharray="3.5,2"/>
<path d="M202.5,140.8 203.7,141.9 205.0,142.8 206.2,142.4 207.4,141.4 208.6,141.5 209.9,143.8 211.1,146.9 212.3,148.8 213.5,149.1 214.8,149.7 216.0,152.0 217.2,155.5 218.4,158.1 219.7,158.6 220.9,158.1 222.1,158.4 223.4,160.1 224.6,162.0 225.8,162.5 227.0,162.0 228.3,161.7 229.5,162.6 230.7,164.2 231.9,164.8 233.2,164.3 234.4,163.4 235.6,163.4 236.8,163.6 238.1,162.7 239.3,160.5 240.5,158.0 241.8,156.6 243.0,156.2 244.2,155.5 245.4,153.6 246.7,151.2 247.9,150.0 249.1,150.4 250.3,151.3 251.6,151.1 252.8,149.7 254.0,148.7 255.2,149.5 256.5,151.5 257.7,152.5 258.9,151.7 260.2,149.9 261.4,149.3 262.6,150.2 263.8,151.2 265.1,150.7 266.3,148.6 267.5,146.9 268.7,146.7 270.0,147.5 271.2,147.4 272.4,145.1 273.6,140.5 274.9,136.5 276.1,134.3 277.3,132.1 278.6,128.7 279.8,124.7 281.0,121.2 282.2,118.5 283.5,115.3 284.7,110.3 285.9,104.1 287.1,98.6 288.4,94.8 289.6,92.2 290.8,88.8 292.0,84.7 293.3,81.9 294.5,81.9 295.7,84.3 297.0,87.1 298.2,88.8 299.4,91.5 300.6,96.0 301.9,102.5 303.1,109.3 304.3,114.2 305.5,117.4 306.8,121.0 308.0,125.7 309.2,130.2 310.4,133.1 311.7,134.0 312.9,134.3 314.1,136.0 315.4,139.3 316.6,142.1 317.8,143.0 319.0,142.6 320.3,142.6 321.5,144.0 322.7,145.8 323.9,146.7 325.2,146.6 326.4,146.4 327.6,147.2 328.8,148.6 330.1,149.3 331.3,149.1 332.5,148.9 333.8,149.6 335.0,151.2 336.2,152.3 337.4,152.2 338.7,151.7 339.9,152.1 341.1,153.6 342.3,154.7 343.6,154.1 344.8,151.8 346.0,149.3 347.2,147.9 348.5,147.1 349.7,145.1 350.9,141.2 352.2,137.2 353.4,135.0 354.6,134.6 355.8,134.1 357.1,132.2 358.3,129.6 359.5,128.1 360.7,128.7 362.0,130.0 363.2,130.2 364.4,129.0 365.6,127.7 366.9,127.6 368.1,128.4 369.3,128.5 370.6,127.3 371.8,125.6 373.0,124.6 374.2,124.7 375.5,124.7 376.7,123.8 377.9,122.8 379.1,123.0 380.4,125.0 381.6,127.4 382.8,128.6 384.0,128.9 385.3,129.6 386.5,131.5" fill="none" stroke="#119a4b" stroke-width="1.0" stroke-dasharray="1.5,1.5"/>
<path d="M202.5,150.0 203.7,150.1 205.0,150.3 206.2,150.6 207.4,151.1 208.6,151.6 209.9,152.3 211.1,152.9 212.3,153.7 213.5,155.1 214.8,156.8 216.0,158.7 217.2,160.4 218.4,161.8 219.7,163.2 220.9,164.5 222.1,165.7 223.4,166.7 224.6,167.4 225.8,168.1 227.0,168.7 228.3,169.0 229.5,169.0 230.7,168.6 231.9,168.0 233.2,167.4 234.4,166.6 235.6,165.8 236.8,164.6 238.1,163.3 239.3,161.8 240.5,160.2 241.8,158.5 243.0,156.3 244.2,154.0 245.4,152.0 246.7,150.7 247.9,149.9 249.1,149.3 250.3,148.8 251.6,148.3 252.8,147.9 254.0,147.5 255.2,147.0 256.5,146.6 257.7,146.4 258.9,146.4 260.2,146.4 261.4,146.4 262.6,146.4 263.8,146.4 265.1,146.4 266.3,146.4 267.5,146.3 268.7,146.3 270.0,146.2 271.2,146.1 272.4,144.7 273.6,142.1 274.9,139.6 276.1,137.3 277.3,134.9 278.6,132.3 279.8,129.6 281.0,126.6 282.2,123.5 283.5,120.0 284.7,116.2 285.9,111.7 287.1,107.1 288.4,102.7 289.6,98.3 290.8,94.3 292.0,91.8 293.3,90.2 294.5,88.9 295.7,87.7 297.0,88.0 298.2,89.6 299.4,91.8 300.6,94.0 301.9,97.0 303.1,100.3 304.3,103.4 305.5,106.5 306.8,109.6 308.0,112.6 309.2,115.2 310.4,117.6 311.7,119.8 312.9,121.1 314.1,121.7 315.4,122.2 316.6,122.4 317.8,122.5 319.0,122.6 320.3,122.7 321.5,123.3 322.7,124.6 323.9,126.1 325.2,127.7 326.4,129.4 327.6,131.4 328.8,133.4 330.1,135.2 331.3,136.6 332.5,138.1 333.8,139.3 335.0,140.0 336.2,140.1 337.4,140.1 338.7,139.9 339.9,139.7 341.1,139.4 342.3,138.6 343.6,137.3 344.8,135.7 346.0,134.2 347.2,132.7 348.5,131.1 349.7,129.4 350.9,127.7 352.2,125.9 353.4,124.2 354.6,122.3 355.8,120.3 357.1,118.5 358.3,116.9 359.5,115.6 360.7,114.6 362.0,113.7 363.2,112.7 364.4,111.4 365.6,110.0 366.9,108.5 368.1,107.2 369.3,106.0 370.6,105.0 371.8,104.2 373.0,103.4 374.2,102.7 375.5,102.2 376.7,102.1 377.9,102.3 379.1,103.0 380.4,103.9 381.6,105.0 382.8,106.0 384.0,107.0 385.3,108.1 386.5,109.3" fill="none" stroke="#000000" stroke-width="1.9" stroke-linejoin="round"/>
<path d="M202.5,152.0 203.7,152.1 205.0,152.4 206.2,152.8 207.4,153.4 208.6,154.1 209.9,154.8 211.1,155.7 212.3,156.6 213.5,158.2 214.8,160.2 216.0,162.2 217.2,163.8 218.4,165.1 219.7,166.3 220.9,167.4 222.1,168.3 223.4,169.0 224.6,169.7 225.8,170.2 227.0,170.6 228.3,170.7 229.5,170.4 230.7,169.8 231.9,169.0 233.2,168.1 234.4,167.3 235.6,166.2 236.8,165.0 238.1,163.7 239.3,162.4 240.5,161.1 241.8,159.9 243.0,158.7 244.2,157.4 245.4,156.2 246.7,155.1 247.9,154.3 249.1,153.7 250.3,153.2 251.6,152.8 252.8,152.4 254.0,152.0 255.2,151.8 256.5,151.6 257.7,151.5 258.9,151.5 260.2,151.6 261.4,151.7 262.6,152.0 263.8,152.2 265.1,152.4 266.3,152.6 267.5,152.6 268.7,152.3 270.0,151.5 271.2,150.4 272.4,149.1 273.6,147.7 274.9,146.0 276.1,143.9 277.3,141.5 278.6,138.9 279.8,136.0 281.0,132.5 282.2,128.5 283.5,124.1 284.7,119.5 285.9,114.8 287.1,109.7 288.4,104.2 289.6,98.7 290.8,93.4 292.0,88.4 293.3,83.3 294.5,78.6 295.7,75.0 297.0,71.6 298.2,68.7 299.4,66.9 300.6,66.8 301.9,67.9 303.1,70.0 304.3,72.5 305.5,75.2 306.8,77.8 308.0,81.2 309.2,84.7 310.4,87.6 311.7,90.1 312.9,92.3 314.1,94.0 315.4,95.2 316.6,96.0 317.8,96.8 319.0,97.6 320.3,98.8 321.5,100.6 322.7,103.1 323.9,105.9 325.2,108.7 326.4,111.2 327.6,113.7 328.8,116.2 330.1,118.6 331.3,120.9 332.5,123.3 333.8,125.1 335.0,126.0 336.2,126.6 337.4,127.0 338.7,127.5 339.9,127.8 341.1,128.0 342.3,127.6 343.6,126.6 344.8,125.2 346.0,123.8 347.2,122.2 348.5,120.1 349.7,117.8 350.9,115.5 352.2,113.6 353.4,112.2 354.6,110.9 355.8,109.7 357.1,108.6 358.3,107.6 359.5,106.6 360.7,105.7 362.0,104.8 363.2,104.0 364.4,103.0 365.6,102.0 366.9,100.9 368.1,99.8 369.3,99.0 370.6,98.3 371.8,97.6 373.0,97.1 374.2,96.8 375.5,97.0 376.7,97.9 377.9,99.1 379.1,100.4 380.4,101.7 381.6,103.0 382.8,104.4 384.0,105.9 385.3,107.6 386.5,109.3" fill="none" stroke="#ff1010" stroke-width="1.9" stroke-linejoin="round"/>
<path d="M202.5,150.7 203.7,151.0 205.0,151.5 206.2,152.0 207.4,152.6 208.6,153.3 209.9,154.1 211.1,154.8 212.3,155.7 213.5,156.8 214.8,158.2 216.0,159.7 217.2,161.3 218.4,162.9 219.7,164.3 220.9,165.6 222.1,166.7 223.4,167.4 224.6,167.9 225.8,168.4 227.0,168.7 228.3,169.0 229.5,169.0 230.7,168.7 231.9,167.9 233.2,167.0 234.4,165.9 235.6,164.9 236.8,163.4 238.1,161.7 239.3,159.9 240.5,158.0 241.8,156.3 243.0,154.8 244.2,153.8 245.4,153.0 246.7,152.3 247.9,151.6 249.1,151.1 250.3,150.6 251.6,150.4 252.8,150.3 254.0,150.3 255.2,150.3 256.5,150.3 257.7,150.3 258.9,150.3 260.2,150.3 261.4,150.3 262.6,150.3 263.8,150.4 265.1,150.8 266.3,151.4 267.5,152.0 268.7,152.7 270.0,153.1 271.2,153.3 272.4,153.2 273.6,153.2 274.9,153.0 276.1,152.8 277.3,152.5 278.6,151.9 279.8,150.7 281.0,149.1 282.2,146.4 283.5,141.4 284.7,135.0 285.9,128.1 287.1,119.7 288.4,110.0 289.6,99.3 290.8,86.2 292.0,74.3 293.3,61.4 294.5,48.6 295.7,37.9 297.0,31.2 298.2,27.2 299.4,27.2 300.6,31.8 301.9,38.4 303.1,45.2 304.3,53.7 305.5,61.7 306.8,68.7 308.0,75.0 309.2,80.0 310.4,83.7 311.7,85.5 312.9,86.9 314.1,88.4 315.4,90.0 316.6,91.1 317.8,91.9 319.0,92.5 320.3,93.1 321.5,93.7 322.7,94.4 323.9,95.0 325.2,95.7 326.4,96.5 327.6,98.0 328.8,100.2 330.1,102.7 331.3,105.7 332.5,108.6 333.8,111.3 335.0,113.8 336.2,115.6 337.4,117.0 338.7,117.8 339.9,117.7 341.1,117.1 342.3,116.3 343.6,115.2 344.8,113.3 346.0,110.6 347.2,108.0 348.5,105.3 349.7,102.5 350.9,99.6 352.2,96.5 353.4,93.4 354.6,90.4 355.8,87.9 357.1,86.1 358.3,84.3 359.5,83.0 360.7,82.7 362.0,82.9 363.2,83.2 364.4,83.5 365.6,83.7 366.9,83.3 368.1,82.4 369.3,81.5 370.6,80.7 371.8,80.2 373.0,79.8 374.2,80.0 375.5,81.5 376.7,84.0 377.9,86.9 379.1,89.6 380.4,92.8 381.6,96.2 382.8,99.4 384.0,101.5 385.3,103.0 386.5,104.0" fill="none" stroke="#1c1cff" stroke-width="1.9" stroke-linejoin="round"/>
<path d="M202.5,146.7 203.7,146.9 205.0,147.3 206.2,147.8 207.4,148.4 208.6,149.3 209.9,150.4 211.1,151.6 212.3,153.0 213.5,154.7 214.8,156.6 216.0,158.3 217.2,159.8 218.4,161.2 219.7,162.5 220.9,163.6 222.1,164.6 223.4,165.4 224.6,166.1 225.8,166.8 227.0,167.3 228.3,167.6 229.5,167.7 230.7,167.6 231.9,167.3 233.2,166.8 234.4,166.3 235.6,165.2 236.8,163.8 238.1,162.4 239.3,161.1 240.5,160.1 241.8,159.1 243.0,158.2 244.2,157.4 245.4,156.7 246.7,156.1 247.9,155.6 249.1,155.2 250.3,154.8 251.6,154.5 252.8,154.3 254.0,154.1 255.2,154.0 256.5,153.9 257.7,153.9 258.9,153.8 260.2,153.7 261.4,153.6 262.6,153.5 263.8,153.4 265.1,153.3 266.3,153.1 267.5,152.8 268.7,152.2 270.0,151.4 271.2,149.2 272.4,145.3 273.6,141.5 274.9,138.1 276.1,134.7 277.3,131.5 278.6,128.3 279.8,125.3 281.0,122.0 282.2,118.2 283.5,113.9 284.7,109.4 285.9,105.1 287.1,101.5 288.4,98.5 289.6,95.6 290.8,93.0 292.0,91.3 293.3,90.9 294.5,91.9 295.7,93.7 297.0,96.2 298.2,99.9 299.4,104.1 300.6,108.9 301.9,114.1 303.1,119.1 304.3,124.0 305.5,128.8 306.8,132.8 308.0,135.7 309.2,138.2 310.4,140.3 311.7,142.1 312.9,143.9 314.1,145.5 315.4,146.6 316.6,147.0 317.8,147.3 319.0,147.6 320.3,147.8 321.5,148.3 322.7,148.9 323.9,149.6 325.2,150.5 326.4,151.3 327.6,152.2 328.8,153.3 330.1,154.3 331.3,155.1 332.5,155.7 333.8,156.4 335.0,156.9 336.2,157.2 337.4,157.2 338.7,157.0 339.9,156.7 341.1,156.3 342.3,155.7 343.6,154.5 344.8,152.7 346.0,150.6 347.2,148.7 348.5,146.9 349.7,145.0 350.9,143.2 352.2,141.6 353.4,140.1 354.6,138.7 355.8,137.4 357.1,136.3 358.3,135.3 359.5,134.5 360.7,133.8 362.0,133.2 363.2,132.7 364.4,132.3 365.6,131.9 366.9,131.7 368.1,131.4 369.3,131.2 370.6,131.0 371.8,130.9 373.0,130.6 374.2,130.5 375.5,130.3 376.7,130.3 377.9,130.8 379.1,131.7 380.4,132.7 381.6,133.6 382.8,134.3 384.0,134.9 385.3,135.6 386.5,136.2" fill="none" stroke="#119a4b" stroke-width="1.9" stroke-linejoin="round"/></g>
<g clip-path="url(#clipe)"><path d="M202.5,359.0 203.7,361.9 205.0,367.1 206.2,372.9 207.4,377.2 208.6,378.9 209.9,379.0 211.1,379.6 212.3,381.7 213.5,384.5 214.8,386.8 216.0,388.3 217.2,389.8 218.4,392.3 219.7,395.5 220.9,398.7 222.1,401.6 223.4,404.6 224.6,408.2 225.8,411.8 227.0,414.0 228.3,413.5 229.5,411.2 230.7,410.4 231.9,412.0 233.2,414.7 234.4,416.5 235.6,416.4 236.8,415.4 238.1,414.7 239.3,415.0 240.5,415.3 241.8,414.7 243.0,413.5 244.2,412.1 245.4,410.4 246.7,408.1 247.9,405.3 249.1,403.0 250.3,402.9 251.6,404.7 252.8,407.1 254.0,407.9 255.2,406.3 256.5,403.6 257.7,401.8 258.9,401.9 260.2,403.0 261.4,403.7 262.6,403.5 263.8,403.2 265.1,403.5 266.3,404.2 267.5,404.6 268.7,404.6 270.0,405.1 271.2,406.3 272.4,407.5 273.6,407.3 274.9,405.1 276.1,402.5 277.3,401.4 278.6,402.7 279.8,405.0 281.0,406.4 282.2,405.8 283.5,404.4 284.7,403.4 285.9,402.9 287.1,402.5 288.4,401.4 289.6,399.8 290.8,398.4 292.0,396.3 293.3,392.7 294.5,386.1 295.7,379.0 297.0,374.5 298.2,372.1 299.4,369.0 300.6,363.6 301.9,357.6 303.1,353.0 304.3,349.9 305.5,349.2 306.8,350.2 308.0,351.5 309.2,352.3 310.4,353.0 311.7,354.4 312.9,356.7 314.1,359.0 315.4,361.4 316.6,364.8 317.8,369.6 319.0,374.6 320.3,378.0 321.5,379.1 322.7,379.2 323.9,380.3 325.2,383.3 326.4,387.1 327.6,389.9 328.8,391.0 330.1,391.4 331.3,392.5 332.5,394.7 333.8,397.2 335.0,399.3 336.2,401.0 337.4,402.8 338.7,404.2 339.9,404.3 341.1,402.9 342.3,401.0 343.6,400.7 344.8,402.8 346.0,405.5 347.2,405.5 348.5,402.3 349.7,398.1 350.9,394.4 352.2,391.4 353.4,388.4 354.6,384.3 355.8,379.0 357.1,373.3 358.3,368.1 359.5,363.4 360.7,359.0 362.0,354.6 363.2,349.2 364.4,342.7 365.6,340.3 366.9,337.4 368.1,332.8 369.3,327.7 370.6,323.9 371.8,322.4 373.0,322.9 374.2,323.9 375.5,325.0 376.7,326.3 377.9,329.0 379.1,332.9 380.4,334.9 381.6,334.2 382.8,332.8 384.0,332.3 385.3,331.7 386.5,330.2" fill="none" stroke="#ff1010" stroke-width="1.0" stroke-dasharray="3,1.6"/>
<path d="M202.5,354.2 203.7,356.7 205.0,357.5 206.2,356.1 207.4,355.6 208.6,358.7 209.9,364.7 211.1,369.8 212.3,371.7 213.5,372.3 214.8,374.9 216.0,380.5 217.2,386.0 218.4,388.5 219.7,388.5 220.9,389.1 222.1,391.6 223.4,394.2 224.6,394.5 225.8,393.4 227.0,394.9 228.3,401.5 229.5,410.1 230.7,414.9 231.9,414.6 233.2,412.4 234.4,411.6 235.6,412.3 236.8,411.8 238.1,408.6 239.3,405.2 240.5,404.9 241.8,407.8 243.0,410.2 244.2,409.2 245.4,406.1 246.7,404.7 247.9,406.3 249.1,408.4 250.3,407.0 251.6,402.3 252.8,397.8 254.0,396.2 255.2,396.6 256.5,395.9 257.7,393.6 258.9,392.7 260.2,396.0 261.4,401.8 262.6,405.0 263.8,403.1 265.1,398.9 266.3,397.0 267.5,398.6 268.7,400.4 270.0,399.2 271.2,396.0 272.4,394.8 273.6,397.3 274.9,400.5 276.1,400.8 277.3,398.5 278.6,397.7 279.8,400.8 281.0,405.1 282.2,405.6 283.5,401.0 284.7,395.3 285.9,393.3 287.1,394.8 288.4,395.9 289.6,394.0 290.8,391.3 292.0,391.5 293.3,393.9 294.5,394.0 295.7,387.5 297.0,376.4 298.2,368.4 299.4,365.9 300.6,364.0 301.9,356.9 303.1,346.6 304.3,339.8 305.5,338.6 306.8,340.8 308.0,342.0 309.2,340.9 310.4,340.6 311.7,344.1 312.9,349.7 314.1,353.2 315.4,351.6 316.6,348.3 317.8,348.7 319.0,354.9 320.3,362.3 321.5,366.4 322.7,367.5 323.9,369.9 325.2,375.7 326.4,381.7 327.6,383.6 328.8,381.5 330.1,380.4 331.3,383.6 332.5,389.0 333.8,391.2 335.0,388.5 336.2,385.4 337.4,386.9 338.7,393.2 339.9,399.1 341.1,400.6 342.3,399.2 343.6,399.5 344.8,402.6 346.0,404.4 347.2,401.2 348.5,394.1 349.7,388.4 350.9,388.2 352.2,390.7 353.4,389.2 354.6,382.6 355.8,375.6 357.1,372.7 358.3,372.2 359.5,369.1 360.7,361.3 362.0,352.6 363.2,347.6 364.4,345.0 365.6,337.1 366.9,326.0 368.1,316.9 369.3,313.1 370.6,316.1 371.8,320.5 373.0,320.4 374.2,315.8 375.5,312.4 376.7,314.0 377.9,317.7 379.1,318.4 380.4,316.4 381.6,315.0 382.8,316.6 384.0,320.6 385.3,322.9 386.5,320.3" fill="none" stroke="#ff1010" stroke-width="1.0" stroke-dasharray="4,1.5,1.2,1.5"/>
<path d="M202.5,343.8 203.7,339.1 205.0,340.0 206.2,345.2 207.4,352.3 208.6,357.5 209.9,359.5 211.1,360.3 212.3,362.3 213.5,366.4 214.8,371.0 216.0,373.7 217.2,374.5 218.4,375.2 219.7,377.7 220.9,381.9 222.1,386.1 223.4,388.9 224.6,390.5 225.8,392.9 227.0,397.0 228.3,401.7 229.5,404.8 230.7,404.3 231.9,401.3 233.2,400.0 234.4,402.4 235.6,406.6 236.8,409.0 238.1,407.9 239.3,405.0 240.5,403.7 241.8,406.2 243.0,410.4 244.2,412.4 245.4,409.8 246.7,403.7 247.9,397.7 249.1,395.0 250.3,395.6 251.6,396.6 252.8,396.1 254.0,393.7 255.2,391.9 256.5,392.5 257.7,394.8 258.9,396.5 260.2,395.9 261.4,393.8 262.6,392.3 263.8,392.5 265.1,393.6 266.3,393.9 267.5,393.1 268.7,392.7 270.0,394.5 271.2,397.9 272.4,400.4 273.6,399.6 274.9,395.7 276.1,391.7 277.3,390.6 278.6,392.7 279.8,395.2 281.0,395.0 282.2,392.1 283.5,389.5 284.7,390.4 285.9,395.1 287.1,400.2 288.4,401.4 289.6,397.6 290.8,391.5 292.0,387.0 293.3,385.4 294.5,384.6 295.7,381.6 297.0,374.2 298.2,365.5 299.4,360.1 300.6,357.8 301.9,354.8 303.1,348.8 304.3,341.9 305.5,337.4 306.8,334.5 308.0,333.2 309.2,332.4 310.4,331.2 311.7,330.5 312.9,332.0 314.1,336.8 315.4,343.7 316.6,349.0 317.8,350.8 319.0,350.5 320.3,351.5 321.5,355.7 322.7,361.4 323.9,365.1 325.2,365.2 326.4,363.4 327.6,363.6 328.8,368.5 330.1,376.6 331.3,383.8 332.5,386.9 333.8,386.2 335.0,385.0 336.2,386.0 337.4,388.9 338.7,391.3 339.9,391.3 341.1,389.3 342.3,388.0 343.6,389.1 344.8,392.2 346.0,395.1 347.2,396.3 348.5,396.1 349.7,394.6 350.9,392.6 352.2,389.9 353.4,385.2 354.6,378.0 355.8,370.8 357.1,366.5 358.3,365.0 359.5,363.7 360.7,359.6 362.0,352.6 363.2,345.5 364.4,340.8 365.6,336.9 366.9,329.1 368.1,321.4 369.3,312.3 370.6,303.6 371.8,299.3 373.0,300.0 374.2,303.2 375.5,305.3 376.7,305.3 377.9,305.1 379.1,306.8 380.4,311.2 381.6,316.8 382.8,318.5 384.0,314.6 385.3,309.0 386.5,306.0" fill="none" stroke="#ff1010" stroke-width="1.0" stroke-dasharray="2,1.4"/>
<path d="M202.5,345.5 203.7,349.2 205.0,347.3 206.2,344.7 207.4,347.8 208.6,356.4 209.9,364.1 211.1,365.2 212.3,361.7 213.5,361.0 214.8,367.1 216.0,376.0 217.2,381.0 218.4,380.1 219.7,378.0 220.9,380.2 222.1,386.3 223.4,391.6 224.6,393.1 225.8,393.1 227.0,395.8 228.3,401.0 229.5,404.3 230.7,404.1 231.9,403.0 233.2,403.9 234.4,406.7 235.6,407.6 236.8,404.5 238.1,400.0 239.3,399.3 240.5,403.2 241.8,407.0 243.0,405.5 244.2,399.6 245.4,394.9 246.7,395.5 247.9,399.2 249.1,399.8 250.3,395.2 251.6,389.0 252.8,386.9 254.0,390.1 255.2,393.8 256.5,393.7 257.7,390.4 258.9,387.9 260.2,388.9 261.4,391.4 262.6,392.5 263.8,391.6 265.1,390.9 266.3,391.7 267.5,392.7 268.7,391.9 270.0,390.3 271.2,390.4 272.4,393.0 273.6,395.4 274.9,394.4 276.1,390.5 277.3,388.2 278.6,390.3 279.8,394.7 281.0,396.3 282.2,393.0 283.5,388.2 284.7,387.1 285.9,390.1 287.1,393.2 288.4,391.9 289.6,386.8 290.8,381.9 292.0,380.0 293.3,379.4 294.5,376.2 295.7,368.9 297.0,361.5 298.2,356.1 299.4,351.0 300.6,343.7 301.9,336.4 303.1,332.7 304.3,331.1 305.5,329.7 306.8,327.2 308.0,324.9 309.2,325.4 310.4,329.5 311.7,334.6 312.9,337.8 314.1,338.0 315.4,338.0 316.6,341.4 317.8,348.5 319.0,355.1 320.3,357.8 321.5,357.3 322.7,357.8 323.9,361.8 325.2,367.7 326.4,372.2 327.6,373.9 328.8,374.3 330.1,375.5 331.3,377.9 332.5,380.5 333.8,382.5 335.0,384.2 336.2,385.8 337.4,386.9 338.7,387.0 339.9,387.2 341.1,388.8 342.3,392.1 343.6,394.7 344.8,394.5 346.0,391.8 347.2,388.7 348.5,387.0 349.7,386.8 350.9,385.2 352.2,379.3 353.4,371.0 354.6,364.6 355.8,361.7 357.1,360.0 358.3,356.3 359.5,349.6 360.7,342.2 362.0,336.5 363.2,331.5 364.4,322.6 365.6,314.5 366.9,309.4 368.1,305.1 369.3,301.6 370.6,298.7 371.8,296.8 373.0,296.8 374.2,298.5 375.5,300.4 376.7,300.8 377.9,300.4 379.1,302.7 380.4,306.9 381.6,309.1 382.8,307.7 384.0,303.9 385.3,300.4 386.5,300.0" fill="none" stroke="#ff1010" stroke-width="1.0" stroke-dasharray="5,1.5,1.2,1.5,1.2,1.5"/>
<path d="M202.5,331.9 203.7,332.2 205.0,329.3 206.2,330.0 207.4,337.5 208.6,347.6 209.9,352.7 211.1,351.0 212.3,348.1 213.5,350.1 214.8,357.1 216.0,363.8 217.2,366.7 218.4,368.2 219.7,371.9 220.9,377.1 222.1,379.6 223.4,377.6 224.6,375.7 225.8,380.0 227.0,391.1 228.3,400.8 229.5,401.6 230.7,395.3 231.9,390.7 233.2,392.7 234.4,398.4 235.6,401.1 236.8,398.8 238.1,395.5 239.3,395.2 240.5,396.9 241.8,396.2 243.0,392.0 244.2,388.9 245.4,390.5 246.7,394.4 247.9,394.8 249.1,388.8 250.3,381.2 251.6,378.6 252.8,381.8 254.0,385.5 255.2,384.6 256.5,380.5 257.7,378.7 258.9,381.7 260.2,385.5 261.4,385.1 262.6,380.6 263.8,377.6 265.1,380.0 266.3,385.2 267.5,387.5 268.7,385.1 270.0,381.6 271.2,381.5 272.4,384.0 273.6,385.0 274.9,382.6 276.1,380.5 277.3,382.4 278.6,387.3 279.8,389.4 281.0,385.2 282.2,378.5 283.5,376.0 284.7,380.0 285.9,385.7 287.1,386.7 288.4,382.2 289.6,376.5 290.8,373.5 292.0,371.9 293.3,368.6 294.5,362.6 295.7,356.0 297.0,352.7 298.2,350.5 299.4,343.1 300.6,329.3 301.9,316.7 303.1,313.3 304.3,316.2 305.5,318.4 306.8,316.1 308.0,311.5 309.2,309.6 310.4,312.0 311.7,316.1 312.9,319.6 314.1,322.6 315.4,327.0 316.6,332.8 317.8,337.6 319.0,339.3 320.3,339.2 321.5,341.4 322.7,347.4 323.9,354.5 325.2,358.5 326.4,359.1 327.6,359.8 328.8,363.0 330.1,367.5 331.3,370.0 332.5,369.7 333.8,369.6 335.0,372.4 336.2,377.1 337.4,380.4 338.7,380.4 339.9,378.8 341.1,378.7 342.3,380.8 343.6,383.2 344.8,384.3 346.0,384.7 347.2,384.9 348.5,383.2 349.7,378.4 350.9,371.0 352.2,363.2 353.4,358.6 354.6,357.8 355.8,357.0 357.1,351.9 358.3,342.6 359.5,333.1 360.7,326.5 362.0,322.8 363.2,318.3 364.4,308.6 365.6,299.3 366.9,294.7 368.1,289.8 369.3,283.5 370.6,277.4 371.8,274.9 373.0,277.5 374.2,282.3 375.5,285.1 376.7,284.1 377.9,281.8 379.1,283.5 380.4,287.9 381.6,289.6 382.8,288.0 384.0,286.2 385.3,286.1 386.5,287.1" fill="none" stroke="#ff1010" stroke-width="1.0" stroke-dasharray="3.5,2"/>
<path d="M202.5,326.0 203.7,326.7 205.0,328.1 206.2,331.2 207.4,335.7 208.6,340.8 209.9,345.4 211.1,348.8 212.3,351.0 213.5,352.7 214.8,355.3 216.0,359.4 217.2,364.4 218.4,368.3 219.7,369.9 220.9,370.0 222.1,371.1 223.4,375.3 224.6,381.9 225.8,387.9 227.0,391.3 228.3,391.9 229.5,391.3 230.7,392.6 231.9,396.2 233.2,398.9 234.4,398.2 235.6,394.6 236.8,391.4 238.1,391.3 239.3,393.8 240.5,396.4 241.8,396.7 243.0,394.5 244.2,391.9 245.4,389.7 246.7,388.1 247.9,386.5 249.1,384.7 250.3,383.0 251.6,381.6 252.8,380.2 254.0,379.1 255.2,379.0 256.5,380.4 257.7,382.5 258.9,383.4 260.2,381.9 261.4,378.8 262.6,376.9 263.8,378.1 265.1,381.5 266.3,383.8 267.5,382.8 268.7,379.6 270.0,378.0 271.2,380.2 272.4,384.6 273.6,387.1 274.9,385.3 276.1,380.9 277.3,377.8 278.6,378.5 279.8,381.5 281.0,383.6 282.2,382.7 283.5,380.2 284.7,378.8 285.9,379.3 287.1,380.4 288.4,380.1 289.6,377.8 290.8,374.6 292.0,370.7 293.3,366.1 294.5,359.8 295.7,352.2 297.0,346.7 298.2,343.4 299.4,338.6 300.6,329.3 301.9,318.9 303.1,313.2 304.3,311.8 305.5,312.4 306.8,312.0 308.0,309.1 309.2,305.9 310.4,306.0 311.7,310.9 312.9,318.9 314.1,325.0 315.4,326.8 316.6,326.5 317.8,328.8 319.0,335.1 320.3,342.5 321.5,347.1 322.7,347.7 323.9,347.3 325.2,349.1 326.4,353.9 327.6,359.7 328.8,363.8 330.1,365.9 331.3,367.3 332.5,369.1 333.8,371.0 335.0,372.3 336.2,373.2 337.4,374.8 338.7,377.2 339.9,378.9 341.1,378.7 342.3,377.7 343.6,378.3 344.8,382.0 346.0,386.3 347.2,386.5 348.5,380.3 349.7,371.7 350.9,366.3 352.2,364.5 353.4,363.2 354.6,358.3 355.8,349.1 357.1,339.4 358.3,333.6 359.5,332.2 360.7,331.3 362.0,326.7 363.2,316.8 364.4,301.6 365.6,290.6 366.9,287.2 368.1,285.0 369.3,281.5 370.6,277.2 371.8,273.8 373.0,273.0 374.2,274.1 375.5,276.3 376.7,278.9 377.9,281.8 379.1,286.1 380.4,288.4 381.6,285.6 382.8,280.5 384.0,278.5 385.3,280.3 386.5,283.4" fill="none" stroke="#ff1010" stroke-width="1.0" stroke-dasharray="1.5,1.5"/>
<path d="M202.5,391.4 203.7,394.3 205.0,398.9 206.2,403.2 207.4,405.4 208.6,405.5 209.9,404.9 211.1,405.8 212.3,409.2 213.5,414.5 214.8,420.1 216.0,424.6 217.2,427.5 218.4,429.4 219.7,431.4 220.9,434.0 222.1,436.3 223.4,437.4 224.6,437.7 225.8,437.8 227.0,437.6 228.3,436.2 229.5,433.4 230.7,429.0 231.9,423.5 233.2,417.9 234.4,413.9 235.6,412.3 236.8,411.5 238.1,409.5 239.3,405.2 240.5,398.8 241.8,392.0 243.0,387.0 244.2,384.5 245.4,382.8 246.7,380.9 247.9,379.3 249.1,377.5 250.3,375.5 251.6,374.7 252.8,375.9 254.0,378.3 255.2,380.9 256.5,383.0 257.7,385.0 258.9,387.0 260.2,388.4 261.4,388.6 262.6,387.4 263.8,385.0 265.1,381.5 266.3,377.1 267.5,374.2 268.7,373.1 270.0,371.2 271.2,367.4 272.4,362.9 273.6,359.6 274.9,358.9 276.1,360.6 277.3,362.7 278.6,362.9 279.8,360.9 281.0,358.1 282.2,356.6 283.5,357.2 284.7,362.5 285.9,370.2 287.1,376.0 288.4,380.7 289.6,384.4 290.8,387.1 292.0,389.8 293.3,391.9 294.5,392.5 295.7,392.0 297.0,391.5 298.2,391.9 299.4,393.2 300.6,394.4 301.9,393.9 303.1,391.4 304.3,387.9 305.5,385.7 306.8,386.4 308.0,389.9 309.2,394.0 310.4,396.6 311.7,396.6 312.9,394.9 314.1,393.4 315.4,393.6 316.6,395.2 317.8,396.9 319.0,397.4 320.3,396.3 321.5,394.7 322.7,393.6 323.9,393.9 325.2,395.2 326.4,396.9 327.6,398.7 328.8,400.7 330.1,403.3 331.3,406.1 332.5,407.9 333.8,407.6 335.0,405.3 336.2,402.3 337.4,400.7 338.7,401.5 339.9,404.2 341.1,406.8 342.3,407.5 343.6,405.9 344.8,403.4 346.0,402.2 347.2,402.9 348.5,404.8 349.7,405.9 350.9,404.1 352.2,399.8 353.4,394.0 354.6,388.4 355.8,383.9 357.1,380.1 358.3,376.7 359.5,373.9 360.7,371.9 362.0,370.9 363.2,370.7 364.4,370.5 365.6,369.6 366.9,367.7 368.1,365.6 369.3,364.7 370.6,365.3 371.8,366.4 373.0,366.3 374.2,363.9 375.5,359.7 376.7,355.8 377.9,354.3 379.1,355.9 380.4,359.4 381.6,362.5 382.8,363.4 384.0,362.3 385.3,360.4 386.5,359.4" fill="none" stroke="#1c1cff" stroke-width="1.0" stroke-dasharray="3,1.6"/>
<path d="M202.5,382.3 203.7,383.2 205.0,389.0 206.2,395.5 207.4,398.6 208.6,398.5 209.9,399.8 211.1,405.2 212.3,412.7 213.5,417.4 214.8,417.6 216.0,416.5 217.2,418.6 218.4,424.7 219.7,430.6 220.9,432.8 222.1,431.6 223.4,430.4 224.6,432.6 225.8,436.4 227.0,436.9 228.3,432.0 229.5,425.3 230.7,421.6 231.9,421.9 233.2,422.1 234.4,418.4 235.6,411.8 236.8,405.6 238.1,402.3 239.3,400.6 240.5,396.9 241.8,389.9 243.0,382.4 244.2,377.9 245.4,376.1 246.7,374.3 247.9,371.7 249.1,369.2 250.3,367.7 251.6,368.9 252.8,371.6 254.0,373.3 255.2,373.0 256.5,372.5 257.7,374.4 258.9,378.7 260.2,382.4 261.4,383.3 262.6,382.2 263.8,381.2 265.1,380.5 266.3,377.3 267.5,371.8 268.7,365.8 270.0,360.4 271.2,356.9 272.4,355.6 273.6,355.1 274.9,353.8 276.1,351.7 277.3,349.7 278.6,348.3 279.8,347.7 281.0,347.8 282.2,349.3 283.5,351.9 284.7,357.4 285.9,365.7 287.1,372.2 288.4,377.3 289.6,381.1 290.8,382.9 292.0,383.6 293.3,383.6 294.5,383.1 295.7,382.6 297.0,382.8 298.2,383.0 299.4,383.1 300.6,383.8 301.9,385.3 303.1,387.2 304.3,388.0 305.5,387.4 306.8,386.1 308.0,385.7 309.2,386.9 310.4,388.7 311.7,389.5 312.9,388.9 314.1,388.3 315.4,389.0 316.6,390.4 317.8,390.8 319.0,389.0 320.3,386.7 321.5,386.3 322.7,388.5 323.9,391.6 325.2,393.0 326.4,392.6 327.6,392.7 328.8,395.1 330.1,398.7 331.3,400.6 332.5,399.4 333.8,397.1 335.0,397.0 336.2,399.9 337.4,403.1 338.7,403.5 339.9,401.3 341.1,399.5 342.3,400.5 343.6,403.1 344.8,403.4 346.0,399.8 347.2,395.1 348.5,392.9 349.7,394.3 350.9,395.5 352.2,393.2 353.4,387.7 354.6,382.8 355.8,381.3 357.1,381.3 358.3,378.8 359.5,372.7 360.7,366.0 362.0,362.9 363.2,364.1 364.4,365.6 365.6,363.4 366.9,358.1 368.1,354.0 369.3,354.1 370.6,356.6 371.8,356.9 373.0,353.3 374.2,349.1 375.5,348.9 376.7,353.1 377.9,357.3 379.1,357.3 380.4,353.6 381.6,351.0 382.8,352.4 384.0,355.7 385.3,356.4 386.5,352.7" fill="none" stroke="#1c1cff" stroke-width="1.0" stroke-dasharray="4,1.5,1.2,1.5"/>
<path d="M202.5,379.9 203.7,381.1 205.0,383.9 206.2,387.9 207.4,392.2 208.6,395.9 209.9,398.7 211.1,400.6 212.3,402.3 213.5,404.5 214.8,407.8 216.0,412.1 217.2,416.9 218.4,421.1 219.7,424.2 220.9,426.7 222.1,429.0 223.4,431.0 224.6,433.0 225.8,435.0 227.0,436.0 228.3,434.2 229.5,429.8 230.7,424.0 231.9,418.5 233.2,413.9 234.4,410.1 235.6,407.2 236.8,404.3 238.1,400.3 239.3,395.2 240.5,389.6 241.8,384.1 243.0,379.3 244.2,375.8 245.4,372.9 246.7,369.6 247.9,367.0 249.1,366.2 250.3,365.1 251.6,364.0 252.8,363.5 254.0,364.6 255.2,366.8 256.5,369.2 257.7,371.0 258.9,372.1 260.2,372.2 261.4,371.9 262.6,372.1 263.8,373.3 265.1,374.8 266.3,373.1 267.5,368.5 268.7,363.2 270.0,358.1 271.2,353.0 272.4,349.2 273.6,347.3 274.9,346.9 276.1,346.8 277.3,345.9 278.6,343.6 279.8,340.5 281.0,338.3 282.2,338.5 283.5,341.3 284.7,346.4 285.9,355.2 287.1,363.1 288.4,368.5 289.6,372.5 290.8,375.1 292.0,376.7 293.3,378.6 294.5,380.3 295.7,381.1 297.0,380.9 298.2,379.7 299.4,377.9 300.6,376.8 301.9,377.0 303.1,378.6 304.3,381.0 305.5,383.1 306.8,384.2 308.0,383.9 309.2,382.4 310.4,380.8 311.7,379.8 312.9,380.1 314.1,381.4 315.4,383.1 316.6,384.5 317.8,385.0 319.0,384.8 320.3,384.5 321.5,384.6 322.7,385.5 323.9,386.9 325.2,388.4 326.4,389.2 327.6,389.2 328.8,388.8 330.1,388.6 331.3,389.4 332.5,391.4 333.8,394.3 335.0,397.0 336.2,398.6 337.4,398.5 338.7,397.1 339.9,395.3 341.1,394.2 342.3,394.1 343.6,395.2 344.8,396.4 346.0,397.1 347.2,396.7 348.5,394.9 349.7,392.4 350.9,389.5 352.2,386.9 353.4,384.6 354.6,382.0 355.8,378.5 357.1,373.6 358.3,368.2 359.5,363.2 360.7,360.0 362.0,358.4 363.2,358.0 364.4,357.7 365.6,356.8 366.9,354.8 368.1,351.8 369.3,348.6 370.6,346.2 371.8,345.3 373.0,345.8 374.2,347.0 375.5,348.1 376.7,348.3 377.9,347.5 379.1,346.3 380.4,345.4 381.6,345.1 382.8,345.3 384.0,345.6 385.3,345.2 386.5,344.2" fill="none" stroke="#1c1cff" stroke-width="1.0" stroke-dasharray="2,1.4"/>
<path d="M202.5,383.9 203.7,388.2 205.0,390.0 206.2,389.4 207.4,389.4 208.6,392.8 209.9,399.2 211.1,405.4 212.3,408.4 213.5,408.7 214.8,409.7 216.0,413.8 217.2,420.1 218.4,425.3 219.7,427.2 220.9,427.1 222.1,427.9 223.4,431.0 224.6,435.3 225.8,437.0 227.0,433.5 228.3,426.9 229.5,421.9 230.7,420.7 231.9,421.3 233.2,418.6 234.4,411.4 235.6,402.4 236.8,395.5 238.1,392.7 239.3,391.9 240.5,389.3 241.8,383.3 243.0,376.2 244.2,371.2 245.4,368.4 246.7,367.0 247.9,366.2 249.1,364.4 250.3,362.7 251.6,363.5 252.8,366.7 254.0,369.6 255.2,369.9 256.5,368.3 257.7,368.2 258.9,370.9 260.2,374.6 261.4,376.7 262.6,375.8 263.8,373.1 265.1,369.5 266.3,365.8 267.5,363.0 268.7,360.2 270.0,355.3 271.2,350.4 272.4,348.1 273.6,348.2 274.9,348.3 276.1,346.0 277.3,341.5 278.6,338.0 279.8,338.2 281.0,342.1 282.2,346.2 283.5,347.9 284.7,350.9 285.9,356.0 287.1,362.6 288.4,371.1 289.6,377.4 290.8,378.7 292.0,377.3 293.3,376.4 294.5,377.5 295.7,380.1 297.0,381.6 298.2,380.6 299.4,378.7 300.6,378.4 301.9,380.5 303.1,383.0 304.3,383.4 305.5,381.3 306.8,378.9 308.0,378.5 309.2,380.5 310.4,383.1 311.7,383.9 312.9,382.6 314.1,381.0 315.4,380.9 316.6,382.7 317.8,384.9 319.0,386.0 320.3,386.0 321.5,385.8 322.7,386.4 323.9,387.4 325.2,388.1 326.4,388.4 327.6,389.1 328.8,390.8 330.1,392.8 331.3,393.9 332.5,393.4 333.8,392.2 335.0,392.0 336.2,393.7 337.4,396.1 338.7,397.7 339.9,397.5 341.1,396.5 342.3,396.3 343.6,397.2 344.8,398.1 346.0,397.5 347.2,394.9 348.5,391.9 349.7,389.8 350.9,388.2 352.2,386.0 353.4,381.8 354.6,376.3 355.8,371.3 357.1,368.4 358.3,367.0 359.5,365.5 360.7,362.3 362.0,357.8 363.2,354.1 364.4,352.7 365.6,352.9 366.9,353.0 368.1,351.7 369.3,349.6 370.6,348.2 371.8,347.7 373.0,347.5 374.2,346.7 375.5,345.4 376.7,344.8 377.9,345.4 379.1,346.5 380.4,346.4 381.6,344.7 382.8,342.5 384.0,342.0 385.3,343.6 386.5,345.6" fill="none" stroke="#1c1cff" stroke-width="1.0" stroke-dasharray="5,1.5,1.2,1.5,1.2,1.5"/>
<path d="M202.5,379.3 203.7,376.8 205.0,375.8 206.2,376.7 207.4,379.6 208.6,383.6 209.9,388.1 211.1,392.8 212.3,397.3 213.5,401.2 214.8,404.2 216.0,406.3 217.2,407.9 218.4,409.4 219.7,412.4 220.9,417.7 222.1,424.4 223.4,429.8 224.6,431.4 225.8,430.1 227.0,429.3 228.3,430.5 229.5,430.7 230.7,427.5 231.9,421.7 233.2,417.0 234.4,415.1 235.6,413.3 236.8,408.3 238.1,400.0 239.3,391.9 240.5,387.9 241.8,387.3 243.0,385.3 244.2,379.0 245.4,370.7 246.7,364.9 247.9,361.8 249.1,359.8 250.3,358.1 251.6,356.2 252.8,356.9 254.0,361.1 255.2,365.4 256.5,365.7 257.7,362.2 258.9,359.1 260.2,360.5 261.4,365.0 262.6,368.4 263.8,369.3 265.1,369.2 266.3,370.3 267.5,369.4 268.7,364.0 270.0,355.8 271.2,348.4 272.4,343.6 273.6,342.3 274.9,342.9 276.1,343.0 277.3,341.4 278.6,338.7 279.8,335.7 281.0,333.1 282.2,331.8 283.5,332.5 284.7,334.9 285.9,338.2 287.1,345.4 288.4,353.7 289.6,360.0 290.8,365.0 292.0,367.7 293.3,368.9 294.5,371.4 295.7,375.3 297.0,377.9 298.2,377.1 299.4,373.6 300.6,370.7 301.9,371.2 303.1,374.2 304.3,376.4 305.5,376.2 306.8,375.8 308.0,377.4 309.2,380.1 310.4,380.0 311.7,375.7 312.9,370.7 314.1,370.0 315.4,374.3 316.6,379.6 317.8,381.4 319.0,380.1 320.3,379.4 321.5,381.2 322.7,383.1 323.9,382.0 325.2,378.5 326.4,377.1 327.6,380.5 328.8,386.3 330.1,389.8 331.3,388.9 332.5,386.3 333.8,385.9 335.0,388.1 336.2,390.1 337.4,390.0 338.7,388.9 339.9,389.3 341.1,391.7 342.3,393.9 343.6,393.9 344.8,392.3 346.0,391.2 347.2,391.8 348.5,393.4 349.7,393.4 350.9,391.1 352.2,386.8 353.4,381.4 354.6,376.5 355.8,372.8 357.1,370.2 358.3,367.9 359.5,365.0 360.7,361.8 362.0,359.2 363.2,357.0 364.4,353.7 365.6,348.7 366.9,343.4 368.1,340.7 369.3,342.1 370.6,345.5 371.8,346.9 373.0,344.8 374.2,341.4 375.5,339.8 376.7,340.1 377.9,339.6 379.1,336.7 380.4,334.0 381.6,334.7 382.8,338.7 384.0,341.9 385.3,340.6 386.5,336.2" fill="none" stroke="#1c1cff" stroke-width="1.0" stroke-dasharray="3.5,2"/>
<path d="M202.5,371.4 203.7,372.5 205.0,374.9 206.2,378.5 207.4,382.7 208.6,386.3 209.9,389.1 211.1,391.3 212.3,393.9 213.5,397.7 214.8,403.0 216.0,409.2 217.2,414.9 218.4,418.8 219.7,420.5 220.9,420.9 222.1,421.5 223.4,422.9 224.6,424.6 225.8,426.7 227.0,428.2 228.3,427.5 229.5,424.6 230.7,421.1 231.9,418.2 233.2,416.3 234.4,413.6 235.6,409.3 236.8,403.1 238.1,395.2 239.3,387.1 240.5,380.4 241.8,375.8 243.0,372.7 244.2,369.9 245.4,366.4 246.7,360.9 247.9,355.2 249.1,352.6 250.3,352.6 251.6,353.7 252.8,355.2 254.0,356.7 255.2,357.9 256.5,358.9 257.7,360.1 258.9,362.6 260.2,365.7 261.4,368.1 262.6,368.9 263.8,368.0 265.1,365.5 266.3,360.6 267.5,353.5 268.7,347.7 270.0,344.9 271.2,343.0 272.4,341.1 273.6,339.2 274.9,337.4 276.1,336.1 277.3,335.1 278.6,334.1 279.8,332.6 281.0,330.8 282.2,329.7 283.5,329.8 284.7,331.5 285.9,337.9 287.1,347.1 288.4,354.7 289.6,361.3 290.8,365.6 292.0,367.1 293.3,367.5 294.5,367.9 295.7,368.5 297.0,369.7 298.2,371.2 299.4,372.3 300.6,373.0 301.9,373.6 303.1,374.4 304.3,375.3 305.5,375.9 306.8,375.7 308.0,374.3 309.2,372.1 310.4,369.7 311.7,368.1 312.9,368.1 314.1,369.9 315.4,372.6 316.6,375.4 317.8,377.3 319.0,378.3 320.3,378.7 321.5,379.0 322.7,379.6 323.9,380.4 325.2,381.1 326.4,381.4 327.6,381.2 328.8,381.2 330.1,381.7 331.3,382.9 332.5,384.6 333.8,386.1 335.0,386.8 336.2,386.6 337.4,385.8 338.7,385.4 339.9,386.0 341.1,387.8 342.3,390.3 343.6,392.5 344.8,393.8 346.0,393.7 347.2,392.7 348.5,390.7 349.7,388.0 350.9,384.7 352.2,380.2 353.4,375.2 354.6,369.9 355.8,365.1 357.1,361.0 358.3,357.9 359.5,355.8 360.7,354.4 362.0,353.1 363.2,351.0 364.4,348.3 365.6,345.5 366.9,343.2 368.1,341.5 369.3,340.2 370.6,339.0 371.8,337.7 373.0,336.4 374.2,335.4 375.5,334.9 376.7,334.6 377.9,334.3 379.1,333.6 380.4,332.5 381.6,331.2 382.8,330.2 384.0,330.2 385.3,331.2 386.5,333.0" fill="none" stroke="#1c1cff" stroke-width="1.0" stroke-dasharray="1.5,1.5"/>
<path d="M202.5,383.8 203.7,382.9 205.0,380.6 206.2,380.2 207.4,382.5 208.6,385.7 209.9,387.6 211.1,388.7 212.3,390.5 213.5,393.6 214.8,396.4 216.0,398.0 217.2,399.2 218.4,401.0 219.7,403.2 220.9,403.7 222.1,402.2 223.4,400.7 224.6,401.9 225.8,405.5 227.0,408.5 228.3,408.7 229.5,407.3 230.7,406.9 231.9,408.0 233.2,408.6 234.4,406.4 235.6,401.7 236.8,396.5 238.1,392.9 239.3,390.9 240.5,389.4 241.8,387.8 243.0,387.6 244.2,390.1 245.4,393.7 246.7,396.1 247.9,397.7 249.1,400.9 250.3,404.6 251.6,406.1 252.8,404.3 254.0,400.8 255.2,399.0 256.5,400.4 257.7,402.9 258.9,403.5 260.2,402.0 261.4,401.2 262.6,402.9 263.8,406.0 265.1,407.9 266.3,407.5 267.5,406.4 268.7,406.1 270.0,406.0 271.2,405.0 272.4,403.4 273.6,403.1 274.9,404.6 276.1,406.2 277.3,406.2 278.6,405.0 279.8,405.4 281.0,408.3 282.2,411.7 283.5,412.2 284.7,409.7 285.9,407.1 287.1,407.1 288.4,409.1 289.6,410.2 290.8,409.1 292.0,407.5 293.3,407.7 294.5,409.6 295.7,411.2 297.0,411.5 298.2,411.3 299.4,411.7 300.6,412.0 301.9,410.6 303.1,407.9 304.3,406.2 305.5,406.9 306.8,408.5 308.0,408.2 309.2,405.6 310.4,403.3 311.7,403.9 312.9,406.2 314.1,407.0 315.4,404.5 316.6,400.6 317.8,398.1 319.0,397.8 320.3,397.5 321.5,395.4 322.7,392.2 323.9,390.0 325.2,388.9 326.4,387.7 327.6,385.7 328.8,383.9 330.1,383.6 331.3,384.0 332.5,382.8 333.8,379.6 335.0,376.4 336.2,375.8 337.4,377.6 338.7,378.8 339.9,377.6 341.1,376.0 342.3,377.0 343.6,380.8 344.8,384.7 346.0,386.8 347.2,387.1 348.5,387.8 349.7,389.6 350.9,392.1 352.2,393.5 353.4,394.0 354.6,394.5 355.8,394.4 357.1,392.5 358.3,388.6 359.5,384.6 360.7,382.2 362.0,381.2 363.2,379.6 364.4,375.7 365.6,370.9 366.9,368.4 368.1,369.3 369.3,371.0 370.6,370.6 371.8,368.1 373.0,366.0 374.2,366.0 375.5,366.8 376.7,366.2 377.9,364.0 379.1,361.7 380.4,360.5 381.6,359.7 382.8,358.3 384.0,356.9 385.3,357.1 386.5,359.4" fill="none" stroke="#119a4b" stroke-width="1.0" stroke-dasharray="3,1.6"/>
<path d="M202.5,376.6 203.7,377.1 205.0,373.7 206.2,371.6 207.4,374.5 208.6,380.8 209.9,385.2 211.1,385.6 212.3,384.5 213.5,385.4 214.8,388.3 216.0,390.5 217.2,390.7 218.4,391.1 219.7,394.3 220.9,398.8 222.1,400.9 223.4,398.9 224.6,396.6 225.8,398.4 227.0,404.0 228.3,408.4 229.5,407.2 230.7,402.1 231.9,397.8 233.2,397.1 234.4,397.8 235.6,396.5 236.8,392.2 238.1,388.3 239.3,387.0 240.5,387.1 241.8,385.2 243.0,382.2 244.2,382.3 245.4,387.4 246.7,393.0 247.9,394.2 249.1,391.8 250.3,390.1 251.6,392.2 252.8,397.5 254.0,400.9 255.2,399.9 256.5,397.0 257.7,396.3 258.9,398.3 260.2,400.0 261.4,399.4 262.6,398.1 263.8,398.5 265.1,400.4 266.3,400.6 267.5,398.0 268.7,395.5 270.0,396.9 271.2,401.7 272.4,405.6 273.6,404.7 274.9,400.6 276.1,398.0 277.3,399.5 278.6,402.9 279.8,404.2 281.0,402.6 282.2,400.9 283.5,401.3 284.7,402.8 285.9,403.4 287.1,402.9 288.4,403.6 289.6,406.4 290.8,409.0 292.0,408.3 293.3,404.5 294.5,401.5 295.7,402.5 297.0,406.3 298.2,408.7 299.4,407.0 300.6,403.4 301.9,401.5 303.1,402.7 304.3,404.7 305.5,405.2 306.8,404.2 308.0,403.3 309.2,403.0 310.4,402.0 311.7,399.4 312.9,396.7 314.1,396.2 315.4,397.9 316.6,398.9 317.8,396.7 319.0,392.0 320.3,388.3 321.5,387.8 322.7,389.1 323.9,388.8 325.2,385.6 326.4,381.0 327.6,377.6 328.8,376.3 330.1,375.7 331.3,374.9 332.5,374.2 333.8,374.2 335.0,374.2 336.2,372.7 337.4,369.6 338.7,367.2 339.9,367.5 341.1,370.9 342.3,374.4 343.6,375.2 344.8,373.8 346.0,373.6 347.2,376.9 348.5,382.3 349.7,386.7 350.9,388.7 352.2,389.1 353.4,389.1 354.6,389.1 355.8,387.5 357.1,384.6 358.3,381.5 359.5,379.5 360.7,377.3 362.0,373.8 363.2,369.0 364.4,365.2 365.6,364.4 366.9,366.1 368.1,367.7 369.3,366.4 370.6,362.4 371.8,358.3 373.0,356.6 374.2,357.1 375.5,357.4 376.7,356.2 377.9,354.1 379.1,352.6 380.4,352.1 381.6,351.8 382.8,351.3 384.0,351.4 385.3,352.7 386.5,354.3" fill="none" stroke="#119a4b" stroke-width="1.0" stroke-dasharray="4,1.5,1.2,1.5"/>
<path d="M202.5,365.9 203.7,368.6 205.0,371.7 206.2,374.2 207.4,376.2 208.6,378.0 209.9,379.6 211.1,380.8 212.3,381.8 213.5,383.2 214.8,385.9 216.0,389.2 217.2,391.8 218.4,392.5 219.7,391.9 220.9,391.5 222.1,392.8 223.4,395.8 224.6,399.3 225.8,401.7 227.0,402.3 228.3,401.6 229.5,399.7 230.7,396.7 231.9,393.3 233.2,390.2 234.4,388.3 235.6,387.0 236.8,385.8 238.1,384.3 239.3,382.2 240.5,379.2 241.8,377.4 243.0,378.6 244.2,382.5 245.4,386.6 246.7,389.2 247.9,390.6 249.1,391.0 250.3,390.7 251.6,391.0 252.8,391.8 254.0,392.9 255.2,394.5 256.5,396.3 257.7,397.5 258.9,397.1 260.2,395.0 261.4,392.6 262.6,391.5 263.8,392.6 265.1,395.2 266.3,397.4 267.5,398.1 268.7,397.5 270.0,396.6 271.2,396.3 272.4,396.5 273.6,396.9 274.9,397.4 276.1,398.1 277.3,399.0 278.6,399.4 279.8,398.7 281.0,397.3 282.2,396.4 283.5,397.3 284.7,400.1 285.9,403.1 287.1,404.5 288.4,403.8 289.6,401.8 290.8,400.1 292.0,399.5 293.3,399.9 294.5,400.8 295.7,401.8 297.0,402.9 298.2,403.6 299.4,403.3 300.6,401.8 301.9,399.5 303.1,397.9 304.3,398.0 305.5,399.4 306.8,400.5 308.0,399.9 309.2,397.6 310.4,395.0 311.7,393.2 312.9,392.8 314.1,392.9 315.4,392.8 316.6,392.0 317.8,390.6 319.0,388.4 320.3,385.2 321.5,381.0 322.7,377.0 323.9,374.6 325.2,374.4 326.4,375.3 327.6,375.7 328.8,374.1 330.1,371.1 331.3,368.2 332.5,366.5 333.8,366.0 335.0,365.7 336.2,365.0 337.4,364.1 338.7,363.7 339.9,364.2 341.1,365.4 342.3,366.8 343.6,368.7 344.8,372.3 346.0,377.3 347.2,381.9 348.5,384.1 349.7,384.1 350.9,382.6 352.2,381.5 353.4,381.2 354.6,380.8 355.8,379.6 357.1,377.4 358.3,374.9 359.5,371.7 360.7,368.3 362.0,364.9 363.2,362.0 364.4,359.8 365.6,358.7 366.9,358.6 368.1,358.1 369.3,356.2 370.6,353.0 371.8,349.9 373.0,348.4 374.2,348.9 375.5,350.2 376.7,351.0 377.9,350.4 379.1,348.6 380.4,346.4 381.6,344.5 382.8,342.9 384.0,341.9 385.3,342.1 386.5,343.7" fill="none" stroke="#119a4b" stroke-width="1.0" stroke-dasharray="2,1.4"/>
<path d="M202.5,363.2 203.7,362.2 205.0,362.5 206.2,366.0 207.4,370.6 208.6,372.8 209.9,372.1 211.1,371.1 212.3,372.8 213.5,376.4 214.8,379.1 216.0,379.8 217.2,380.5 218.4,384.1 219.7,389.9 220.9,394.0 222.1,393.6 223.4,390.0 224.6,388.1 225.8,390.5 227.0,395.1 228.3,397.1 229.5,394.7 230.7,391.1 231.9,390.2 233.2,392.4 234.4,393.8 235.6,390.3 236.8,382.2 238.1,374.8 239.3,372.3 240.5,373.8 241.8,374.6 243.0,373.2 244.2,372.9 245.4,376.5 246.7,382.1 247.9,386.3 249.1,387.5 250.3,386.2 251.6,385.4 252.8,387.1 254.0,388.9 255.2,388.4 256.5,386.4 257.7,386.4 258.9,390.0 260.2,394.5 261.4,395.5 262.6,391.8 263.8,387.2 265.1,386.4 266.3,389.8 267.5,393.2 268.7,393.0 270.0,389.9 271.2,388.5 272.4,391.3 273.6,396.1 274.9,398.1 276.1,395.6 277.3,391.3 278.6,389.6 279.8,391.5 281.0,394.1 282.2,394.8 283.5,394.0 284.7,394.5 285.9,397.1 287.1,399.6 288.4,399.5 289.6,396.8 290.8,394.8 292.0,395.5 293.3,397.8 294.5,398.4 295.7,396.4 297.0,394.7 298.2,396.2 299.4,400.3 300.6,402.8 301.9,400.5 303.1,394.9 304.3,390.8 305.5,391.4 306.8,394.5 308.0,395.9 309.2,393.8 310.4,390.6 311.7,390.1 312.9,392.4 314.1,394.2 315.4,392.2 316.6,387.0 317.8,382.2 319.0,380.1 320.3,379.7 321.5,378.4 322.7,375.6 323.9,373.2 325.2,372.8 326.4,373.3 327.6,372.1 328.8,368.1 330.1,363.7 331.3,361.6 332.5,362.2 333.8,362.4 335.0,359.9 336.2,356.0 337.4,354.5 338.7,357.1 339.9,361.4 341.1,363.6 342.3,362.2 343.6,359.9 344.8,360.6 346.0,365.5 347.2,371.3 348.5,374.2 349.7,374.2 350.9,375.0 352.2,378.2 353.4,381.9 354.6,382.7 355.8,378.8 357.1,372.9 358.3,368.2 359.5,365.6 360.7,363.0 362.0,359.4 363.2,356.5 364.4,355.8 365.6,356.5 366.9,356.1 368.1,353.0 369.3,348.4 370.6,345.4 371.8,345.2 373.0,346.1 374.2,344.9 375.5,341.5 376.7,338.5 377.9,338.9 379.1,341.9 380.4,343.8 381.6,342.0 382.8,337.5 384.0,334.0 385.3,333.9 386.5,336.0" fill="none" stroke="#119a4b" stroke-width="1.0" stroke-dasharray="5,1.5,1.2,1.5,1.2,1.5"/>
<path d="M202.5,357.0 203.7,358.6 205.0,361.7 206.2,364.7 207.4,366.7 208.6,367.9 209.9,369.2 211.1,371.2 212.3,373.4 213.5,375.3 214.8,377.1 216.0,379.1 217.2,381.5 218.4,383.9 219.7,385.5 220.9,386.7 222.1,388.1 223.4,390.1 224.6,392.3 225.8,393.2 227.0,392.4 228.3,390.4 229.5,389.0 230.7,388.9 231.9,389.7 233.2,389.7 234.4,387.5 235.6,382.5 236.8,376.3 238.1,371.5 239.3,369.5 240.5,369.2 241.8,369.6 243.0,371.4 244.2,374.9 245.4,378.4 246.7,380.4 247.9,381.7 249.1,382.4 250.3,382.8 251.6,384.2 252.8,386.0 254.0,386.9 255.2,386.8 256.5,386.5 257.7,387.1 258.9,388.1 260.2,388.7 261.4,387.9 262.6,386.5 263.8,386.0 265.1,387.0 266.3,389.0 267.5,390.4 268.7,390.4 270.0,389.6 271.2,389.2 272.4,389.8 273.6,390.6 274.9,390.7 276.1,390.1 277.3,389.6 278.6,389.9 279.8,391.2 281.0,392.7 282.2,393.7 283.5,394.2 284.7,394.5 285.9,394.4 287.1,393.6 288.4,392.4 289.6,391.6 290.8,392.6 292.0,395.5 293.3,398.6 294.5,399.8 295.7,398.1 297.0,394.7 298.2,392.0 299.4,391.5 300.6,392.8 301.9,394.4 303.1,394.8 304.3,394.2 305.5,393.1 306.8,392.2 308.0,391.2 309.2,390.0 310.4,388.7 311.7,387.9 312.9,387.5 314.1,386.9 315.4,385.3 316.6,382.9 317.8,380.7 319.0,379.1 320.3,377.6 321.5,375.4 322.7,372.0 323.9,368.2 325.2,365.6 326.4,364.9 327.6,365.0 328.8,364.5 330.1,362.6 331.3,360.1 332.5,358.1 333.8,356.9 335.0,355.8 336.2,354.1 337.4,352.1 338.7,351.3 339.9,353.1 341.1,356.8 342.3,360.7 343.6,363.1 344.8,364.5 346.0,365.8 347.2,367.4 348.5,369.1 349.7,371.2 350.9,373.9 352.2,376.8 353.4,379.0 354.6,378.4 355.8,374.3 357.1,367.9 358.3,362.1 359.5,358.2 360.7,356.7 362.0,356.4 363.2,355.5 364.4,353.0 365.6,349.5 366.9,346.7 368.1,345.2 369.3,344.5 370.6,343.5 371.8,341.9 373.0,340.1 374.2,338.7 375.5,337.8 376.7,337.0 377.9,336.1 379.1,335.3 380.4,334.9 381.6,334.6 382.8,333.8 384.0,332.2 385.3,330.8 386.5,330.8" fill="none" stroke="#119a4b" stroke-width="1.0" stroke-dasharray="3.5,2"/>
<path d="M202.5,355.2 203.7,358.0 205.0,361.6 206.2,365.2 207.4,368.2 208.6,370.2 209.9,371.2 211.1,371.6 212.3,371.9 213.5,372.6 214.8,374.0 216.0,375.8 217.2,377.9 218.4,380.1 219.7,382.5 220.9,385.4 222.1,388.6 223.4,391.5 224.6,393.6 225.8,394.5 227.0,394.2 228.3,392.7 229.5,390.6 230.7,387.7 231.9,384.9 233.2,382.6 234.4,380.9 235.6,378.5 236.8,375.4 238.1,372.6 239.3,371.2 240.5,370.6 241.8,370.7 243.0,372.0 244.2,374.5 245.4,377.0 246.7,378.4 247.9,380.0 249.1,381.4 250.3,381.8 251.6,382.4 252.8,383.2 254.0,383.9 255.2,384.4 256.5,385.0 257.7,385.9 258.9,387.2 260.2,388.7 261.4,390.0 262.6,390.4 263.8,389.7 265.1,388.1 266.3,386.2 267.5,384.6 268.7,384.1 270.0,384.7 271.2,386.2 272.4,388.1 273.6,389.8 274.9,391.2 276.1,392.3 277.3,393.0 278.6,393.4 279.8,393.3 281.0,392.7 282.2,391.6 283.5,390.1 284.7,388.9 285.9,388.7 287.1,389.5 288.4,391.4 289.6,393.7 290.8,395.8 292.0,397.0 293.3,397.3 294.5,396.8 295.7,396.1 297.0,395.5 298.2,394.8 299.4,393.9 300.6,392.8 301.9,391.4 303.1,390.1 304.3,389.2 305.5,389.0 306.8,389.4 308.0,390.2 309.2,390.8 310.4,390.9 311.7,390.0 312.9,388.4 314.1,386.5 315.4,384.6 316.6,382.6 317.8,380.3 319.0,377.5 320.3,374.0 321.5,370.4 322.7,367.2 323.9,365.2 325.2,364.5 326.4,364.8 327.6,365.2 328.8,365.0 330.1,363.8 331.3,361.6 332.5,359.0 333.8,356.1 335.0,353.3 336.2,351.0 337.4,349.4 338.7,348.8 339.9,349.8 341.1,352.3 342.3,356.0 343.6,360.1 344.8,364.7 346.0,369.0 347.2,372.0 348.5,373.2 349.7,373.3 350.9,373.2 352.2,373.0 353.4,372.7 354.6,371.4 355.8,369.0 357.1,366.1 358.3,363.3 359.5,360.2 360.7,357.0 362.0,354.5 363.2,352.9 364.4,351.5 365.6,350.0 366.9,347.8 368.1,345.3 369.3,342.7 370.6,340.5 371.8,338.9 373.0,337.6 374.2,336.4 375.5,335.1 376.7,333.9 377.9,333.0 379.1,332.8 380.4,333.1 381.6,334.0 382.8,334.8 384.0,334.9 385.3,334.1 386.5,332.5" fill="none" stroke="#119a4b" stroke-width="1.0" stroke-dasharray="1.5,1.5"/>
<path d="M202.5,361.5 203.7,363.1 205.0,364.8 206.2,366.6 207.4,368.4 208.6,370.2 209.9,372.2 211.1,374.2 212.3,376.3 213.5,378.6 214.8,380.9 216.0,383.1 217.2,385.2 218.4,387.1 219.7,388.8 220.9,390.5 222.1,392.2 223.4,393.7 224.6,395.1 225.8,396.4 227.0,397.5 228.3,398.7 229.5,399.6 230.7,399.9 231.9,399.3 233.2,398.3 234.4,397.0 235.6,395.7 236.8,394.7 238.1,393.8 239.3,392.8 240.5,391.9 241.8,391.3 243.0,391.0 244.2,390.8 245.4,390.6 246.7,390.5 247.9,390.4 249.1,390.4 250.3,390.4 251.6,390.6 252.8,390.9 254.0,391.2 255.2,391.4 256.5,391.4 257.7,391.4 258.9,391.4 260.2,391.4 261.4,391.4 262.6,391.4 263.8,391.4 265.1,391.4 266.3,391.4 267.5,391.4 268.7,391.4 270.0,391.4 271.2,391.4 272.4,391.4 273.6,391.4 274.9,391.4 276.1,391.4 277.3,391.3 278.6,391.3 279.8,391.2 281.0,391.0 282.2,390.9 283.5,390.7 284.7,390.5 285.9,390.3 287.1,389.9 288.4,389.3 289.6,388.6 290.8,387.7 292.0,386.9 293.3,385.9 294.5,384.8 295.7,383.6 297.0,382.2 298.2,380.8 299.4,378.9 300.6,376.8 301.9,375.1 303.1,374.2 304.3,373.6 305.5,373.0 306.8,372.5 308.0,372.2 309.2,372.0 310.4,372.0 311.7,372.0 312.9,372.0 314.1,372.0 315.4,372.0 316.6,372.0 317.8,372.1 319.0,372.5 320.3,373.1 321.5,373.8 322.7,374.5 323.9,375.0 325.2,375.6 326.4,376.3 327.6,376.9 328.8,377.7 330.1,378.6 331.3,379.6 332.5,380.7 333.8,381.8 335.0,382.9 336.2,384.0 337.4,385.0 338.7,386.0 339.9,387.1 341.1,388.2 342.3,389.5 343.6,390.6 344.8,391.7 346.0,392.7 347.2,393.3 348.5,392.0 349.7,389.0 350.9,385.8 352.2,383.3 353.4,380.9 354.6,378.6 355.8,376.2 357.1,373.8 358.3,371.4 359.5,368.9 360.7,366.5 362.0,364.0 363.2,361.6 364.4,359.1 365.6,356.5 366.9,354.0 368.1,351.5 369.3,349.0 370.6,346.3 371.8,343.5 373.0,340.8 374.2,338.5 375.5,336.9 376.7,335.8 377.9,334.9 379.1,334.1 380.4,333.5 381.6,332.8 382.8,332.0 384.0,331.3 385.3,330.6 386.5,330.0" fill="none" stroke="#000000" stroke-width="1.9" stroke-linejoin="round"/>
<path d="M202.5,339.8 203.7,342.3 205.0,344.9 206.2,347.5 207.4,350.2 208.6,353.0 209.9,355.8 211.1,358.7 212.3,361.6 213.5,364.5 214.8,367.5 216.0,370.4 217.2,373.4 218.4,376.3 219.7,379.2 220.9,381.8 222.1,384.3 223.4,386.7 224.6,389.1 225.8,391.7 227.0,394.5 228.3,398.1 229.5,401.4 230.7,403.1 231.9,404.1 233.2,404.9 234.4,405.1 235.6,405.0 236.8,404.5 238.1,403.9 239.3,403.3 240.5,402.8 241.8,402.5 243.0,402.2 244.2,401.9 245.4,401.4 246.7,400.1 247.9,398.1 249.1,396.1 250.3,394.2 251.6,393.1 252.8,392.3 254.0,391.5 255.2,390.9 256.5,390.5 257.7,390.4 258.9,390.4 260.2,390.6 261.4,390.8 262.6,391.0 263.8,391.2 265.1,391.3 266.3,391.5 267.5,391.6 268.7,391.8 270.0,391.9 271.2,392.1 272.4,392.2 273.6,392.3 274.9,392.3 276.1,392.3 277.3,392.3 278.6,392.2 279.8,392.2 281.0,392.0 282.2,391.9 283.5,391.7 284.7,391.5 285.9,391.3 287.1,390.6 288.4,389.6 289.6,388.1 290.8,386.5 292.0,384.6 293.3,382.0 294.5,378.6 295.7,373.1 297.0,366.4 298.2,360.9 299.4,356.2 300.6,350.4 301.9,342.8 303.1,336.0 304.3,332.4 305.5,329.7 306.8,327.7 308.0,326.7 309.2,327.0 310.4,328.4 311.7,330.2 312.9,332.3 314.1,335.2 315.4,338.5 316.6,342.0 317.8,345.2 319.0,348.6 320.3,352.1 321.5,355.4 322.7,358.6 323.9,361.6 325.2,364.6 326.4,367.4 327.6,370.1 328.8,372.7 330.1,375.2 331.3,377.4 332.5,379.2 333.8,380.9 335.0,382.4 336.2,383.8 337.4,385.1 338.7,386.5 339.9,387.9 341.1,389.3 342.3,390.5 343.6,391.4 344.8,392.1 346.0,392.7 347.2,393.0 348.5,391.7 349.7,388.5 350.9,384.7 352.2,381.0 353.4,376.7 354.6,372.0 355.8,367.2 357.1,362.5 358.3,357.7 359.5,352.7 360.7,347.6 362.0,342.7 363.2,337.8 364.4,331.2 365.6,320.4 366.9,312.5 368.1,307.8 369.3,304.3 370.6,301.7 371.8,299.7 373.0,298.0 374.2,296.9 375.5,297.0 376.7,298.5 377.9,300.7 379.1,303.0 380.4,306.0 381.6,307.6 382.8,306.4 384.0,304.3 385.3,303.4 386.5,303.0" fill="none" stroke="#ff1010" stroke-width="1.9" stroke-linejoin="round"/>
<path d="M202.5,380.5 203.7,382.4 205.0,384.4 206.2,386.7 207.4,389.1 208.6,391.7 209.9,394.6 211.1,397.8 212.3,401.2 213.5,404.6 214.8,407.9 216.0,411.4 217.2,415.0 218.4,418.5 219.7,421.7 220.9,424.7 222.1,427.6 223.4,430.2 224.6,431.7 225.8,432.8 227.0,433.4 228.3,432.8 229.5,430.4 230.7,426.9 231.9,423.1 233.2,419.4 234.4,415.2 235.6,410.6 236.8,405.9 238.1,400.9 239.3,395.8 240.5,391.0 241.8,386.6 243.0,382.4 244.2,378.4 245.4,374.6 246.7,370.2 247.9,366.0 249.1,364.1 250.3,364.2 251.6,364.4 252.8,364.7 254.0,365.2 255.2,366.3 256.5,367.7 257.7,369.0 258.9,370.5 260.2,372.0 261.4,373.0 262.6,373.4 263.8,373.8 265.1,373.9 266.3,372.7 267.5,368.2 268.7,362.9 270.0,359.0 271.2,355.5 272.4,352.2 273.6,349.7 274.9,347.8 276.1,346.2 277.3,344.8 278.6,343.0 279.8,341.1 281.0,339.7 282.2,339.7 283.5,341.6 284.7,344.4 285.9,350.0 287.1,357.7 288.4,363.5 289.6,368.6 290.8,372.8 292.0,375.4 293.3,377.3 294.5,378.7 295.7,379.2 297.0,379.2 298.2,379.2 299.4,379.2 300.6,379.4 301.9,379.9 303.1,380.5 304.3,381.0 305.5,381.2 306.8,381.0 308.0,380.8 309.2,380.6 310.4,380.6 311.7,380.8 312.9,381.2 314.1,381.6 315.4,382.2 316.6,382.7 317.8,383.2 319.0,383.7 320.3,384.3 321.5,384.9 322.7,385.6 323.9,386.3 325.2,387.0 326.4,387.8 327.6,388.7 328.8,389.6 330.1,390.4 331.3,391.2 332.5,391.9 333.8,392.5 335.0,393.1 336.2,393.7 337.4,394.3 338.7,394.8 339.9,395.4 341.1,396.2 342.3,396.9 343.6,397.4 344.8,397.6 346.0,397.3 347.2,396.6 348.5,395.4 349.7,393.4 350.9,391.1 352.2,388.0 353.4,384.8 354.6,381.5 355.8,378.1 357.1,374.5 358.3,370.6 359.5,366.8 360.7,363.5 362.0,360.9 363.2,358.5 364.4,356.4 365.6,354.5 366.9,352.9 368.1,351.7 369.3,350.5 370.6,349.5 371.8,348.6 373.0,347.7 374.2,347.1 375.5,346.5 376.7,346.0 377.9,345.6 379.1,345.2 380.4,344.8 381.6,344.4 382.8,344.2 384.0,343.9 385.3,343.8 386.5,343.7" fill="none" stroke="#1c1cff" stroke-width="1.9" stroke-linejoin="round"/>
<path d="M202.5,366.7 203.7,367.8 205.0,368.9 206.2,370.2 207.4,371.6 208.6,373.0 209.9,374.7 211.1,376.5 212.3,378.4 213.5,380.4 214.8,382.3 216.0,384.3 217.2,386.4 218.4,388.4 219.7,390.2 220.9,391.8 222.1,393.1 223.4,394.4 224.6,395.5 225.8,396.5 227.0,397.3 228.3,398.1 229.5,398.7 230.7,398.9 231.9,397.8 233.2,395.9 234.4,393.4 235.6,391.0 236.8,388.2 238.1,384.9 239.3,381.9 240.5,379.9 241.8,378.7 243.0,378.0 244.2,378.2 245.4,380.1 246.7,382.9 247.9,385.4 249.1,388.0 250.3,390.4 251.6,391.5 252.8,392.0 254.0,392.3 255.2,392.6 256.5,392.8 257.7,393.0 258.9,393.3 260.2,393.5 261.4,393.8 262.6,394.0 263.8,394.3 265.1,394.5 266.3,394.7 267.5,394.9 268.7,395.2 270.0,395.4 271.2,395.6 272.4,395.9 273.6,396.1 274.9,396.3 276.1,396.5 277.3,396.8 278.6,397.1 279.8,397.3 281.0,397.7 282.2,398.0 283.5,398.4 284.7,398.8 285.9,399.2 287.1,399.6 288.4,399.9 289.6,400.2 290.8,400.5 292.0,400.7 293.3,401.0 294.5,401.2 295.7,401.4 297.0,401.5 298.2,401.5 299.4,401.3 300.6,400.9 301.9,400.3 303.1,399.7 304.3,399.2 305.5,398.7 306.8,398.3 308.0,397.9 309.2,397.5 310.4,397.0 311.7,396.4 312.9,395.7 314.1,394.5 315.4,393.1 316.6,391.5 317.8,389.9 319.0,388.2 320.3,386.4 321.5,384.4 322.7,382.2 323.9,380.0 325.2,377.9 326.4,376.0 327.6,374.4 328.8,372.8 330.1,371.3 331.3,369.9 332.5,368.6 333.8,367.4 335.0,366.1 336.2,364.7 337.4,363.4 338.7,362.5 339.9,362.1 341.1,362.8 342.3,364.4 343.6,366.6 344.8,368.7 346.0,371.0 347.2,373.8 348.5,376.4 349.7,378.6 350.9,380.3 352.2,382.0 353.4,383.3 354.6,383.8 355.8,382.8 357.1,380.2 358.3,377.0 359.5,374.0 360.7,371.0 362.0,367.7 363.2,364.6 364.4,362.3 365.6,360.4 366.9,358.8 368.1,357.3 369.3,355.9 370.6,354.6 371.8,353.4 373.0,352.2 374.2,351.0 375.5,349.6 376.7,348.3 377.9,347.1 379.1,346.2 380.4,345.4 381.6,344.8 382.8,344.3 384.0,343.9 385.3,343.6 386.5,343.4" fill="none" stroke="#119a4b" stroke-width="1.9" stroke-linejoin="round"/></g>
<rect x="202.50" y="7.50" width="184.00" height="197.00" fill="none" stroke="#000" stroke-width="1.0"/>
<line x1="202.50" y1="204.50" x2="208.80" y2="204.50" stroke="#000" stroke-width="1.0"/>
<line x1="386.50" y1="204.50" x2="380.20" y2="204.50" stroke="#000" stroke-width="1.0"/>
<text x="198.90" y="207.91" font-size="9.9" text-anchor="end" fill="#000" font-weight="normal" >0</text>
<line x1="202.50" y1="171.50" x2="208.80" y2="171.50" stroke="#000" stroke-width="1.0"/>
<line x1="386.50" y1="171.50" x2="380.20" y2="171.50" stroke="#000" stroke-width="1.0"/>
<text x="198.90" y="175.07" font-size="9.9" text-anchor="end" fill="#000" font-weight="normal" >5</text>
<line x1="202.50" y1="138.50" x2="208.80" y2="138.50" stroke="#000" stroke-width="1.0"/>
<line x1="386.50" y1="138.50" x2="380.20" y2="138.50" stroke="#000" stroke-width="1.0"/>
<text x="198.90" y="142.24" font-size="9.9" text-anchor="end" fill="#000" font-weight="normal" >10</text>
<line x1="202.50" y1="106.50" x2="208.80" y2="106.50" stroke="#000" stroke-width="1.0"/>
<line x1="386.50" y1="106.50" x2="380.20" y2="106.50" stroke="#000" stroke-width="1.0"/>
<text x="198.90" y="109.41" font-size="9.9" text-anchor="end" fill="#000" font-weight="normal" >15</text>
<line x1="202.50" y1="73.50" x2="208.80" y2="73.50" stroke="#000" stroke-width="1.0"/>
<line x1="386.50" y1="73.50" x2="380.20" y2="73.50" stroke="#000" stroke-width="1.0"/>
<text x="198.90" y="76.57" font-size="9.9" text-anchor="end" fill="#000" font-weight="normal" >20</text>
<line x1="202.50" y1="40.50" x2="208.80" y2="40.50" stroke="#000" stroke-width="1.0"/>
<line x1="386.50" y1="40.50" x2="380.20" y2="40.50" stroke="#000" stroke-width="1.0"/>
<text x="198.90" y="43.74" font-size="9.9" text-anchor="end" fill="#000" font-weight="normal" >25</text>
<line x1="202.50" y1="7.50" x2="208.80" y2="7.50" stroke="#000" stroke-width="1.0"/>
<line x1="386.50" y1="7.50" x2="380.20" y2="7.50" stroke="#000" stroke-width="1.0"/>
<text x="198.90" y="10.91" font-size="9.9" text-anchor="end" fill="#000" font-weight="normal" >30</text>
<line x1="202.50" y1="204.50" x2="202.50" y2="201.30" stroke="#000" stroke-width="1.0"/>
<line x1="202.50" y1="7.50" x2="202.50" y2="10.70" stroke="#000" stroke-width="1.0"/>
<line x1="233.50" y1="204.50" x2="233.50" y2="198.20" stroke="#000" stroke-width="1.0"/>
<line x1="233.50" y1="7.50" x2="233.50" y2="13.80" stroke="#000" stroke-width="1.0"/>
<line x1="263.50" y1="204.50" x2="263.50" y2="201.30" stroke="#000" stroke-width="1.0"/>
<line x1="263.50" y1="7.50" x2="263.50" y2="10.70" stroke="#000" stroke-width="1.0"/>
<line x1="294.50" y1="204.50" x2="294.50" y2="198.20" stroke="#000" stroke-width="1.0"/>
<line x1="294.50" y1="7.50" x2="294.50" y2="13.80" stroke="#000" stroke-width="1.0"/>
<line x1="325.50" y1="204.50" x2="325.50" y2="201.30" stroke="#000" stroke-width="1.0"/>
<line x1="325.50" y1="7.50" x2="325.50" y2="10.70" stroke="#000" stroke-width="1.0"/>
<line x1="355.50" y1="204.50" x2="355.50" y2="198.20" stroke="#000" stroke-width="1.0"/>
<line x1="355.50" y1="7.50" x2="355.50" y2="13.80" stroke="#000" stroke-width="1.0"/>
<line x1="386.50" y1="204.50" x2="386.50" y2="201.30" stroke="#000" stroke-width="1.0"/>
<line x1="386.50" y1="7.50" x2="386.50" y2="10.70" stroke="#000" stroke-width="1.0"/>
<text x="233.17" y="216.81" font-size="9.9" text-anchor="middle" fill="#000" font-weight="normal" >-200</text>
<text x="294.50" y="216.81" font-size="9.9" text-anchor="middle" fill="#000" font-weight="normal" >0</text>
<text x="355.83" y="216.81" font-size="9.9" text-anchor="middle" fill="#000" font-weight="normal" >200</text>
<text x="294.50" y="236.94" font-size="12.9" text-anchor="middle" fill="#000" font-weight="normal" >V (mV)</text>
<text x="0" y="0" font-size="12.9" text-anchor="middle" transform="translate(174.64,104.10) rotate(-90)">dI/dV (arb. unit)</text>
<line x1="215.20" y1="55.60" x2="231.50" y2="55.60" stroke="#000" stroke-width="2.0"/>
<text x="235.60" y="58.88" font-size="9.2" text-anchor="start" fill="#000" font-weight="normal" >average</text>
<line x1="215.20" y1="65.80" x2="231.50" y2="65.80" stroke="#ff1010" stroke-width="2.0"/>
<text x="235.60" y="69.08" font-size="9.2" text-anchor="start" fill="#000" font-weight="normal" >AA</text>
<line x1="215.20" y1="76.30" x2="231.50" y2="76.30" stroke="#1c1cff" stroke-width="2.0"/>
<text x="235.60" y="79.58" font-size="9.2" text-anchor="start" fill="#000" font-weight="normal" >AB</text>
<line x1="215.20" y1="86.70" x2="231.50" y2="86.70" stroke="#119a4b" stroke-width="2.0"/>
<text x="235.60" y="89.98" font-size="9.2" text-anchor="start" fill="#000" font-weight="normal" >AC</text>
<rect x="202.50" y="250.50" width="184.00" height="197.00" fill="none" stroke="#000" stroke-width="1.0"/>
<line x1="202.50" y1="447.50" x2="208.80" y2="447.50" stroke="#000" stroke-width="1.0"/>
<line x1="386.50" y1="447.50" x2="380.20" y2="447.50" stroke="#000" stroke-width="1.0"/>
<text x="198.90" y="450.91" font-size="9.9" text-anchor="end" fill="#000" font-weight="normal" >0</text>
<line x1="202.50" y1="414.50" x2="208.80" y2="414.50" stroke="#000" stroke-width="1.0"/>
<line x1="386.50" y1="414.50" x2="380.20" y2="414.50" stroke="#000" stroke-width="1.0"/>
<text x="198.90" y="418.07" font-size="9.9" text-anchor="end" fill="#000" font-weight="normal" >5</text>
<line x1="202.50" y1="381.50" x2="208.80" y2="381.50" stroke="#000" stroke-width="1.0"/>
<line x1="386.50" y1="381.50" x2="380.20" y2="381.50" stroke="#000" stroke-width="1.0"/>
<text x="198.90" y="385.24" font-size="9.9" text-anchor="end" fill="#000" font-weight="normal" >10</text>
<line x1="202.50" y1="349.50" x2="208.80" y2="349.50" stroke="#000" stroke-width="1.0"/>
<line x1="386.50" y1="349.50" x2="380.20" y2="349.50" stroke="#000" stroke-width="1.0"/>
<text x="198.90" y="352.41" font-size="9.9" text-anchor="end" fill="#000" font-weight="normal" >15</text>
<line x1="202.50" y1="316.50" x2="208.80" y2="316.50" stroke="#000" stroke-width="1.0"/>
<line x1="386.50" y1="316.50" x2="380.20" y2="316.50" stroke="#000" stroke-width="1.0"/>
<text x="198.90" y="319.57" font-size="9.9" text-anchor="end" fill="#000" font-weight="normal" >20</text>
<line x1="202.50" y1="283.50" x2="208.80" y2="283.50" stroke="#000" stroke-width="1.0"/>
<line x1="386.50" y1="283.50" x2="380.20" y2="283.50" stroke="#000" stroke-width="1.0"/>
<text x="198.90" y="286.74" font-size="9.9" text-anchor="end" fill="#000" font-weight="normal" >25</text>
<line x1="202.50" y1="250.50" x2="208.80" y2="250.50" stroke="#000" stroke-width="1.0"/>
<line x1="386.50" y1="250.50" x2="380.20" y2="250.50" stroke="#000" stroke-width="1.0"/>
<text x="198.90" y="253.91" font-size="9.9" text-anchor="end" fill="#000" font-weight="normal" >30</text>
<line x1="202.50" y1="447.50" x2="202.50" y2="444.30" stroke="#000" stroke-width="1.0"/>
<line x1="202.50" y1="250.50" x2="202.50" y2="253.70" stroke="#000" stroke-width="1.0"/>
<line x1="233.50" y1="447.50" x2="233.50" y2="441.20" stroke="#000" stroke-width="1.0"/>
<line x1="233.50" y1="250.50" x2="233.50" y2="256.80" stroke="#000" stroke-width="1.0"/>
<line x1="263.50" y1="447.50" x2="263.50" y2="444.30" stroke="#000" stroke-width="1.0"/>
<line x1="263.50" y1="250.50" x2="263.50" y2="253.70" stroke="#000" stroke-width="1.0"/>
<line x1="294.50" y1="447.50" x2="294.50" y2="441.20" stroke="#000" stroke-width="1.0"/>
<line x1="294.50" y1="250.50" x2="294.50" y2="256.80" stroke="#000" stroke-width="1.0"/>
<line x1="325.50" y1="447.50" x2="325.50" y2="444.30" stroke="#000" stroke-width="1.0"/>
<line x1="325.50" y1="250.50" x2="325.50" y2="253.70" stroke="#000" stroke-width="1.0"/>
<line x1="355.50" y1="447.50" x2="355.50" y2="441.20" stroke="#000" stroke-width="1.0"/>
<line x1="355.50" y1="250.50" x2="355.50" y2="256.80" stroke="#000" stroke-width="1.0"/>
<line x1="386.50" y1="447.50" x2="386.50" y2="444.30" stroke="#000" stroke-width="1.0"/>
<line x1="386.50" y1="250.50" x2="386.50" y2="253.70" stroke="#000" stroke-width="1.0"/>
<text x="233.17" y="459.81" font-size="9.9" text-anchor="middle" fill="#000" font-weight="normal" >-200</text>
<text x="294.50" y="459.81" font-size="9.9" text-anchor="middle" fill="#000" font-weight="normal" >0</text>
<text x="355.83" y="459.81" font-size="9.9" text-anchor="middle" fill="#000" font-weight="normal" >200</text>
<text x="290.10" y="479.24" font-size="12.9" text-anchor="middle" fill="#000" font-weight="normal" >V (mV)</text>
<text x="0" y="0" font-size="12.9" text-anchor="middle" transform="translate(176.34,344.10) rotate(-90)">dI/dV (arb. unit)</text>
<line x1="222.50" y1="286.80" x2="238.80" y2="286.80" stroke="#000" stroke-width="2.0"/>
<text x="242.90" y="290.08" font-size="9.2" text-anchor="start" fill="#000" font-weight="normal" >average</text>
<line x1="222.50" y1="297.20" x2="238.80" y2="297.20" stroke="#ff1010" stroke-width="2.0"/>
<text x="242.90" y="300.48" font-size="9.2" text-anchor="start" fill="#000" font-weight="normal" >AA</text>
<line x1="222.50" y1="307.70" x2="238.80" y2="307.70" stroke="#1c1cff" stroke-width="2.0"/>
<text x="242.90" y="310.98" font-size="9.2" text-anchor="start" fill="#000" font-weight="normal" >AB</text>
<line x1="222.50" y1="317.90" x2="238.80" y2="317.90" stroke="#119a4b" stroke-width="2.0"/>
<text x="242.90" y="321.18" font-size="9.2" text-anchor="start" fill="#000" font-weight="normal" >AC</text>
<rect x="458.50" y="10.50" width="53.00" height="190.00" fill="none" stroke="#000" stroke-width="1.0"/>
<line x1="458.50" y1="200.50" x2="464.00" y2="200.50" stroke="#000" stroke-width="1.0"/>
<line x1="511.50" y1="200.50" x2="506.00" y2="200.50" stroke="#000" stroke-width="1.0"/>
<text x="455.10" y="204.15" font-size="10.6" text-anchor="end" fill="#000" font-weight="normal" >0</text>
<line x1="458.50" y1="179.50" x2="464.00" y2="179.50" stroke="#000" stroke-width="1.0"/>
<line x1="511.50" y1="179.50" x2="506.00" y2="179.50" stroke="#000" stroke-width="1.0"/>
<line x1="458.50" y1="158.50" x2="464.00" y2="158.50" stroke="#000" stroke-width="1.0"/>
<line x1="511.50" y1="158.50" x2="506.00" y2="158.50" stroke="#000" stroke-width="1.0"/>
<text x="455.10" y="161.83" font-size="10.6" text-anchor="end" fill="#000" font-weight="normal" >2</text>
<line x1="458.50" y1="137.50" x2="464.00" y2="137.50" stroke="#000" stroke-width="1.0"/>
<line x1="511.50" y1="137.50" x2="506.00" y2="137.50" stroke="#000" stroke-width="1.0"/>
<line x1="458.50" y1="115.50" x2="464.00" y2="115.50" stroke="#000" stroke-width="1.0"/>
<line x1="511.50" y1="115.50" x2="506.00" y2="115.50" stroke="#000" stroke-width="1.0"/>
<text x="455.10" y="119.51" font-size="10.6" text-anchor="end" fill="#000" font-weight="normal" >4</text>
<line x1="458.50" y1="94.50" x2="464.00" y2="94.50" stroke="#000" stroke-width="1.0"/>
<line x1="511.50" y1="94.50" x2="506.00" y2="94.50" stroke="#000" stroke-width="1.0"/>
<line x1="458.50" y1="73.50" x2="464.00" y2="73.50" stroke="#000" stroke-width="1.0"/>
<line x1="511.50" y1="73.50" x2="506.00" y2="73.50" stroke="#000" stroke-width="1.0"/>
<text x="455.10" y="77.20" font-size="10.6" text-anchor="end" fill="#000" font-weight="normal" >6</text>
<line x1="458.50" y1="52.50" x2="464.00" y2="52.50" stroke="#000" stroke-width="1.0"/>
<line x1="511.50" y1="52.50" x2="506.00" y2="52.50" stroke="#000" stroke-width="1.0"/>
<line x1="458.50" y1="31.50" x2="464.00" y2="31.50" stroke="#000" stroke-width="1.0"/>
<line x1="511.50" y1="31.50" x2="506.00" y2="31.50" stroke="#000" stroke-width="1.0"/>
<text x="455.10" y="34.88" font-size="10.6" text-anchor="end" fill="#000" font-weight="normal" >8</text>
<line x1="458.50" y1="200.50" x2="458.50" y2="195.30" stroke="#000" stroke-width="1.0"/>
<line x1="458.50" y1="10.50" x2="458.50" y2="15.70" stroke="#000" stroke-width="1.0"/>
<line x1="475.50" y1="200.50" x2="475.50" y2="195.30" stroke="#000" stroke-width="1.0"/>
<line x1="475.50" y1="10.50" x2="475.50" y2="15.70" stroke="#000" stroke-width="1.0"/>
<line x1="491.50" y1="200.50" x2="491.50" y2="195.30" stroke="#000" stroke-width="1.0"/>
<line x1="491.50" y1="10.50" x2="491.50" y2="15.70" stroke="#000" stroke-width="1.0"/>
<line x1="508.50" y1="200.50" x2="508.50" y2="195.30" stroke="#000" stroke-width="1.0"/>
<line x1="508.50" y1="10.50" x2="508.50" y2="15.70" stroke="#000" stroke-width="1.0"/>
<text x="458.50" y="215.85" font-size="10.6" text-anchor="middle" fill="#000" font-weight="normal" >0.0</text>
<text x="491.62" y="215.85" font-size="10.6" text-anchor="middle" fill="#000" font-weight="normal" >0.2</text>
<text x="483.00" y="235.94" font-size="12.9" text-anchor="middle" fill="#000" font-weight="normal" >height (nm)</text>
<text x="0" y="0" font-size="12.9" text-anchor="middle" transform="translate(436.34,105.00) rotate(-90)">distance (nm)</text>
<rect x="462.50" y="255.50" width="52.00" height="191.00" fill="none" stroke="#000" stroke-width="1.0"/>
<line x1="462.50" y1="446.50" x2="468.00" y2="446.50" stroke="#000" stroke-width="1.0"/>
<line x1="514.50" y1="446.50" x2="509.00" y2="446.50" stroke="#000" stroke-width="1.0"/>
<text x="459.10" y="450.15" font-size="10.6" text-anchor="end" fill="#000" font-weight="normal" >0</text>
<line x1="462.50" y1="432.50" x2="468.00" y2="432.50" stroke="#000" stroke-width="1.0"/>
<line x1="514.50" y1="432.50" x2="509.00" y2="432.50" stroke="#000" stroke-width="1.0"/>
<line x1="462.50" y1="418.50" x2="468.00" y2="418.50" stroke="#000" stroke-width="1.0"/>
<line x1="514.50" y1="418.50" x2="509.00" y2="418.50" stroke="#000" stroke-width="1.0"/>
<text x="459.10" y="422.26" font-size="10.6" text-anchor="end" fill="#000" font-weight="normal" >2</text>
<line x1="462.50" y1="404.50" x2="468.00" y2="404.50" stroke="#000" stroke-width="1.0"/>
<line x1="514.50" y1="404.50" x2="509.00" y2="404.50" stroke="#000" stroke-width="1.0"/>
<line x1="462.50" y1="390.50" x2="468.00" y2="390.50" stroke="#000" stroke-width="1.0"/>
<line x1="514.50" y1="390.50" x2="509.00" y2="390.50" stroke="#000" stroke-width="1.0"/>
<text x="459.10" y="394.38" font-size="10.6" text-anchor="end" fill="#000" font-weight="normal" >4</text>
<line x1="462.50" y1="376.50" x2="468.00" y2="376.50" stroke="#000" stroke-width="1.0"/>
<line x1="514.50" y1="376.50" x2="509.00" y2="376.50" stroke="#000" stroke-width="1.0"/>
<line x1="462.50" y1="362.50" x2="468.00" y2="362.50" stroke="#000" stroke-width="1.0"/>
<line x1="514.50" y1="362.50" x2="509.00" y2="362.50" stroke="#000" stroke-width="1.0"/>
<text x="459.10" y="366.50" font-size="10.6" text-anchor="end" fill="#000" font-weight="normal" >6</text>
<line x1="462.50" y1="348.50" x2="468.00" y2="348.50" stroke="#000" stroke-width="1.0"/>
<line x1="514.50" y1="348.50" x2="509.00" y2="348.50" stroke="#000" stroke-width="1.0"/>
<line x1="462.50" y1="334.50" x2="468.00" y2="334.50" stroke="#000" stroke-width="1.0"/>
<line x1="514.50" y1="334.50" x2="509.00" y2="334.50" stroke="#000" stroke-width="1.0"/>
<text x="459.10" y="338.61" font-size="10.6" text-anchor="end" fill="#000" font-weight="normal" >8</text>
<line x1="462.50" y1="321.50" x2="468.00" y2="321.50" stroke="#000" stroke-width="1.0"/>
<line x1="514.50" y1="321.50" x2="509.00" y2="321.50" stroke="#000" stroke-width="1.0"/>
<line x1="462.50" y1="307.50" x2="468.00" y2="307.50" stroke="#000" stroke-width="1.0"/>
<line x1="514.50" y1="307.50" x2="509.00" y2="307.50" stroke="#000" stroke-width="1.0"/>
<text x="459.10" y="310.73" font-size="10.6" text-anchor="end" fill="#000" font-weight="normal" >10</text>
<line x1="462.50" y1="293.50" x2="468.00" y2="293.50" stroke="#000" stroke-width="1.0"/>
<line x1="514.50" y1="293.50" x2="509.00" y2="293.50" stroke="#000" stroke-width="1.0"/>
<line x1="462.50" y1="279.50" x2="468.00" y2="279.50" stroke="#000" stroke-width="1.0"/>
<line x1="514.50" y1="279.50" x2="509.00" y2="279.50" stroke="#000" stroke-width="1.0"/>
<text x="459.10" y="282.85" font-size="10.6" text-anchor="end" fill="#000" font-weight="normal" >12</text>
<line x1="462.50" y1="265.50" x2="468.00" y2="265.50" stroke="#000" stroke-width="1.0"/>
<line x1="514.50" y1="265.50" x2="509.00" y2="265.50" stroke="#000" stroke-width="1.0"/>
<line x1="462.50" y1="446.50" x2="462.50" y2="441.30" stroke="#000" stroke-width="1.0"/>
<line x1="462.50" y1="255.50" x2="462.50" y2="260.70" stroke="#000" stroke-width="1.0"/>
<line x1="478.50" y1="446.50" x2="478.50" y2="441.30" stroke="#000" stroke-width="1.0"/>
<line x1="478.50" y1="255.50" x2="478.50" y2="260.70" stroke="#000" stroke-width="1.0"/>
<line x1="495.50" y1="446.50" x2="495.50" y2="441.30" stroke="#000" stroke-width="1.0"/>
<line x1="495.50" y1="255.50" x2="495.50" y2="260.70" stroke="#000" stroke-width="1.0"/>
<line x1="511.50" y1="446.50" x2="511.50" y2="441.30" stroke="#000" stroke-width="1.0"/>
<line x1="511.50" y1="255.50" x2="511.50" y2="260.70" stroke="#000" stroke-width="1.0"/>
<text x="462.50" y="461.85" font-size="10.6" text-anchor="middle" fill="#000" font-weight="normal" >0.0</text>
<text x="495.00" y="461.85" font-size="10.6" text-anchor="middle" fill="#000" font-weight="normal" >0.2</text>
<text x="486.50" y="481.94" font-size="12.9" text-anchor="middle" fill="#000" font-weight="normal" >height (nm)</text>
<text x="0" y="0" font-size="12.9" text-anchor="middle" transform="translate(435.34,346.70) rotate(-90)">distance (nm)</text>
<path d="M495.3,200.5 496.1,199.1 496.9,197.8 497.7,196.4 498.4,195.0 499.2,193.7 500.0,192.3 500.7,190.9 501.3,189.6 501.7,188.2 502.0,186.8 502.3,185.5 502.5,184.1 502.6,182.7 502.7,181.4 502.6,180.0 502.0,178.6 500.9,177.3 499.7,175.9 498.3,174.5 496.9,173.2 495.1,171.8 493.0,170.4 490.8,169.1 488.6,167.7 486.3,166.3 483.9,165.0 481.4,163.6 479.0,162.2 477.0,160.9 475.0,159.5 473.1,158.1 471.5,156.8 470.3,155.4 469.6,154.0 469.1,152.7 468.7,151.3 468.3,149.9 468.0,148.6 467.7,147.2 467.2,145.8 466.7,144.5 466.0,143.1 465.2,141.7 464.4,140.4 463.7,139.0 463.1,137.6 462.5,136.3 461.9,134.9 461.3,133.5 460.8,132.2 460.4,130.8 460.2,129.4 460.2,128.1 460.2,126.7 460.3,125.3 460.5,124.0 460.7,122.6 460.9,121.2 461.1,119.9 461.3,118.5 461.5,117.1 461.8,115.8 462.0,114.4 462.3,113.0 462.5,111.7 462.8,110.3 463.0,108.9 463.2,107.6 463.4,106.2 463.7,104.8 464.0,103.4 464.7,102.1 465.5,100.7 466.4,99.3 467.4,98.0 468.5,96.6 469.9,95.2 471.4,93.9 473.0,92.5 474.8,91.1 476.6,89.8 478.2,88.4 479.9,87.0 481.5,85.7 482.7,84.3 483.3,82.9 483.8,81.6 484.2,80.2 484.4,78.8 484.5,77.5 484.5,76.1 484.4,74.7 484.3,73.4 484.2,72.0 484.1,70.6 484.0,69.3 484.0,67.9 484.0,66.5 484.1,65.2 484.2,63.8 484.2,62.4 484.3,61.1 484.4,59.7 484.5,58.3 484.5,57.0 484.6,55.6 484.7,54.2 484.8,52.9 484.9,51.5 485.1,50.1 485.3,48.8 485.6,47.4 485.9,46.0 486.2,44.7 486.8,43.3 487.4,41.9 488.2,40.6 489.1,39.2 490.0,37.8 491.0,36.5 492.2,35.1 493.4,33.7 494.6,32.4 495.9,31.0 497.3,29.6 498.7,28.3 500.2,26.9 501.7,25.5 503.1,24.2 504.1,22.8 505.0,21.4 505.7,20.1 506.3,18.7 506.9,17.3 507.5,16.0 508.2,14.6 508.7,13.2 509.3,11.9 509.8,10.5" fill="none" stroke="#ff1010" stroke-width="2.1" stroke-linejoin="round"/>
<path d="M502.0,446.5 502.1,445.1 502.1,443.8 502.1,442.4 501.8,441.0 501.4,439.6 501.0,438.3 500.5,436.9 499.9,435.5 499.3,434.1 498.4,432.8 497.4,431.4 495.7,430.0 493.5,428.6 491.2,427.3 488.6,425.9 485.9,424.5 484.2,423.1 483.5,421.8 483.0,420.4 482.6,419.0 481.8,417.6 480.8,416.3 479.7,414.9 478.4,413.5 477.1,412.1 475.9,410.8 474.6,409.4 473.2,408.0 471.9,406.7 470.7,405.3 469.6,403.9 468.7,402.5 467.9,401.2 467.1,399.8 466.5,398.4 466.0,397.0 465.9,395.7 466.0,394.3 466.2,392.9 466.5,391.5 467.4,390.2 468.8,388.8 469.8,387.4 470.0,386.0 470.0,384.7 470.0,383.3 470.0,381.9 470.0,380.5 470.0,379.2 469.9,377.8 469.3,376.4 468.5,375.0 467.6,373.7 466.7,372.3 465.6,370.9 464.4,369.6 463.6,368.2 463.6,366.8 464.0,365.4 464.7,364.1 465.2,362.7 465.9,361.3 466.5,359.9 467.3,358.6 468.0,357.2 468.7,355.8 469.5,354.4 470.3,353.1 471.1,351.7 471.9,350.3 472.7,348.9 473.4,347.6 474.2,346.2 475.0,344.8 476.0,343.4 477.0,342.1 478.0,340.7 479.3,339.3 480.7,337.9 482.1,336.6 483.3,335.2 484.3,333.8 485.1,332.4 485.9,331.1 486.6,329.7 487.3,328.3 487.9,327.0 488.6,325.6 489.2,324.2 489.7,322.8 490.0,321.5 489.7,320.1 489.0,318.7 488.0,317.3 487.0,316.0 486.4,314.6 486.5,313.2 486.8,311.8 487.1,310.5 487.4,309.1 487.2,307.7 486.9,306.3 486.5,305.0 486.4,303.6 486.4,302.2 486.4,300.8 486.4,299.5 486.4,298.1 486.4,296.7 486.7,295.3 487.2,294.0 487.9,292.6 488.3,291.2 488.2,289.9 487.4,288.5 486.4,287.1 485.5,285.7 485.3,284.4 485.6,283.0 486.2,281.6 487.0,280.2 487.8,278.9 488.7,277.5 489.7,276.1 490.9,274.7 492.1,273.4 493.5,272.0 495.0,270.6 496.5,269.2 498.5,267.9 500.8,266.5 502.8,265.1 504.0,263.7 504.9,262.4 505.5,261.0 505.5,259.6 505.3,258.2 504.6,256.9 503.6,255.5" fill="none" stroke="#ff1010" stroke-width="2.1" stroke-linejoin="round"/>
<text x="480.70" y="23.58" font-size="13.6" text-anchor="middle" fill="#1aa352" font-weight="normal" >AC</text>
<text x="498.00" y="73.88" font-size="13.6" text-anchor="middle" fill="#ff2020" font-weight="normal" >AA</text>
<text x="480.30" y="131.98" font-size="13.6" text-anchor="middle" fill="#3a3af5" font-weight="normal" >AB</text>
<text x="474.70" y="185.38" font-size="13.6" text-anchor="middle" fill="#1aa352" font-weight="normal" >AC</text>
<text x="479.50" y="267.88" font-size="13.6" text-anchor="middle" fill="#1aa352" font-weight="normal" >AC</text>
<text x="500.50" y="318.38" font-size="13.6" text-anchor="middle" fill="#ff2020" font-weight="normal" >AA</text>
<text x="487.10" y="379.28" font-size="13.6" text-anchor="middle" fill="#3a3af5" font-weight="normal" >AB</text>
<text x="479.20" y="444.88" font-size="13.6" text-anchor="middle" fill="#1aa352" font-weight="normal" >AC</text>
<rect x="524.50" y="10.50" width="99.00" height="190.00" fill="none" stroke="#000" stroke-width="1.0"/>
<line x1="524.50" y1="200.50" x2="524.50" y2="204.50" stroke="#000" stroke-width="1.0"/>
<line x1="541.50" y1="200.50" x2="541.50" y2="204.50" stroke="#000" stroke-width="1.0"/>
<line x1="557.50" y1="200.50" x2="557.50" y2="204.50" stroke="#000" stroke-width="1.0"/>
<line x1="574.50" y1="200.50" x2="574.50" y2="204.50" stroke="#000" stroke-width="1.0"/>
<line x1="590.50" y1="200.50" x2="590.50" y2="204.50" stroke="#000" stroke-width="1.0"/>
<line x1="607.50" y1="200.50" x2="607.50" y2="204.50" stroke="#000" stroke-width="1.0"/>
<line x1="623.50" y1="200.50" x2="623.50" y2="204.50" stroke="#000" stroke-width="1.0"/>
<text x="541.00" y="220.85" font-size="10.6" text-anchor="middle" fill="#000" font-weight="normal" >-200</text>
<text x="574.00" y="220.85" font-size="10.6" text-anchor="middle" fill="#000" font-weight="normal" >0</text>
<text x="607.00" y="220.85" font-size="10.6" text-anchor="middle" fill="#000" font-weight="normal" >200</text>
<text x="574.00" y="235.94" font-size="12.9" text-anchor="middle" fill="#000" font-weight="normal" >V (mV)</text>
<rect x="524.50" y="255.50" width="98.00" height="190.00" fill="none" stroke="#000" stroke-width="1.0"/>
<line x1="524.50" y1="445.50" x2="524.50" y2="449.50" stroke="#000" stroke-width="1.0"/>
<line x1="540.50" y1="445.50" x2="540.50" y2="449.50" stroke="#000" stroke-width="1.0"/>
<line x1="557.50" y1="445.50" x2="557.50" y2="449.50" stroke="#000" stroke-width="1.0"/>
<line x1="573.50" y1="445.50" x2="573.50" y2="449.50" stroke="#000" stroke-width="1.0"/>
<line x1="589.50" y1="445.50" x2="589.50" y2="449.50" stroke="#000" stroke-width="1.0"/>
<line x1="606.50" y1="445.50" x2="606.50" y2="449.50" stroke="#000" stroke-width="1.0"/>
<line x1="622.50" y1="445.50" x2="622.50" y2="449.50" stroke="#000" stroke-width="1.0"/>
<text x="540.83" y="465.85" font-size="10.6" text-anchor="middle" fill="#000" font-weight="normal" >-200</text>
<text x="573.50" y="465.85" font-size="10.6" text-anchor="middle" fill="#000" font-weight="normal" >0</text>
<text x="606.17" y="465.85" font-size="10.6" text-anchor="middle" fill="#000" font-weight="normal" >200</text>
<text x="579.80" y="485.94" font-size="12.9" text-anchor="middle" fill="#000" font-weight="normal" >V (mV)</text>
<rect x="629.50" y="136.50" width="9.00" height="64.00" fill="url(#cmap)" stroke="#000" stroke-width="1.0"/>
<line x1="638.50" y1="200.50" x2="644.00" y2="200.50" stroke="#000" stroke-width="1.0"/>
<text x="647.50" y="203.94" font-size="10.0" text-anchor="start" fill="#000" font-weight="normal" >0</text>
<line x1="638.50" y1="184.50" x2="644.00" y2="184.50" stroke="#000" stroke-width="1.0"/>
<text x="647.50" y="187.94" font-size="10.0" text-anchor="start" fill="#000" font-weight="normal" >0.5</text>
<line x1="638.50" y1="168.50" x2="644.00" y2="168.50" stroke="#000" stroke-width="1.0"/>
<text x="647.50" y="171.94" font-size="10.0" text-anchor="start" fill="#000" font-weight="normal" >1.0</text>
<line x1="638.50" y1="152.50" x2="644.00" y2="152.50" stroke="#000" stroke-width="1.0"/>
<text x="647.50" y="155.94" font-size="10.0" text-anchor="start" fill="#000" font-weight="normal" >1.5</text>
<line x1="638.50" y1="136.50" x2="644.00" y2="136.50" stroke="#000" stroke-width="1.0"/>
<text x="647.50" y="139.94" font-size="10.0" text-anchor="start" fill="#000" font-weight="normal" >2.0</text>
<text x="0" y="0" font-size="10.5" text-anchor="middle" transform="translate(670.99,169.50) rotate(90)">dI/dV (arb. unit)</text>
<rect x="632.50" y="377.50" width="9.00" height="65.00" fill="url(#cmap)" stroke="#000" stroke-width="1.0"/>
<line x1="641.50" y1="442.50" x2="647.00" y2="442.50" stroke="#000" stroke-width="1.0"/>
<text x="650.50" y="445.94" font-size="10.0" text-anchor="start" fill="#000" font-weight="normal" >0.0</text>
<line x1="641.50" y1="426.50" x2="647.00" y2="426.50" stroke="#000" stroke-width="1.0"/>
<text x="650.50" y="429.69" font-size="10.0" text-anchor="start" fill="#000" font-weight="normal" >0.5</text>
<line x1="641.50" y1="410.50" x2="647.00" y2="410.50" stroke="#000" stroke-width="1.0"/>
<text x="650.50" y="413.44" font-size="10.0" text-anchor="start" fill="#000" font-weight="normal" >1.0</text>
<line x1="641.50" y1="393.50" x2="647.00" y2="393.50" stroke="#000" stroke-width="1.0"/>
<text x="650.50" y="397.19" font-size="10.0" text-anchor="start" fill="#000" font-weight="normal" >1.5</text>
<line x1="641.50" y1="377.50" x2="647.00" y2="377.50" stroke="#000" stroke-width="1.0"/>
<text x="650.50" y="380.94" font-size="10.0" text-anchor="start" fill="#000" font-weight="normal" >2.0</text>
<text x="0" y="0" font-size="10.5" text-anchor="middle" transform="translate(674.39,411.00) rotate(90)">dI/dV (arb. unit)</text>
</svg></body></html>
